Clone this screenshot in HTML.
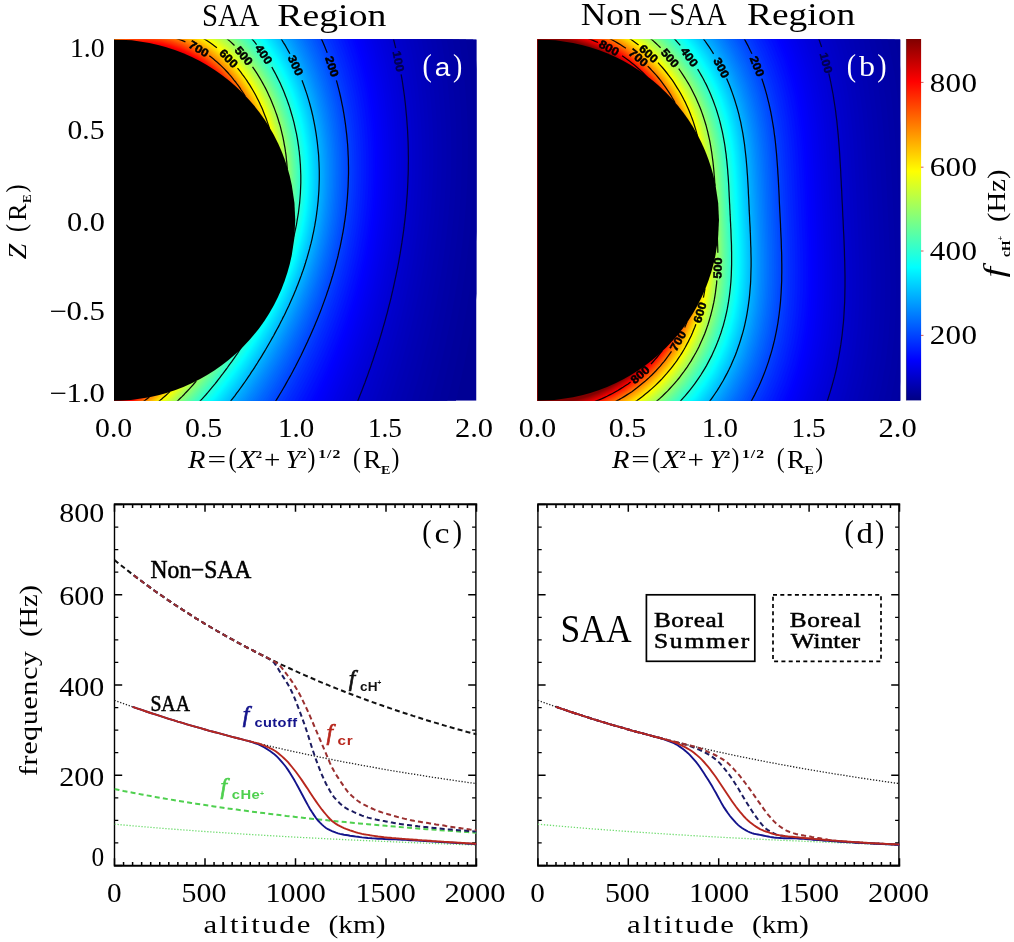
<!DOCTYPE html>
<html lang="en"><head><meta charset="utf-8"><title>Figure</title><style>html,body{margin:0;padding:0;background:#fff}svg{display:block}text{white-space:pre}</style></head><body>
<svg width="1014" height="942" viewBox="0 0 1014 942" style="display:block">
<rect width="1014" height="942" fill="#fff"/>
<defs><linearGradient id="cb" x1="0" y1="0" x2="0" y2="1">
<stop offset="0.0000" stop-color="#800000"/>
<stop offset="0.1173" stop-color="#ff0000"/>
<stop offset="0.3658" stop-color="#ffff00"/>
<stop offset="0.6320" stop-color="#00ffff"/>
<stop offset="0.8882" stop-color="#0000ff"/>
<stop offset="1.0000" stop-color="#000083"/>
</linearGradient></defs>
<clipPath id="ca"><rect x="114.0" y="39.5" width="362.50" height="361.25"/></clipPath>
<g clip-path="url(#ca)">
<rect x="114.0" y="39.5" width="362.50" height="361.25" fill="#000095"/>
<polygon points="114.0,654.8 137.5,666.2 162.0,674.9 187.2,680.7 212.7,683.1 238.2,681.9 263.0,677.1 286.8,668.7 309.2,657.0 329.9,642.4 348.8,625.4 365.8,606.5 381.0,586.3 394.3,565.1 406.1,543.4 416.4,521.5 425.5,499.6 433.5,477.9 440.5,456.5 446.8,435.5 452.4,414.9 457.5,394.5 462.1,374.6 466.2,354.9 470.0,335.4 473.4,316.1 476.5,296.9 479.3,277.8 481.7,258.6 483.8,239.4 485.5,220.1 486.9,200.7 487.9,181.0 488.4,161.0 488.5,140.8 488.1,120.2 487.1,99.3 485.5,78.0 483.3,56.3 480.3,34.1 476.5,11.6 471.7,-11.4 465.9,-34.7 459.0,-58.3 450.7,-82.0 441.1,-105.8 429.8,-129.4 416.9,-152.6 402.1,-175.1 385.4,-196.4 366.7,-216.1 346.1,-233.7 323.5,-248.7 299.1,-260.5 273.3,-268.6 246.5,-272.5 218.9,-271.9 191.4,-266.8 164.3,-257.1 138.4,-243.2 114.0,-225.6 109,-225.6 109,654.8" fill="#000099"/>
<polygon points="114.0,647.2 137.0,657.8 161.0,665.9 185.7,671.1 210.6,673.0 235.4,671.5 259.5,666.4 282.7,658.0 304.4,646.4 324.6,632.0 343.0,615.3 359.5,596.9 374.3,577.2 387.4,556.5 398.9,535.4 409.0,514.1 418.0,492.9 425.9,471.8 432.9,451.0 439.1,430.5 444.8,410.4 449.8,390.7 454.4,371.2 458.6,352.0 462.4,332.9 465.9,314.1 469.0,295.3 471.8,276.6 474.2,257.9 476.3,239.0 478.1,220.1 479.5,201.0 480.5,181.7 481.0,162.2 481.1,142.4 480.7,122.2 479.8,101.7 478.2,80.8 476.0,59.5 473.0,37.8 469.2,15.7 464.5,-6.7 458.8,-29.5 451.9,-52.6 443.8,-75.8 434.2,-99.0 423.2,-122.1 410.4,-144.7 395.9,-166.6 379.5,-187.4 361.2,-206.6 341.0,-223.8 318.9,-238.4 295.1,-249.9 269.8,-257.8 243.5,-261.7 216.7,-261.2 189.7,-256.3 163.3,-247.0 137.9,-233.6 114.0,-216.6 109,-216.6 109,647.2" fill="#00009c"/>
<polygon points="114.0,640.0 136.6,650.0 160.1,657.6 184.3,662.3 208.6,663.8 232.8,661.9 256.3,656.6 278.9,648.1 300.1,636.6 319.7,622.4 337.6,606.1 353.8,588.0 368.2,568.8 381.0,548.7 392.3,528.1 402.3,507.4 411.1,486.7 418.9,466.2 425.8,445.9 432.1,426.0 437.7,406.4 442.8,387.1 447.4,368.0 451.6,349.3 455.4,330.7 458.9,312.2 462.0,293.8 464.8,275.5 467.3,257.1 469.4,238.7 471.2,220.1 472.6,201.4 473.6,182.5 474.2,163.3 474.3,143.8 473.9,124.0 473.0,103.9 471.4,83.4 469.2,62.5 466.3,41.3 462.5,19.6 457.8,-2.4 452.2,-24.7 445.4,-47.3 437.3,-70.0 427.9,-92.7 417.0,-115.3 404.5,-137.4 390.2,-158.7 374.1,-179.0 356.1,-197.8 336.3,-214.6 314.6,-228.9 291.3,-240.1 266.6,-247.9 240.9,-251.7 214.6,-251.3 188.2,-246.6 162.3,-237.7 137.4,-224.7 114.0,-208.3 109,-208.3 109,640.0" fill="#00009f"/>
<polygon points="114.0,633.4 136.2,642.8 159.3,649.8 183.0,654.0 206.8,655.1 230.4,653.0 253.4,647.6 275.3,639.0 296.0,627.5 315.2,613.6 332.6,597.5 348.4,579.8 362.5,561.0 375.1,541.4 386.2,521.3 396.0,501.1 404.7,480.9 412.4,460.9 419.3,441.2 425.5,421.7 431.1,402.6 436.2,383.7 440.8,365.1 445.1,346.8 448.9,328.6 452.4,310.5 455.6,292.5 458.4,274.5 460.9,256.5 463.0,238.4 464.8,220.1 466.2,201.7 467.3,183.1 467.8,164.3 468.0,145.1 467.6,125.7 466.7,105.9 465.1,85.8 462.9,65.3 460.0,44.4 456.3,23.2 451.6,1.6 446.0,-20.3 439.3,-42.4 431.4,-64.6 422.1,-86.9 411.3,-108.9 399.0,-130.6 384.9,-151.5 369.1,-171.3 351.4,-189.7 331.9,-206.1 310.6,-220.0 287.8,-231.1 263.6,-238.7 238.4,-242.5 212.6,-242.2 186.8,-237.7 161.4,-229.0 137.0,-216.5 114.0,-200.6 109,-200.6 109,633.4" fill="#0000a3"/>
<polygon points="114.0,627.2 135.9,636.1 158.6,642.6 181.7,646.4 205.1,647.1 228.2,644.7 250.6,639.1 272.1,630.5 292.3,619.1 311.0,605.4 328.0,589.6 343.5,572.2 357.3,553.8 369.6,534.6 380.5,515.1 390.1,495.3 398.7,475.6 406.4,456.1 413.3,436.8 419.4,417.8 425.0,399.1 430.1,380.6 434.8,362.4 439.0,344.4 442.9,326.6 446.4,308.9 449.5,291.2 452.4,273.5 454.9,255.8 457.1,238.0 458.9,220.1 460.3,202.0 461.3,183.7 461.9,165.2 462.1,146.4 461.7,127.3 460.8,107.8 459.2,88.1 457.1,67.9 454.2,47.4 450.5,26.5 445.9,5.3 440.3,-16.1 433.6,-37.8 425.8,-59.6 416.6,-81.4 406.0,-103.0 393.8,-124.2 380.0,-144.7 364.4,-164.1 347.0,-182.1 327.9,-198.1 307.0,-211.8 284.5,-222.6 260.8,-230.1 236.1,-233.9 210.8,-233.7 185.4,-229.4 160.5,-221.0 136.6,-208.9 114.0,-193.4 109,-193.4 109,627.2" fill="#0000a6"/>
<polygon points="114.0,621.4 135.5,629.8 157.8,635.9 180.6,639.2 203.5,639.7 226.1,637.0 248.1,631.3 269.0,622.6 288.8,611.3 307.0,597.7 323.7,582.2 338.8,565.2 352.4,547.1 364.4,528.3 375.2,509.2 384.7,489.9 393.2,470.7 400.8,451.6 407.6,432.7 413.8,414.1 419.3,395.8 424.4,377.7 429.1,359.9 433.3,342.3 437.2,324.8 440.7,307.4 443.9,290.0 446.8,272.7 449.3,255.2 451.5,237.8 453.3,220.1 454.8,202.3 455.8,184.3 456.4,166.1 456.5,147.6 456.2,128.8 455.3,109.6 453.7,90.2 451.6,70.3 448.7,50.2 445.0,29.7 440.5,8.8 435.0,-12.3 428.4,-33.6 420.6,-55.0 411.5,-76.4 401.0,-97.5 389.0,-118.3 375.4,-138.4 360.0,-157.4 342.9,-175.0 324.1,-190.7 303.5,-204.1 281.5,-214.7 258.2,-222.1 233.9,-225.8 209.1,-225.7 184.2,-221.6 159.7,-213.5 136.2,-201.7 114.0,-186.7 109,-186.7 109,621.4" fill="#0000a9"/>
<polygon points="114.0,615.9 135.2,623.9 157.2,629.5 179.5,632.5 202.0,632.6 224.1,629.8 245.7,623.9 266.2,615.3 285.5,604.0 303.4,590.5 319.7,575.2 334.5,558.5 347.8,540.8 359.7,522.5 370.2,503.7 379.6,484.8 388.0,466.0 395.6,447.3 402.3,428.9 408.4,410.7 414.0,392.7 419.1,375.0 423.7,357.6 428.0,340.2 431.9,323.1 435.4,306.0 438.6,288.9 441.5,271.8 444.1,254.7 446.3,237.5 448.1,220.1 449.5,202.6 450.6,184.9 451.2,166.9 451.3,148.7 451.0,130.1 450.1,111.3 448.6,92.1 446.4,72.6 443.6,52.8 439.9,32.6 435.4,12.1 429.9,-8.6 423.4,-29.6 415.7,-50.6 406.7,-71.6 396.4,-92.4 384.5,-112.8 371.0,-132.4 355.9,-151.1 339.1,-168.4 320.5,-183.8 300.3,-196.9 278.7,-207.4 255.7,-214.6 231.9,-218.3 207.5,-218.2 183.0,-214.3 159.0,-206.4 135.8,-195.0 114.0,-180.4 109,-180.4 109,615.9" fill="#0000ad"/>
<polygon points="114.0,610.8 134.9,618.3 156.6,623.6 178.5,626.2 200.6,626.1 222.3,623.0 243.4,617.0 263.5,608.3 282.4,597.1 300.0,583.8 316.0,568.7 330.5,552.3 343.5,534.9 355.2,516.9 365.6,498.6 374.9,480.1 383.2,461.7 390.6,443.4 397.4,425.3 403.5,407.5 409.0,389.9 414.1,372.5 418.7,355.3 423.0,338.3 426.9,321.4 430.5,304.6 433.7,287.8 436.6,271.0 439.1,254.2 441.3,237.2 443.2,220.1 444.6,202.9 445.7,185.4 446.3,167.7 446.5,149.7 446.1,131.4 445.2,112.9 443.7,94.0 441.6,74.8 438.7,55.2 435.1,35.4 430.6,15.2 425.2,-5.2 418.7,-25.8 411.1,-46.5 402.2,-67.1 392.0,-87.5 380.3,-107.6 367.0,-126.9 352.1,-145.2 335.5,-162.1 317.2,-177.3 297.3,-190.2 276.0,-200.4 253.4,-207.6 230.0,-211.2 206.0,-211.2 181.9,-207.4 158.3,-199.8 135.5,-188.7 114.0,-174.5 109,-174.5 109,610.8" fill="#0000b0"/>
<polygon points="114.0,605.9 134.7,613.1 156.0,617.9 177.6,620.3 199.3,619.8 220.6,616.6 241.3,610.5 261.0,601.8 279.6,590.7 296.7,577.5 312.4,562.6 326.7,546.5 339.5,529.4 351.0,511.7 361.2,493.7 370.4,475.6 378.6,457.6 386.0,439.6 392.7,421.9 398.8,404.4 404.3,387.1 409.4,370.1 414.0,353.2 418.3,336.5 422.2,319.9 425.8,303.4 429.0,286.9 431.9,270.3 434.5,253.7 436.7,237.0 438.5,220.1 440.0,203.1 441.1,185.9 441.7,168.4 441.8,150.7 441.5,132.7 440.6,114.4 439.1,95.7 437.0,76.8 434.2,57.5 430.6,38.0 426.1,18.1 420.7,-2.0 414.3,-22.2 406.8,-42.6 398.0,-62.9 387.9,-83.0 376.3,-102.6 363.1,-121.6 348.4,-139.6 332.0,-156.2 314.0,-171.1 294.5,-183.8 273.5,-193.9 251.3,-200.9 228.2,-204.6 204.6,-204.6 180.9,-200.9 157.6,-193.6 135.2,-182.8 114.0,-168.9 109,-168.9 109,605.9" fill="#0000b3"/>
<polygon points="114.0,601.3 134.4,608.1 155.4,612.6 176.7,614.6 198.0,614.0 219.0,610.5 239.3,604.4 258.6,595.6 276.8,584.6 293.7,571.6 309.1,556.9 323.1,541.0 335.7,524.2 347.0,506.8 357.1,489.2 366.2,471.4 374.3,453.7 381.6,436.1 388.3,418.7 394.3,401.5 399.8,384.6 404.9,367.8 409.6,351.3 413.8,334.8 417.8,318.5 421.3,302.2 424.6,285.9 427.5,269.6 430.1,253.2 432.3,236.7 434.2,220.1 435.6,203.3 436.7,186.3 437.3,169.1 437.5,151.6 437.2,133.8 436.3,115.8 434.8,97.4 432.7,78.7 429.9,59.7 426.3,40.4 421.9,20.9 416.5,1.1 410.2,-18.9 402.7,-38.9 394.0,-58.9 383.9,-78.6 372.5,-98.0 359.5,-116.7 345.0,-134.3 328.8,-150.7 311.1,-165.3 291.8,-177.8 271.1,-187.7 249.2,-194.7 226.5,-198.3 203.3,-198.4 179.9,-194.8 157.0,-187.7 134.9,-177.1 114.0,-163.6 109,-163.6 109,601.3" fill="#0000b6"/>
<polygon points="114.0,596.9 134.2,603.4 154.9,607.6 175.9,609.3 196.8,608.4 217.4,604.8 237.4,598.6 256.4,589.8 274.3,578.8 290.8,565.9 306.0,551.5 319.7,535.8 332.1,519.3 343.2,502.2 353.2,484.9 362.2,467.4 370.2,450.0 377.5,432.8 384.1,415.7 390.1,398.8 395.6,382.2 400.7,365.7 405.3,349.4 409.6,333.2 413.5,317.1 417.1,301.1 420.4,285.0 423.3,268.9 425.9,252.8 428.1,236.5 430.0,220.1 431.5,203.5 432.5,186.8 433.2,169.7 433.4,152.5 433.0,134.9 432.2,117.1 430.7,99.0 428.6,80.5 425.8,61.8 422.2,42.8 417.9,23.5 412.5,4.0 406.2,-15.7 398.8,-35.4 390.2,-55.1 380.2,-74.6 368.9,-93.6 356.1,-112.0 341.7,-129.3 325.8,-145.4 308.3,-159.8 289.2,-172.1 268.8,-181.9 247.3,-188.7 224.9,-192.3 202.0,-192.5 179.0,-189.0 156.4,-182.1 134.6,-171.8 114.0,-158.6 109,-158.6 109,596.9" fill="#0000ba"/>
<polygon points="114.0,592.8 133.9,598.9 154.4,602.8 175.0,604.2 195.7,603.1 216.0,599.4 235.6,593.1 254.3,584.3 271.8,573.4 288.1,560.6 303.0,546.3 316.5,530.9 328.7,514.6 339.7,497.8 349.5,480.8 358.4,463.7 366.4,446.6 373.6,429.6 380.1,412.8 386.1,396.2 391.6,379.9 396.7,363.7 401.3,347.6 405.6,331.7 409.6,315.8 413.1,300.0 416.4,284.2 419.3,268.3 421.9,252.4 424.2,236.3 426.0,220.1 427.5,203.8 428.6,187.2 429.2,170.4 429.4,153.3 429.1,136.0 428.2,118.4 426.8,100.5 424.7,82.3 421.9,63.8 418.4,45.0 414.0,26.0 408.7,6.7 402.5,-12.7 395.1,-32.1 386.6,-51.5 376.7,-70.7 365.5,-89.4 352.8,-107.5 338.7,-124.6 322.9,-140.4 305.6,-154.6 286.8,-166.7 266.7,-176.3 245.5,-183.1 223.4,-186.7 200.8,-186.9 178.2,-183.5 155.9,-176.8 134.3,-166.7 114.0,-153.8 109,-153.8 109,592.8" fill="#0000bd"/>
<polygon points="114.0,588.8 133.7,594.6 153.9,598.2 174.3,599.4 194.6,598.1 214.6,594.2 233.9,587.8 252.3,579.1 269.5,568.2 285.5,555.5 300.1,541.4 313.5,526.2 325.5,510.2 336.3,493.7 346.0,476.9 354.8,460.1 362.7,443.3 369.9,426.6 376.4,410.1 382.4,393.8 387.8,377.7 392.9,361.7 397.5,345.9 401.8,330.2 405.8,314.6 409.4,299.0 412.6,283.4 415.6,267.7 418.2,252.0 420.4,236.1 422.3,220.1 423.8,203.9 424.9,187.6 425.5,171.0 425.7,154.1 425.4,137.0 424.5,119.6 423.1,101.9 421.0,83.9 418.2,65.6 414.7,47.1 410.4,28.3 405.1,9.3 398.9,-9.8 391.6,-29.0 383.1,-48.1 373.4,-67.0 362.3,-85.4 349.8,-103.2 335.7,-120.1 320.1,-135.7 303.1,-149.7 284.5,-161.6 264.7,-171.1 243.7,-177.7 221.9,-181.3 199.7,-181.5 177.3,-178.3 155.3,-171.7 134.1,-161.9 114.0,-149.3 109,-149.3 109,588.8" fill="#0000c0"/>
<polygon points="114.0,585.0 133.5,590.5 153.4,593.8 173.6,594.8 193.6,593.4 213.3,589.3 232.3,582.9 250.3,574.1 267.3,563.3 283.0,550.7 297.4,536.8 310.6,521.8 322.4,506.0 333.1,489.7 342.7,473.3 351.4,456.7 359.2,440.2 366.3,423.8 372.8,407.5 378.8,391.5 384.2,375.6 389.3,359.9 393.9,344.3 398.2,328.8 402.1,313.4 405.7,298.0 409.0,282.6 412.0,267.2 414.6,251.6 416.8,235.9 418.7,220.1 420.2,204.1 421.3,187.9 421.9,171.5 422.1,154.9 421.8,137.9 420.9,120.7 419.5,103.3 417.5,85.5 414.7,67.4 411.2,49.1 406.9,30.6 401.7,11.8 395.5,-7.1 388.3,-26.0 379.9,-44.8 370.2,-63.4 359.2,-81.7 346.8,-99.2 332.9,-115.8 317.5,-131.2 300.6,-144.9 282.3,-156.7 262.7,-166.0 242.1,-172.6 220.6,-176.2 198.6,-176.5 176.5,-173.3 154.8,-166.9 133.8,-157.3 114.0,-144.9 109,-144.9 109,585.0" fill="#0000c4"/>
<polygon points="114.0,581.4 133.3,586.6 153.0,589.7 172.9,590.5 192.6,588.8 212.0,584.7 230.7,578.1 248.5,569.4 265.2,558.6 280.7,546.1 294.9,532.3 307.8,517.5 319.5,502.0 330.0,486.0 339.5,469.7 348.1,453.4 355.9,437.2 363.0,421.0 369.4,405.1 375.3,389.3 380.8,373.6 385.8,358.1 390.5,342.8 394.7,327.5 398.7,312.3 402.3,297.1 405.6,281.9 408.5,266.6 411.1,251.2 413.4,235.8 415.3,220.1 416.8,204.3 417.9,188.3 418.5,172.1 418.7,155.6 418.4,138.8 417.6,121.8 416.1,104.5 414.1,87.0 411.3,69.1 407.9,51.0 403.6,32.7 398.4,14.2 392.3,-4.4 385.1,-23.1 376.7,-41.7 367.2,-60.1 356.3,-78.0 344.0,-95.3 330.3,-111.7 315.0,-126.9 298.3,-140.4 280.3,-152.0 260.9,-161.2 240.5,-167.8 219.2,-171.3 197.6,-171.6 175.8,-168.6 154.3,-162.3 133.6,-152.9 114.0,-140.8 109,-140.8 109,581.4" fill="#0000c7"/>
<polygon points="114.0,577.9 133.1,582.9 152.6,585.7 172.2,586.3 191.7,584.4 210.8,580.2 229.2,573.6 246.8,564.8 263.2,554.1 278.5,541.8 292.4,528.1 305.2,513.5 316.7,498.2 327.1,482.4 336.5,466.4 345.0,450.3 352.7,434.3 359.7,418.4 366.2,402.7 372.1,387.1 377.5,371.7 382.5,356.5 387.1,341.3 391.4,326.3 395.4,311.2 399.0,296.2 402.3,281.2 405.2,266.1 407.8,250.9 410.1,235.6 412.0,220.1 413.5,204.5 414.6,188.6 415.3,172.6 415.4,156.3 415.1,139.7 414.3,122.9 412.9,105.8 410.8,88.4 408.1,70.8 404.7,52.9 400.4,34.8 395.3,16.5 389.2,-1.9 382.0,-20.4 373.8,-38.7 364.3,-56.9 353.5,-74.6 341.3,-91.7 327.7,-107.8 312.6,-122.8 296.1,-136.1 278.3,-147.6 259.1,-156.7 239.0,-163.1 218.0,-166.6 196.6,-167.0 175.1,-164.1 153.9,-157.9 133.4,-148.7 114.0,-136.8 109,-136.8 109,577.9" fill="#0000ca"/>
<polygon points="114.0,574.6 132.9,579.3 152.2,581.9 171.6,582.3 190.8,580.3 209.7,575.9 227.8,569.3 245.1,560.5 261.3,549.8 276.3,537.6 290.1,524.1 302.7,509.6 314.0,494.5 324.3,479.0 333.6,463.2 342.0,447.4 349.7,431.6 356.7,416.0 363.1,400.4 368.9,385.1 374.3,369.9 379.4,354.9 384.0,339.9 388.3,325.0 392.2,310.2 395.8,295.4 399.1,280.5 402.1,265.6 404.7,250.6 407.0,235.4 408.9,220.1 410.4,204.6 411.5,189.0 412.1,173.1 412.3,156.9 412.0,140.5 411.2,123.9 409.8,107.0 407.7,89.8 405.0,72.3 401.6,54.7 397.4,36.7 392.3,18.7 386.2,0.5 379.1,-17.8 370.9,-35.9 361.5,-53.8 350.8,-71.3 338.7,-88.1 325.3,-104.1 310.4,-118.8 294.0,-132.0 276.4,-143.3 257.5,-152.3 237.5,-158.7 216.8,-162.2 195.6,-162.5 174.4,-159.7 153.4,-153.7 133.2,-144.7 114.0,-133.1 109,-133.1 109,574.6" fill="#0000ce"/>
<polygon points="114.0,571.4 132.7,575.8 151.8,578.2 170.9,578.4 190.0,576.3 208.6,571.8 226.5,565.1 243.5,556.4 259.5,545.8 274.3,533.6 287.9,520.2 300.3,505.9 311.5,491.0 321.7,475.7 330.9,460.1 339.2,444.6 346.8,429.0 353.7,413.6 360.1,398.3 365.9,383.2 371.3,368.2 376.3,353.3 381.0,338.6 385.2,323.9 389.2,309.2 392.8,294.6 396.1,279.9 399.1,265.1 401.7,250.3 404.0,235.3 405.9,220.1 407.4,204.8 408.5,189.3 409.1,173.5 409.3,157.6 409.0,141.3 408.2,124.9 406.8,108.1 404.8,91.1 402.1,73.8 398.7,56.3 394.4,38.6 389.4,20.8 383.3,2.8 376.3,-15.2 368.2,-33.2 358.8,-50.8 348.2,-68.1 336.3,-84.8 322.9,-100.5 308.2,-115.0 292.0,-128.1 274.5,-139.2 255.8,-148.1 236.1,-154.4 215.6,-157.9 194.7,-158.3 173.7,-155.5 153.0,-149.7 133.0,-140.9 114.0,-129.4 109,-129.4 109,571.4" fill="#0000d1"/>
<polygon points="114.0,568.3 132.5,572.5 151.4,574.7 170.4,574.7 189.1,572.5 207.5,567.9 225.2,561.2 242.0,552.4 257.7,541.8 272.3,529.8 285.7,516.5 298.0,502.4 309.1,487.7 319.1,472.5 328.2,457.2 336.5,441.8 344.0,426.5 350.9,411.3 357.2,396.2 363.0,381.3 368.4,366.5 373.4,351.9 378.1,337.3 382.3,322.8 386.3,308.3 389.9,293.8 393.2,279.3 396.2,264.7 398.8,250.0 401.1,235.1 403.0,220.1 404.5,205.0 405.6,189.6 406.2,174.0 406.5,158.2 406.2,142.1 405.3,125.8 403.9,109.2 401.9,92.4 399.2,75.3 395.8,58.0 391.6,40.4 386.6,22.8 380.6,5.0 373.6,-12.8 365.5,-30.5 356.3,-48.0 345.7,-65.1 333.9,-81.5 320.7,-97.1 306.1,-111.4 290.1,-124.3 272.8,-135.3 254.3,-144.1 234.8,-150.3 214.5,-153.8 193.8,-154.2 173.1,-151.6 152.6,-145.8 132.8,-137.2 114.0,-126.0 109,-126.0 109,568.3" fill="#0000d4"/>
<polygon points="114.0,565.4 132.4,569.4 151.0,571.3 169.8,571.2 188.4,568.8 206.5,564.1 223.9,557.3 240.5,548.6 256.0,538.1 270.4,526.1 283.7,513.0 295.7,499.0 306.7,484.5 316.7,469.5 325.7,454.4 333.9,439.2 341.4,424.1 348.2,409.1 354.5,394.2 360.3,379.5 365.7,364.9 370.6,350.4 375.3,336.0 379.5,321.7 383.5,307.4 387.1,293.1 390.4,278.7 393.4,264.2 396.0,249.7 398.3,235.0 400.2,220.1 401.7,205.1 402.8,189.9 403.5,174.4 403.7,158.8 403.4,142.8 402.6,126.7 401.2,110.3 399.2,93.6 396.5,76.7 393.1,59.5 388.9,42.2 383.9,24.7 378.0,7.1 371.0,-10.5 363.0,-28.0 353.8,-45.3 343.4,-62.2 331.6,-78.4 318.5,-93.7 304.1,-107.9 288.2,-120.6 271.1,-131.5 252.8,-140.2 233.5,-146.4 213.5,-149.8 193.0,-150.3 172.5,-147.7 152.2,-142.1 132.6,-133.6 114.0,-122.6 109,-122.6 109,565.4" fill="#0000d8"/>
<polygon points="114.0,562.5 132.2,566.3 150.7,568.1 169.3,567.8 187.6,565.2 205.5,560.5 222.8,553.7 239.1,544.9 254.4,534.5 268.6,522.6 281.7,509.6 293.6,495.8 304.5,481.4 314.3,466.6 323.2,451.7 331.4,436.7 338.8,421.8 345.6,407.0 351.9,392.3 357.6,377.8 363.0,363.4 368.0,349.1 372.6,334.9 376.9,320.7 380.8,306.5 384.4,292.3 387.7,278.1 390.7,263.8 393.3,249.4 395.6,234.8 397.5,220.1 399.0,205.2 400.1,190.2 400.8,174.9 401.0,159.3 400.7,143.6 399.9,127.5 398.5,111.3 396.5,94.8 393.9,78.0 390.5,61.0 386.4,43.9 381.4,26.5 375.5,9.1 368.5,-8.3 360.6,-25.6 351.4,-42.7 341.1,-59.3 329.4,-75.4 316.5,-90.6 302.1,-104.6 286.4,-117.1 269.5,-127.9 251.4,-136.5 232.3,-142.6 212.5,-146.0 192.2,-146.5 171.9,-144.0 151.8,-138.5 132.4,-130.2 114.0,-119.4 109,-119.4 109,562.5" fill="#0000db"/>
<polygon points="114.0,559.8 132.0,563.3 150.4,565.0 168.7,564.5 186.9,561.8 204.6,557.0 221.6,550.1 237.7,541.4 252.9,531.0 266.9,519.2 279.8,506.3 291.6,492.6 302.3,478.4 312.0,463.8 320.9,449.1 329.0,434.3 336.3,419.6 343.1,405.0 349.3,390.5 355.1,376.1 360.4,361.9 365.4,347.8 370.0,333.7 374.3,319.7 378.2,305.7 381.8,291.6 385.1,277.6 388.1,263.4 390.7,249.1 393.0,234.7 394.9,220.1 396.5,205.4 397.6,190.4 398.2,175.3 398.5,159.9 398.2,144.2 397.4,128.4 396.0,112.3 394.0,95.9 391.3,79.3 388.0,62.5 383.9,45.5 378.9,28.3 373.0,11.1 366.2,-6.1 358.2,-23.3 349.2,-40.2 338.9,-56.6 327.3,-72.5 314.5,-87.5 300.3,-101.4 284.7,-113.8 267.9,-124.4 250.0,-132.9 231.1,-139.0 211.5,-142.4 191.4,-142.9 171.3,-140.5 151.5,-135.1 132.3,-126.9 114.0,-116.3 109,-116.3 109,559.8" fill="#0000de"/>
<polygon points="114.0,557.1 131.9,560.5 150.1,561.9 168.2,561.3 186.2,558.5 203.7,553.6 220.5,546.7 236.4,538.0 251.4,527.6 265.2,515.9 278.0,503.2 289.6,489.6 300.2,475.6 309.9,461.2 318.6,446.6 326.6,432.0 334.0,417.5 340.7,403.1 346.9,388.7 352.6,374.6 357.9,360.5 362.9,346.5 367.5,332.6 371.8,318.7 375.7,304.9 379.3,291.0 382.6,277.0 385.6,263.0 388.3,248.9 390.5,234.6 392.4,220.1 394.0,205.5 395.1,190.7 395.8,175.7 396.0,160.4 395.7,144.9 394.9,129.2 393.5,113.2 391.5,97.0 388.9,80.5 385.6,63.9 381.5,47.0 376.5,30.1 370.7,13.0 363.8,-4.1 356.0,-21.0 347.0,-37.7 336.8,-54.0 325.3,-69.7 312.5,-84.6 298.5,-98.3 283.1,-110.5 266.4,-121.0 248.7,-129.5 229.9,-135.5 210.5,-138.9 190.7,-139.4 170.8,-137.0 151.1,-131.8 132.1,-123.7 114.0,-113.3 109,-113.3 109,557.1" fill="#0000e2"/>
<polygon points="114.0,554.5 131.8,557.7 149.7,559.0 167.7,558.2 185.5,555.4 202.8,550.4 219.4,543.5 235.2,534.7 249.9,524.4 263.6,512.8 276.2,500.1 287.7,486.7 298.2,472.8 307.8,458.6 316.5,444.2 324.4,429.8 331.7,415.4 338.4,401.2 344.5,387.0 350.2,373.0 355.6,359.1 360.5,345.3 365.1,331.5 369.4,317.8 373.3,304.1 376.9,290.3 380.2,276.5 383.2,262.6 385.9,248.6 388.1,234.4 390.0,220.1 391.6,205.6 392.7,190.9 393.4,176.0 393.6,160.9 393.3,145.5 392.5,129.9 391.1,114.1 389.2,98.0 386.5,81.7 383.2,65.2 379.1,48.5 374.2,31.7 368.4,14.8 361.6,-2.1 353.8,-18.8 344.9,-35.4 334.7,-51.5 323.4,-67.0 310.7,-81.7 296.7,-95.3 281.5,-107.4 265.0,-117.8 247.4,-126.1 228.8,-132.1 209.6,-135.5 190.0,-136.0 170.2,-133.7 150.8,-128.6 131.9,-120.7 114.0,-110.4 109,-110.4 109,554.5" fill="#0000e5"/>
<polygon points="114.0,552.1 131.6,555.1 149.4,556.2 167.3,555.3 184.9,552.3 202.0,547.3 218.4,540.3 234.0,531.6 248.6,521.3 262.1,509.7 274.5,497.2 285.9,483.9 296.3,470.2 305.7,456.1 314.4,441.9 322.2,427.6 329.5,413.5 336.1,399.4 342.3,385.4 348.0,371.5 353.3,357.8 358.2,344.1 362.8,330.5 367.0,316.9 371.0,303.3 374.6,289.7 377.9,276.0 380.9,262.3 383.5,248.4 385.8,234.3 387.7,220.1 389.3,205.7 390.4,191.2 391.0,176.4 391.3,161.4 391.0,146.2 390.2,130.7 388.8,115.0 386.9,99.1 384.3,82.9 381.0,66.5 376.9,50.0 372.0,33.3 366.2,16.6 359.5,-0.1 351.7,-16.7 342.8,-33.1 332.8,-49.1 321.5,-64.4 308.9,-79.0 295.0,-92.4 279.9,-104.4 263.6,-114.7 246.1,-122.9 227.8,-128.9 208.7,-132.2 189.3,-132.8 169.7,-130.5 150.4,-125.5 131.8,-117.7 114.0,-107.6 109,-107.6 109,552.1" fill="#0000e8"/>
<polygon points="114.0,549.7 131.5,552.5 149.2,553.5 166.8,552.4 184.2,549.3 201.1,544.3 217.4,537.2 232.8,528.5 247.2,518.3 260.6,506.8 272.9,494.4 284.2,481.2 294.4,467.6 303.8,453.7 312.3,439.6 320.2,425.6 327.3,411.5 333.9,397.6 340.1,383.8 345.7,370.1 351.0,356.5 356.0,343.0 360.5,329.5 364.8,316.1 368.7,302.6 372.4,289.1 375.7,275.6 378.6,261.9 381.3,248.1 383.6,234.2 385.5,220.1 387.0,205.9 388.1,191.4 388.8,176.7 389.0,161.9 388.8,146.8 388.0,131.4 386.6,115.8 384.7,100.0 382.1,84.0 378.8,67.8 374.7,51.4 369.8,34.9 364.1,18.3 357.4,1.7 349.7,-14.7 340.8,-30.9 330.8,-46.7 319.6,-61.9 307.2,-76.3 293.4,-89.6 278.4,-101.5 262.2,-111.6 244.9,-119.8 226.8,-125.7 207.9,-129.0 188.6,-129.6 169.2,-127.4 150.1,-122.5 131.6,-114.9 114.0,-104.9 109,-104.9 109,549.7" fill="#0000ec"/>
<polygon points="114.0,547.3 131.3,550.0 148.9,550.8 166.4,549.7 183.6,546.5 200.4,541.3 216.4,534.3 231.7,525.6 245.9,515.4 259.1,504.0 271.3,491.7 282.5,478.6 292.6,465.1 301.9,451.4 310.4,437.5 318.1,423.6 325.3,409.7 331.9,395.9 337.9,382.3 343.6,368.7 348.9,355.3 353.8,341.9 358.4,328.6 362.6,315.2 366.6,301.9 370.2,288.5 373.5,275.1 376.5,261.6 379.1,247.9 381.4,234.1 383.3,220.1 384.8,206.0 386.0,191.6 386.6,177.1 386.9,162.3 386.6,147.3 385.8,132.1 384.5,116.7 382.5,101.0 379.9,85.1 376.6,69.0 372.6,52.8 367.8,36.4 362.0,20.0 355.4,3.6 347.7,-12.7 338.9,-28.8 329.0,-44.5 317.9,-59.5 305.5,-73.7 291.9,-86.9 277.0,-98.6 260.9,-108.7 243.8,-116.8 225.8,-122.7 207.1,-126.0 188.0,-126.6 168.8,-124.5 149.8,-119.6 131.5,-112.1 114.0,-102.3 109,-102.3 109,547.3" fill="#0000ef"/>
<polygon points="114.0,545.1 131.2,547.6 148.6,548.3 165.9,547.0 183.0,543.7 199.6,538.5 215.5,531.4 230.6,522.7 244.7,512.6 257.7,501.3 269.8,489.0 280.8,476.1 290.9,462.8 300.1,449.1 308.5,435.4 316.2,421.6 323.3,407.9 329.8,394.3 335.9,380.8 341.5,367.4 346.8,354.1 351.7,340.8 356.3,327.6 360.5,314.4 364.5,301.2 368.1,288.0 371.4,274.6 374.4,261.2 377.0,247.7 379.3,234.0 381.2,220.1 382.7,206.1 383.9,191.9 384.5,177.4 384.8,162.8 384.5,147.9 383.7,132.8 382.4,117.5 380.4,101.9 377.9,86.1 374.6,70.2 370.6,54.1 365.7,37.9 360.0,21.6 353.4,5.3 345.8,-10.8 337.1,-26.8 327.2,-42.3 316.2,-57.2 303.9,-71.2 290.3,-84.3 275.6,-95.9 259.7,-105.9 242.7,-113.9 224.8,-119.7 206.3,-123.0 187.3,-123.7 168.3,-121.6 149.5,-116.8 131.3,-109.4 114.0,-99.7 109,-99.7 109,545.1" fill="#0000f2"/>
<polygon points="114.0,542.9 131.1,545.2 148.3,545.8 165.5,544.4 182.4,541.0 198.9,535.8 214.6,528.7 229.5,520.0 243.4,509.9 256.4,498.6 268.3,486.5 279.2,473.7 289.2,460.4 298.3,447.0 306.7,433.4 314.3,419.7 321.4,406.2 327.9,392.7 333.9,379.4 339.5,366.1 344.8,352.9 349.7,339.8 354.2,326.7 358.5,313.7 362.4,300.6 366.0,287.4 369.3,274.2 372.3,260.9 375.0,247.5 377.2,233.9 379.2,220.1 380.7,206.2 381.8,192.1 382.5,177.7 382.7,163.2 382.5,148.4 381.7,133.4 380.4,118.2 378.4,102.8 375.9,87.2 372.6,71.3 368.6,55.4 363.8,39.3 358.1,23.1 351.5,7.0 343.9,-9.0 335.3,-24.8 325.5,-40.1 314.5,-54.9 302.3,-68.8 288.9,-81.7 274.2,-93.3 258.4,-103.1 241.6,-111.1 223.9,-116.8 205.5,-120.1 186.7,-120.8 167.9,-118.8 149.2,-114.1 131.2,-106.8 114.0,-97.3 109,-97.3 109,542.9" fill="#0000f6"/>
<polygon points="114.0,540.7 131.0,543.0 148.1,543.4 165.1,541.9 181.9,538.4 198.2,533.1 213.7,526.0 228.5,517.3 242.3,507.2 255.1,496.0 266.9,484.0 277.7,471.3 287.6,458.2 296.6,444.9 304.9,431.4 312.5,417.9 319.5,404.5 326.0,391.2 332.0,378.0 337.6,364.8 342.8,351.8 347.7,338.8 352.3,325.8 356.5,312.9 360.4,299.9 364.1,286.9 367.4,273.8 370.3,260.6 373.0,247.3 375.3,233.8 377.2,220.1 378.7,206.3 379.8,192.3 380.5,178.1 380.8,163.6 380.5,149.0 379.7,134.1 378.4,119.0 376.5,103.7 373.9,88.2 370.7,72.5 366.7,56.6 361.9,40.6 356.2,24.6 349.7,8.6 342.1,-7.2 333.5,-22.8 323.8,-38.0 312.9,-52.7 300.8,-66.5 287.4,-79.3 272.9,-90.7 257.2,-100.5 240.5,-108.4 223.0,-114.1 204.7,-117.3 186.1,-118.0 167.4,-116.0 149.0,-111.4 131.1,-104.3 114.0,-94.9 109,-94.9 109,540.7" fill="#0000f9"/>
<polygon points="114.0,538.7 130.9,540.8 147.8,541.0 164.7,539.4 181.4,535.9 197.5,530.5 212.9,523.4 227.5,514.7 241.1,504.7 253.8,493.6 265.5,481.6 276.2,469.0 286.0,456.0 295.0,442.8 303.2,429.5 310.7,416.2 317.7,402.9 324.1,389.7 330.1,376.6 335.7,363.6 340.9,350.7 345.8,337.8 350.4,325.0 354.6,312.2 358.5,299.3 362.1,286.4 365.4,273.4 368.4,260.3 371.1,247.0 373.3,233.7 375.3,220.1 376.8,206.4 377.9,192.5 378.6,178.4 378.8,164.0 378.6,149.5 377.8,134.7 376.5,119.7 374.6,104.5 372.0,89.1 368.8,73.5 364.8,57.8 360.0,42.0 354.4,26.1 347.9,10.2 340.4,-5.5 331.8,-21.0 322.2,-36.0 311.3,-50.5 299.3,-64.2 286.1,-76.9 271.6,-88.2 256.1,-97.9 239.5,-105.7 222.1,-111.4 204.0,-114.6 185.6,-115.3 167.0,-113.4 148.7,-108.9 130.9,-101.8 114.0,-92.6 109,-92.6 109,538.7" fill="#0000fc"/>
<polygon points="114.0,536.7 130.7,538.6 147.6,538.8 164.4,537.1 180.8,533.5 196.8,528.0 212.1,520.9 226.5,512.2 240.0,502.2 252.6,491.2 264.1,479.3 274.7,466.8 284.5,453.9 293.4,440.8 301.5,427.7 309.0,414.5 315.9,401.3 322.3,388.3 328.3,375.3 333.9,362.4 339.1,349.6 344.0,336.9 348.5,324.2 352.7,311.4 356.7,298.7 360.3,285.9 363.6,273.0 366.6,260.0 369.2,246.9 371.5,233.6 373.4,220.1 374.9,206.5 376.1,192.7 376.7,178.7 377.0,164.4 376.7,150.0 376.0,135.3 374.6,120.4 372.7,105.3 370.2,90.0 367.0,74.6 363.0,59.0 358.3,43.3 352.7,27.5 346.2,11.8 338.7,-3.8 330.2,-19.1 320.6,-34.1 309.8,-48.5 297.9,-62.0 284.7,-74.6 270.4,-85.8 255.0,-95.4 238.5,-103.2 221.2,-108.8 203.3,-112.0 185.0,-112.7 166.6,-110.9 148.4,-106.4 130.8,-99.5 114.0,-90.3 109,-90.3 109,536.7" fill="#0001ff"/>
<polygon points="114.0,534.7 130.6,536.5 147.4,536.6 164.0,534.7 180.3,531.1 196.1,525.6 211.3,518.4 225.6,509.8 239.0,499.8 251.4,488.8 262.8,477.0 273.3,464.6 283.0,451.9 291.8,438.9 299.9,425.9 307.3,412.8 314.2,399.8 320.6,386.9 326.6,374.0 332.1,361.3 337.3,348.6 342.2,336.0 346.7,323.4 350.9,310.8 354.8,298.1 358.5,285.4 361.8,272.6 364.7,259.7 367.4,246.7 369.7,233.5 371.6,220.1 373.1,206.6 374.2,192.9 374.9,178.9 375.2,164.8 374.9,150.5 374.2,135.9 372.8,121.1 370.9,106.1 368.4,91.0 365.2,75.6 361.2,60.1 356.5,44.5 351.0,28.9 344.5,13.3 337.1,-2.2 328.6,-17.4 319.0,-32.2 308.3,-46.4 296.5,-59.9 283.4,-72.3 269.2,-83.4 253.9,-93.0 237.6,-100.7 220.4,-106.2 202.6,-109.5 184.5,-110.2 166.2,-108.4 148.2,-104.0 130.7,-97.1 114.0,-88.1 109,-88.1 109,534.7" fill="#0004ff"/>
<polygon points="114.0,532.8 130.5,534.5 147.1,534.4 163.6,532.5 179.8,528.8 195.5,523.2 210.5,516.1 224.7,507.4 237.9,497.5 250.2,486.5 261.6,474.8 272.0,462.6 281.5,449.9 290.3,437.1 298.3,424.1 305.7,411.2 312.6,398.3 318.9,385.5 324.9,372.8 330.4,360.2 335.6,347.6 340.4,335.1 344.9,322.6 349.2,310.1 353.1,297.5 356.7,284.9 360.0,272.2 363.0,259.4 365.6,246.5 367.9,233.4 369.8,220.1 371.4,206.7 372.5,193.1 373.2,179.2 373.4,165.2 373.2,150.9 372.4,136.5 371.1,121.8 369.2,106.9 366.7,91.8 363.5,76.6 359.5,61.2 354.8,45.8 349.3,30.2 342.9,14.8 335.5,-0.6 327.0,-15.7 317.5,-30.4 306.9,-44.5 295.1,-57.8 282.1,-70.1 268.0,-81.1 252.8,-90.6 236.6,-98.2 219.6,-103.8 202.0,-107.0 183.9,-107.7 165.8,-105.9 147.9,-101.6 130.6,-94.9 114.0,-86.0 109,-86.0 109,532.8" fill="#0008ff"/>
<polygon points="114.0,531.0 130.4,532.5 146.9,532.3 163.3,530.3 179.3,526.5 194.9,520.9 209.7,513.7 223.8,505.1 236.9,495.2 249.1,484.3 260.3,472.7 270.7,460.5 280.1,448.0 288.8,435.3 296.8,422.4 304.2,409.6 311.0,396.9 317.3,384.2 323.2,371.6 328.7,359.1 333.9,346.6 338.7,334.2 343.2,321.8 347.5,309.4 351.4,297.0 355.0,284.5 358.3,271.9 361.3,259.2 363.9,246.3 366.2,233.3 368.1,220.1 369.6,206.8 370.8,193.2 371.5,179.5 371.7,165.5 371.5,151.4 370.7,137.0 369.4,122.4 367.5,107.7 365.0,92.7 361.8,77.6 357.9,62.3 353.2,46.9 347.7,31.5 341.3,16.2 333.9,1.0 325.5,-14.0 316.1,-28.6 305.5,-42.6 293.8,-55.8 280.9,-68.0 266.9,-78.9 251.8,-88.3 235.7,-95.9 218.8,-101.4 201.3,-104.6 183.4,-105.4 165.4,-103.6 147.7,-99.3 130.5,-92.7 114.0,-83.9 109,-83.9 109,531.0" fill="#000cff"/>
<polygon points="114.0,528.0 130.3,529.3 146.6,529.0 162.7,526.8 178.6,522.9 193.9,517.2 208.5,510.0 222.3,501.4 235.3,491.6 247.3,480.8 258.4,469.3 268.5,457.3 277.9,444.9 286.4,432.3 294.3,419.7 301.6,407.1 308.4,394.5 314.7,382.1 320.5,369.7 326.0,357.3 331.2,345.1 336.0,332.8 340.5,320.6 344.7,308.4 348.6,296.1 352.2,283.7 355.5,271.3 358.5,258.7 361.1,246.0 363.4,233.2 365.3,220.1 366.9,206.9 368.0,193.5 368.7,179.9 368.9,166.1 368.7,152.1 367.9,137.9 366.6,123.5 364.8,108.9 362.3,94.1 359.1,79.1 355.2,64.0 350.5,48.9 345.1,33.7 338.7,18.5 331.4,3.5 323.1,-11.3 313.7,-25.7 303.3,-39.5 291.7,-52.5 278.9,-64.6 265.1,-75.4 250.1,-84.6 234.3,-92.1 217.6,-97.5 200.3,-100.7 182.6,-101.5 164.8,-99.8 147.3,-95.7 130.3,-89.2 114.0,-80.6 109,-80.6 109,528.0" fill="#0012ff"/>
<polygon points="114.0,525.1 130.1,526.3 146.2,525.7 162.2,523.5 177.8,519.4 192.9,513.7 207.4,506.5 221.0,497.9 233.7,488.1 245.5,477.4 256.5,466.0 266.5,454.1 275.7,441.9 284.2,429.6 292.0,417.1 299.2,404.7 305.9,392.3 312.2,380.0 318.0,367.8 323.5,355.7 328.6,343.6 333.4,331.5 337.9,319.5 342.1,307.4 346.0,295.2 349.6,283.0 352.9,270.7 355.9,258.3 358.5,245.7 360.8,233.0 362.7,220.1 364.2,207.1 365.4,193.8 366.1,180.3 366.3,166.7 366.1,152.8 365.3,138.8 364.0,124.5 362.1,110.0 359.7,95.4 356.5,80.6 352.6,65.7 348.0,50.7 342.6,35.7 336.3,20.7 329.0,5.8 320.8,-8.7 311.5,-22.9 301.1,-36.6 289.7,-49.4 277.0,-61.3 263.3,-71.9 248.6,-81.1 232.9,-88.5 216.4,-93.8 199.3,-97.0 181.8,-97.8 164.3,-96.2 146.9,-92.2 130.1,-85.8 114.0,-77.4 109,-77.4 109,525.1" fill="#0018ff"/>
<polygon points="114.0,522.4 129.9,523.3 145.9,522.7 161.7,520.2 177.1,516.1 192.0,510.3 206.3,503.1 219.7,494.5 232.2,484.8 243.9,474.2 254.7,462.9 264.6,451.2 273.7,439.1 282.0,426.9 289.8,414.7 296.9,402.4 303.6,390.2 309.8,378.1 315.6,366.1 321.0,354.1 326.1,342.2 330.9,330.2 335.4,318.3 339.6,306.4 343.5,294.4 347.1,282.4 350.3,270.2 353.3,257.9 356.0,245.5 358.2,232.9 360.2,220.1 361.7,207.2 362.8,194.1 363.5,180.7 363.8,167.2 363.5,153.5 362.8,139.6 361.5,125.4 359.6,111.1 357.2,96.7 354.0,82.0 350.2,67.3 345.6,52.4 340.2,37.6 333.9,22.8 326.7,8.1 318.6,-6.3 309.4,-20.3 299.1,-33.7 287.7,-46.4 275.2,-58.2 261.7,-68.7 247.1,-77.7 231.5,-85.0 215.2,-90.3 198.3,-93.5 181.1,-94.3 163.7,-92.7 146.6,-88.8 129.9,-82.6 114.0,-74.4 109,-74.4 109,522.4" fill="#001eff"/>
<polygon points="114.0,519.7 129.8,520.5 145.6,519.7 161.2,517.1 176.5,512.9 191.2,507.1 205.2,499.8 218.4,491.2 230.8,481.6 242.3,471.1 252.9,459.9 262.7,448.3 271.7,436.4 280.0,424.4 287.6,412.3 294.7,400.2 301.3,388.2 307.4,376.2 313.2,364.4 318.6,352.6 323.7,340.8 328.5,329.0 333.0,317.3 337.1,305.5 341.0,293.6 344.6,281.7 347.9,269.7 350.9,257.5 353.5,245.2 355.8,232.8 357.7,220.1 359.3,207.3 360.4,194.3 361.1,181.1 361.3,167.7 361.1,154.1 360.4,140.4 359.1,126.4 357.2,112.2 354.8,97.9 351.6,83.4 347.8,68.8 343.3,54.1 337.9,39.4 331.7,24.8 324.5,10.3 316.4,-3.9 307.3,-17.8 297.1,-31.0 285.8,-43.6 273.5,-55.2 260.0,-65.5 245.6,-74.4 230.2,-81.7 214.1,-86.9 197.4,-90.1 180.3,-90.9 163.2,-89.4 146.2,-85.6 129.8,-79.5 114.0,-71.4 109,-71.4 109,519.7" fill="#0024ff"/>
<polygon points="114.0,517.2 129.7,517.8 145.3,516.8 160.7,514.2 175.8,509.9 190.3,504.0 204.2,496.7 217.2,488.1 229.4,478.5 240.8,468.1 251.3,457.0 260.9,445.6 269.8,433.8 278.0,421.9 285.6,410.0 292.6,398.1 299.1,386.2 305.2,374.5 311.0,362.7 316.4,351.1 321.4,339.5 326.2,327.9 330.6,316.2 334.8,304.6 338.7,292.9 342.3,281.1 345.6,269.2 348.5,257.1 351.2,245.0 353.5,232.6 355.4,220.1 356.9,207.4 358.0,194.6 358.7,181.5 359.0,168.2 358.8,154.8 358.0,141.1 356.8,127.3 354.9,113.2 352.5,99.0 349.4,84.7 345.6,70.3 341.0,55.8 335.7,41.2 329.5,26.8 322.4,12.4 314.4,-1.6 305.3,-15.3 295.2,-28.4 284.1,-40.8 271.8,-52.3 258.5,-62.5 244.2,-71.3 229.0,-78.5 213.1,-83.7 196.5,-86.8 179.6,-87.7 162.7,-86.2 145.9,-82.5 129.6,-76.5 114.0,-68.6 109,-68.6 109,517.2" fill="#0029ff"/>
<polygon points="114.0,514.7 129.5,515.2 145.0,514.1 160.3,511.3 175.2,506.9 189.5,501.0 203.2,493.7 216.1,485.1 228.1,475.6 239.3,465.2 249.7,454.3 259.2,442.9 268.0,431.3 276.1,419.6 283.6,407.8 290.5,396.1 297.0,384.4 303.1,372.7 308.8,361.2 314.2,349.7 319.2,338.2 324.0,326.7 328.4,315.3 332.6,303.7 336.5,292.2 340.1,280.5 343.3,268.7 346.3,256.8 348.9,244.7 351.2,232.5 353.1,220.1 354.7,207.6 355.8,194.8 356.5,181.9 356.7,168.7 356.5,155.4 355.8,141.8 354.5,128.1 352.7,114.2 350.2,100.2 347.2,86.0 343.4,71.7 338.9,57.3 333.6,42.9 327.4,28.6 320.4,14.5 312.4,0.6 303.4,-13.0 293.4,-25.9 282.3,-38.2 270.2,-49.5 257.0,-59.6 242.9,-68.3 227.8,-75.4 212.0,-80.5 195.7,-83.6 179.0,-84.5 162.2,-83.1 145.6,-79.5 129.4,-73.7 114.0,-65.9 109,-65.9 109,514.7" fill="#002fff"/>
<polygon points="114.0,512.3 129.4,512.7 144.7,511.4 159.8,508.6 174.6,504.1 188.7,498.1 202.2,490.8 215.0,482.3 226.9,472.8 237.9,462.5 248.1,451.6 257.6,440.4 266.2,428.9 274.3,417.3 281.7,405.7 288.6,394.1 295.0,382.6 301.1,371.1 306.7,359.7 312.1,348.3 317.1,337.0 321.8,325.7 326.3,314.3 330.4,302.9 334.3,291.5 337.9,279.9 341.2,268.2 344.1,256.4 346.7,244.5 349.0,232.4 350.9,220.1 352.5,207.7 353.6,195.0 354.3,182.2 354.6,169.2 354.3,155.9 353.6,142.5 352.4,128.9 350.5,115.2 348.1,101.3 345.0,87.2 341.3,73.0 336.8,58.8 331.5,44.6 325.4,30.4 318.4,16.4 310.5,2.7 301.6,-10.7 291.6,-23.5 280.7,-35.6 268.6,-46.8 255.6,-56.8 241.6,-65.4 226.7,-72.4 211.1,-77.5 194.9,-80.6 178.3,-81.5 161.7,-80.2 145.3,-76.6 129.3,-70.9 114.0,-63.3 109,-63.3 109,512.3" fill="#0035ff"/>
<polygon points="114.0,510.1 129.3,510.3 144.5,508.9 159.4,505.9 174.0,501.4 188.0,495.3 201.3,488.0 213.9,479.5 225.7,470.0 236.6,459.8 246.7,449.1 256.0,438.0 264.6,426.6 272.5,415.2 279.9,403.7 286.7,392.2 293.1,380.8 299.1,369.5 304.7,358.2 310.1,347.0 315.1,335.8 319.8,324.6 324.2,313.4 328.4,302.1 332.2,290.8 335.8,279.4 339.1,267.8 342.0,256.1 344.7,244.3 346.9,232.3 348.8,220.1 350.4,207.8 351.5,195.2 352.2,182.5 352.5,169.6 352.2,156.5 351.5,143.2 350.3,129.7 348.5,116.1 346.0,102.3 343.0,88.4 339.2,74.4 334.8,60.3 329.5,46.2 323.5,32.2 316.5,18.3 308.7,4.7 299.8,-8.5 290.0,-21.2 279.1,-33.2 267.2,-44.2 254.2,-54.1 240.3,-62.6 225.6,-69.6 210.1,-74.6 194.1,-77.7 177.7,-78.6 161.3,-77.3 145.0,-73.8 129.2,-68.2 114.0,-60.7 109,-60.7 109,510.1" fill="#003bff"/>
<polygon points="114.0,507.8 129.1,507.9 144.2,506.4 159.0,503.3 173.4,498.7 187.3,492.7 200.5,485.3 212.9,476.8 224.5,467.4 235.3,457.3 245.2,446.6 254.4,435.6 262.9,424.4 270.8,413.1 278.1,401.7 284.9,390.4 291.2,379.2 297.2,368.0 302.8,356.8 308.1,345.7 313.1,334.7 317.8,323.6 322.2,312.5 326.4,301.4 330.2,290.1 333.8,278.8 337.1,267.4 340.0,255.8 342.6,244.1 344.9,232.2 346.8,220.1 348.4,207.9 349.5,195.5 350.2,182.8 350.4,170.0 350.2,157.0 349.5,143.9 348.3,130.5 346.5,117.0 344.0,103.3 341.0,89.5 337.3,75.6 332.8,61.7 327.6,47.7 321.6,33.8 314.7,20.1 306.9,6.6 298.1,-6.4 288.3,-19.0 277.5,-30.8 265.7,-41.7 252.9,-51.5 239.1,-60.0 224.5,-66.8 209.2,-71.8 193.3,-74.9 177.1,-75.8 160.8,-74.6 144.7,-71.1 129.0,-65.7 114.0,-58.3 109,-58.3 109,507.8" fill="#0041ff"/>
<polygon points="114.0,505.7 129.0,505.6 143.9,504.0 158.6,500.9 172.9,496.2 186.6,490.1 199.6,482.7 211.9,474.3 223.4,464.9 234.0,454.8 243.9,444.3 253.0,433.4 261.4,422.3 269.2,411.1 276.4,399.9 283.1,388.7 289.4,377.6 295.4,366.5 301.0,355.5 306.2,344.5 311.2,333.6 315.9,322.6 320.3,311.7 324.4,300.6 328.3,289.5 331.8,278.3 335.1,267.0 338.1,255.5 340.7,243.9 343.0,232.1 344.9,220.1 346.4,208.0 347.5,195.7 348.2,183.2 348.5,170.5 348.3,157.6 347.6,144.5 346.3,131.3 344.5,117.8 342.1,104.3 339.1,90.6 335.4,76.8 331.0,63.0 325.8,49.2 319.8,35.5 312.9,21.9 305.2,8.5 296.5,-4.4 286.7,-16.8 276.0,-28.5 264.3,-39.3 251.6,-49.0 238.0,-57.4 223.5,-64.1 208.3,-69.1 192.6,-72.2 176.5,-73.1 160.4,-71.9 144.4,-68.6 128.9,-63.2 114.0,-56.0 109,-56.0 109,505.7" fill="#0046ff"/>
<polygon points="114.0,503.6 128.9,503.5 143.7,501.7 158.2,498.5 172.4,493.7 185.9,487.6 198.8,480.2 210.9,471.8 222.3,462.5 232.8,452.5 242.5,442.0 251.5,431.2 259.9,420.2 267.6,409.1 274.8,398.0 281.4,387.0 287.7,376.0 293.6,365.1 299.2,354.2 304.4,343.3 309.4,332.5 314.0,321.7 318.4,310.8 322.6,299.9 326.4,288.9 330.0,277.8 333.2,266.6 336.2,255.2 338.8,243.7 341.1,232.0 343.0,220.1 344.5,208.1 345.6,195.9 346.3,183.5 346.6,170.9 346.4,158.1 345.7,145.1 344.4,132.0 342.6,118.7 340.3,105.2 337.2,91.7 333.6,78.0 329.2,64.3 324.0,50.7 318.0,37.0 311.2,23.6 303.5,10.4 294.9,-2.4 285.2,-14.7 274.6,-26.3 263.0,-37.0 250.4,-46.6 236.9,-54.9 222.5,-61.6 207.5,-66.5 191.9,-69.5 176.0,-70.5 160.0,-69.3 144.2,-66.1 128.8,-60.8 114.0,-53.7 109,-53.7 109,503.6" fill="#004cff"/>
<polygon points="114.0,501.6 128.8,501.3 143.5,499.5 157.9,496.2 171.8,491.3 185.3,485.2 198.0,477.8 210.0,469.4 221.2,460.1 231.6,450.2 241.3,439.8 250.2,429.1 258.4,418.2 266.1,407.2 273.2,396.3 279.8,385.4 286.0,374.5 291.9,363.7 297.4,352.9 302.6,342.2 307.6,331.5 312.2,320.8 316.6,310.0 320.8,299.2 324.6,288.3 328.1,277.3 331.4,266.2 334.3,254.9 337.0,243.5 339.2,231.9 341.1,220.1 342.7,208.2 343.8,196.1 344.5,183.7 344.8,171.2 344.6,158.6 343.9,145.7 342.6,132.7 340.8,119.5 338.5,106.2 335.5,92.7 331.8,79.2 327.4,65.6 322.3,52.0 316.4,38.6 309.6,25.2 301.9,12.1 293.3,-0.6 283.8,-12.7 273.2,-24.2 261.7,-34.8 249.2,-44.3 235.8,-52.4 221.5,-59.1 206.6,-64.0 191.2,-67.0 175.4,-68.0 159.6,-66.8 143.9,-63.6 128.7,-58.5 114.0,-51.5 109,-51.5 109,501.6" fill="#0052ff"/>
<polygon points="114.0,499.7 128.7,499.3 143.2,497.3 157.5,493.9 171.4,489.0 184.6,482.8 197.2,475.4 209.1,467.0 220.2,457.8 230.5,448.0 240.0,437.6 248.8,427.0 257.0,416.3 264.6,405.4 271.6,394.6 278.2,383.8 284.4,373.0 290.2,362.4 295.7,351.7 300.9,341.1 305.9,330.5 310.5,319.9 314.9,309.3 319.0,298.5 322.8,287.7 326.4,276.8 329.6,265.8 332.6,254.6 335.2,243.3 337.5,231.8 339.4,220.1 340.9,208.3 342.0,196.2 342.7,184.0 343.0,171.6 342.8,159.0 342.1,146.3 340.9,133.3 339.1,120.3 336.7,107.0 333.7,93.7 330.1,80.3 325.7,66.8 320.6,53.4 314.7,40.0 308.0,26.8 300.4,13.9 291.8,1.3 282.3,-10.8 271.9,-22.1 260.4,-32.6 248.0,-42.0 234.7,-50.1 220.6,-56.7 205.8,-61.5 190.5,-64.5 174.9,-65.5 159.2,-64.4 143.7,-61.3 128.5,-56.2 114.0,-49.3 109,-49.3 109,499.7" fill="#0058ff"/>
<polygon points="114.0,497.8 128.6,497.3 143.0,495.2 157.2,491.7 170.9,486.8 184.0,480.6 196.5,473.2 208.2,464.8 219.2,455.6 229.4,445.8 238.8,435.6 247.6,425.1 255.6,414.4 263.2,403.7 270.1,392.9 276.7,382.3 282.8,371.6 288.6,361.1 294.1,350.5 299.3,340.0 304.2,329.6 308.8,319.1 313.2,308.5 317.3,297.9 321.1,287.2 324.7,276.4 327.9,265.4 330.9,254.4 333.5,243.1 335.7,231.7 337.6,220.1 339.2,208.4 340.3,196.4 341.0,184.3 341.3,172.0 341.1,159.5 340.4,146.8 339.1,134.0 337.4,121.0 335.0,107.9 332.0,94.7 328.4,81.4 324.1,68.0 319.0,54.7 313.1,41.4 306.4,28.4 298.9,15.5 290.4,3.1 280.9,-8.9 270.6,-20.1 259.2,-30.5 246.9,-39.8 233.7,-47.8 219.7,-54.3 205.1,-59.2 189.9,-62.1 174.4,-63.1 158.9,-62.1 143.4,-59.0 128.4,-54.0 114.0,-47.3 109,-47.3 109,497.8" fill="#005eff"/>
<polygon points="114.0,496.0 128.5,495.3 142.8,493.2 156.8,489.6 170.4,484.6 183.4,478.4 195.8,471.0 207.4,462.6 218.3,453.5 228.3,443.7 237.7,433.6 246.3,423.2 254.3,412.6 261.8,402.0 268.7,391.4 275.2,380.8 281.3,370.3 287.1,359.8 292.5,349.4 297.7,339.0 302.6,328.6 307.2,318.2 311.6,307.8 315.7,297.3 319.5,286.7 323.0,275.9 326.3,265.1 329.2,254.1 331.8,242.9 334.1,231.6 336.0,220.1 337.5,208.5 338.6,196.6 339.3,184.6 339.6,172.3 339.4,159.9 338.7,147.4 337.5,134.6 335.7,121.7 333.4,108.7 330.4,95.6 326.8,82.4 322.5,69.2 317.4,56.0 311.6,42.8 304.9,29.8 297.4,17.1 289.0,4.8 279.6,-7.0 269.3,-18.2 258.0,-28.4 245.8,-37.7 232.7,-45.6 218.9,-52.1 204.3,-56.9 189.3,-59.8 173.9,-60.8 158.5,-59.8 143.2,-56.8 128.3,-51.9 114.0,-45.3 109,-45.3 109,496.0" fill="#0064ff"/>
<polygon points="114.0,494.2 128.4,493.4 142.6,491.2 156.5,487.6 170.0,482.6 182.9,476.3 195.1,468.9 206.6,460.5 217.3,451.4 227.3,441.7 236.5,431.6 245.1,421.3 253.0,410.8 260.4,400.3 267.3,389.8 273.8,379.4 279.9,368.9 285.6,358.6 291.0,348.3 296.2,338.0 301.0,327.7 305.6,317.4 310.0,307.1 314.1,296.7 317.9,286.1 321.4,275.5 324.7,264.7 327.6,253.8 330.2,242.8 332.5,231.5 334.4,220.1 335.9,208.5 337.0,196.8 337.7,184.8 338.0,172.7 337.8,160.4 337.1,147.9 335.9,135.2 334.1,122.5 331.8,109.5 328.8,96.5 325.2,83.4 320.9,70.3 315.9,57.2 310.1,44.2 303.5,31.3 296.0,18.7 287.6,6.5 278.3,-5.2 268.1,-16.3 256.9,-26.5 244.7,-35.6 231.8,-43.5 218.0,-49.9 203.6,-54.6 188.7,-57.6 173.5,-58.6 158.1,-57.6 143.0,-54.7 128.2,-49.9 114.0,-43.3 109,-43.3 109,494.2" fill="#0069ff"/>
<polygon points="114.0,492.5 128.3,491.6 142.4,489.3 156.2,485.6 169.5,480.5 182.3,474.2 194.4,466.8 205.8,458.5 216.4,449.4 226.3,439.8 235.5,429.8 243.9,419.5 251.8,409.1 259.1,398.7 266.0,388.3 272.4,378.0 278.4,367.7 284.1,357.4 289.5,347.2 294.7,337.0 299.5,326.9 304.1,316.7 308.5,306.4 312.5,296.1 316.3,285.6 319.9,275.1 323.1,264.4 326.0,253.6 328.6,242.6 330.9,231.5 332.8,220.1 334.3,208.6 335.4,196.9 336.1,185.1 336.4,173.0 336.2,160.8 335.5,148.4 334.3,135.8 332.6,123.2 330.2,110.3 327.3,97.4 323.7,84.4 319.4,71.4 314.4,58.4 308.7,45.5 302.1,32.7 294.6,20.2 286.3,8.1 277.0,-3.5 266.9,-14.5 255.7,-24.5 243.7,-33.6 230.8,-41.4 217.2,-47.8 202.9,-52.5 188.1,-55.4 173.0,-56.4 157.8,-55.5 142.8,-52.6 128.1,-47.9 114.0,-41.4 109,-41.4 109,492.5" fill="#006fff"/>
<polygon points="114.0,490.8 128.2,489.8 142.2,487.4 155.9,483.7 169.1,478.5 181.8,472.2 193.8,464.8 205.0,456.5 215.6,447.4 225.3,437.9 234.4,427.9 242.8,417.8 250.6,407.5 257.9,397.2 264.7,386.9 271.0,376.6 277.0,366.4 282.7,356.3 288.1,346.2 293.2,336.1 298.0,326.0 302.6,315.9 307.0,305.7 311.0,295.5 314.8,285.2 318.3,274.7 321.6,264.1 324.5,253.3 327.1,242.4 329.4,231.4 331.3,220.1 332.8,208.7 333.9,197.1 334.6,185.3 334.9,173.3 334.7,161.2 334.0,148.9 332.8,136.4 331.0,123.8 328.7,111.1 325.8,98.3 322.2,85.4 318.0,72.4 313.0,59.5 307.2,46.7 300.7,34.1 293.3,21.7 285.0,9.7 275.8,-1.8 265.7,-12.7 254.7,-22.7 242.7,-31.6 229.9,-39.4 216.4,-45.7 202.2,-50.4 187.5,-53.3 172.5,-54.3 157.5,-53.4 142.6,-50.6 128.0,-45.9 114.0,-39.6 109,-39.6 109,490.8" fill="#0075ff"/>
<polygon points="114.0,489.1 128.1,488.1 142.0,485.6 155.6,481.8 168.7,476.6 181.3,470.2 193.1,462.8 204.3,454.5 214.7,445.5 224.4,436.0 233.4,426.2 241.7,416.1 249.4,405.9 256.6,395.7 263.4,385.5 269.7,375.3 275.7,365.2 281.3,355.2 286.7,345.2 291.8,335.2 296.6,325.2 301.2,315.2 305.5,305.1 309.6,294.9 313.4,284.7 316.9,274.3 320.1,263.8 323.0,253.1 325.6,242.3 327.9,231.3 329.8,220.1 331.3,208.8 332.4,197.2 333.1,185.5 333.4,173.7 333.2,161.6 332.5,149.4 331.3,137.0 329.6,124.5 327.3,111.8 324.3,99.1 320.8,86.3 316.5,73.5 311.6,60.7 305.9,48.0 299.4,35.4 292.0,23.1 283.8,11.2 274.6,-0.2 264.6,-10.9 253.6,-20.9 241.8,-29.7 229.1,-37.4 215.6,-43.7 201.5,-48.3 187.0,-51.3 172.1,-52.3 157.2,-51.4 142.3,-48.6 127.9,-44.0 114.0,-37.8 109,-37.8 109,489.1" fill="#007bff"/>
<polygon points="114.0,487.6 128.0,486.4 141.8,483.9 155.3,480.0 168.3,474.7 180.7,468.3 192.5,460.9 203.6,452.7 213.9,443.7 223.5,434.2 232.4,424.4 240.6,414.4 248.3,404.3 255.5,394.2 262.1,384.1 268.4,374.0 274.4,364.0 280.0,354.1 285.3,344.2 290.4,334.3 295.2,324.4 299.8,314.5 304.1,304.5 308.1,294.4 311.9,284.2 315.4,273.9 318.7,263.5 321.6,252.9 324.2,242.1 326.4,231.2 328.3,220.1 329.8,208.9 331.0,197.4 331.7,185.8 331.9,174.0 331.7,162.0 331.1,149.8 329.9,137.5 328.1,125.1 325.8,112.6 322.9,99.9 319.4,87.2 315.2,74.5 310.2,61.8 304.5,49.2 298.1,36.7 290.7,24.5 282.6,12.7 273.5,1.4 263.5,-9.3 252.6,-19.1 240.8,-27.9 228.2,-35.5 214.9,-41.7 200.9,-46.4 186.4,-49.3 171.7,-50.3 156.8,-49.5 142.1,-46.7 127.8,-42.2 114.0,-36.0 109,-36.0 109,487.6" fill="#0081ff"/>
<polygon points="114.0,486.0 127.9,484.8 141.6,482.2 155.0,478.2 167.9,472.9 180.2,466.5 191.9,459.1 202.9,450.8 213.1,441.9 222.6,432.5 231.4,422.8 239.6,412.8 247.2,402.8 254.3,392.8 260.9,382.8 267.2,372.8 273.1,362.9 278.7,353.0 284.0,343.2 289.1,333.4 293.9,323.6 298.4,313.8 302.7,303.9 306.8,293.9 310.5,283.8 314.0,273.5 317.3,263.2 320.2,252.7 322.8,242.0 325.0,231.1 326.9,220.1 328.4,208.9 329.6,197.5 330.3,186.0 330.5,174.3 330.3,162.4 329.7,150.3 328.5,138.1 326.7,125.7 324.5,113.3 321.6,100.7 318.0,88.1 313.8,75.4 308.9,62.8 303.2,50.3 296.8,38.0 289.5,25.9 281.4,14.2 272.3,2.9 262.4,-7.6 251.6,-17.4 239.9,-26.1 227.4,-33.7 214.1,-39.8 200.3,-44.4 185.9,-47.3 171.3,-48.4 156.5,-47.6 142.0,-44.9 127.7,-40.4 114.0,-34.3 109,-34.3 109,486.0" fill="#0086ff"/>
<polygon points="114.0,484.5 127.8,483.2 141.5,480.5 154.7,476.4 167.5,471.1 179.8,464.7 191.3,457.3 202.2,449.1 212.3,440.2 221.7,430.8 230.5,421.1 238.6,411.3 246.1,401.4 253.2,391.4 259.8,381.5 266.0,371.6 271.9,361.8 277.4,352.0 282.7,342.3 287.8,332.6 292.6,322.9 297.1,313.1 301.4,303.3 305.4,293.3 309.2,283.3 312.7,273.2 315.9,262.9 318.8,252.5 321.4,241.8 323.6,231.1 325.5,220.1 327.1,209.0 328.2,197.7 328.9,186.2 329.2,174.6 329.0,162.7 328.3,150.7 327.1,138.6 325.4,126.3 323.1,114.0 320.2,101.5 316.7,88.9 312.5,76.4 307.6,63.9 302.0,51.5 295.6,39.2 288.3,27.2 280.2,15.6 271.2,4.4 261.4,-6.0 250.6,-15.7 239.0,-24.4 226.6,-31.9 213.4,-38.0 199.6,-42.5 185.4,-45.4 170.9,-46.5 156.2,-45.7 141.8,-43.1 127.6,-38.7 114.0,-32.7 109,-32.7 109,484.5" fill="#008cff"/>
<polygon points="114.0,483.0 127.8,481.6 141.3,478.8 154.5,474.8 167.2,469.4 179.3,463.0 190.8,455.5 201.5,447.3 211.6,438.5 220.9,429.2 229.5,419.6 237.6,409.8 245.1,399.9 252.1,390.0 258.6,380.2 264.8,370.4 270.7,360.7 276.2,351.0 281.5,341.4 286.5,331.8 291.3,322.1 295.8,312.4 300.1,302.7 304.1,292.8 307.9,282.9 311.4,272.8 314.6,262.6 317.5,252.2 320.1,241.7 322.3,231.0 324.2,220.1 325.7,209.1 326.8,197.8 327.5,186.4 327.8,174.8 327.6,163.1 327.0,151.2 325.8,139.1 324.1,126.9 321.8,114.6 318.9,102.2 315.4,89.8 311.2,77.3 306.4,64.9 300.7,52.6 294.4,40.4 287.2,28.5 279.1,16.9 270.2,5.9 260.4,-4.5 249.7,-14.1 238.1,-22.7 225.8,-30.1 212.7,-36.2 199.0,-40.7 184.9,-43.6 170.5,-44.7 156.0,-43.9 141.6,-41.3 127.5,-37.0 114.0,-31.1 109,-31.1 109,483.0" fill="#0092ff"/>
<polygon points="114.0,481.6 127.7,480.1 141.1,477.3 154.2,473.1 166.8,467.7 178.8,461.3 190.2,453.8 200.9,445.6 210.8,436.8 220.1,427.6 228.7,418.0 236.6,408.3 244.1,398.5 251.0,388.7 257.5,379.0 263.7,369.3 269.5,359.7 275.0,350.1 280.3,340.5 285.3,331.0 290.0,321.4 294.5,311.8 298.8,302.1 302.8,292.4 306.6,282.5 310.1,272.5 313.3,262.3 316.2,252.0 318.8,241.6 321.0,230.9 322.9,220.1 324.4,209.1 325.5,198.0 326.2,186.6 326.5,175.1 326.3,163.4 325.7,151.6 324.5,139.6 322.8,127.5 320.5,115.3 317.6,103.0 314.1,90.6 310.0,78.2 305.1,65.9 299.5,53.6 293.2,41.6 286.0,29.7 278.0,18.3 269.1,7.3 259.4,-3.0 248.8,-12.5 237.3,-21.0 225.0,-28.4 212.0,-34.4 198.5,-38.9 184.4,-41.8 170.1,-42.9 155.7,-42.1 141.4,-39.6 127.4,-35.3 114.0,-29.5 109,-29.5 109,481.6" fill="#0098ff"/>
<polygon points="114.0,480.2 127.6,478.6 141.0,475.7 154.0,471.5 166.5,466.1 178.4,459.6 189.7,452.2 200.2,444.0 210.1,435.2 219.3,426.0 227.8,416.5 235.7,406.9 243.1,397.2 250.0,387.5 256.5,377.8 262.6,368.2 268.4,358.6 273.8,349.1 279.1,339.6 284.1,330.2 288.8,320.7 293.3,311.2 297.6,301.6 301.6,291.9 305.3,282.1 308.8,272.1 312.0,262.1 314.9,251.8 317.5,241.4 319.7,230.9 321.6,220.1 323.1,209.2 324.2,198.1 325.0,186.8 325.2,175.4 325.0,163.8 324.4,152.0 323.2,140.1 321.5,128.1 319.2,115.9 316.4,103.7 312.9,91.4 308.8,79.1 303.9,66.8 298.4,54.7 292.0,42.7 284.9,31.0 276.9,19.6 268.1,8.7 258.4,-1.5 247.9,-10.9 236.5,-19.4 224.3,-26.7 211.4,-32.7 197.9,-37.2 183.9,-40.0 169.7,-41.1 155.4,-40.4 141.2,-37.9 127.4,-33.7 114.0,-28.0 109,-28.0 109,480.2" fill="#009eff"/>
<polygon points="114.0,478.8 127.5,477.1 140.8,474.2 153.7,469.9 166.1,464.5 178.0,458.0 189.1,450.6 199.6,442.4 209.4,433.6 218.5,424.5 226.9,415.1 234.8,405.5 242.1,395.8 249.0,386.2 255.4,376.6 261.5,367.1 267.2,357.6 272.7,348.2 277.9,338.8 282.9,329.4 287.6,320.0 292.1,310.6 296.4,301.0 300.4,291.4 304.1,281.7 307.6,271.8 310.8,261.8 313.7,251.6 316.2,241.3 318.5,230.8 320.4,220.1 321.9,209.3 323.0,198.2 323.7,187.0 324.0,175.6 323.8,164.1 323.1,152.4 322.0,140.6 320.3,128.6 318.0,116.5 315.2,104.4 311.7,92.2 307.6,80.0 302.8,67.8 297.2,55.7 290.9,43.8 283.8,32.2 275.9,20.9 267.1,10.1 257.5,-0.1 247.0,-9.4 235.7,-17.8 223.6,-25.1 210.7,-31.0 197.3,-35.5 183.5,-38.3 169.4,-39.4 155.1,-38.7 141.0,-36.3 127.3,-32.2 114.0,-26.5 109,-26.5 109,478.8" fill="#00a4ff"/>
<polygon points="114.0,477.4 127.4,475.7 140.6,472.7 153.5,468.4 165.8,462.9 177.5,456.4 188.6,449.0 199.0,440.8 208.7,432.1 217.7,423.0 226.1,413.6 233.9,404.1 241.2,394.6 248.0,385.0 254.4,375.5 260.4,366.0 266.2,356.7 271.6,347.3 276.8,338.0 281.7,328.7 286.5,319.3 290.9,310.0 295.2,300.5 299.2,291.0 302.9,281.3 306.4,271.5 309.6,261.6 312.5,251.5 315.0,241.2 317.3,230.7 319.2,220.1 320.7,209.3 321.8,198.4 322.5,187.2 322.8,175.9 322.6,164.4 321.9,152.8 320.8,141.0 319.1,129.1 316.8,117.1 314.0,105.1 310.5,92.9 306.4,80.8 301.6,68.7 296.1,56.7 289.8,44.9 282.8,33.3 274.9,22.1 266.2,11.4 256.6,1.3 246.1,-7.9 234.9,-16.3 222.8,-23.5 210.1,-29.4 196.8,-33.8 183.0,-36.6 169.0,-37.8 154.9,-37.1 140.9,-34.7 127.2,-30.6 114.0,-25.0 109,-25.0 109,477.4" fill="#00a9ff"/>
<polygon points="114.0,476.1 127.4,474.3 140.5,471.3 153.2,466.9 165.5,461.4 177.1,454.9 188.1,447.4 198.4,439.3 208.0,430.6 217.0,421.6 225.3,412.2 233.0,402.8 240.3,393.3 247.0,383.8 253.4,374.4 259.4,365.0 265.1,355.7 270.5,346.4 275.7,337.2 280.6,328.0 285.3,318.7 289.8,309.4 294.0,300.0 298.0,290.5 301.8,280.9 305.2,271.2 308.4,261.3 311.3,251.3 313.9,241.1 316.1,230.7 318.0,220.1 319.5,209.4 320.6,198.5 321.3,187.4 321.6,176.2 321.4,164.7 320.7,153.2 319.6,141.5 317.9,129.7 315.7,117.7 312.8,105.7 309.4,93.7 305.3,81.6 300.5,69.6 295.0,57.7 288.8,45.9 281.7,34.5 273.9,23.4 265.2,12.7 255.7,2.7 245.3,-6.5 234.1,-14.8 222.1,-21.9 209.5,-27.8 196.3,-32.2 182.6,-35.0 168.7,-36.1 154.6,-35.5 140.7,-33.1 127.1,-29.1 114.0,-23.6 109,-23.6 109,476.1" fill="#00afff"/>
<polygon points="114.0,474.8 127.3,473.0 140.3,469.8 153.0,465.5 165.1,459.9 176.7,453.4 187.6,445.9 197.9,437.8 207.4,429.2 216.3,420.1 224.5,410.9 232.2,401.5 239.4,392.1 246.1,382.7 252.4,373.3 258.4,364.0 264.1,354.8 269.5,345.6 274.6,336.4 279.5,327.3 284.2,318.1 288.7,308.8 292.9,299.5 296.9,290.1 300.6,280.6 304.1,270.9 307.3,261.1 310.1,251.1 312.7,240.9 314.9,230.6 316.8,220.1 318.3,209.5 319.4,198.6 320.1,187.6 320.4,176.4 320.2,165.1 319.6,153.6 318.4,141.9 316.8,130.2 314.5,118.3 311.7,106.4 308.3,94.4 304.2,82.4 299.4,70.5 294.0,58.6 287.7,47.0 280.7,35.6 272.9,24.5 264.3,14.0 254.8,4.1 244.5,-5.1 233.4,-13.3 221.5,-20.4 208.9,-26.3 195.8,-30.6 182.2,-33.4 168.3,-34.6 154.4,-33.9 140.6,-31.6 127.0,-27.7 114.0,-22.2 109,-22.2 109,474.8" fill="#00b5ff"/>
<polygon points="114.0,473.6 127.2,471.7 140.2,468.5 152.8,464.0 164.8,458.5 176.3,451.9 187.1,444.5 197.3,436.4 206.8,427.8 215.6,418.8 223.7,409.6 231.4,400.2 238.5,390.9 245.2,381.5 251.4,372.2 257.4,363.0 263.0,353.9 268.4,344.7 273.6,335.7 278.5,326.6 283.1,317.4 287.6,308.3 291.8,299.0 295.8,289.7 299.5,280.2 303.0,270.6 306.1,260.8 309.0,250.9 311.6,240.8 313.8,230.6 315.7,220.1 317.2,209.5 318.3,198.7 319.0,187.8 319.3,176.6 319.1,165.4 318.5,153.9 317.3,142.4 315.6,130.7 313.4,118.9 310.6,107.0 307.2,95.1 303.1,83.2 298.4,71.3 292.9,59.6 286.7,48.0 279.8,36.7 272.0,25.7 263.4,15.2 253.9,5.4 243.7,-3.7 232.6,-11.9 220.8,-18.9 208.3,-24.7 195.3,-29.1 181.8,-31.9 168.0,-33.0 154.1,-32.4 140.4,-30.1 127.0,-26.2 114.0,-20.8 109,-20.8 109,473.6" fill="#00bbff"/>
<polygon points="114.0,472.3 127.2,470.4 140.0,467.1 152.5,462.6 164.5,457.0 175.9,450.5 186.7,443.0 196.8,435.0 206.1,426.4 214.9,417.4 223.0,408.3 230.6,399.0 237.6,389.7 244.3,380.4 250.5,371.2 256.4,362.1 262.1,353.0 267.4,343.9 272.5,334.9 277.4,325.9 282.1,316.8 286.5,307.7 290.7,298.5 294.7,289.2 298.4,279.8 301.9,270.3 305.0,260.6 307.9,250.7 310.5,240.7 312.7,230.5 314.6,220.1 316.1,209.6 317.2,198.8 317.9,187.9 318.2,176.9 318.0,165.7 317.3,154.3 316.2,142.8 314.5,131.2 312.3,119.4 309.5,107.6 306.1,95.8 302.1,84.0 297.3,72.2 291.9,60.5 285.7,49.0 278.8,37.7 271.1,26.8 262.5,16.4 253.1,6.6 242.9,-2.4 231.9,-10.5 220.2,-17.5 207.7,-23.2 194.8,-27.6 181.3,-30.4 167.7,-31.5 153.9,-30.9 140.2,-28.7 126.9,-24.8 114.0,-19.5 109,-19.5 109,472.3" fill="#00c1ff"/>
<polygon points="114.0,471.1 127.1,469.1 139.9,465.8 152.3,461.3 164.2,455.7 175.6,449.1 186.2,441.6 196.2,433.6 205.5,425.0 214.2,416.1 222.3,407.0 229.8,397.8 236.8,388.6 243.4,379.4 249.6,370.2 255.5,361.1 261.1,352.1 266.4,343.1 271.5,334.2 276.4,325.2 281.1,316.2 285.5,307.2 289.7,298.1 293.6,288.8 297.3,279.5 300.8,270.0 304.0,260.4 306.8,250.6 309.4,240.6 311.6,230.4 313.5,220.1 315.0,209.6 316.1,199.0 316.8,188.1 317.1,177.1 316.9,165.9 316.3,154.6 315.1,143.2 313.5,131.6 311.2,120.0 308.5,108.2 305.1,96.5 301.0,84.7 296.3,73.0 290.9,61.4 284.8,49.9 277.9,38.8 270.2,28.0 261.6,17.6 252.3,7.9 242.2,-1.1 231.2,-9.1 219.5,-16.1 207.2,-21.8 194.3,-26.1 180.9,-28.9 167.4,-30.0 153.7,-29.5 140.1,-27.3 126.8,-23.5 114.0,-18.2 109,-18.2 109,471.1" fill="#00c7ff"/>
<polygon points="114.0,470.0 127.0,467.9 139.8,464.5 152.1,459.9 163.9,454.3 175.2,447.7 185.8,440.3 195.7,432.2 204.9,423.7 213.5,414.8 221.5,405.8 229.0,396.6 236.0,387.4 242.5,378.3 248.7,369.2 254.6,360.2 260.1,351.3 265.5,342.4 270.5,333.5 275.4,324.6 280.0,315.7 284.5,306.7 288.7,297.6 292.6,288.4 296.3,279.2 299.7,269.7 302.9,260.1 305.8,250.4 308.3,240.5 310.6,230.4 312.4,220.1 313.9,209.7 315.0,199.1 315.7,188.3 316.0,177.3 315.9,166.2 315.2,155.0 314.1,143.6 312.4,132.1 310.2,120.5 307.4,108.8 304.0,97.1 300.0,85.4 295.3,73.8 289.9,62.3 283.8,50.9 276.9,39.8 269.3,29.0 260.8,18.8 251.5,9.1 241.4,0.2 230.5,-7.8 218.9,-14.7 206.6,-20.4 193.8,-24.7 180.6,-27.4 167.0,-28.6 153.4,-28.0 139.9,-25.9 126.7,-22.1 114.0,-16.9 109,-16.9 109,470.0" fill="#00ccff"/>
<polygon points="114.0,468.8 127.0,466.6 139.6,463.2 151.9,458.6 163.7,453.0 174.8,446.3 185.3,438.9 195.2,430.9 204.4,422.4 212.9,413.6 220.8,404.6 228.3,395.5 235.2,386.3 241.7,377.3 247.8,368.3 253.7,359.3 259.2,350.4 264.5,341.6 269.6,332.8 274.4,324.0 279.1,315.1 283.5,306.2 287.6,297.2 291.6,288.1 295.3,278.8 298.7,269.5 301.9,259.9 304.7,250.2 307.3,240.4 309.5,230.3 311.4,220.1 312.9,209.7 314.0,199.2 314.7,188.4 315.0,177.6 314.8,166.5 314.2,155.3 313.0,144.0 311.4,132.6 309.2,121.0 306.4,109.4 303.0,97.8 299.0,86.2 294.3,74.6 289.0,63.1 282.9,51.8 276.0,40.8 268.4,30.1 260.0,19.9 250.7,10.3 240.7,1.5 229.9,-6.5 218.3,-13.3 206.1,-19.0 193.3,-23.2 180.2,-26.0 166.7,-27.1 153.2,-26.7 139.8,-24.5 126.7,-20.8 114.0,-15.7 109,-15.7 109,468.8" fill="#00d2ff"/>
<polygon points="114.0,467.7 126.9,465.4 139.5,462.0 151.7,457.4 163.4,451.7 174.5,445.0 184.9,437.6 194.7,429.6 203.8,421.1 212.3,412.3 220.2,403.4 227.5,394.3 234.4,385.3 240.9,376.3 247.0,367.3 252.8,358.4 258.3,349.6 263.6,340.9 268.6,332.1 273.5,323.3 278.1,314.5 282.5,305.7 286.7,296.7 290.6,287.7 294.3,278.5 297.7,269.2 300.9,259.7 303.7,250.1 306.3,240.3 308.5,230.3 310.4,220.1 311.9,209.8 313.0,199.3 313.7,188.6 314.0,177.8 313.8,166.8 313.2,155.6 312.0,144.4 310.4,133.0 308.2,121.5 305.4,110.0 302.0,98.4 298.1,86.9 293.4,75.4 288.0,64.0 282.0,52.7 275.2,41.8 267.6,31.2 259.2,21.0 250.0,11.5 240.0,2.7 229.2,-5.2 217.7,-12.0 205.6,-17.6 192.9,-21.9 179.8,-24.6 166.4,-25.8 153.0,-25.3 139.7,-23.2 126.6,-19.5 114.0,-14.4 109,-14.4 109,467.7" fill="#00d8ff"/>
<polygon points="114.0,466.6 126.8,464.3 139.4,460.8 151.5,456.1 163.1,450.4 174.1,443.7 184.5,436.3 194.2,428.3 203.2,419.9 211.7,411.1 219.5,402.2 226.8,393.2 233.6,384.2 240.1,375.3 246.2,366.4 251.9,357.6 257.4,348.8 262.7,340.1 267.7,331.4 272.5,322.7 277.1,314.0 281.5,305.2 285.7,296.3 289.6,287.3 293.3,278.2 296.7,268.9 299.9,259.5 302.7,249.9 305.3,240.2 307.5,230.2 309.4,220.1 310.9,209.8 312.0,199.4 312.7,188.8 313.0,178.0 312.8,167.0 312.2,156.0 311.0,144.8 309.4,133.4 307.2,122.0 304.4,110.6 301.1,99.1 297.1,87.6 292.5,76.1 287.1,64.8 281.1,53.6 274.3,42.7 266.7,32.2 258.4,22.1 249.2,12.6 239.3,3.9 228.6,-3.9 217.1,-10.7 205.1,-16.3 192.5,-20.5 179.4,-23.2 166.2,-24.4 152.8,-23.9 139.5,-21.9 126.5,-18.3 114.0,-13.2 109,-13.2 109,466.6" fill="#00deff"/>
<polygon points="114.0,465.5 126.8,463.1 139.3,459.6 151.3,454.9 162.8,449.1 173.8,442.5 184.1,435.1 193.7,427.1 202.7,418.7 211.1,409.9 218.8,401.1 226.1,392.1 232.9,383.2 239.3,374.3 245.3,365.5 251.1,356.7 256.6,348.1 261.8,339.4 266.8,330.8 271.6,322.1 276.2,313.5 280.6,304.7 284.8,295.9 288.7,286.9 292.4,277.9 295.8,268.7 298.9,259.3 301.8,249.8 304.3,240.1 306.5,230.2 308.4,220.1 309.9,209.9 311.0,199.5 311.7,188.9 312.0,178.2 311.8,167.3 311.2,156.3 310.1,145.1 308.4,133.9 306.2,122.5 303.5,111.1 300.1,99.7 296.2,88.2 291.5,76.8 286.2,65.6 280.2,54.5 273.4,43.7 265.9,33.2 257.6,23.2 248.5,13.8 238.6,5.1 227.9,-2.7 216.6,-9.4 204.6,-15.0 192.0,-19.2 179.1,-21.9 165.9,-23.1 152.6,-22.6 139.4,-20.6 126.5,-17.0 114.0,-12.1 109,-12.1 109,465.5" fill="#00e4ff"/>
<polygon points="114.0,464.4 126.7,462.0 139.1,458.4 151.1,453.7 162.6,447.9 173.5,441.2 183.7,433.8 193.2,425.9 202.2,417.5 210.5,408.8 218.2,400.0 225.4,391.1 232.2,382.2 238.5,373.4 244.5,364.6 250.3,355.9 255.7,347.3 260.9,338.7 265.9,330.1 270.7,321.6 275.3,312.9 279.7,304.3 283.8,295.5 287.7,286.6 291.4,277.6 294.8,268.4 298.0,259.1 300.8,249.6 303.4,240.0 305.6,230.1 307.4,220.1 308.9,209.9 310.0,199.6 310.7,189.1 311.0,178.4 310.9,167.6 310.2,156.6 309.1,145.5 307.5,134.3 305.3,123.0 302.5,111.6 299.2,100.3 295.3,88.9 290.6,77.6 285.4,66.4 279.4,55.3 272.6,44.6 265.1,34.2 256.8,24.2 247.8,14.9 237.9,6.2 227.3,-1.5 216.0,-8.2 204.1,-13.7 191.6,-17.9 178.7,-20.6 165.6,-21.8 152.4,-21.4 139.3,-19.4 126.4,-15.8 114.0,-10.9 109,-10.9 109,464.4" fill="#00e9ff"/>
<polygon points="114.0,463.4 126.7,460.9 139.0,457.3 150.9,452.5 162.3,446.7 173.1,440.0 183.3,432.6 192.8,424.7 201.6,416.3 209.9,407.7 217.6,398.9 224.7,390.0 231.4,381.2 237.8,372.4 243.8,363.7 249.5,355.1 254.9,346.6 260.1,338.0 265.1,329.5 269.9,321.0 274.4,312.4 278.8,303.8 282.9,295.1 286.8,286.2 290.5,277.3 293.9,268.2 297.1,258.9 299.9,249.5 302.4,239.9 304.6,230.1 306.5,220.1 308.0,210.0 309.1,199.7 309.8,189.2 310.1,178.6 309.9,167.8 309.3,156.9 308.2,145.8 306.5,134.7 304.4,123.5 301.6,112.2 298.3,100.8 294.4,89.5 289.8,78.3 284.5,67.1 278.5,56.2 271.8,45.5 264.3,35.1 256.1,25.2 247.1,15.9 237.3,7.4 226.7,-0.3 215.5,-7.0 203.6,-12.5 191.2,-16.6 178.4,-19.3 165.3,-20.5 152.2,-20.1 139.1,-18.1 126.3,-14.7 114.0,-9.8 109,-9.8 109,463.4" fill="#00efff"/>
<polygon points="114.0,462.3 126.6,459.8 138.9,456.1 150.7,451.3 162.1,445.5 172.8,438.8 182.9,431.4 192.3,423.5 201.1,415.2 209.3,406.6 216.9,397.8 224.1,389.0 230.7,380.3 237.0,371.5 243.0,362.9 248.7,354.3 254.1,345.8 259.3,337.4 264.2,328.9 269.0,320.4 273.6,311.9 277.9,303.3 282.0,294.7 285.9,285.9 289.6,277.0 293.0,267.9 296.1,258.7 299.0,249.3 301.5,239.8 303.7,230.0 305.6,220.1 307.1,210.0 308.2,199.8 308.9,189.4 309.2,178.8 309.0,168.1 308.4,157.2 307.3,146.2 305.6,135.1 303.5,123.9 300.7,112.7 297.4,101.4 293.5,90.2 288.9,79.0 283.7,67.9 277.7,57.0 271.0,46.4 263.6,36.1 255.4,26.2 246.4,17.0 236.6,8.5 226.1,0.8 214.9,-5.8 203.1,-11.2 190.8,-15.4 178.0,-18.1 165.1,-19.2 152.0,-18.9 139.0,-16.9 126.3,-13.5 114.0,-8.7 109,-8.7 109,462.3" fill="#00f5ff"/>
<polygon points="114.0,461.3 126.6,458.8 138.8,455.0 150.6,450.2 161.8,444.4 172.5,437.7 182.5,430.3 191.9,422.4 200.6,414.0 208.8,405.5 216.3,396.8 223.4,388.0 230.1,379.3 236.3,370.7 242.2,362.1 247.9,353.6 253.3,345.1 258.5,336.7 263.4,328.3 268.2,319.9 272.7,311.4 277.0,302.9 281.2,294.3 285.1,285.6 288.7,276.7 292.1,267.7 295.2,258.5 298.1,249.2 300.6,239.7 302.8,230.0 304.7,220.1 306.2,210.1 307.3,199.9 308.0,189.5 308.3,179.0 308.1,168.3 307.5,157.5 306.4,146.5 304.7,135.5 302.6,124.4 299.8,113.2 296.5,102.0 292.6,90.8 288.1,79.7 282.8,68.6 276.9,57.8 270.2,47.2 262.8,37.0 254.6,27.2 245.7,18.0 236.0,9.6 225.5,2.0 214.4,-4.6 202.7,-10.0 190.4,-14.1 177.7,-16.8 164.8,-18.0 151.8,-17.6 138.9,-15.7 126.2,-12.4 114.0,-7.6 109,-7.6 109,461.3" fill="#00fbff"/>
<polygon points="114.0,460.3 126.5,457.7 138.7,454.0 150.4,449.1 161.6,443.2 172.2,436.5 182.2,429.1 191.5,421.2 200.1,412.9 208.2,404.4 215.7,395.8 222.8,387.1 229.4,378.4 235.6,369.8 241.5,361.3 247.1,352.8 252.5,344.4 257.7,336.1 262.6,327.7 267.3,319.4 271.9,311.0 276.2,302.5 280.3,293.9 284.2,285.2 287.9,276.4 291.2,267.5 294.4,258.3 297.2,249.0 299.7,239.6 301.9,229.9 303.8,220.1 305.3,210.1 306.4,200.0 307.1,189.6 307.4,179.2 307.2,168.5 306.6,157.8 305.5,146.9 303.8,135.9 301.7,124.8 299.0,113.7 295.7,102.5 291.8,91.4 287.2,80.3 282.0,69.4 276.1,58.6 269.5,48.1 262.1,37.9 253.9,28.2 245.0,19.1 235.4,10.6 225.0,3.1 213.9,-3.5 202.2,-8.8 190.0,-12.9 177.4,-15.6 164.5,-16.8 151.6,-16.5 138.8,-14.6 126.2,-11.2 114.0,-6.5 109,-6.5 109,460.3" fill="#02fffd"/>
<polygon points="114.0,459.4 126.4,456.7 138.5,452.9 150.2,448.0 161.3,442.1 171.9,435.4 181.8,428.0 191.0,420.1 199.7,411.9 207.7,403.4 215.2,394.8 222.2,386.1 228.7,377.5 234.9,368.9 240.8,360.5 246.4,352.1 251.7,343.7 256.9,335.4 261.8,327.1 266.5,318.8 271.0,310.5 275.4,302.1 279.5,293.5 283.4,284.9 287.0,276.1 290.4,267.2 293.5,258.1 296.3,248.9 298.9,239.5 301.1,229.9 302.9,220.1 304.4,210.2 305.5,200.1 306.2,189.8 306.5,179.4 306.3,168.8 305.7,158.0 304.6,147.2 303.0,136.3 300.8,125.3 298.1,114.2 294.8,103.1 291.0,92.0 286.4,81.0 281.2,70.1 275.3,59.4 268.7,48.9 261.4,38.8 253.2,29.1 244.4,20.1 234.8,11.7 224.4,4.2 213.4,-2.3 201.7,-7.7 189.6,-11.8 177.1,-14.4 164.3,-15.6 151.4,-15.3 138.6,-13.4 126.1,-10.1 114.0,-5.5 109,-5.5 109,459.4" fill="#07fff8"/>
<polygon points="114.0,458.4 126.4,455.7 138.4,451.8 150.0,446.9 161.1,441.0 171.6,434.3 181.4,426.9 190.6,419.1 199.2,410.8 207.2,402.3 214.6,393.8 221.5,385.2 228.1,376.6 234.2,368.1 240.1,359.7 245.7,351.3 251.0,343.0 256.1,334.8 261.0,326.6 265.7,318.3 270.2,310.0 274.5,301.6 278.6,293.2 282.5,284.6 286.2,275.9 289.6,267.0 292.7,258.0 295.5,248.8 298.0,239.4 300.2,229.9 302.1,220.1 303.5,210.2 304.7,200.2 305.4,189.9 305.6,179.5 305.5,169.0 304.9,158.3 303.7,147.5 302.1,136.6 300.0,125.7 297.3,114.7 294.0,103.6 290.1,92.6 285.6,81.6 280.4,70.8 274.6,60.1 268.0,49.7 260.6,39.7 252.6,30.1 243.7,21.0 234.2,12.7 223.9,5.3 212.9,-1.2 201.3,-6.5 189.2,-10.6 176.8,-13.3 164.0,-14.5 151.2,-14.1 138.5,-12.3 126.1,-9.1 114.0,-4.5 109,-4.5 109,458.4" fill="#0dfff2"/>
<polygon points="114.0,457.5 126.3,454.7 138.3,450.8 149.9,445.9 160.9,440.0 171.3,433.2 181.1,425.9 190.2,418.0 198.7,409.8 206.7,401.3 214.0,392.8 220.9,384.2 227.4,375.7 233.6,367.3 239.4,358.9 244.9,350.6 250.3,342.4 255.3,334.2 260.2,326.0 264.9,317.8 269.4,309.6 273.7,301.2 277.8,292.8 281.7,284.3 285.3,275.6 288.7,266.8 291.8,257.8 294.7,248.6 297.2,239.3 299.4,229.8 301.2,220.1 302.7,210.3 303.8,200.2 304.5,190.1 304.8,179.7 304.6,169.2 304.0,158.6 302.9,147.9 301.3,137.0 299.2,126.1 296.5,115.1 293.2,104.1 289.3,93.2 284.8,82.3 279.7,71.5 273.8,60.9 267.2,50.5 259.9,40.5 251.9,31.0 243.1,22.0 233.6,13.7 223.3,6.3 212.4,-0.1 200.9,-5.4 188.9,-9.5 176.4,-12.1 163.8,-13.3 151.1,-13.0 138.4,-11.2 126.0,-8.0 114.0,-3.4 109,-3.4 109,457.5" fill="#12ffed"/>
<polygon points="114.0,456.5 126.3,453.7 138.2,449.8 149.7,444.8 160.7,438.9 171.0,432.2 180.7,424.8 189.8,417.0 198.3,408.8 206.1,400.4 213.5,391.9 220.4,383.3 226.8,374.9 232.9,366.5 238.7,358.2 244.2,349.9 249.5,341.7 254.6,333.6 259.5,325.5 264.2,317.3 268.7,309.1 273.0,300.8 277.0,292.5 280.9,284.0 284.5,275.3 287.9,266.6 291.0,257.6 293.8,248.5 296.4,239.2 298.6,229.8 300.4,220.1 301.9,210.3 303.0,200.3 303.7,190.2 304.0,179.9 303.8,169.4 303.2,158.9 302.1,148.2 300.5,137.4 298.4,126.5 295.7,115.6 292.4,104.7 288.6,93.7 284.1,82.9 278.9,72.2 273.1,61.6 266.5,51.3 259.3,41.4 251.2,31.9 242.5,23.0 233.0,14.7 222.8,7.3 211.9,0.9 200.5,-4.3 188.5,-8.4 176.1,-11.0 163.6,-12.2 150.9,-11.9 138.3,-10.2 125.9,-7.0 114.0,-2.5 109,-2.5 109,456.5" fill="#18ffe7"/>
<polygon points="114.0,455.6 126.2,452.8 138.1,448.8 149.6,443.8 160.4,437.9 170.7,431.1 180.4,423.8 189.4,415.9 197.8,407.8 205.7,399.4 213.0,390.9 219.8,382.5 226.2,374.0 232.3,365.7 238.0,357.4 243.5,349.2 248.8,341.1 253.9,333.0 258.7,324.9 263.4,316.8 267.9,308.7 272.2,300.4 276.3,292.1 280.1,283.7 283.7,275.1 287.1,266.4 290.2,257.5 293.0,248.4 295.6,239.1 297.7,229.7 299.6,220.1 301.1,210.4 302.2,200.4 302.9,190.3 303.2,180.1 303.0,169.7 302.4,159.1 301.3,148.5 299.7,137.7 297.6,126.9 294.9,116.1 291.6,105.2 287.8,94.3 283.3,83.5 278.2,72.8 272.3,62.3 265.8,52.1 258.6,42.2 250.6,32.8 241.9,23.9 232.4,15.7 222.3,8.4 211.5,2.0 200.0,-3.3 188.1,-7.3 175.8,-9.9 163.3,-11.1 150.7,-10.8 138.2,-9.1 125.9,-5.9 114.0,-1.5 109,-1.5 109,455.6" fill="#1effe1"/>
<polygon points="114.0,454.7 126.2,451.9 138.0,447.9 149.4,442.8 160.2,436.9 170.5,430.1 180.1,422.8 189.0,414.9 197.4,406.8 205.2,398.4 212.4,390.0 219.2,381.6 225.6,373.2 231.6,364.9 237.4,356.7 242.9,348.5 248.1,340.5 253.2,332.4 258.0,324.4 262.7,316.3 267.2,308.2 271.4,300.1 275.5,291.8 279.4,283.4 283.0,274.8 286.3,266.1 289.4,257.3 292.3,248.3 294.8,239.1 296.9,229.7 298.8,220.1 300.3,210.4 301.4,200.5 302.1,190.4 302.4,180.2 302.2,169.9 301.6,159.4 300.5,148.8 298.9,138.1 296.8,127.3 294.1,116.5 290.9,105.7 287.0,94.9 282.6,84.1 277.4,73.5 271.6,63.0 265.1,52.8 257.9,43.0 250.0,33.6 241.3,24.8 231.9,16.7 221.8,9.4 211.0,3.0 199.6,-2.2 187.8,-6.2 175.6,-8.8 163.1,-10.0 150.5,-9.8 138.1,-8.1 125.8,-4.9 114.0,-0.5 109,-0.5 109,454.7" fill="#23ffdc"/>
<polygon points="114.0,453.9 126.1,450.9 137.9,446.9 149.2,441.8 160.0,435.9 170.2,429.1 179.7,421.8 188.7,413.9 197.0,405.8 204.7,397.5 211.9,389.1 218.7,380.7 225.0,372.4 231.0,364.1 236.7,356.0 242.2,347.9 247.4,339.9 252.5,331.9 257.3,323.9 262.0,315.9 266.4,307.8 270.7,299.7 274.7,291.4 278.6,283.1 282.2,274.6 285.6,265.9 288.7,257.1 291.5,248.1 294.0,239.0 296.2,229.6 298.0,220.1 299.5,210.4 300.6,200.6 301.3,190.6 301.6,180.4 301.4,170.1 300.8,159.6 299.7,149.1 298.1,138.4 296.0,127.7 293.3,116.9 290.1,106.2 286.3,95.4 281.8,84.7 276.7,74.1 270.9,63.7 264.5,53.6 257.3,43.8 249.4,34.5 240.7,25.7 231.3,17.6 221.3,10.3 210.5,4.0 199.2,-1.2 187.4,-5.1 175.3,-7.8 162.9,-9.0 150.4,-8.7 138.0,-7.0 125.8,-4.0 114.0,0.4 109,0.4 109,453.9" fill="#29ffd6"/>
<polygon points="114.0,453.0 126.1,450.0 137.8,446.0 149.1,440.9 159.8,434.9 169.9,428.1 179.4,420.8 188.3,413.0 196.5,404.9 204.2,396.6 211.4,388.2 218.1,379.9 224.4,371.6 230.4,363.4 236.1,355.3 241.5,347.2 246.8,339.2 251.8,331.3 256.6,323.4 261.2,315.4 265.7,307.4 269.9,299.3 274.0,291.1 277.8,282.8 281.5,274.3 284.8,265.7 287.9,257.0 290.7,248.0 293.2,238.9 295.4,229.6 297.2,220.1 298.7,210.5 299.8,200.7 300.5,190.7 300.8,180.6 300.6,170.3 300.0,159.9 298.9,149.4 297.4,138.8 295.2,128.1 292.6,117.4 289.4,106.6 285.5,95.9 281.1,85.3 276.0,74.7 270.3,64.4 263.8,54.3 256.6,44.6 248.7,35.3 240.1,26.6 230.8,18.5 220.8,11.3 210.1,5.0 198.8,-0.1 187.1,-4.1 175.0,-6.7 162.6,-7.9 150.2,-7.7 137.9,-6.0 125.7,-3.0 114.0,1.3 109,1.3 109,453.0" fill="#30ffcf"/>
<polygon points="114.0,451.6 126.0,448.6 137.7,444.5 148.8,439.4 159.5,433.3 169.5,426.6 178.9,419.2 187.7,411.5 195.9,403.4 203.5,395.2 210.6,386.9 217.3,378.6 223.5,370.4 229.5,362.2 235.1,354.2 240.5,346.2 245.7,338.3 250.7,330.4 255.5,322.6 260.1,314.7 264.6,306.7 268.8,298.7 272.8,290.6 276.7,282.4 280.3,274.0 283.6,265.4 286.7,256.7 289.5,247.8 292.0,238.8 294.2,229.5 296.0,220.1 297.5,210.5 298.6,200.8 299.3,190.9 299.6,180.8 299.4,170.6 298.8,160.3 297.7,149.8 296.2,139.3 294.1,128.7 291.4,118.0 288.2,107.4 284.4,96.8 280.0,86.2 274.9,75.7 269.2,65.5 262.8,55.5 255.6,45.8 247.8,36.6 239.2,28.0 230.0,20.0 220.0,12.8 209.4,6.6 198.2,1.5 186.6,-2.5 174.5,-5.1 162.3,-6.3 150.0,-6.1 137.7,-4.5 125.7,-1.5 114.0,2.8 109,2.8 109,451.6" fill="#39ffc6"/>
<polygon points="114.0,450.3 125.9,447.2 137.5,443.1 148.6,437.9 159.2,431.8 169.1,425.1 178.4,417.7 187.1,410.0 195.2,402.0 202.8,393.8 209.8,385.5 216.4,377.3 222.6,369.1 228.5,361.1 234.2,353.1 239.5,345.2 244.7,337.4 249.6,329.6 254.4,321.8 259.0,314.0 263.5,306.1 267.7,298.2 271.7,290.1 275.5,281.9 279.1,273.6 282.5,265.1 285.6,256.5 288.4,247.6 290.9,238.6 293.0,229.5 294.9,220.1 296.3,210.6 297.4,200.9 298.1,191.1 298.4,181.1 298.3,170.9 297.7,160.7 296.6,150.3 295.0,139.8 292.9,129.3 290.3,118.7 287.1,108.1 283.3,97.6 278.9,87.1 273.8,76.7 268.1,66.5 261.7,56.6 254.7,47.0 246.9,37.9 238.4,29.3 229.1,21.4 219.2,14.3 208.7,8.1 197.6,3.0 186.1,-0.9 174.1,-3.5 162.0,-4.7 149.7,-4.5 137.5,-2.9 125.6,0.0 114.0,4.2 109,4.2 109,450.3" fill="#42ffbd"/>
<polygon points="114.0,449.0 125.9,445.9 137.4,441.7 148.4,436.4 158.8,430.4 168.7,423.6 178.0,416.3 186.6,408.5 194.6,400.6 202.1,392.4 209.1,384.2 215.6,376.1 221.8,368.0 227.6,360.0 233.2,352.1 238.6,344.2 243.7,336.5 248.6,328.8 253.4,321.0 258.0,313.3 262.4,305.5 266.6,297.6 270.6,289.6 274.4,281.5 278.0,273.2 281.4,264.8 284.4,256.2 287.2,247.5 289.7,238.5 291.9,229.4 293.7,220.1 295.2,210.7 296.3,201.0 297.0,191.2 297.3,181.3 297.1,171.2 296.5,161.0 295.4,150.7 293.9,140.3 291.8,129.9 289.1,119.4 286.0,108.8 282.2,98.3 277.8,87.9 272.8,77.6 267.1,67.5 260.8,57.7 253.7,48.2 246.0,39.1 237.5,30.6 228.3,22.8 218.5,15.7 208.1,9.6 197.0,4.5 185.6,0.7 173.7,-1.9 161.6,-3.2 149.5,-3.0 137.4,-1.4 125.5,1.5 114.0,5.6 109,5.6 109,449.0" fill="#4bffb4"/>
<polygon points="114.0,447.8 125.8,444.6 137.2,440.3 148.2,435.1 158.5,429.0 168.3,422.2 177.5,414.9 186.0,407.2 194.0,399.2 201.4,391.1 208.3,383.0 214.8,374.9 221.0,366.8 226.8,358.9 232.3,351.1 237.6,343.3 242.7,335.6 247.6,328.0 252.4,320.3 256.9,312.6 261.3,304.9 265.5,297.1 269.6,289.1 273.4,281.1 276.9,272.9 280.3,264.5 283.3,256.0 286.1,247.3 288.6,238.4 290.8,229.4 292.6,220.1 294.1,210.7 295.2,201.2 295.9,191.4 296.1,181.5 296.0,171.5 295.4,161.4 294.3,151.1 292.8,140.8 290.7,130.4 288.1,120.0 284.9,109.5 281.1,99.1 276.8,88.8 271.8,78.6 266.1,68.5 259.8,58.8 252.8,49.3 245.1,40.3 236.7,31.9 227.6,24.1 217.8,17.1 207.4,11.0 196.5,6.0 185.1,2.2 173.3,-0.4 161.3,-1.6 149.2,-1.5 137.2,0.0 125.4,2.9 114.0,6.9 109,6.9 109,447.8" fill="#54ffab"/>
<polygon points="114.0,446.6 125.7,443.3 137.1,439.0 147.9,433.7 158.2,427.6 168.0,420.8 177.0,413.5 185.5,405.8 193.4,397.9 200.8,389.8 207.6,381.7 214.1,373.7 220.1,365.7 225.9,357.8 231.4,350.1 236.7,342.4 241.8,334.8 246.7,327.2 251.4,319.6 255.9,312.0 260.3,304.3 264.5,296.5 268.5,288.7 272.3,280.7 275.9,272.5 279.2,264.2 282.3,255.8 285.0,247.1 287.5,238.3 289.7,229.3 291.5,220.1 293.0,210.8 294.1,201.3 294.8,191.6 295.0,181.8 294.9,171.8 294.3,161.7 293.2,151.6 291.7,141.3 289.6,131.0 287.0,120.6 283.8,110.2 280.1,99.9 275.7,89.6 270.8,79.5 265.2,69.5 258.9,59.8 251.9,50.4 244.2,41.5 235.9,33.1 226.8,25.4 217.1,18.5 206.8,12.4 195.9,7.5 184.6,3.6 172.9,1.1 161.0,-0.2 149.0,-0.0 137.1,1.4 125.4,4.2 114.0,8.2 109,8.2 109,446.6" fill="#5cffa3"/>
<polygon points="114.0,445.4 125.7,442.0 136.9,437.7 147.7,432.4 158.0,426.2 167.6,419.4 176.6,412.1 185.0,404.5 192.8,396.6 200.1,388.5 206.9,380.5 213.3,372.5 219.3,364.6 225.1,356.8 230.5,349.1 235.8,341.5 240.8,333.9 245.7,326.4 250.4,318.9 255.0,311.3 259.3,303.7 263.5,296.0 267.5,288.2 271.3,280.3 274.8,272.2 278.2,264.0 281.2,255.5 284.0,247.0 286.5,238.2 288.6,229.2 290.4,220.1 291.9,210.8 293.0,201.4 293.7,191.8 294.0,182.0 293.8,172.1 293.2,162.1 292.2,152.0 290.6,141.8 288.6,131.5 286.0,121.2 282.8,110.9 279.1,100.6 274.8,90.4 269.8,80.3 264.2,70.4 257.9,60.8 251.0,51.5 243.4,42.7 235.1,34.3 226.1,26.7 216.4,19.8 206.2,13.8 195.4,8.9 184.1,5.1 172.5,2.5 160.7,1.3 148.8,1.4 136.9,2.8 125.3,5.6 114.0,9.5 109,9.5 109,445.4" fill="#65ff9a"/>
<polygon points="114.0,444.2 125.6,440.8 136.8,436.4 147.5,431.1 157.7,424.9 167.2,418.1 176.2,410.8 184.5,403.2 192.3,395.3 199.5,387.3 206.2,379.3 212.6,371.4 218.6,363.6 224.3,355.8 229.7,348.2 234.9,340.6 239.9,333.1 244.8,325.7 249.5,318.2 254.0,310.7 258.4,303.2 262.5,295.5 266.5,287.8 270.3,279.9 273.8,271.9 277.1,263.7 280.2,255.3 283.0,246.8 285.4,238.1 287.6,229.2 289.4,220.1 290.9,210.9 292.0,201.5 292.7,191.9 292.9,182.2 292.8,172.4 292.2,162.4 291.1,152.4 289.6,142.2 287.5,132.0 284.9,121.8 281.8,111.5 278.1,101.3 273.8,91.2 268.9,81.2 263.3,71.4 257.1,61.8 250.1,52.6 242.6,43.8 234.3,35.5 225.4,27.9 215.8,21.1 205.6,15.2 194.8,10.2 183.7,6.5 172.1,3.9 160.4,2.7 148.5,2.8 136.8,4.2 125.2,6.9 114.0,10.8 109,10.8 109,444.2" fill="#6eff91"/>
<polygon points="114.0,443.0 125.5,439.6 136.7,435.2 147.3,429.8 157.4,423.6 166.9,416.8 175.8,409.5 184.0,401.9 191.7,394.1 198.9,386.1 205.6,378.2 211.9,370.3 217.8,362.5 223.5,354.8 228.9,347.3 234.1,339.8 239.1,332.3 243.9,324.9 248.6,317.6 253.1,310.1 257.4,302.6 261.6,295.1 265.5,287.4 269.3,279.5 272.8,271.6 276.1,263.4 279.2,255.1 282.0,246.6 284.4,238.0 286.6,229.1 288.4,220.1 289.9,210.9 290.9,201.6 291.6,192.1 291.9,182.4 291.8,172.7 291.2,162.8 290.1,152.7 288.6,142.7 286.5,132.5 284.0,122.3 280.8,112.2 277.1,102.0 272.8,91.9 267.9,82.0 262.4,72.3 256.2,62.8 249.3,53.6 241.8,44.9 233.5,36.7 224.6,29.1 215.1,22.4 205.0,16.5 194.3,11.6 183.2,7.8 171.8,5.3 160.1,4.0 148.3,4.1 136.6,5.5 125.1,8.1 114.0,12.0 109,12.0 109,443.0" fill="#77ff88"/>
<polygon points="114.0,441.9 125.5,438.4 136.6,433.9 147.1,428.6 157.1,422.4 166.6,415.6 175.3,408.3 183.5,400.7 191.2,392.9 198.3,385.0 204.9,377.1 211.2,369.2 217.1,361.5 222.7,353.9 228.1,346.4 233.2,338.9 238.2,331.6 243.0,324.2 247.7,316.9 252.2,309.5 256.5,302.1 260.6,294.6 264.6,286.9 268.3,279.2 271.9,271.2 275.2,263.2 278.2,254.9 281.0,246.5 283.4,237.9 285.6,229.1 287.4,220.1 288.9,211.0 289.9,201.7 290.6,192.2 290.9,182.6 290.8,172.9 290.2,163.1 289.1,153.1 287.6,143.1 285.6,133.0 283.0,122.9 279.9,112.8 276.2,102.7 271.9,92.7 267.0,82.8 261.5,73.1 255.3,63.7 248.5,54.6 241.0,45.9 232.8,37.8 224.0,30.3 214.5,23.6 204.4,17.7 193.8,12.9 182.8,9.1 171.4,6.6 159.8,5.4 148.1,5.4 136.5,6.8 125.1,9.4 114.0,13.2 109,13.2 109,441.9" fill="#80ff7f"/>
<polygon points="114.0,440.8 125.4,437.3 136.4,432.8 146.9,427.3 156.9,421.1 166.2,414.3 175.0,407.1 183.1,399.5 190.6,391.7 197.7,383.8 204.3,376.0 210.5,368.2 216.4,360.5 221.9,353.0 227.3,345.5 232.4,338.1 237.4,330.8 242.2,323.5 246.8,316.3 251.3,309.0 255.6,301.6 259.7,294.1 263.7,286.5 267.4,278.8 270.9,270.9 274.2,262.9 277.3,254.7 280.0,246.3 282.5,237.8 284.6,229.0 286.4,220.1 287.9,211.0 289.0,201.8 289.7,192.4 290.0,182.9 289.8,173.2 289.2,163.4 288.2,153.5 286.6,143.5 284.6,133.5 282.0,123.4 278.9,113.4 275.3,103.4 271.0,93.4 266.1,83.6 260.6,74.0 254.5,64.6 247.7,55.6 240.2,47.0 232.1,38.9 223.3,31.5 213.9,24.8 203.9,19.0 193.3,14.2 182.4,10.4 171.1,7.9 159.5,6.7 147.9,6.7 136.4,8.0 125.0,10.6 114.0,14.3 109,14.3 109,440.8" fill="#89ff76"/>
<polygon points="114.0,439.8 125.4,436.2 136.3,431.6 146.7,426.2 156.6,419.9 165.9,413.1 174.6,405.9 182.6,398.3 190.1,390.5 197.1,382.7 203.7,374.9 209.8,367.2 215.7,359.6 221.2,352.1 226.5,344.7 231.6,337.3 236.6,330.1 241.3,322.9 245.9,315.7 250.4,308.4 254.7,301.1 258.8,293.7 262.8,286.1 266.5,278.5 270.0,270.6 273.3,262.7 276.3,254.5 279.1,246.2 281.5,237.7 283.7,229.0 285.5,220.1 286.9,211.1 288.0,201.9 288.7,192.5 289.0,183.1 288.9,173.4 288.3,163.7 287.2,153.9 285.7,143.9 283.7,134.0 281.1,124.0 278.0,114.0 274.4,104.0 270.1,94.1 265.3,84.4 259.8,74.8 253.7,65.5 246.9,56.6 239.5,48.0 231.4,40.0 222.6,32.6 213.3,26.0 203.3,20.2 192.9,15.4 182.0,11.7 170.7,9.2 159.3,7.9 147.7,8.0 136.2,9.3 125.0,11.8 114.0,15.5 109,15.5 109,439.8" fill="#92ff6d"/>
<polygon points="114.0,438.7 125.3,435.1 136.2,430.5 146.6,425.0 156.4,418.8 165.6,412.0 174.2,404.7 182.2,397.1 189.6,389.4 196.6,381.6 203.1,373.9 209.2,366.2 215.0,358.6 220.5,351.2 225.8,343.8 230.8,336.6 235.8,329.4 240.5,322.2 245.1,315.0 249.5,307.8 253.8,300.6 257.9,293.2 261.9,285.7 265.6,278.1 269.1,270.4 272.4,262.4 275.4,254.3 278.2,246.0 280.6,237.6 282.8,228.9 284.6,220.1 286.0,211.1 287.1,202.0 287.8,192.7 288.1,183.3 287.9,173.7 287.4,164.0 286.3,154.2 284.8,144.4 282.8,134.4 280.2,124.5 277.1,114.6 273.5,104.7 269.3,94.8 264.4,85.1 259.0,75.7 252.9,66.4 246.1,57.5 238.7,49.0 230.7,41.1 222.0,33.7 212.7,27.1 202.8,21.4 192.4,16.6 181.5,13.0 170.4,10.5 159.0,9.2 147.5,9.2 136.1,10.5 124.9,13.0 114.0,16.6 109,16.6 109,438.7" fill="#9bff64"/>
<polygon points="114.0,437.7 125.2,434.0 136.1,429.4 146.4,423.9 156.1,417.6 165.3,410.8 173.8,403.6 181.8,396.0 189.1,388.3 196.0,380.6 202.5,372.9 208.6,365.2 214.3,357.7 219.8,350.3 225.0,343.0 230.1,335.8 235.0,328.7 239.7,321.6 244.3,314.5 248.7,307.3 253.0,300.1 257.1,292.8 261.0,285.4 264.7,277.8 268.2,270.1 271.5,262.2 274.5,254.1 277.3,245.9 279.7,237.5 281.8,228.9 283.7,220.1 285.1,211.2 286.2,202.1 286.9,192.8 287.2,183.4 287.0,173.9 286.4,164.3 285.4,154.6 283.9,144.7 281.9,134.9 279.3,125.0 276.3,115.1 272.6,105.3 268.4,95.5 263.6,85.9 258.2,76.5 252.1,67.3 245.4,58.4 238.0,50.0 230.0,42.1 221.4,34.8 212.1,28.2 202.3,22.6 191.9,17.8 181.1,14.2 170.0,11.7 158.7,10.4 147.3,10.4 136.0,11.6 124.8,14.1 114.0,17.7 109,17.7 109,437.7" fill="#a4ff5b"/>
<polygon points="114.0,436.7 125.2,433.0 136.0,428.3 146.2,422.8 155.9,416.5 165.0,409.7 173.4,402.4 181.3,394.9 188.7,387.3 195.5,379.5 201.9,371.9 207.9,364.3 213.6,356.8 219.1,349.5 224.3,342.2 229.3,335.1 234.2,328.0 238.9,320.9 243.5,313.9 247.9,306.8 252.2,299.6 256.3,292.4 260.2,285.0 263.9,277.5 267.4,269.8 270.6,262.0 273.7,253.9 276.4,245.8 278.8,237.4 281.0,228.8 282.8,220.1 284.2,211.2 285.3,202.2 286.0,193.0 286.3,183.6 286.1,174.2 285.6,164.6 284.5,154.9 283.0,145.1 281.0,135.3 278.5,125.5 275.4,115.7 271.8,105.9 267.6,96.2 262.8,86.6 257.4,77.2 251.3,68.1 244.7,59.3 237.3,51.0 229.4,43.1 220.8,35.9 211.5,29.4 201.8,23.7 191.5,19.0 180.8,15.4 169.7,12.9 158.5,11.6 147.1,11.6 135.9,12.8 124.8,15.2 114.0,18.7 109,18.7 109,436.7" fill="#adff52"/>
<polygon points="114.0,435.7 125.1,431.9 135.8,427.2 146.0,421.7 155.7,415.4 164.7,408.6 173.1,401.3 180.9,393.8 188.2,386.2 195.0,378.5 201.3,370.9 207.3,363.4 213.0,355.9 218.4,348.6 223.6,341.4 228.6,334.4 233.5,327.3 238.2,320.3 242.7,313.3 247.1,306.3 251.3,299.2 255.4,291.9 259.3,284.6 263.0,277.1 266.5,269.5 269.8,261.7 272.8,253.8 275.5,245.6 278.0,237.3 280.1,228.8 281.9,220.1 283.3,211.3 284.4,202.3 285.1,193.1 285.4,183.8 285.3,174.4 284.7,164.9 283.6,155.2 282.1,145.5 280.1,135.8 277.6,126.0 274.6,116.2 270.9,106.5 266.8,96.8 262.0,87.3 256.6,78.0 250.6,68.9 243.9,60.2 236.7,51.9 228.7,44.1 220.2,36.9 211.0,30.4 201.3,24.8 191.0,20.1 180.4,16.5 169.4,14.0 158.2,12.8 147.0,12.7 135.7,13.9 124.7,16.3 114.0,19.8 109,19.8 109,435.7" fill="#b6ff49"/>
<polygon points="114.0,434.7 125.1,430.9 135.7,426.2 145.9,420.6 155.4,414.3 164.4,407.5 172.7,400.3 180.5,392.8 187.7,385.2 194.5,377.5 200.8,369.9 206.7,362.4 212.4,355.1 217.8,347.8 222.9,340.7 227.9,333.6 232.7,326.7 237.4,319.7 241.9,312.8 246.3,305.8 250.6,298.7 254.6,291.5 258.5,284.2 262.2,276.8 265.7,269.2 269.0,261.5 272.0,253.6 274.7,245.5 277.1,237.2 279.2,228.8 281.0,220.1 282.5,211.3 283.6,202.4 284.3,193.3 284.5,184.0 284.4,174.6 283.8,165.1 282.8,155.6 281.3,145.9 279.3,136.2 276.8,126.5 273.7,116.8 270.1,107.1 266.0,97.5 261.2,88.0 255.8,78.8 249.9,69.8 243.2,61.1 236.0,52.8 228.1,45.1 219.6,37.9 210.4,31.5 200.8,25.9 190.6,21.3 180.0,17.7 169.1,15.2 158.0,13.9 146.8,13.9 135.6,15.0 124.7,17.4 114.0,20.8 109,20.8 109,434.7" fill="#beff41"/>
<polygon points="114.0,433.8 125.0,429.9 135.6,425.2 145.7,419.6 155.2,413.3 164.1,406.4 172.4,399.2 180.1,391.8 187.3,384.2 194.0,376.6 200.3,369.0 206.2,361.6 211.8,354.2 217.1,347.0 222.3,339.9 227.2,332.9 232.0,326.0 236.7,319.1 241.2,312.2 245.6,305.3 249.8,298.2 253.8,291.1 257.7,283.9 261.4,276.5 264.9,269.0 268.1,261.3 271.1,253.4 273.9,245.4 276.3,237.1 278.4,228.7 280.2,220.1 281.6,211.4 282.7,202.5 283.4,193.4 283.7,184.2 283.6,174.8 283.0,165.4 282.0,155.9 280.5,146.3 278.5,136.6 276.0,126.9 272.9,117.3 269.3,107.7 265.2,98.1 260.5,88.7 255.1,79.5 249.1,70.5 242.6,61.9 235.3,53.7 227.5,46.0 219.0,38.9 209.9,32.5 200.3,27.0 190.2,22.4 179.6,18.8 168.8,16.3 157.7,15.0 146.6,15.0 135.5,16.1 124.6,18.4 114.0,21.8 109,21.8 109,433.8" fill="#c7ff38"/>
<polygon points="114.0,432.8 125.0,429.0 135.5,424.2 145.5,418.5 155.0,412.2 163.8,405.4 172.1,398.2 179.7,390.8 186.9,383.2 193.5,375.6 199.7,368.1 205.6,360.7 211.2,353.4 216.5,346.2 221.6,339.2 226.5,332.3 231.3,325.4 236.0,318.5 240.5,311.7 244.8,304.8 249.0,297.8 253.1,290.7 257.0,283.6 260.6,276.2 264.1,268.7 267.3,261.1 270.3,253.2 273.1,245.2 275.5,237.0 277.6,228.7 279.4,220.1 280.8,211.4 281.9,202.5 282.6,193.5 282.9,184.4 282.7,175.1 282.2,165.7 281.1,156.2 279.7,146.6 277.7,137.0 275.2,127.4 272.1,117.8 268.6,108.2 264.4,98.7 259.7,89.4 254.4,80.2 248.4,71.3 241.9,62.8 234.7,54.6 226.9,46.9 218.4,39.9 209.4,33.5 199.8,28.0 189.8,23.4 179.3,19.9 168.5,17.4 157.5,16.1 146.4,16.1 135.4,17.2 124.6,19.4 114.0,22.8 109,22.8 109,432.8" fill="#d0ff2f"/>
<polygon points="114.0,431.9 124.9,428.0 135.4,423.2 145.4,417.5 154.8,411.2 163.5,404.4 171.7,397.2 179.3,389.8 186.4,382.2 193.0,374.7 199.2,367.2 205.0,359.8 210.6,352.6 215.9,345.5 221.0,338.5 225.9,331.6 230.6,324.8 235.2,318.0 239.7,311.2 244.1,304.3 248.3,297.4 252.3,290.4 256.2,283.2 259.9,275.9 263.3,268.5 266.6,260.9 269.5,253.1 272.3,245.1 274.7,237.0 276.8,228.6 278.6,220.1 280.0,211.5 281.1,202.6 281.8,193.6 282.1,184.5 281.9,175.3 281.4,165.9 280.3,156.5 278.9,147.0 276.9,137.4 274.4,127.8 271.4,118.3 267.8,108.8 263.7,99.3 259.0,90.0 253.7,80.9 247.8,72.1 241.2,63.6 234.1,55.5 226.3,47.8 217.9,40.8 208.9,34.5 199.4,29.1 189.4,24.5 178.9,20.9 168.2,18.5 157.3,17.2 146.3,17.1 135.3,18.2 124.5,20.5 114.0,23.8 109,23.8 109,431.9" fill="#d9ff26"/>
<polygon points="114.0,431.0 124.9,427.1 135.3,422.2 145.2,416.5 154.5,410.2 163.3,403.4 171.4,396.2 179.0,388.8 186.0,381.3 192.6,373.8 198.7,366.3 204.5,359.0 210.0,351.8 215.3,344.7 220.3,337.8 225.2,331.0 230.0,324.2 234.6,317.4 239.0,310.7 243.4,303.8 247.6,297.0 251.6,290.0 255.4,282.9 259.1,275.6 262.6,268.2 265.8,260.7 268.8,252.9 271.5,245.0 273.9,236.9 276.0,228.6 277.8,220.1 279.2,211.5 280.3,202.7 281.0,193.8 281.3,184.7 281.1,175.5 280.6,166.2 279.6,156.8 278.1,147.3 276.1,137.8 273.6,128.3 270.6,118.8 267.1,109.3 262.9,99.9 258.3,90.7 253.0,81.6 247.1,72.8 240.6,64.4 233.4,56.3 225.7,48.7 217.3,41.8 208.4,35.5 198.9,30.1 189.0,25.5 178.6,22.0 167.9,19.6 157.1,18.3 146.1,18.2 135.2,19.2 124.4,21.4 114.0,24.7 109,24.7 109,431.0" fill="#e2ff1d"/>
<polygon points="114.0,430.2 124.8,426.2 135.2,421.3 145.1,415.6 154.3,409.3 163.0,402.4 171.1,395.2 178.6,387.8 185.6,380.4 192.1,372.9 198.2,365.5 204.0,358.2 209.4,351.0 214.7,344.0 219.7,337.1 224.6,330.3 229.3,323.6 233.9,316.9 238.3,310.2 242.7,303.4 246.8,296.6 250.9,289.6 254.7,282.6 258.4,275.4 261.8,268.0 265.0,260.5 268.0,252.7 270.7,244.9 273.1,236.8 275.2,228.5 277.0,220.1 278.5,211.5 279.5,202.8 280.2,193.9 280.5,184.9 280.4,175.7 279.8,166.4 278.8,157.1 277.3,147.7 275.3,138.2 272.9,128.7 269.9,119.3 266.3,109.8 262.2,100.5 257.6,91.3 252.3,82.3 246.4,73.6 239.9,65.1 232.8,57.1 225.1,49.6 216.8,42.7 207.9,36.5 198.5,31.0 188.6,26.5 178.3,23.0 167.6,20.6 156.8,19.3 145.9,19.2 135.1,20.2 124.4,22.4 114.0,25.6 109,25.6 109,430.2" fill="#ebff14"/>
<polygon points="114.0,429.3 124.8,425.3 135.1,420.3 144.9,414.6 154.1,408.3 162.8,401.5 170.8,394.3 178.2,386.9 185.2,379.5 191.7,372.0 197.7,364.6 203.4,357.4 208.9,350.3 214.1,343.3 219.1,336.4 223.9,329.7 228.6,323.0 233.2,316.3 237.7,309.7 242.0,302.9 246.1,296.1 250.1,289.3 254.0,282.2 257.6,275.1 261.1,267.8 264.3,260.3 267.3,252.6 270.0,244.7 272.4,236.7 274.5,228.5 276.3,220.1 277.7,211.6 278.8,202.9 279.5,194.0 279.7,185.0 279.6,175.9 279.0,166.7 278.0,157.4 276.6,148.0 274.6,138.6 272.1,129.2 269.1,119.7 265.6,110.4 261.5,101.1 256.9,91.9 251.6,83.0 245.8,74.3 239.3,65.9 232.2,57.9 224.6,50.5 216.3,43.6 207.4,37.4 198.0,32.0 188.2,27.5 177.9,24.0 167.4,21.6 156.6,20.3 145.8,20.2 135.0,21.2 124.3,23.4 114.0,26.5 109,26.5 109,429.3" fill="#f4ff0b"/>
<polygon points="114.0,428.4 124.7,424.4 135.0,419.4 144.8,413.7 153.9,407.4 162.5,400.5 170.5,393.4 177.9,386.0 184.8,378.6 191.2,371.1 197.2,363.8 202.9,356.6 208.3,349.5 213.5,342.6 218.5,335.8 223.3,329.1 228.0,322.4 232.6,315.8 237.0,309.2 241.3,302.5 245.4,295.8 249.4,288.9 253.3,281.9 256.9,274.8 260.4,267.5 263.6,260.1 266.5,252.4 269.2,244.6 271.6,236.6 273.7,228.5 275.5,220.1 277.0,211.6 278.0,202.9 278.7,194.1 279.0,185.2 278.9,176.1 278.3,166.9 277.3,157.7 275.8,148.3 273.9,139.0 271.4,129.6 268.4,120.2 264.9,110.9 260.8,101.6 256.2,92.5 251.0,83.6 245.1,75.0 238.7,66.7 231.7,58.7 224.0,51.3 215.8,44.5 207.0,38.3 197.6,33.0 187.8,28.5 177.6,25.0 167.1,22.6 156.4,21.3 145.6,21.2 134.9,22.2 124.3,24.3 114.0,27.4 109,27.4 109,428.4" fill="#fdff02"/>
<polygon points="114.0,427.6 124.7,423.5 134.9,418.5 144.6,412.8 153.7,406.4 162.3,399.6 170.2,392.4 177.5,385.1 184.4,377.7 190.8,370.3 196.8,363.0 202.4,355.8 207.8,348.8 213.0,341.9 217.9,335.1 222.7,328.5 227.4,321.9 231.9,315.3 236.3,308.7 240.6,302.1 244.8,295.4 248.8,288.6 252.6,281.6 256.2,274.5 259.7,267.3 262.9,259.9 265.8,252.3 268.5,244.5 270.9,236.6 273.0,228.4 274.8,220.1 276.2,211.7 277.3,203.0 278.0,194.2 278.3,185.3 278.1,176.3 277.6,167.2 276.6,157.9 275.1,148.7 273.1,139.3 270.7,130.0 267.7,120.7 264.2,111.4 260.1,102.2 255.5,93.1 250.3,84.3 244.5,75.7 238.1,67.4 231.1,59.5 223.5,52.1 215.3,45.3 206.5,39.2 197.2,33.9 187.4,29.5 177.3,26.0 166.8,23.6 156.2,22.3 145.5,22.2 134.8,23.1 124.3,25.2 114.0,28.3 109,28.3 109,427.6" fill="#fff800"/>
<polygon points="114.0,426.8 124.7,422.7 134.8,417.7 144.5,411.9 153.5,405.5 162.0,398.7 169.9,391.6 177.2,384.2 184.0,376.8 190.4,369.5 196.3,362.2 201.9,355.1 207.3,348.1 212.4,341.2 217.3,334.5 222.1,327.9 226.8,321.3 231.3,314.8 235.7,308.2 240.0,301.7 244.1,295.0 248.1,288.2 251.9,281.3 255.5,274.3 259.0,267.1 262.2,259.7 265.1,252.1 267.8,244.4 270.2,236.5 272.3,228.4 274.1,220.1 275.5,211.7 276.6,203.1 277.2,194.4 277.5,185.5 277.4,176.5 276.9,167.4 275.8,158.2 274.4,149.0 272.4,139.7 270.0,130.4 267.0,121.1 263.5,111.9 259.5,102.7 254.9,93.7 249.7,84.9 243.9,76.4 237.5,68.1 230.5,60.3 222.9,53.0 214.8,46.2 206.0,40.1 196.8,34.8 187.1,30.4 177.0,27.0 166.6,24.6 156.0,23.3 145.3,23.1 134.7,24.1 124.2,26.1 114.0,29.2 109,29.2 109,426.8" fill="#ffee00"/>
<polygon points="114.0,426.0 124.6,421.8 134.7,416.8 144.3,411.0 153.4,404.6 161.8,397.8 169.6,390.7 176.9,383.4 183.6,376.0 189.9,368.7 195.9,361.4 201.4,354.3 206.8,347.4 211.9,340.6 216.8,333.9 221.6,327.3 226.2,320.8 230.7,314.3 235.1,307.8 239.3,301.2 243.5,294.6 247.4,287.9 251.2,281.0 254.9,274.0 258.3,266.8 261.5,259.5 264.4,252.0 267.1,244.3 269.5,236.4 271.6,228.4 273.4,220.1 274.8,211.7 275.9,203.2 276.5,194.5 276.8,185.6 276.7,176.7 276.1,167.6 275.1,158.5 273.7,149.3 271.7,140.0 269.3,130.8 266.3,121.5 262.8,112.4 258.8,103.3 254.2,94.3 249.0,85.5 243.3,77.0 236.9,68.8 230.0,61.1 222.4,53.8 214.3,47.0 205.6,41.0 196.4,35.7 186.7,31.3 176.7,27.9 166.3,25.5 155.8,24.2 145.2,24.0 134.6,25.0 124.2,27.0 114.0,30.0 109,30.0 109,426.0" fill="#ffe500"/>
<polygon points="114.0,425.2 124.6,421.0 134.7,416.0 144.2,410.2 153.2,403.8 161.5,396.9 169.3,389.8 176.6,382.5 183.3,375.2 189.5,367.9 195.4,360.7 201.0,353.6 206.3,346.7 211.3,339.9 216.2,333.3 221.0,326.7 225.6,320.3 230.1,313.8 234.5,307.3 238.7,300.8 242.8,294.2 246.8,287.5 250.6,280.7 254.2,273.8 257.6,266.6 260.8,259.3 263.7,251.8 266.4,244.2 268.8,236.3 270.9,228.3 272.7,220.1 274.1,211.8 275.2,203.2 275.8,194.6 276.1,185.8 276.0,176.9 275.4,167.8 274.5,158.7 273.0,149.6 271.0,140.4 268.6,131.2 265.7,122.0 262.2,112.8 258.2,103.8 253.6,94.9 248.4,86.2 242.7,77.7 236.4,69.5 229.4,61.8 221.9,54.5 213.8,47.9 205.2,41.8 196.0,36.6 186.4,32.2 176.4,28.8 166.1,26.4 155.6,25.1 145.0,25.0 134.5,25.9 124.1,27.9 114.0,30.9 109,30.9 109,425.2" fill="#ffdb00"/>
<polygon points="114.0,424.4 124.5,420.2 134.6,415.1 144.1,409.3 153.0,402.9 161.3,396.1 169.0,389.0 176.2,381.7 182.9,374.4 189.1,367.1 195.0,359.9 200.5,352.9 205.8,346.0 210.8,339.3 215.7,332.7 220.4,326.2 225.0,319.7 229.5,313.3 233.9,306.9 238.1,300.4 242.2,293.9 246.1,287.2 249.9,280.4 253.5,273.5 257.0,266.4 260.1,259.1 263.1,251.7 265.8,244.1 268.1,236.3 270.2,228.3 272.0,220.1 273.4,211.8 274.5,203.3 275.2,194.7 275.4,185.9 275.3,177.0 274.8,168.1 273.8,159.0 272.3,149.9 270.4,140.7 267.9,131.5 265.0,122.4 261.5,113.3 257.5,104.3 253.0,95.4 247.8,86.8 242.1,78.3 235.8,70.2 228.9,62.5 221.4,55.3 213.3,48.7 204.7,42.7 195.6,37.5 186.0,33.1 176.1,29.7 165.8,27.3 155.4,26.0 144.9,25.9 134.4,26.8 124.1,28.7 114.0,31.7 109,31.7 109,424.4" fill="#ffd100"/>
<polygon points="114.0,423.7 124.5,419.4 134.5,414.3 143.9,408.5 152.8,402.1 161.1,395.2 168.8,388.1 175.9,380.9 182.6,373.6 188.7,366.3 194.6,359.2 200.1,352.2 205.3,345.3 210.3,338.6 215.2,332.1 219.9,325.6 224.4,319.2 228.9,312.9 233.3,306.5 237.5,300.0 241.6,293.5 245.5,286.9 249.3,280.2 252.9,273.3 256.3,266.2 259.5,259.0 262.4,251.6 265.1,244.0 267.5,236.2 269.6,228.2 271.3,220.1 272.7,211.8 273.8,203.4 274.5,194.8 274.8,186.1 274.6,177.2 274.1,168.3 273.1,159.3 271.6,150.2 269.7,141.1 267.3,131.9 264.4,122.8 260.9,113.8 256.9,104.8 252.4,96.0 247.2,87.3 241.5,79.0 235.2,70.9 228.4,63.3 220.9,56.1 212.9,49.5 204.3,43.5 195.2,38.3 185.7,34.0 175.8,30.6 165.6,28.2 155.2,26.9 144.7,26.7 134.3,27.6 124.0,29.6 114.0,32.5 109,32.5 109,423.7" fill="#ffc800"/>
<polygon points="114.0,422.9 124.4,418.6 134.4,413.5 143.8,407.7 152.6,401.3 160.9,394.4 168.5,387.3 175.6,380.1 182.2,372.8 188.4,365.6 194.1,358.4 199.6,351.5 204.8,344.7 209.8,338.0 214.6,331.5 219.3,325.1 223.9,318.7 228.3,312.4 232.7,306.0 236.9,299.7 241.0,293.2 244.9,286.6 248.7,279.9 252.3,273.0 255.7,266.0 258.8,258.8 261.8,251.4 264.4,243.9 266.8,236.1 268.9,228.2 270.7,220.1 272.1,211.9 273.1,203.5 273.8,194.9 274.1,186.2 274.0,177.4 273.4,168.5 272.4,159.5 271.0,150.5 269.1,141.4 266.7,132.3 263.7,123.2 260.3,114.2 256.3,105.3 251.8,96.5 246.7,87.9 241.0,79.6 234.7,71.6 227.9,64.0 220.4,56.8 212.4,50.2 203.9,44.3 194.8,39.2 185.4,34.9 175.5,31.5 165.4,29.1 155.0,27.8 144.6,27.6 134.2,28.5 124.0,30.4 114.0,33.3 109,33.3 109,422.9" fill="#ffbe00"/>
<polygon points="114.0,422.2 124.4,417.9 134.3,412.7 143.7,406.9 152.5,400.4 160.6,393.6 168.2,386.5 175.3,379.3 181.9,372.0 188.0,364.8 193.7,357.7 199.2,350.8 204.3,344.0 209.3,337.4 214.1,330.9 218.8,324.6 223.3,318.2 227.8,311.9 232.1,305.6 236.3,299.3 240.4,292.8 244.3,286.3 248.1,279.6 251.7,272.8 255.0,265.8 258.2,258.6 261.1,251.3 263.8,243.8 266.2,236.1 268.3,228.2 270.0,220.1 271.4,211.9 272.5,203.5 273.2,195.0 273.5,186.3 273.3,177.6 272.8,168.7 271.8,159.8 270.4,150.8 268.4,141.7 266.0,132.7 263.1,123.6 259.7,114.7 255.7,105.8 251.2,97.0 246.1,88.5 240.4,80.2 234.2,72.2 227.3,64.7 219.9,57.5 212.0,51.0 203.5,45.1 194.5,40.0 185.0,35.7 175.2,32.3 165.1,30.0 154.8,28.7 144.5,28.5 134.1,29.3 123.9,31.2 114.0,34.0 109,34.0 109,422.2" fill="#ffb400"/>
<polygon points="114.0,421.4 124.4,417.1 134.2,411.9 143.6,406.1 152.3,399.6 160.4,392.8 168.0,385.7 175.0,378.5 181.5,371.3 187.6,364.1 193.3,357.0 198.7,350.1 203.9,343.4 208.8,336.8 213.6,330.4 218.3,324.0 222.8,317.8 227.2,311.5 231.5,305.2 235.7,298.9 239.8,292.5 243.7,286.0 247.5,279.3 251.1,272.6 254.4,265.6 257.6,258.5 260.5,251.2 263.2,243.7 265.6,236.0 267.6,228.1 269.4,220.1 270.8,211.9 271.8,203.6 272.5,195.1 272.8,186.5 272.7,177.7 272.1,168.9 271.2,160.0 269.7,151.0 267.8,142.0 265.4,133.0 262.5,124.0 259.1,115.1 255.1,106.3 250.6,97.6 245.5,89.1 239.9,80.8 233.7,72.9 226.9,65.3 219.5,58.3 211.5,51.8 203.1,45.9 194.1,40.8 184.7,36.5 175.0,33.2 164.9,30.8 154.7,29.5 144.3,29.3 134.0,30.1 123.9,32.0 114.0,34.8 109,34.8 109,421.4" fill="#ffab00"/>
<polygon points="114.0,420.7 124.3,416.3 134.1,411.2 143.4,405.3 152.1,398.9 160.2,392.0 167.7,384.9 174.7,377.7 181.2,370.5 187.2,363.4 192.9,356.3 198.3,349.5 203.4,342.8 208.4,336.2 213.1,329.8 217.8,323.5 222.3,317.3 226.7,311.1 231.0,304.8 235.2,298.5 239.2,292.2 243.1,285.7 246.9,279.1 250.5,272.3 253.8,265.4 257.0,258.3 259.9,251.0 262.6,243.6 264.9,235.9 267.0,228.1 268.8,220.1 270.2,212.0 271.2,203.7 271.9,195.2 272.2,186.6 272.1,177.9 271.5,169.1 270.5,160.2 269.1,151.3 267.2,142.3 264.8,133.4 261.9,124.4 258.5,115.5 254.5,106.7 250.0,98.1 245.0,89.6 239.3,81.4 233.1,73.5 226.4,66.0 219.0,59.0 211.1,52.5 202.7,46.7 193.8,41.6 184.4,37.3 174.7,34.0 164.7,31.7 154.5,30.4 144.2,30.1 134.0,30.9 123.9,32.8 114.0,35.6 109,35.6 109,420.7" fill="#ffa100"/>
<polygon points="114.0,420.0 124.3,415.6 134.1,410.4 143.3,404.5 152.0,398.1 160.0,391.2 167.5,384.2 174.4,377.0 180.9,369.8 186.9,362.7 192.5,355.7 197.9,348.8 203.0,342.2 207.9,335.7 212.6,329.3 217.3,323.0 221.8,316.8 226.1,310.6 230.4,304.4 234.6,298.2 238.6,291.8 242.5,285.4 246.3,278.8 249.9,272.1 253.2,265.2 256.4,258.1 259.3,250.9 261.9,243.5 264.3,235.9 266.4,228.1 268.1,220.1 269.5,212.0 270.6,203.7 271.3,195.3 271.6,186.7 271.4,178.1 270.9,169.3 269.9,160.5 268.5,151.6 266.6,142.7 264.2,133.7 261.3,124.8 257.9,115.9 253.9,107.2 249.5,98.6 244.4,90.2 238.8,82.0 232.6,74.1 225.9,66.7 218.6,59.7 210.7,53.2 202.3,47.4 193.4,42.4 184.1,38.1 174.4,34.8 164.4,32.5 154.3,31.2 144.1,30.9 133.9,31.7 123.8,33.5 114.0,36.3 109,36.3 109,420.0" fill="#ff9800"/>
<polygon points="114.0,419.3 124.2,414.9 134.0,409.7 143.2,403.8 151.8,397.3 159.8,390.5 167.2,383.4 174.1,376.2 180.5,369.1 186.5,362.0 192.1,355.0 197.5,348.2 202.5,341.6 207.4,335.1 212.2,328.8 216.8,322.5 221.2,316.4 225.6,310.2 229.9,304.0 234.1,297.8 238.1,291.5 242.0,285.1 245.7,278.6 249.3,271.9 252.6,265.0 255.8,258.0 258.7,250.8 261.4,243.4 263.7,235.8 265.8,228.1 267.5,220.1 268.9,212.0 270.0,203.8 270.7,195.4 271.0,186.9 270.8,178.2 270.3,169.5 269.3,160.7 267.9,151.8 266.0,143.0 263.6,134.1 260.7,125.2 257.3,116.4 253.4,107.6 248.9,99.1 243.9,90.7 238.3,82.6 232.1,74.7 225.4,67.3 218.1,60.4 210.3,53.9 201.9,48.2 193.1,43.1 183.8,38.9 174.2,35.6 164.2,33.3 154.1,32.0 143.9,31.7 133.8,32.5 123.8,34.3 114.0,37.0 109,37.0 109,419.3" fill="#ff8e00"/>
<polygon points="114.0,418.6 124.2,414.2 133.9,408.9 143.1,403.0 151.6,396.6 159.6,389.7 167.0,382.7 173.9,375.5 180.2,368.4 186.2,361.3 191.8,354.4 197.1,347.6 202.1,341.0 207.0,334.6 211.7,328.2 216.3,322.0 220.7,315.9 225.1,309.8 229.4,303.7 233.5,297.5 237.5,291.2 241.4,284.8 245.2,278.3 248.7,271.7 252.1,264.8 255.2,257.8 258.1,250.7 260.8,243.3 263.1,235.7 265.2,228.0 266.9,220.1 268.3,212.1 269.4,203.8 270.1,195.5 270.4,187.0 270.2,178.4 269.7,169.7 268.7,160.9 267.3,152.1 265.4,143.3 263.0,134.4 260.1,125.6 256.7,116.8 252.8,108.1 248.4,99.6 243.4,91.2 237.8,83.1 231.6,75.3 224.9,68.0 217.7,61.0 209.9,54.7 201.5,48.9 192.7,43.9 183.5,39.7 173.9,36.4 164.0,34.1 154.0,32.8 143.8,32.5 133.7,33.3 123.7,35.1 114.0,37.7 109,37.7 109,418.6" fill="#ff8400"/>
<polygon points="114.0,418.0 124.2,413.5 133.8,408.2 143.0,402.3 151.5,395.8 159.4,389.0 166.8,382.0 173.6,374.8 179.9,367.7 185.8,360.6 191.4,353.7 196.7,347.0 201.7,340.4 206.5,334.0 211.2,327.7 215.8,321.6 220.2,315.5 224.6,309.4 228.8,303.3 233.0,297.1 237.0,290.9 240.9,284.6 244.6,278.1 248.2,271.4 251.5,264.6 254.6,257.7 257.5,250.5 260.2,243.2 262.5,235.7 264.6,228.0 266.3,220.1 267.7,212.1 268.8,203.9 269.5,195.6 269.8,187.1 269.6,178.6 269.1,169.9 268.1,161.2 266.7,152.4 264.8,143.5 262.4,134.7 259.6,125.9 256.2,117.2 252.3,108.5 247.8,100.0 242.8,91.7 237.3,83.7 231.2,75.9 224.5,68.6 217.2,61.7 209.5,55.3 201.2,49.6 192.4,44.7 183.2,40.5 173.6,37.2 163.8,34.9 153.8,33.6 143.7,33.3 133.6,34.0 123.7,35.8 114.0,38.5 109,38.5 109,418.0" fill="#ff7b00"/>
<polygon points="114.0,417.3 124.1,412.8 133.8,407.5 142.8,401.6 151.3,395.1 159.2,388.3 166.5,381.2 173.3,374.1 179.6,367.0 185.5,360.0 191.0,353.1 196.3,346.4 201.3,339.8 206.1,333.5 210.8,327.2 215.3,321.1 219.8,315.0 224.1,309.0 228.3,302.9 232.5,296.8 236.5,290.6 240.3,284.3 244.1,277.8 247.6,271.2 250.9,264.5 254.1,257.5 257.0,250.4 259.6,243.1 262.0,235.6 264.0,228.0 265.8,220.1 267.2,212.1 268.2,204.0 268.9,195.7 269.2,187.3 269.1,178.7 268.5,170.1 267.6,161.4 266.1,152.6 264.2,143.8 261.9,135.0 259.0,126.3 255.6,117.6 251.7,109.0 247.3,100.5 242.3,92.2 236.8,84.2 230.7,76.5 224.0,69.2 216.8,62.3 209.1,56.0 200.8,50.3 192.1,45.4 182.9,41.2 173.4,38.0 163.6,35.7 153.6,34.4 143.6,34.1 133.5,34.8 123.7,36.5 114.0,39.1 109,39.1 109,417.3" fill="#ff7100"/>
<polygon points="114.0,416.6 124.1,412.1 133.7,406.8 142.7,400.9 151.2,394.4 159.0,387.6 166.3,380.5 173.0,373.4 179.3,366.3 185.2,359.3 190.7,352.5 195.9,345.8 200.9,339.3 205.7,332.9 210.3,326.7 214.9,320.6 219.3,314.6 223.6,308.6 227.8,302.5 231.9,296.5 235.9,290.3 239.8,284.0 243.5,277.6 247.1,271.0 250.4,264.3 253.5,257.4 256.4,250.3 259.0,243.0 261.4,235.6 263.5,227.9 265.2,220.1 266.6,212.2 267.6,204.0 268.3,195.8 268.6,187.4 268.5,178.9 268.0,170.3 267.0,161.6 265.6,152.9 263.7,144.1 261.3,135.4 258.5,126.6 255.1,118.0 251.2,109.4 246.8,101.0 241.8,92.7 236.3,84.8 230.2,77.1 223.6,69.8 216.4,63.0 208.7,56.7 200.4,51.1 191.7,46.1 182.6,42.0 173.1,38.7 163.4,36.4 153.5,35.1 143.5,34.8 133.5,35.5 123.6,37.2 114.0,39.8 109,39.8 109,416.6" fill="#ff6700"/>
<polygon points="114.0,416.0 124.1,411.4 133.6,406.1 142.6,400.2 151.0,393.7 158.8,386.9 166.1,379.8 172.8,372.7 179.0,365.7 184.8,358.7 190.3,351.8 195.5,345.2 200.5,338.7 205.2,332.4 209.9,326.2 214.4,320.2 218.8,314.2 223.1,308.2 227.3,302.2 231.4,296.1 235.4,290.0 239.3,283.7 243.0,277.4 246.5,270.8 249.9,264.1 253.0,257.2 255.9,250.2 258.5,242.9 260.8,235.5 262.9,227.9 264.6,220.1 266.0,212.2 267.1,204.1 267.8,195.9 268.0,187.5 267.9,179.0 267.4,170.5 266.4,161.8 265.0,153.1 263.1,144.4 260.8,135.7 257.9,127.0 254.6,118.4 250.7,109.8 246.3,101.4 241.3,93.2 235.8,85.3 229.8,77.7 223.1,70.4 216.0,63.6 208.3,57.4 200.1,51.7 191.4,46.8 182.3,42.7 172.9,39.5 163.2,37.2 153.3,35.9 143.3,35.6 133.4,36.3 123.6,37.9 114.0,40.5 109,40.5 109,416.0" fill="#ff5e00"/>
<polygon points="114.0,415.4 124.0,410.8 133.5,405.4 142.5,399.5 150.9,393.0 158.6,386.2 165.9,379.2 172.5,372.1 178.7,365.0 184.5,358.0 190.0,351.2 195.1,344.6 200.1,338.2 204.8,331.9 209.4,325.8 213.9,319.7 218.3,313.8 222.6,307.8 226.8,301.8 230.9,295.8 234.9,289.7 238.8,283.5 242.5,277.1 246.0,270.6 249.3,263.9 252.4,257.1 255.3,250.1 257.9,242.8 260.3,235.4 262.3,227.9 264.1,220.1 265.5,212.2 266.5,204.1 267.2,195.9 267.5,187.6 267.4,179.2 266.8,170.6 265.9,162.0 264.5,153.4 262.6,144.7 260.2,136.0 257.4,127.3 254.0,118.7 250.2,110.2 245.8,101.9 240.8,93.7 235.3,85.8 229.3,78.2 222.7,71.0 215.6,64.2 207.9,58.0 199.7,52.4 191.1,47.5 182.1,43.4 172.7,40.2 163.0,37.9 153.1,36.6 143.2,36.3 133.3,37.0 123.5,38.6 114.0,41.2 109,41.2 109,415.4" fill="#ff5400"/>
<polygon points="114.0,414.7 124.0,410.1 133.5,404.8 142.4,398.8 150.7,392.3 158.5,385.5 165.6,378.5 172.3,371.4 178.4,364.4 184.2,357.4 189.6,350.7 194.8,344.1 199.7,337.6 204.4,331.4 209.0,325.3 213.5,319.3 217.9,313.3 222.2,307.4 226.4,301.5 230.5,295.5 234.4,289.4 238.3,283.2 242.0,276.9 245.5,270.4 248.8,263.8 251.9,257.0 254.8,249.9 257.4,242.8 259.8,235.4 261.8,227.8 263.5,220.1 264.9,212.2 266.0,204.2 266.6,196.0 266.9,187.7 266.8,179.3 266.3,170.8 265.3,162.2 263.9,153.6 262.0,145.0 259.7,136.3 256.9,127.7 253.5,119.1 249.7,110.7 245.3,102.3 240.3,94.2 234.9,86.3 228.9,78.8 222.3,71.6 215.2,64.9 207.5,58.7 199.4,53.1 190.8,48.2 181.8,44.1 172.4,40.9 162.8,38.6 153.0,37.3 143.1,37.0 133.2,37.7 123.5,39.3 114.0,41.8 109,41.8 109,414.7" fill="#ff4b00"/>
<polygon points="114.0,414.1 124.0,409.5 133.4,404.1 142.3,398.1 150.6,391.6 158.3,384.8 165.4,377.8 172.0,370.8 178.2,363.7 183.9,356.8 189.3,350.1 194.4,343.5 199.3,337.1 204.0,330.9 208.6,324.8 213.1,318.8 217.4,312.9 221.7,307.0 225.9,301.1 230.0,295.2 233.9,289.1 237.8,283.0 241.4,276.7 245.0,270.2 248.3,263.6 251.4,256.8 254.3,249.8 256.9,242.7 259.2,235.3 261.3,227.8 263.0,220.1 264.4,212.3 265.4,204.3 266.1,196.1 266.4,187.8 266.3,179.5 265.7,171.0 264.8,162.4 263.4,153.8 261.5,145.2 259.2,136.6 256.3,128.0 253.0,119.5 249.2,111.1 244.8,102.8 239.9,94.7 234.4,86.8 228.4,79.3 221.9,72.2 214.8,65.5 207.2,59.3 199.1,53.8 190.5,48.9 181.5,44.8 172.2,41.6 162.6,39.4 152.8,38.0 143.0,37.7 133.2,38.4 123.5,40.0 114.0,42.5 109,42.5 109,414.1" fill="#ff4100"/>
<polygon points="114.0,413.5 123.9,408.9 133.3,403.5 142.2,397.5 150.4,391.0 158.1,384.2 165.2,377.2 171.8,370.1 177.9,363.1 183.6,356.2 188.9,349.5 194.0,342.9 198.9,336.6 203.6,330.4 208.2,324.4 212.6,318.4 217.0,312.5 221.3,306.7 225.4,300.8 229.5,294.9 233.5,288.9 237.3,282.7 241.0,276.5 244.5,270.0 247.8,263.4 250.9,256.7 253.7,249.7 256.4,242.6 258.7,235.3 260.7,227.8 262.5,220.1 263.9,212.3 264.9,204.3 265.6,196.2 265.9,188.0 265.7,179.6 265.2,171.2 264.3,162.6 262.9,154.1 261.0,145.5 258.7,136.9 255.8,128.3 252.5,119.8 248.7,111.5 244.3,103.2 239.4,95.2 234.0,87.3 228.0,79.8 221.5,72.7 214.4,66.1 206.8,59.9 198.7,54.4 190.2,49.6 181.3,45.5 172.0,42.3 162.4,40.1 152.7,38.7 142.9,38.4 133.1,39.1 123.4,40.6 114.0,43.1 109,43.1 109,413.5" fill="#ff3700"/>
<polygon points="114.0,412.9 123.9,408.2 133.3,402.8 142.1,396.8 150.3,390.3 157.9,383.5 165.0,376.5 171.5,369.5 177.6,362.5 183.3,355.6 188.6,348.9 193.7,342.4 198.5,336.1 203.2,329.9 207.8,323.9 212.2,318.0 216.6,312.1 220.8,306.3 225.0,300.5 229.0,294.6 233.0,288.6 236.8,282.5 240.5,276.2 244.0,269.8 247.3,263.3 250.4,256.5 253.2,249.6 255.8,242.5 258.2,235.2 260.2,227.8 261.9,220.1 263.3,212.3 264.4,204.4 265.0,196.3 265.3,188.1 265.2,179.7 264.7,171.3 263.7,162.8 262.3,154.3 260.5,145.8 258.1,137.2 255.3,128.7 252.0,120.2 248.2,111.8 243.8,103.6 238.9,95.6 233.5,87.8 227.6,80.4 221.1,73.3 214.0,66.7 206.5,60.5 198.4,55.0 189.9,50.2 181.0,46.2 171.7,43.0 162.2,40.8 152.5,39.4 142.8,39.1 133.0,39.7 123.4,41.3 114.0,43.7 109,43.7 109,412.9" fill="#ff2e00"/>
<polygon points="114.0,412.3 123.9,407.6 133.2,402.2 142.0,396.2 150.2,389.7 157.8,382.9 164.8,375.9 171.3,368.9 177.3,361.9 183.0,355.0 188.3,348.4 193.3,341.9 198.2,335.6 202.8,329.5 207.4,323.5 211.8,317.6 216.1,311.8 220.4,306.0 224.5,300.1 228.6,294.3 232.5,288.3 236.3,282.2 240.0,276.0 243.5,269.7 246.8,263.1 249.9,256.4 252.7,249.5 255.3,242.4 257.7,235.2 259.7,227.7 261.4,220.1 262.8,212.4 263.9,204.4 264.5,196.4 264.8,188.2 264.7,179.9 264.2,171.5 263.2,163.0 261.8,154.5 260.0,146.0 257.6,137.5 254.8,129.0 251.5,120.6 247.7,112.2 243.4,104.1 238.5,96.1 233.1,88.3 227.1,80.9 220.7,73.8 213.6,67.2 206.1,61.1 198.1,55.7 189.6,50.9 180.7,46.9 171.5,43.7 162.0,41.4 152.4,40.1 142.7,39.8 133.0,40.4 123.4,41.9 114.0,44.4 109,44.4 109,412.3" fill="#ff2400"/>
<polygon points="114.0,411.7 123.8,407.0 133.1,401.6 141.9,395.5 150.0,389.0 157.6,382.2 164.6,375.3 171.1,368.3 177.1,361.3 182.7,354.5 188.0,347.8 193.0,341.4 197.8,335.1 202.5,329.0 207.0,323.0 211.4,317.2 215.7,311.4 219.9,305.6 224.1,299.8 228.1,294.0 232.0,288.0 235.8,282.0 239.5,275.8 243.0,269.5 246.3,263.0 249.4,256.3 252.2,249.4 254.8,242.4 257.2,235.1 259.2,227.7 260.9,220.1 262.3,212.4 263.3,204.5 264.0,196.4 264.3,188.3 264.2,180.0 263.7,171.7 262.7,163.2 261.3,154.8 259.5,146.3 257.1,137.8 254.3,129.3 251.0,120.9 247.2,112.6 242.9,104.5 238.0,96.5 232.6,88.8 226.7,81.4 220.3,74.4 213.3,67.8 205.8,61.7 197.8,56.3 189.3,51.5 180.5,47.5 171.3,44.4 161.9,42.1 152.2,40.8 142.6,40.4 132.9,41.0 123.3,42.6 114.0,45.0 109,45.0 109,411.7" fill="#ff1a00"/>
<polygon points="114.0,411.1 123.8,406.4 133.1,401.0 141.8,394.9 149.9,388.4 157.4,381.6 164.4,374.6 170.8,367.6 176.8,360.7 182.4,353.9 187.7,347.3 192.7,340.8 197.5,334.6 202.1,328.5 206.6,322.6 211.0,316.8 215.3,311.0 219.5,305.3 223.6,299.5 227.7,293.7 231.6,287.8 235.4,281.8 239.0,275.6 242.5,269.3 245.8,262.8 248.9,256.1 251.7,249.3 254.3,242.3 256.7,235.1 258.7,227.7 260.4,220.1 261.8,212.4 262.8,204.5 263.5,196.5 263.8,188.4 263.7,180.2 263.2,171.8 262.2,163.4 260.8,155.0 259.0,146.5 256.7,138.0 253.9,129.6 250.6,121.3 246.8,113.0 242.4,104.9 237.6,97.0 232.2,89.3 226.3,81.9 219.9,74.9 212.9,68.4 205.4,62.3 197.4,56.9 189.0,52.2 180.2,48.2 171.1,45.0 161.7,42.8 152.1,41.5 142.5,41.1 132.8,41.7 123.3,43.2 114.0,45.6 109,45.6 109,411.1" fill="#ff1100"/>
<polygon points="114.0,410.6 123.8,405.8 133.0,400.4 141.7,394.3 149.8,387.8 157.3,381.0 164.2,374.0 170.6,367.1 176.6,360.1 182.1,353.3 187.4,346.7 192.3,340.3 197.1,334.1 201.7,328.1 206.2,322.2 210.6,316.4 214.9,310.6 219.1,304.9 223.2,299.2 227.2,293.4 231.1,287.5 234.9,281.5 238.6,275.4 242.0,269.1 245.3,262.6 248.4,256.0 251.3,249.2 253.9,242.2 256.2,235.0 258.2,227.7 259.9,220.1 261.3,212.4 262.3,204.6 263.0,196.6 263.3,188.5 263.2,180.3 262.7,172.0 261.7,163.6 260.3,155.2 258.5,146.8 256.2,138.3 253.4,129.9 250.1,121.6 246.3,113.4 242.0,105.3 237.2,97.4 231.8,89.7 225.9,82.4 219.5,75.4 212.5,68.9 205.1,62.9 197.1,57.5 188.8,52.8 180.0,48.8 170.9,45.7 161.5,43.4 152.0,42.1 142.3,41.8 132.8,42.3 123.3,43.8 114.0,46.2 109,46.2 109,410.6" fill="#ff0700"/>
<polygon points="114.0,410.0 123.7,405.2 132.9,399.8 141.6,393.7 149.6,387.2 157.1,380.4 164.0,373.4 170.4,366.5 176.3,359.6 181.8,352.8 187.0,346.2 192.0,339.8 196.8,333.6 201.3,327.6 205.8,321.7 210.2,316.0 214.5,310.3 218.7,304.6 222.8,298.9 226.8,293.1 230.7,287.3 234.5,281.3 238.1,275.2 241.6,268.9 244.9,262.5 247.9,255.9 250.8,249.1 253.4,242.1 255.7,235.0 257.7,227.6 259.4,220.1 260.8,212.5 261.9,204.6 262.5,196.7 262.8,188.6 262.7,180.4 262.2,172.1 261.2,163.8 259.8,155.4 258.0,147.0 255.7,138.6 252.9,130.2 249.6,121.9 245.8,113.7 241.5,105.7 236.7,97.8 231.4,90.2 225.5,82.9 219.1,76.0 212.2,69.5 204.7,63.5 196.8,58.1 188.5,53.4 179.7,49.5 170.7,46.3 161.3,44.1 151.8,42.8 142.2,42.4 132.7,43.0 123.2,44.4 114.0,46.7 109,46.7 109,410.0" fill="#fc0000"/>
<polygon points="114.0,409.5 123.7,404.7 132.9,399.2 141.5,393.1 149.5,386.6 156.9,379.8 163.8,372.9 170.1,365.9 176.0,359.0 181.6,352.3 186.7,345.7 191.7,339.3 196.4,333.2 201.0,327.2 205.4,321.3 209.8,315.6 214.1,309.9 218.2,304.2 222.3,298.6 226.3,292.8 230.2,287.0 234.0,281.1 237.7,275.0 241.1,268.8 244.4,262.3 247.5,255.8 250.3,249.0 252.9,242.0 255.2,234.9 257.2,227.6 259.0,220.1 260.3,212.5 261.4,204.7 262.0,196.8 262.3,188.7 262.2,180.5 261.7,172.3 260.7,164.0 259.4,155.6 257.5,147.2 255.2,138.9 252.4,130.5 249.2,122.3 245.4,114.1 241.1,106.1 236.3,98.2 231.0,90.7 225.1,83.4 218.7,76.5 211.8,70.0 204.4,64.1 196.5,58.7 188.2,54.0 179.5,50.1 170.5,47.0 161.2,44.7 151.7,43.4 142.1,43.0 132.6,43.6 123.2,45.0 114.0,47.3 109,47.3 109,409.5" fill="#f20000"/>
<polygon points="114.0,408.9 123.7,404.1 132.8,398.6 141.4,392.5 149.4,386.0 156.8,379.2 163.6,372.3 169.9,365.3 175.8,358.4 181.3,351.7 186.4,345.2 191.4,338.8 196.1,332.7 200.6,326.7 205.1,320.9 209.4,315.2 213.7,309.6 217.8,303.9 221.9,298.3 225.9,292.6 229.8,286.8 233.6,280.8 237.2,274.8 240.7,268.6 243.9,262.2 247.0,255.6 249.8,248.9 252.4,242.0 254.7,234.9 256.8,227.6 258.5,220.1 259.9,212.5 260.9,204.7 261.6,196.8 261.8,188.8 261.7,180.7 261.2,172.5 260.3,164.2 258.9,155.8 257.1,147.5 254.8,139.1 252.0,130.8 248.7,122.6 245.0,114.4 240.7,106.5 235.9,98.7 230.6,91.1 224.7,83.9 218.4,77.0 211.5,70.5 204.1,64.6 196.2,59.3 187.9,54.6 179.3,50.7 170.3,47.6 161.0,45.4 151.6,44.0 142.0,43.6 132.6,44.2 123.2,45.6 114.0,47.9 109,47.9 109,408.9" fill="#e80000"/>
<polygon points="114.0,408.4 123.6,403.5 132.8,398.0 141.3,391.9 149.3,385.4 156.6,378.6 163.4,371.7 169.7,364.8 175.6,357.9 181.0,351.2 186.2,344.7 191.0,338.4 195.7,332.2 200.3,326.3 204.7,320.5 209.0,314.8 213.3,309.2 217.4,303.6 221.5,298.0 225.5,292.3 229.4,286.5 233.1,280.6 236.8,274.6 240.2,268.4 243.5,262.1 246.6,255.5 249.4,248.8 252.0,241.9 254.3,234.8 256.3,227.6 258.0,220.1 259.4,212.5 260.4,204.8 261.1,196.9 261.4,188.9 261.3,180.8 260.7,172.6 259.8,164.3 258.4,156.0 256.6,147.7 254.3,139.4 251.5,131.1 248.3,122.9 244.5,114.8 240.3,106.8 235.5,99.1 230.2,91.5 224.3,84.3 218.0,77.5 211.1,71.1 203.8,65.2 195.9,59.9 187.7,55.2 179.0,51.3 170.1,48.2 160.8,46.0 151.4,44.7 141.9,44.3 132.5,44.8 123.1,46.2 114.0,48.5 109,48.5 109,408.4" fill="#de0000"/>
<polygon points="114.0,407.8 123.6,403.0 132.7,397.5 141.2,391.3 149.1,384.8 156.5,378.0 163.2,371.1 169.5,364.2 175.3,357.4 180.7,350.7 185.9,344.2 190.7,337.9 195.4,331.8 199.9,325.9 204.3,320.1 208.7,314.5 212.9,308.9 217.0,303.3 221.1,297.7 225.1,292.0 229.0,286.3 232.7,280.4 236.3,274.4 239.8,268.2 243.0,261.9 246.1,255.4 248.9,248.7 251.5,241.8 253.8,234.8 255.8,227.5 257.5,220.1 258.9,212.6 260.0,204.8 260.6,197.0 260.9,189.0 260.8,180.9 260.3,172.8 259.3,164.5 258.0,156.2 256.1,148.0 253.8,139.7 251.1,131.4 247.8,123.2 244.1,115.1 239.8,107.2 235.1,99.5 229.8,92.0 224.0,84.8 217.6,78.0 210.8,71.6 203.5,65.7 195.7,60.4 187.4,55.8 178.8,51.9 169.9,48.8 160.7,46.6 151.3,45.3 141.9,44.9 132.4,45.4 123.1,46.8 114.0,49.0 109,49.0 109,407.8" fill="#d40000"/>
<polygon points="114.0,407.3 123.6,402.4 132.6,396.9 141.1,390.8 149.0,384.3 156.3,377.5 163.1,370.6 169.3,363.7 175.1,356.8 180.5,350.2 185.6,343.7 190.4,337.4 195.1,331.4 199.6,325.5 204.0,319.7 208.3,314.1 212.5,308.5 216.6,303.0 220.7,297.4 224.7,291.8 228.6,286.0 232.3,280.2 235.9,274.2 239.3,268.1 242.6,261.8 245.7,255.3 248.5,248.6 251.1,241.8 253.4,234.7 255.4,227.5 257.1,220.1 258.5,212.6 259.5,204.9 260.2,197.1 260.4,189.1 260.3,181.0 259.8,172.9 258.9,164.7 257.5,156.5 255.7,148.2 253.4,139.9 250.6,131.7 247.4,123.5 243.7,115.5 239.4,107.6 234.7,99.9 229.4,92.4 223.6,85.3 217.3,78.5 210.5,72.1 203.1,66.3 195.4,61.0 187.2,56.4 178.6,52.5 169.7,49.4 160.5,47.2 151.2,45.9 141.8,45.5 132.4,46.0 123.1,47.4 114.0,49.6 109,49.6 109,407.3" fill="#ca0000"/>
<polygon points="114.0,406.8 123.6,401.9 132.6,396.3 141.0,390.2 148.9,383.7 156.2,376.9 162.9,370.0 169.1,363.1 174.8,356.3 180.2,349.7 185.3,343.2 190.1,337.0 194.8,330.9 199.3,325.1 203.6,319.3 207.9,313.7 212.1,308.2 216.3,302.7 220.3,297.1 224.3,291.5 228.1,285.8 231.9,280.0 235.5,274.0 238.9,267.9 242.2,261.6 245.2,255.2 248.0,248.5 250.6,241.7 252.9,234.7 254.9,227.5 256.6,220.1 258.0,212.6 259.0,204.9 259.7,197.1 260.0,189.2 259.9,181.2 259.4,173.1 258.4,164.9 257.1,156.6 255.2,148.4 253.0,140.2 250.2,132.0 247.0,123.8 243.2,115.8 239.0,108.0 234.3,100.3 229.0,92.8 223.2,85.7 216.9,78.9 210.1,72.6 202.8,66.8 195.1,61.5 186.9,56.9 178.3,53.1 169.5,50.0 160.3,47.8 151.0,46.5 141.7,46.1 132.3,46.6 123.1,47.9 114.0,50.1 109,50.1 109,406.8" fill="#c00000"/>
<polygon points="114.0,406.3 123.5,401.4 132.5,395.8 140.9,389.7 148.8,383.1 156.0,376.4 162.7,369.5 168.9,362.6 174.6,355.8 180.0,349.2 185.0,342.7 189.8,336.5 194.5,330.5 198.9,324.6 203.3,319.0 207.6,313.4 211.8,307.8 215.9,302.3 219.9,296.8 223.9,291.2 227.7,285.6 231.5,279.8 235.1,273.8 238.5,267.8 241.7,261.5 244.8,255.1 247.6,248.4 250.2,241.6 252.5,234.6 254.5,227.5 256.2,220.1 257.6,212.6 258.6,205.0 259.3,197.2 259.5,189.3 259.4,181.3 258.9,173.2 258.0,165.0 256.6,156.8 254.8,148.6 252.5,140.4 249.8,132.3 246.6,124.2 242.8,116.2 238.6,108.3 233.9,100.7 228.6,93.3 222.9,86.2 216.6,79.4 209.8,73.1 202.5,67.3 194.8,62.1 186.7,57.5 178.1,53.7 169.3,50.6 160.2,48.4 150.9,47.1 141.6,46.6 132.2,47.1 123.0,48.5 114.0,50.6 109,50.6 109,406.3" fill="#b50000"/>
<polygon points="114.0,405.8 123.5,400.8 132.5,395.3 140.9,389.1 148.7,382.6 155.9,375.8 162.5,368.9 168.7,362.1 174.4,355.3 179.7,348.7 184.8,342.2 189.5,336.0 194.1,330.1 198.6,324.2 203.0,318.6 207.2,313.0 211.4,307.5 215.5,302.0 219.5,296.5 223.5,291.0 227.3,285.3 231.1,279.6 234.7,273.7 238.1,267.6 241.3,261.4 244.4,254.9 247.2,248.3 249.7,241.6 252.0,234.6 254.1,227.4 255.7,220.1 257.1,212.7 258.1,205.0 258.8,197.3 259.1,189.4 259.0,181.4 258.5,173.3 257.5,165.2 256.2,157.0 254.4,148.8 252.1,140.7 249.4,132.5 246.1,124.5 242.4,116.5 238.2,108.7 233.5,101.1 228.2,93.7 222.5,86.6 216.2,79.9 209.5,73.6 202.2,67.8 194.5,62.6 186.4,58.1 177.9,54.2 169.1,51.2 160.0,49.0 150.8,47.7 141.5,47.2 132.2,47.7 123.0,49.0 114.0,51.2 109,51.2 109,405.8" fill="#ab0000"/>
<polygon points="114.0,405.3 123.5,400.3 132.4,394.7 140.8,388.6 148.5,382.0 155.7,375.3 162.3,368.4 168.5,361.5 174.2,354.8 179.5,348.2 184.5,341.8 189.3,335.6 193.8,329.6 198.3,323.8 202.6,318.2 206.9,312.7 211.0,307.2 215.1,301.7 219.2,296.3 223.1,290.7 226.9,285.1 230.7,279.4 234.2,273.5 237.7,267.4 240.9,261.2 243.9,254.8 246.8,248.2 249.3,241.5 251.6,234.5 253.6,227.4 255.3,220.1 256.7,212.7 257.7,205.1 258.4,197.3 258.7,189.5 258.6,181.5 258.0,173.5 257.1,165.4 255.7,157.2 253.9,149.1 251.7,140.9 248.9,132.8 245.7,124.8 242.0,116.8 237.8,109.0 233.1,101.4 227.9,94.1 222.1,87.0 215.9,80.3 209.2,74.1 201.9,68.3 194.3,63.1 186.2,58.6 177.7,54.8 168.9,51.8 159.9,49.6 150.7,48.2 141.4,47.8 132.1,48.3 123.0,49.6 114.0,51.7 109,51.7 109,405.3" fill="#a10000"/>
<polygon points="114.0,404.8 123.4,399.8 132.4,394.2 140.7,388.0 148.4,381.5 155.6,374.7 162.2,367.9 168.3,361.0 173.9,354.3 179.2,347.7 184.2,341.3 189.0,335.2 193.5,329.2 198.0,323.5 202.3,317.8 206.5,312.3 210.7,306.9 214.8,301.4 218.8,296.0 222.7,290.5 226.6,284.9 230.3,279.2 233.8,273.3 237.3,267.3 240.5,261.1 243.5,254.7 246.3,248.2 248.9,241.4 251.2,234.5 253.2,227.4 254.9,220.1 256.3,212.7 257.3,205.1 257.9,197.4 258.2,189.6 258.1,181.6 257.6,173.6 256.7,165.5 255.3,157.4 253.5,149.3 251.3,141.2 248.5,133.1 245.3,125.0 241.6,117.1 237.4,109.4 232.7,101.8 227.5,94.5 221.8,87.5 215.6,80.8 208.9,74.6 201.6,68.8 194.0,63.7 185.9,59.1 177.5,55.3 168.7,52.3 159.7,50.1 150.5,48.8 141.3,48.4 132.1,48.8 122.9,50.1 114.0,52.2 109,52.2 109,404.8" fill="#970000"/>
<polygon points="114.0,404.3 123.4,399.3 132.3,393.7 140.6,387.5 148.3,381.0 155.4,374.2 162.0,367.4 168.1,360.5 173.7,353.8 179.0,347.2 184.0,340.9 188.7,334.7 193.2,328.8 197.6,323.1 202.0,317.5 206.2,312.0 210.3,306.6 214.4,301.2 218.4,295.7 222.3,290.2 226.2,284.7 229.9,279.0 233.4,273.1 236.9,267.1 240.1,261.0 243.1,254.6 245.9,248.1 248.5,241.4 250.8,234.5 252.8,227.4 254.5,220.1 255.8,212.7 256.8,205.2 257.5,197.5 257.8,189.7 257.7,181.8 257.2,173.8 256.3,165.7 254.9,157.6 253.1,149.5 250.8,141.4 248.1,133.3 244.9,125.3 241.2,117.5 237.0,109.7 232.3,102.2 227.2,94.9 221.5,87.9 215.2,81.3 208.5,75.0 201.4,69.3 193.7,64.2 185.7,59.7 177.3,55.9 168.5,52.9 159.6,50.7 150.4,49.4 141.2,48.9 132.0,49.3 122.9,50.6 114.0,52.7 109,52.7 109,404.3" fill="#8d0000"/>
<polygon points="114.0,403.8 123.4,398.8 132.3,393.2 140.5,387.0 148.2,380.5 155.3,373.7 161.8,366.8 167.9,360.0 173.5,353.3 178.7,346.8 183.7,340.4 188.4,334.3 192.9,328.4 197.3,322.7 201.6,317.1 205.8,311.7 210.0,306.2 214.1,300.9 218.1,295.5 222.0,290.0 225.8,284.4 229.5,278.8 233.1,272.9 236.5,267.0 239.7,260.8 242.7,254.5 245.5,248.0 248.1,241.3 250.4,234.4 252.4,227.4 254.0,220.1 255.4,212.7 256.4,205.2 257.1,197.5 257.4,189.8 257.3,181.9 256.8,173.9 255.8,165.9 254.5,157.8 252.7,149.7 250.4,141.6 247.7,133.6 244.5,125.6 240.8,117.8 236.7,110.1 232.0,102.6 226.8,95.3 221.1,88.3 214.9,81.7 208.2,75.5 201.1,69.8 193.5,64.7 185.4,60.2 177.1,56.4 168.4,53.4 159.4,51.2 150.3,49.9 141.1,49.5 132.0,49.9 122.9,51.2 114.0,53.2 109,53.2 109,403.8" fill="#830000"/>
<polygon points="114.0,403.3 123.4,398.3 132.2,392.7 140.4,386.5 148.1,379.9 155.2,373.2 161.7,366.3 167.7,359.5 173.3,352.8 178.5,346.3 183.4,340.0 188.1,333.9 192.6,328.0 197.0,322.3 201.3,316.8 205.5,311.3 209.6,305.9 213.7,300.6 217.7,295.2 221.6,289.8 225.4,284.2 229.1,278.6 232.7,272.8 236.1,266.8 239.3,260.7 242.3,254.4 245.1,247.9 247.7,241.2 249.9,234.4 251.9,227.3 253.6,220.1 255.0,212.8 256.0,205.3 256.7,197.6 257.0,189.8 256.9,182.0 256.3,174.0 255.4,166.0 254.1,158.0 252.3,149.9 250.0,141.9 247.3,133.8 244.1,125.9 240.4,118.1 236.3,110.4 231.6,102.9 226.4,95.7 220.8,88.7 214.6,82.1 207.9,76.0 200.8,70.3 193.2,65.2 185.2,60.7 176.8,57.0 168.2,54.0 159.3,51.8 150.2,50.5 141.0,50.0 131.9,50.4 122.9,51.7 114.0,53.7 109,53.7 109,403.3" fill="#800000"/>
<path d="M114.0 570.4 L118.6 571.6 L123.3 572.8 L127.9 573.8 L132.6 574.7 L137.4 575.5 L142.1 576.2 L146.9 576.7 L151.6 577.0 L156.4 577.3 L161.2 577.4 L166.0 577.4 L170.7 577.2 L175.5 576.8 L180.3 576.4 L185.0 575.8 L189.7 575.0 L194.4 574.1 L199.0 573.0 L203.6 571.8 L208.2 570.5 L212.7 569.0 L217.2 567.4 L221.7 565.7 L226.0 563.8 L230.4 561.8 L234.6 559.6 L238.9 557.4 L243.0 555.0 L247.1 552.5 L251.1 549.9 L255.0 547.2 L258.9 544.4 L262.7 541.5 L266.4 538.5 L270.0 535.5 L273.6 532.3 L277.1 529.1 L280.5 525.8 L283.9 522.4 L287.1 519.0 L290.3 515.5 L293.5 512.0 L296.5 508.4 L299.5 504.8 L302.4 501.1 L305.2 497.4 L308.0 493.6 L310.7 489.9 L313.3 486.1 L315.9 482.3 L318.4 478.5 L320.8 474.6 L323.2 470.8 L325.5 466.9 L327.8 463.0 L330.0 459.2 L332.1 455.3 L334.2 451.4 L336.3 447.5 L338.3 443.6 L340.2 439.8 L342.2 435.9 L344.0 432.0 L345.9 428.2 L347.6 424.3 L349.4 420.5 L351.1 416.6 L352.8 412.8 L354.4 409.0 L356.0 405.2 L357.6 401.4 L359.1 397.6 L360.6 393.8 L362.1 390.0 L363.5 386.3 L365.0 382.5 L366.3 378.8 L367.7 375.1 L369.0 371.3 L370.4 367.6 L371.6 363.9 L372.9 360.2 L374.1 356.5 L375.3 352.8 L376.5 349.1 L377.7 345.5 L378.9 341.8 L380.0 338.1 L381.1 334.5 L382.2 330.8 L383.2 327.2 L384.3 323.5 L385.3 319.9 L386.3 316.2 L387.3 312.6 L388.2 308.9 L389.1 305.3 L390.1 301.6 L391.0 298.0 L391.8 294.3 L392.7 290.7 L393.5 287.0 L394.3 283.3 L395.1 279.7 L395.9 276.0 L396.6 272.3 L397.4 268.7 L398.1 265.0 L398.8 261.3 L399.4 257.6 L400.1 253.9 L400.7 250.2 L401.3 246.4 L401.9 242.7 L402.4 239.0 L403.0 235.2 L403.5 231.5 L404.0 227.7 L404.4 223.9 L404.9 220.1 L405.3 216.3 L405.7 212.5 L406.1 208.7 L406.4 204.9 L406.7 201.0 L407.0 197.1 L407.3 193.3 L407.5 189.4 L407.7 185.5 L407.9 181.6 L408.0 177.6 L408.2 173.7 L408.3 169.7 L408.3 165.8 L408.4 161.8 L408.4 157.8 L408.3 153.8 L408.3 149.7 L408.2 145.7 L408.1 141.6 L407.9 137.5 L407.7 133.4 L407.5 129.3 L407.2 125.2 L406.9 121.0 L406.6 116.9 L406.2 112.7 L405.8 108.5 L405.4 104.3 L404.9 100.0 L404.4 95.8 L403.8 91.5 L403.2 87.3 L402.6 83.0 L401.9 78.7 L401.1 74.3M395.7 48.1 L394.6 43.7 L393.5 39.2 L392.3 34.8 L391.1 30.4 L389.8 25.9 L388.4 21.4 L387.0 17.0 L385.5 12.5 L384.0 8.0 L382.4 3.5 L380.8 -1.0 L379.0 -5.5 L377.3 -9.9 L375.4 -14.4 L373.5 -18.9 L371.5 -23.4 L369.4 -27.8 L367.3 -32.3 L365.1 -36.7 L362.8 -41.1 L360.4 -45.5 L358.0 -49.9 L355.4 -54.2 L352.8 -58.6 L350.2 -62.8 L347.4 -67.1 L344.5 -71.3 L341.6 -75.5 L338.6 -79.6 L335.5 -83.7 L332.3 -87.7 L329.0 -91.6 L325.6 -95.5 L322.2 -99.3 L318.6 -103.1 L315.0 -106.7 L311.3 -110.3 L307.5 -113.8 L303.6 -117.2 L299.6 -120.5 L295.5 -123.7 L291.4 -126.8 L287.1 -129.7 L282.8 -132.6 L278.4 -135.3 L273.9 -137.9 L269.4 -140.3 L264.8 -142.6 L260.1 -144.8 L255.3 -146.7 L250.5 -148.6 L245.6 -150.2 L240.7 -151.7 L235.7 -153.0 L230.6 -154.2 L225.5 -155.1 L220.4 -155.9 L215.3 -156.5 L210.1 -156.9 L204.9 -157.1 L199.7 -157.1 L194.4 -156.9 L189.2 -156.5 L183.9 -155.9 L178.7 -155.2 L173.5 -154.2 L168.3 -153.0 L163.1 -151.7 L158.0 -150.1 L152.9 -148.4 L147.8 -146.5 L142.8 -144.4 L137.8 -142.1 L132.9 -139.6 L128.1 -137.0 L123.3 -134.2 L118.6 -131.3 L114.0 -128.3" fill="none" stroke="#000" stroke-width="1.25" stroke-opacity="0.7"/>
<path d="M114.0 505.7 L117.8 505.8 L121.5 505.9 L125.3 505.8 L129.0 505.6 L132.8 505.4 L136.5 505.0 L140.2 504.6 L143.9 504.0 L147.6 503.4 L151.3 502.6 L155.0 501.8 L158.6 500.9 L162.2 499.8 L165.8 498.7 L169.4 497.5 L172.9 496.2 L176.4 494.8 L179.8 493.3 L183.2 491.7 L186.6 490.1 L189.9 488.4 L193.2 486.5 L196.4 484.7 L199.6 482.7 L202.8 480.7 L205.9 478.6 L208.9 476.5 L211.9 474.3 L214.8 472.0 L217.7 469.7 L220.6 467.3 L223.4 464.9 L226.1 462.4 L228.8 459.9 L231.4 457.4 L234.0 454.8 L236.5 452.2 L239.0 449.6 L241.5 447.0 L243.9 444.3 L246.2 441.6 L248.5 438.9 L250.8 436.1 L253.0 433.4 L255.1 430.6 L257.3 427.8 L259.3 425.1 L261.4 422.3 L263.4 419.5 L265.3 416.7 L267.3 413.9 L269.2 411.1 L271.0 408.3 L272.8 405.5 L274.6 402.7 L276.4 399.9 L278.1 397.1 L279.8 394.3 L281.5 391.5 L283.1 388.7 L284.8 385.9 L286.3 383.1 L287.9 380.3 L289.4 377.6 L291.0 374.8 L292.5 372.0 L293.9 369.3 L295.4 366.5 L296.8 363.7 L298.2 361.0 L299.6 358.2 L301.0 355.5 L302.3 352.7 L303.6 350.0 L304.9 347.3 L306.2 344.5 L307.5 341.8 L308.7 339.1 L310.0 336.3 L311.2 333.6 L312.4 330.8 L313.6 328.1 L314.7 325.4 L315.9 322.6 L317.0 319.9 L318.1 317.2 L319.2 314.4 L320.3 311.7 L321.4 308.9 L322.4 306.1 L323.4 303.4 L324.4 300.6 L325.4 297.9 L326.4 295.1 L327.3 292.3 L328.3 289.5 L329.2 286.7 L330.1 283.9 L331.0 281.1 L331.8 278.3 L332.7 275.5 L333.5 272.6 L334.3 269.8 L335.1 267.0 L335.9 264.1 L336.6 261.2 L337.4 258.4 L338.1 255.5 L338.7 252.6 L339.4 249.7 L340.1 246.8 L340.7 243.9 L341.3 240.9 L341.9 238.0 L342.4 235.0 L343.0 232.1 L343.5 229.1 L344.0 226.1 L344.4 223.1 L344.9 220.1 L345.3 217.1 L345.7 214.1 L346.1 211.0 L346.4 208.0 L346.7 204.9 L347.0 201.8 L347.3 198.8 L347.5 195.7 L347.7 192.6 L347.9 189.4 L348.1 186.3 L348.2 183.2 L348.3 180.0 L348.4 176.8 L348.5 173.6 L348.5 170.5 L348.5 167.3 L348.4 164.0 L348.4 160.8 L348.3 157.6 L348.1 154.3 L348.0 151.1 L347.8 147.8 L347.6 144.5 L347.3 141.2 L347.0 137.9 L346.7 134.6 L346.3 131.3 L345.9 127.9 L345.5 124.6 L345.0 121.2 L344.5 117.8 L344.0 114.5 L343.4 111.1 L342.8 107.7 L342.1 104.3 L341.4 100.9 L340.7 97.5 L339.9 94.0 L339.1 90.6 L338.2 87.2 L337.3 83.7 L336.4 80.3M327.2 52.7 L325.8 49.2 L324.4 45.8 L322.9 42.3 L321.4 38.9 L319.8 35.5 L318.2 32.1 L316.5 28.6 L314.7 25.3 L312.9 21.9 L311.1 18.5 L309.2 15.2 L307.2 11.8 L305.2 8.5 L303.1 5.3 L300.9 2.0 L298.7 -1.2 L296.5 -4.4 L294.1 -7.6 L291.7 -10.7 L289.3 -13.8 L286.7 -16.8 L284.2 -19.8 L281.5 -22.8 L278.8 -25.7 L276.0 -28.5 L273.2 -31.3 L270.3 -34.1 L267.3 -36.7 L264.3 -39.3 L261.2 -41.9 L258.1 -44.3 L254.9 -46.7 L251.6 -49.0 L248.3 -51.2 L244.9 -53.4 L241.5 -55.4 L238.0 -57.4 L234.4 -59.2 L230.8 -61.0 L227.2 -62.6 L223.5 -64.1 L219.8 -65.6 L216.0 -66.9 L212.2 -68.1 L208.3 -69.1 L204.4 -70.1 L200.5 -70.9 L196.6 -71.6 L192.6 -72.2 L188.6 -72.6 L184.6 -72.9 L180.6 -73.1 L176.5 -73.1 L172.5 -73.0 L168.5 -72.8 L164.4 -72.4 L160.4 -71.9 L156.4 -71.3 L152.4 -70.5 L148.4 -69.6 L144.4 -68.6 L140.5 -67.4 L136.6 -66.1 L132.7 -64.7 L128.9 -63.2 L125.1 -61.5 L121.4 -59.8 L117.7 -57.9 L114.0 -56.0" fill="none" stroke="#000" stroke-width="1.25" stroke-opacity="0.95"/>
<path d="M114.0 473.6 L117.3 473.2 L120.6 472.8 L123.9 472.3 L127.2 471.7 L130.5 471.0 L133.8 470.2 L137.0 469.4 L140.2 468.5 L143.4 467.5 L146.5 466.4 L149.7 465.2 L152.8 464.0 L155.8 462.7 L158.9 461.4 L161.9 460.0 L164.8 458.5 L167.8 456.9 L170.7 455.3 L173.5 453.6 L176.3 451.9 L179.1 450.1 L181.8 448.3 L184.5 446.4 L187.1 444.5 L189.8 442.5 L192.3 440.5 L194.8 438.5 L197.3 436.4 L199.7 434.3 L202.1 432.1 L204.5 429.9 L206.8 427.8 L209.0 425.5 L211.2 423.3 L213.4 421.0 L215.6 418.8 L217.7 416.5 L219.7 414.2 L221.8 411.9 L223.7 409.6 L225.7 407.2 L227.6 404.9 L229.5 402.6 L231.4 400.2 L233.2 397.9 L235.0 395.6 L236.7 393.2 L238.5 390.9 L240.2 388.5 L241.9 386.2 L243.5 383.9 L245.2 381.5 L246.8 379.2 L248.3 376.9 L249.9 374.6 L251.4 372.2 L253.0 369.9 L254.5 367.6 L255.9 365.3 L257.4 363.0 L258.8 360.7 L260.3 358.4 L261.7 356.1 L263.0 353.9 L264.4 351.6 L265.8 349.3 L267.1 347.0 L268.4 344.7 L269.7 342.5 L271.0 340.2 L272.3 337.9 L273.6 335.7 L274.8 333.4 L276.0 331.1 L277.3 328.8 L278.5 326.6 L279.7 324.3 L280.8 322.0 L282.0 319.7 L283.1 317.4 L284.3 315.2 L285.4 312.9 L286.5 310.6 L287.6 308.3 L288.7 306.0 L289.7 303.7 L290.8 301.3 L291.8 299.0 L292.8 296.7 L293.8 294.4 L294.8 292.0 L295.8 289.7 L296.7 287.3 L297.7 284.9 L298.6 282.6 L299.5 280.2 L300.4 277.8 L301.3 275.4 L302.1 273.0 L303.0 270.6 L303.8 268.2 L304.6 265.7 L305.4 263.3 L306.1 260.8 L306.9 258.4 L307.6 255.9 L308.3 253.4 L309.0 250.9 L309.7 248.4 L310.3 245.9 L311.0 243.4 L311.6 240.8 L312.2 238.3 L312.7 235.7 L313.3 233.1 L313.8 230.6 L314.3 228.0 L314.8 225.4 L315.2 222.8 L315.7 220.1 L316.1 217.5 L316.5 214.8 L316.8 212.2 L317.2 209.5 L317.5 206.8 L317.8 204.1 L318.1 201.4 L318.3 198.7 L318.5 196.0 L318.7 193.3 L318.9 190.5 L319.0 187.8 L319.1 185.0 L319.2 182.2 L319.3 179.4 L319.3 176.6 L319.3 173.8 L319.3 171.0 L319.2 168.2 L319.1 165.4 L319.0 162.5 L318.8 159.7 L318.7 156.8 L318.5 153.9 L318.2 151.0 L317.9 148.2 L317.6 145.3 L317.3 142.4 L316.9 139.4 L316.5 136.5 L316.1 133.6 L315.6 130.7 L315.1 127.7 L314.6 124.8 L314.0 121.8 L313.4 118.9 L312.8 115.9 L312.1 113.0 L311.4 110.0 L310.6 107.0 L309.8 104.0 L309.0 101.1 L308.1 98.1 L307.2 95.1 L306.2 92.1 L305.2 89.2 L304.2 86.2 L303.1 83.2 L302.0 80.2M289.9 53.8 L288.3 50.9 L286.7 48.0 L285.1 45.1 L283.3 42.3 L281.6 39.5 L279.8 36.7 L277.9 33.9 L276.0 31.1 L274.0 28.4 L272.0 25.7 L269.9 23.0 L267.8 20.4 L265.6 17.8 L263.4 15.2 L261.1 12.7 L258.8 10.2 L256.4 7.8 L253.9 5.4 L251.5 3.0 L248.9 0.7 L246.3 -1.5 L243.7 -3.7 L241.0 -5.9 L238.3 -7.9 L235.5 -9.9 L232.6 -11.9 L229.7 -13.8 L226.8 -15.6 L223.8 -17.3 L220.8 -18.9 L217.7 -20.5 L214.6 -22.0 L211.5 -23.4 L208.3 -24.7 L205.1 -26.0 L201.8 -27.1 L198.6 -28.1 L195.3 -29.1 L191.9 -29.9 L188.5 -30.7 L185.2 -31.3 L181.8 -31.9 L178.3 -32.3 L174.9 -32.7 L171.4 -32.9 L168.0 -33.0 L164.5 -33.0 L161.1 -32.9 L157.6 -32.7 L154.1 -32.4 L150.7 -32.0 L147.2 -31.5 L143.8 -30.9 L140.4 -30.1 L137.0 -29.3 L133.6 -28.4 L130.3 -27.4 L127.0 -26.2 L123.7 -25.0 L120.4 -23.7 L117.2 -22.3 L114.0 -20.8" fill="none" stroke="#000" stroke-width="1.25" stroke-opacity="0.95"/>
<path d="M114.0 453.0 L117.1 452.4 L120.1 451.7 L123.1 450.9 L126.1 450.0 L129.1 449.1 L132.0 448.1 L134.9 447.1 L137.8 446.0 L140.7 444.8 L143.5 443.5 L146.3 442.2 L149.1 440.9 L151.8 439.4 L154.5 438.0 L157.2 436.4 L159.8 434.9 L162.4 433.3 L164.9 431.6 L167.5 429.9 L169.9 428.1 L172.4 426.3 L174.8 424.5 L177.1 422.7 L179.4 420.8 L181.7 418.9 L183.9 416.9 L186.1 415.0 L188.3 413.0 L190.4 411.0 L192.5 408.9 L194.5 406.9 L196.5 404.9 L198.5 402.8 L200.4 400.7 L202.4 398.7 L204.2 396.6 L206.1 394.5 L207.9 392.4 L209.6 390.3 L211.4 388.2 L213.1 386.1 L214.8 384.1 L216.5 382.0 L218.1 379.9 L219.7 377.8 L221.3 375.7 L222.9 373.7 L224.4 371.6 L226.0 369.5 L227.5 367.5 L228.9 365.4 L230.4 363.4 L231.9 361.4 L233.3 359.3 L234.7 357.3 L236.1 355.3 L237.5 353.3 L238.9 351.2 L240.2 349.2 L241.5 347.2M293.8 236.6 L294.3 234.3 L294.9 231.9 L295.4 229.6 L295.9 227.2 L296.4 224.9 L296.8 222.5 L297.2 220.1 L297.6 217.7 L298.0 215.3 L298.4 212.9 L298.7 210.5 L299.0 208.0 L299.3 205.6 L299.6 203.1 L299.8 200.7 L300.0 198.2 L300.2 195.7 L300.4 193.2 L300.5 190.7 L300.6 188.2 L300.7 185.6 L300.8 183.1 L300.8 180.6 L300.8 178.0 L300.8 175.4 L300.7 172.9 L300.6 170.3 L300.5 167.7 L300.4 165.1 L300.2 162.5 L300.0 159.9 L299.8 157.3 L299.5 154.6 L299.3 152.0 L298.9 149.4 L298.6 146.7 L298.2 144.1 L297.8 141.4 L297.4 138.8 L296.9 136.1 L296.4 133.4 L295.8 130.8 L295.2 128.1 L294.6 125.4 L294.0 122.7 L293.3 120.1 L292.6 117.4 L291.8 114.7 L291.0 112.0 L290.2 109.3 L289.4 106.6 L288.5 104.0 L287.5 101.3 L286.6 98.6 L285.5 95.9 L284.5 93.3 L283.4 90.6 L282.3 87.9 L281.1 85.3 L279.9 82.6 L278.6 80.0 L277.3 77.4 L276.0 74.7 L274.6 72.1 L273.2 69.6 L271.8 67.0M256.6 44.6 L254.7 42.2 L252.8 39.9 L250.8 37.6 L248.7 35.3 L246.7 33.1 L244.5 30.9 L242.4 28.7 L240.1 26.6 L237.9 24.5 L235.5 22.5 L233.2 20.5 L230.8 18.5 L228.3 16.6 L225.9 14.8 L223.3 13.0 L220.8 11.3 L218.2 9.6 L215.5 8.0 L212.8 6.5 L210.1 5.0 L207.3 3.6 L204.5 2.3 L201.7 1.1 L198.8 -0.1 L195.9 -1.2 L193.0 -2.3 L190.1 -3.2 L187.1 -4.1 L184.1 -4.9 L181.1 -5.6 L178.0 -6.2 L175.0 -6.7 L171.9 -7.1 L168.8 -7.5 L165.7 -7.8 L162.6 -7.9 L159.5 -8.0 L156.4 -8.0 L153.3 -7.9 L150.2 -7.7 L147.1 -7.4 L144.0 -7.0 L140.9 -6.6 L137.9 -6.0 L134.8 -5.4 L131.8 -4.7 L128.7 -3.9 L125.7 -3.0 L122.8 -2.0 L119.8 -1.0 L116.9 0.1 L114.0 1.3" fill="none" stroke="#000" stroke-width="1.25" stroke-opacity="0.95"/>
<path d="M114.0 438.2 L116.9 437.4 L119.7 436.5 L122.5 435.5 L125.3 434.5 L128.0 433.5 L130.8 432.3 L133.5 431.2 L136.1 429.9 L138.8 428.6 L141.4 427.3 L143.9 425.9 L146.5 424.4 L149.0 422.9 L151.4 421.4 L153.9 419.8 L156.2 418.2 L158.6 416.5 L160.9 414.9 L163.2 413.1 L165.4 411.4 L167.6 409.6 L169.8 407.8 L171.9 406.0 L174.0 404.1 L176.0 402.3 L178.1 400.4 L180.0 398.5 L182.0 396.6 L183.9 394.7 L185.7 392.7 L187.6 390.8 L189.4 388.9 L191.2 386.9 L192.9 385.0 L194.6 383.0 L196.3 381.1M287.2 169.0 L287.1 166.6 L286.9 164.1 L286.7 161.7 L286.4 159.3 L286.2 156.8 L285.9 154.4 L285.5 151.9 L285.2 149.5 L284.8 147.0 L284.3 144.6 L283.9 142.1 L283.4 139.6 L282.9 137.1 L282.3 134.7 L281.7 132.2 L281.1 129.7 L280.5 127.2 L279.8 124.7 L279.0 122.3 L278.3 119.8 L277.5 117.3 L276.7 114.8 L275.8 112.4 L274.9 109.9 L274.0 107.4 L273.0 105.0 L272.0 102.5 L271.0 100.1 L269.9 97.6 L268.8 95.2 L267.7 92.8 L266.5 90.3 L265.3 87.9 L264.0 85.5 L262.7 83.1 L261.4 80.8 L260.0 78.4 L258.6 76.1 L257.1 73.7 L255.6 71.4 L254.1 69.1 L252.5 66.8M234.5 45.5 L232.4 43.5 L230.4 41.6 L228.2 39.7 L226.1 37.8 L223.9 36.0 L221.7 34.3 L219.4 32.5 L217.1 30.9 L214.8 29.3 L212.4 27.7 L210.0 26.2 L207.5 24.7 L205.0 23.3 L202.5 22.0 L200.0 20.7 L197.4 19.5 L194.8 18.3 L192.2 17.2 L189.5 16.2 L186.8 15.3 L184.1 14.4 L181.3 13.6 L178.6 12.8 L175.8 12.2 L173.0 11.6 L170.2 11.1 L167.4 10.6 L164.6 10.3 L161.7 10.0 L158.9 9.8 L156.0 9.7 L153.1 9.6 L150.3 9.7 L147.4 9.8 L144.6 10.0 L141.7 10.3 L138.9 10.6 L136.0 11.1 L133.2 11.6 L130.4 12.1 L127.6 12.8 L124.9 13.5 L122.1 14.3 L119.4 15.2 L116.7 16.1 L114.0 17.1" fill="none" stroke="#000" stroke-width="1.25" stroke-opacity="0.95"/>
<path d="M114.0 426.8 L116.7 425.8 L119.4 424.8 L122.0 423.8 L124.7 422.7 L127.2 421.5 L129.8 420.3 L132.3 419.0 L134.8 417.7 L137.3 416.3 L139.7 414.9 L142.1 413.4 L144.5 411.9 L146.8 410.4 L149.1 408.8 L151.3 407.2 L153.5 405.5 L155.7 403.9 L157.9 402.2 L160.0 400.4 L162.0 398.7 L164.0 396.9 L166.0 395.2 L168.0 393.4 L169.9 391.6M269.3 128.1 L268.6 125.7 L267.8 123.4 L267.0 121.1 L266.2 118.8 L265.3 116.5 L264.4 114.2 L263.5 111.9 L262.6 109.6 L261.6 107.3 L260.5 105.0 L259.5 102.7 L258.4 100.5 L257.2 98.2 L256.1 96.0 L254.9 93.7 L253.6 91.5 L252.3 89.3 L251.0 87.1 L249.7 84.9 L248.3 82.8 L246.9 80.6 L245.4 78.5 L243.9 76.4 L242.3 74.3 L240.8 72.2 L239.2 70.2 L237.5 68.1M216.9 47.8 L214.8 46.2 L212.6 44.6 L210.5 43.1 L208.3 41.6 L206.0 40.1 L203.8 38.7 L201.5 37.4 L199.1 36.1 L196.8 34.8 L194.4 33.6 L192.0 32.5 L189.5 31.4 L187.1 30.4 L184.6 29.4 L182.1 28.6 L179.5 27.7 L177.0 27.0 L174.4 26.3 L171.8 25.6 L169.2 25.1 L166.6 24.6 L163.9 24.1 L161.3 23.8 L158.6 23.5 L156.0 23.3 L153.3 23.1 L150.7 23.0 L148.0 23.0 L145.3 23.1 L142.6 23.2 L140.0 23.4 L137.3 23.7 L134.7 24.1 L132.0 24.5 L129.4 25.0 L126.8 25.5 L124.2 26.1 L121.6 26.8 L119.1 27.5 L116.5 28.3 L114.0 29.2" fill="none" stroke="#000" stroke-width="1.25" stroke-opacity="0.95"/>
<path d="M114.0 417.6 L116.6 416.6 L119.1 415.5 L121.7 414.3 L124.2 413.1 L126.6 411.9 L129.0 410.6 L131.4 409.2 L133.8 407.9 L136.1 406.4 L138.4 405.0 L140.7 403.5 L142.9 401.9 L145.1 400.3 L147.2 398.7 L149.3 397.1M245.1 96.1 L243.9 94.0 L242.6 92.0 L241.2 90.0 L239.9 87.9 L238.5 85.9 L237.0 84.0 L235.6 82.0 L234.0 80.1 L232.5 78.1 L230.9 76.2 L229.3 74.4 L227.7 72.5 L226.0 70.7 L224.3 68.9 L222.5 67.1 L220.7 65.4 L218.9 63.7 L217.0 62.0 L215.1 60.4 L213.2 58.8 L211.3 57.2 L209.3 55.7M185.4 41.8 L183.1 40.9 L180.7 40.0 L178.3 39.1 L175.9 38.3 L173.5 37.6 L171.1 36.9 L168.6 36.3 L166.2 35.8 L163.7 35.3 L161.2 34.9 L158.7 34.5 L156.2 34.2 L153.7 34.0 L151.2 33.8 L148.7 33.7 L146.2 33.7 L143.6 33.7 L141.1 33.8 L138.6 33.9 L136.1 34.1 L133.6 34.4 L131.1 34.8 L128.6 35.2 L126.1 35.6 L123.7 36.2 L121.2 36.7 L118.8 37.4 L116.4 38.1 L114.0 38.8" fill="none" stroke="#000" stroke-width="1.25" stroke-opacity="0.95"/>
<ellipse cx="114.0" cy="220.12" rx="181.25" ry="180.62" fill="#000"/>
<text transform="translate(398.6 61.3) rotate(78.3)" x="0" y="4.1" text-anchor="middle" style="font-family:'Liberation Sans',sans-serif;font-weight:bold;font-size:11.5px" fill="#000" fill-opacity="0.55" textLength="21" stroke="#000" stroke-width="0.5" stroke-opacity="0.5" lengthAdjust="spacingAndGlyphs">100</text>
<text transform="translate(332.1 66.5) rotate(71.6)" x="0" y="4.1" text-anchor="middle" style="font-family:'Liberation Sans',sans-serif;font-weight:bold;font-size:11.5px" fill="#000" fill-opacity="1" textLength="21" stroke="#000" stroke-width="0.5" stroke-opacity="1" lengthAdjust="spacingAndGlyphs">200</text>
<text transform="translate(295.7 65.4) rotate(65.1)" x="0" y="4.1" text-anchor="middle" style="font-family:'Liberation Sans',sans-serif;font-weight:bold;font-size:11.5px" fill="#000" fill-opacity="1" textLength="21" stroke="#000" stroke-width="0.5" stroke-opacity="1" lengthAdjust="spacingAndGlyphs">300</text>
<text transform="translate(263.8 54.3) rotate(55.5)" x="0" y="4.1" text-anchor="middle" style="font-family:'Liberation Sans',sans-serif;font-weight:bold;font-size:11.5px" fill="#000" fill-opacity="1" textLength="21" stroke="#000" stroke-width="0.5" stroke-opacity="1" lengthAdjust="spacingAndGlyphs">400</text>
<text transform="translate(244.0 55.8) rotate(49.9)" x="0" y="4.1" text-anchor="middle" style="font-family:'Liberation Sans',sans-serif;font-weight:bold;font-size:11.5px" fill="#000" fill-opacity="1" textLength="21" stroke="#000" stroke-width="0.5" stroke-opacity="1" lengthAdjust="spacingAndGlyphs">500</text>
<text transform="translate(228.7 58.4) rotate(45.1)" x="0" y="4.1" text-anchor="middle" style="font-family:'Liberation Sans',sans-serif;font-weight:bold;font-size:11.5px" fill="#000" fill-opacity="1" textLength="21" stroke="#000" stroke-width="0.5" stroke-opacity="1" lengthAdjust="spacingAndGlyphs">600</text>
<text transform="translate(198.8 48.7) rotate(30.8)" x="0" y="4.1" text-anchor="middle" style="font-family:'Liberation Sans',sans-serif;font-weight:bold;font-size:11.5px" fill="#000" fill-opacity="1" textLength="21" stroke="#000" stroke-width="0.5" stroke-opacity="1" lengthAdjust="spacingAndGlyphs">700</text>
</g>
<clipPath id="cb2"><rect x="537.75" y="39.5" width="362.45" height="361.25"/></clipPath>
<g clip-path="url(#cb2)">
<rect x="537.75" y="39.5" width="362.45" height="361.25" fill="#000095"/>
<polygon points="362.6,663.9 390.9,677.2 420.3,688.3 450.6,697.0 481.6,703.3 513.1,707.0 544.8,708.2 576.5,706.7 608.0,702.8 639.1,696.3 669.4,687.3 698.8,676.0 727.2,662.3 754.1,646.5 779.6,628.6 803.4,608.8 825.3,587.4 845.3,564.3 863.2,540.0 878.9,514.5 892.4,488.2 903.6,461.2 912.7,433.7 919.7,406.1 924.6,378.5 927.8,351.1 929.5,324.1 929.9,297.5 929.5,271.5 928.6,245.9 927.5,220.6 926.3,195.5 925.0,170.3 923.7,144.9 921.9,119.1 919.4,92.9 915.8,66.3 910.7,39.4 904.0,12.4 895.4,-14.6 884.8,-41.3 872.0,-67.4 857.0,-92.8 840.0,-117.2 820.8,-140.3 799.6,-162.1 776.5,-182.2 751.7,-200.6 725.3,-216.9 697.6,-231.2 668.6,-243.1 638.6,-252.8 607.8,-260.0 576.5,-264.7 544.8,-266.8 513.1,-266.4 481.4,-263.5 450.2,-257.9 419.6,-249.9 389.7,-239.5 361.0,-226.7" fill="#000099"/>
<polygon points="366.1,655.0 393.8,668.1 422.6,679.0 452.3,687.5 482.7,693.6 513.6,697.3 544.7,698.4 575.8,697.0 606.6,693.1 637.1,686.8 666.8,678.0 695.6,666.9 723.4,653.5 749.8,638.0 774.8,620.4 798.1,601.1 819.6,580.0 839.2,557.5 856.7,533.6 872.1,508.6 885.3,482.8 896.3,456.4 905.2,429.5 912.0,402.4 916.9,375.4 920.0,348.5 921.6,322.0 922.1,296.0 921.7,270.4 920.8,245.3 919.7,220.6 918.5,196.0 917.3,171.3 916.0,146.4 914.2,121.1 911.8,95.4 908.2,69.4 903.3,43.0 896.7,16.5 888.3,-9.9 877.8,-36.0 865.3,-61.6 850.7,-86.5 833.9,-110.4 815.1,-133.1 794.4,-154.4 771.8,-174.2 747.5,-192.1 721.6,-208.2 694.4,-222.1 666.0,-233.9 636.6,-243.3 606.4,-250.4 575.7,-255.0 544.7,-257.1 513.6,-256.7 482.6,-253.8 452.0,-248.4 421.9,-240.5 392.7,-230.3 364.5,-217.8" fill="#00009c"/>
<polygon points="369.4,646.8 396.5,659.7 424.8,670.3 454.0,678.7 483.8,684.7 514.1,688.3 544.6,689.4 575.1,688.0 605.4,684.2 635.2,678.0 664.4,669.4 692.7,658.4 719.9,645.3 745.8,630.1 770.3,612.9 793.2,593.9 814.3,573.2 833.5,551.1 850.7,527.7 865.8,503.2 878.8,477.9 889.6,451.9 898.3,425.5 905.0,399.0 909.8,372.4 912.8,346.1 914.4,320.1 914.9,294.6 914.5,269.5 913.6,244.9 912.5,220.6 911.3,196.4 910.2,172.2 908.9,147.8 907.1,123.0 904.7,97.8 901.3,72.2 896.4,46.4 890.0,20.4 881.7,-5.5 871.4,-31.2 859.1,-56.3 844.8,-80.7 828.4,-104.2 809.9,-126.5 789.6,-147.4 767.4,-166.7 743.5,-184.3 718.2,-200.1 691.4,-213.8 663.6,-225.3 634.7,-234.6 605.1,-241.5 575.0,-246.0 544.6,-248.1 514.0,-247.7 483.6,-244.8 453.6,-239.5 424.1,-231.8 395.5,-221.8 367.8,-209.5" fill="#00009f"/>
<polygon points="372.4,639.2 399.1,651.8 426.9,662.3 455.5,670.5 484.8,676.4 514.5,679.9 544.5,681.0 574.4,679.7 604.2,675.9 633.5,669.8 662.1,661.4 689.9,650.6 716.7,637.7 742.1,622.8 766.2,605.9 788.7,587.2 809.4,566.9 828.2,545.2 845.1,522.2 859.9,498.2 872.7,473.3 883.3,447.8 891.9,421.9 898.4,395.8 903.1,369.7 906.1,343.8 907.7,318.3 908.1,293.2 907.8,268.6 906.9,244.4 905.8,220.6 904.7,196.9 903.5,173.1 902.2,149.1 900.6,124.7 898.2,100.0 894.8,74.9 890.0,49.5 883.7,24.0 875.6,-1.5 865.5,-26.7 853.4,-51.4 839.3,-75.3 823.2,-98.4 805.1,-120.3 785.1,-140.8 763.3,-159.8 739.9,-177.1 715.0,-192.6 688.7,-206.0 661.3,-217.3 633.0,-226.4 604.0,-233.2 574.4,-237.7 544.5,-239.7 514.5,-239.3 484.6,-236.5 455.1,-231.3 426.2,-223.7 398.0,-213.9 370.9,-201.8" fill="#0000a3"/>
<polygon points="375.2,632.1 401.4,644.5 428.7,654.8 456.9,662.9 485.7,668.7 514.9,672.1 544.4,673.2 573.8,671.9 603.1,668.2 631.9,662.2 660.0,653.9 687.4,643.3 713.6,630.7 738.7,616.0 762.3,599.4 784.4,581.0 804.8,561.1 823.3,539.7 839.9,517.1 854.5,493.5 867.0,469.0 877.5,443.9 885.9,418.5 892.3,392.8 897.0,367.2 899.9,341.8 901.5,316.7 901.9,292.0 901.5,267.8 900.7,244.0 899.6,220.6 898.5,197.3 897.3,173.9 896.1,150.3 894.4,126.4 892.1,102.0 888.7,77.3 884.1,52.4 877.8,27.3 869.8,2.3 860.0,-22.5 848.1,-46.7 834.2,-70.3 818.4,-93.0 800.6,-114.5 780.9,-134.7 759.5,-153.4 736.5,-170.4 712.0,-185.6 686.2,-198.8 659.3,-209.9 631.4,-218.9 602.8,-225.5 573.8,-229.9 544.4,-231.9 514.9,-231.5 485.5,-228.8 456.5,-223.6 428.1,-216.2 400.4,-206.5 373.7,-194.6" fill="#0000a6"/>
<polygon points="377.8,625.4 403.7,637.7 430.5,647.8 458.2,655.7 486.5,661.4 515.3,664.8 544.3,665.9 573.3,664.6 602.0,661.0 630.4,655.1 658.1,646.9 685.0,636.5 710.8,624.0 735.5,609.6 758.7,593.3 780.5,575.2 800.5,555.6 818.7,534.5 835.1,512.3 849.4,489.1 861.7,465.0 872.0,440.3 880.3,415.3 886.6,390.0 891.2,364.8 894.1,339.8 895.6,315.1 896.0,290.8 895.6,267.0 894.8,243.7 893.8,220.6 892.7,197.6 891.6,174.7 890.3,151.4 888.7,127.9 886.4,103.9 883.1,79.7 878.5,55.1 872.4,30.4 864.5,5.8 854.8,-18.6 843.1,-42.4 829.4,-65.6 813.8,-87.9 796.3,-109.1 777.0,-128.9 755.9,-147.3 733.3,-164.1 709.2,-179.0 683.8,-192.0 657.3,-203.0 629.9,-211.8 601.8,-218.3 573.2,-222.6 544.3,-224.6 515.3,-224.2 486.4,-221.5 457.9,-216.5 429.9,-209.2 402.7,-199.6 376.4,-187.9" fill="#0000a9"/>
<polygon points="380.3,619.2 405.7,631.2 432.2,641.2 459.5,649.1 487.3,654.7 515.7,658.0 544.2,659.0 572.7,657.8 601.0,654.2 629.0,648.4 656.2,640.3 682.7,630.1 708.2,617.8 732.4,603.6 755.3,587.5 776.7,569.7 796.5,550.4 814.4,529.7 830.5,507.8 844.6,484.9 856.8,461.2 866.9,436.9 875.0,412.3 881.3,387.4 885.7,362.6 888.6,338.0 890.1,313.7 890.5,289.8 890.2,266.3 889.3,243.3 888.3,220.6 887.2,198.0 886.1,175.4 884.9,152.5 883.3,129.3 881.0,105.7 877.8,81.8 873.3,57.6 867.2,33.3 859.5,9.1 849.9,-14.9 838.4,-38.4 825.0,-61.2 809.6,-83.2 792.4,-104.0 773.3,-123.6 752.6,-141.7 730.3,-158.1 706.5,-172.9 681.6,-185.7 655.5,-196.4 628.5,-205.1 600.8,-211.6 572.7,-215.8 544.2,-217.8 515.6,-217.4 487.2,-214.7 459.1,-209.7 431.6,-202.5 404.7,-193.2 378.9,-181.7" fill="#0000ad"/>
<polygon points="382.6,613.3 407.7,625.2 433.8,635.0 460.6,642.7 488.1,648.3 516.0,651.6 544.1,652.6 572.2,651.4 600.1,647.8 627.6,642.1 654.5,634.2 680.6,624.1 705.7,612.0 729.6,598.0 752.2,582.1 773.2,564.6 792.7,545.6 810.4,525.2 826.2,503.6 840.1,481.0 852.1,457.7 862.1,433.8 870.1,409.5 876.2,385.0 880.6,360.5 883.5,336.2 884.9,312.3 885.3,288.8 885.0,265.7 884.2,243.0 883.2,220.6 882.1,198.3 881.0,176.0 879.8,153.5 878.2,130.7 876.0,107.4 872.8,83.9 868.4,60.0 862.4,36.1 854.8,12.2 845.3,-11.4 834.0,-34.6 820.8,-57.1 805.6,-78.7 788.6,-99.2 769.9,-118.5 749.4,-136.3 727.5,-152.6 704.1,-167.1 679.5,-179.7 653.8,-190.3 627.2,-198.9 599.9,-205.2 572.2,-209.4 544.1,-211.3 516.0,-210.9 488.0,-208.3 460.3,-203.4 433.1,-196.3 406.7,-187.1 381.2,-175.7" fill="#0000b0"/>
<polygon points="384.8,607.8 409.5,619.5 435.2,629.2 461.7,636.8 488.8,642.3 516.3,645.5 544.0,646.5 571.7,645.3 599.3,641.8 626.4,636.2 652.9,628.3 678.6,618.4 703.3,606.5 726.9,592.6 749.2,577.0 769.9,559.8 789.1,541.0 806.5,520.9 822.2,499.6 835.9,477.4 847.7,454.4 857.5,430.8 865.4,406.8 871.5,382.7 875.8,358.5 878.6,334.6 880.1,311.0 880.5,287.8 880.1,265.0 879.3,242.7 878.3,220.6 877.3,198.6 876.2,176.7 875.0,154.5 873.5,131.9 871.3,109.0 868.1,85.8 863.7,62.3 857.8,38.7 850.3,15.1 841.0,-8.1 829.8,-31.0 816.8,-53.2 801.9,-74.5 785.1,-94.7 766.6,-113.7 746.5,-131.3 724.8,-147.3 701.7,-161.6 677.5,-174.0 652.1,-184.5 625.9,-192.9 599.1,-199.2 571.7,-203.3 544.0,-205.2 516.3,-204.9 488.7,-202.3 461.4,-197.4 434.6,-190.4 408.6,-181.3 383.4,-170.2" fill="#0000b3"/>
<polygon points="386.9,602.6 411.3,614.1 436.6,623.7 462.8,631.2 489.5,636.6 516.6,639.8 544.0,640.8 571.3,639.5 598.4,636.1 625.2,630.5 651.3,622.8 676.7,613.0 701.1,601.3 724.4,587.6 746.3,572.2 766.8,555.2 785.7,536.7 802.9,516.8 818.3,495.8 831.9,473.9 843.5,451.2 853.2,427.9 861.0,404.3 867.0,380.5 871.3,356.7 874.0,333.1 875.4,309.8 875.8,286.9 875.5,264.4 874.7,242.4 873.7,220.6 872.7,198.9 871.6,177.2 870.5,155.3 868.9,133.1 866.8,110.5 863.6,87.6 859.3,64.4 853.5,41.1 846.1,17.9 836.9,-5.1 825.9,-27.6 813.0,-49.5 798.3,-70.5 781.8,-90.5 763.5,-109.2 743.7,-126.6 722.3,-142.3 699.5,-156.4 675.6,-168.7 650.6,-179.0 624.8,-187.4 598.2,-193.6 571.2,-197.6 544.0,-199.5 516.6,-199.1 489.4,-196.5 462.4,-191.8 436.0,-184.9 410.3,-175.9 385.5,-164.9" fill="#0000b6"/>
<polygon points="388.9,597.6 412.9,609.0 438.0,618.4 463.7,625.8 490.1,631.2 516.9,634.3 543.9,635.3 570.9,634.1 597.7,630.7 624.1,625.2 649.9,617.6 674.9,607.9 699.0,596.3 721.9,582.9 743.6,567.6 763.8,550.8 782.5,532.6 799.5,513.0 814.7,492.3 828.1,470.6 839.5,448.2 849.1,425.2 856.8,401.9 862.7,378.4 867.0,354.9 869.7,331.6 871.1,308.6 871.5,286.0 871.1,263.9 870.3,242.1 869.4,220.6 868.3,199.2 867.3,177.8 866.1,156.2 864.6,134.3 862.5,112.0 859.4,89.3 855.2,66.5 849.4,43.5 842.1,20.6 833.0,-2.1 822.2,-24.4 809.5,-46.0 794.9,-66.7 778.6,-86.4 760.6,-104.9 741.0,-122.0 719.9,-137.6 697.5,-151.5 673.8,-163.7 649.2,-173.9 623.6,-182.1 597.5,-188.2 570.8,-192.2 543.9,-194.0 516.9,-193.7 490.0,-191.1 463.4,-186.4 437.4,-179.6 412.0,-170.7 387.5,-159.9" fill="#0000ba"/>
<polygon points="390.8,592.9 414.5,604.1 439.2,613.5 464.7,620.8 490.7,626.0 517.2,629.1 543.8,630.1 570.5,628.9 596.9,625.6 623.0,620.2 648.5,612.6 673.2,603.1 697.0,591.6 719.7,578.3 741.1,563.3 761.0,546.7 779.5,528.7 796.2,509.3 811.2,488.9 824.4,467.5 835.8,445.4 845.2,422.7 852.8,399.6 858.7,376.4 862.8,353.2 865.5,330.2 866.9,307.5 867.3,285.2 867.0,263.3 866.2,241.8 865.2,220.6 864.2,199.5 863.2,178.3 862.1,157.0 860.6,135.3 858.4,113.3 855.4,91.0 851.2,68.4 845.6,45.7 838.3,23.1 829.4,0.7 818.6,-21.3 806.1,-42.6 791.7,-63.1 775.6,-82.6 757.8,-100.9 738.5,-117.8 717.6,-133.2 695.5,-146.9 672.1,-158.9 647.8,-168.9 622.6,-177.0 596.7,-183.1 570.4,-187.0 543.8,-188.8 517.2,-188.5 490.6,-186.0 464.4,-181.3 438.6,-174.6 413.6,-165.9 389.4,-155.1" fill="#0000bd"/>
<polygon points="392.5,588.4 416.0,599.5 440.4,608.7 465.6,616.0 491.3,621.1 517.4,624.2 543.8,625.2 570.1,624.0 596.2,620.7 622.0,615.3 647.2,607.9 671.6,598.5 695.1,587.2 717.5,574.0 738.6,559.2 758.3,542.8 776.6,524.9 793.1,505.8 808.0,485.6 821.0,464.5 832.2,442.6 841.5,420.2 849.1,397.5 854.8,374.5 858.9,351.6 861.6,328.9 863.0,306.5 863.3,284.4 863.0,262.8 862.2,241.6 861.3,220.6 860.3,199.7 859.3,178.9 858.2,157.8 856.7,136.4 854.6,114.6 851.6,92.5 847.4,70.2 841.9,47.8 834.7,25.4 825.9,3.3 815.3,-18.4 802.9,-39.4 788.7,-59.7 772.8,-78.9 755.2,-97.0 736.1,-113.7 715.5,-128.9 693.6,-142.5 670.5,-154.3 646.5,-164.2 621.6,-172.2 596.0,-178.2 570.0,-182.1 543.8,-183.9 517.4,-183.6 491.2,-181.1 465.3,-176.5 439.8,-169.9 415.1,-161.2 391.2,-150.6" fill="#0000c0"/>
<polygon points="394.2,584.1 417.4,595.1 441.6,604.2 466.4,611.4 491.9,616.5 517.7,619.5 543.7,620.5 569.7,619.3 595.6,616.1 621.0,610.8 645.9,603.4 670.0,594.1 693.3,582.9 715.4,569.9 736.3,555.2 755.8,539.0 773.8,521.4 790.2,502.5 804.8,482.6 817.7,461.7 828.8,440.1 838.0,417.9 845.4,395.4 851.1,372.8 855.2,350.1 857.8,327.6 859.2,305.5 859.6,283.7 859.2,262.3 858.5,241.3 857.5,220.6 856.6,200.0 855.6,179.3 854.4,158.5 853.0,137.3 850.9,115.8 848.0,94.0 843.8,72.0 838.3,49.8 831.3,27.7 822.5,5.8 812.0,-15.6 799.8,-36.4 785.8,-56.4 770.0,-75.4 752.7,-93.3 733.8,-109.8 713.4,-124.8 691.8,-138.2 669.0,-149.9 645.2,-159.8 620.6,-167.7 595.4,-173.6 569.7,-177.4 543.7,-179.2 517.7,-178.9 491.7,-176.4 466.1,-171.9 441.0,-165.3 416.5,-156.8 392.9,-146.3" fill="#0000c4"/>
<polygon points="395.9,580.1 418.8,590.9 442.6,599.9 467.2,607.0 492.4,612.0 517.9,615.0 543.6,616.0 569.4,614.8 594.9,611.6 620.1,606.4 644.7,599.1 668.6,589.9 691.5,578.8 713.4,566.0 734.1,551.5 753.4,535.4 771.1,518.0 787.3,499.4 801.8,479.6 814.6,459.0 825.5,437.6 834.6,415.7 842.0,393.5 847.6,371.0 851.7,348.7 854.2,326.4 855.6,304.5 856.0,283.0 855.6,261.8 854.9,241.1 854.0,220.6 853.0,200.2 852.0,179.8 850.9,159.2 849.5,138.3 847.4,117.0 844.5,95.4 840.4,73.6 835.0,51.7 828.0,29.9 819.3,8.2 809.0,-13.0 796.9,-33.5 783.0,-53.3 767.4,-72.1 750.3,-89.8 731.6,-106.1 711.5,-120.9 690.1,-134.2 667.5,-145.8 644.0,-155.5 619.7,-163.3 594.7,-169.1 569.3,-173.0 543.6,-174.7 517.9,-174.4 492.3,-171.9 466.9,-167.5 442.1,-161.0 417.9,-152.5 394.6,-142.2" fill="#0000c7"/>
<polygon points="397.4,576.2 420.1,586.9 443.7,595.8 468.0,602.8 492.9,607.8 518.1,610.8 543.6,611.7 569.0,610.6 594.3,607.4 619.2,602.2 643.5,595.0 667.2,585.9 689.9,574.9 711.5,562.2 731.9,547.9 751.0,532.0 768.6,514.8 784.6,496.3 799.0,476.8 811.6,456.4 822.4,435.2 831.4,413.6 838.7,391.6 844.3,369.4 848.3,347.3 850.8,325.3 852.1,303.6 852.5,282.3 852.2,261.4 851.5,240.9 850.5,220.6 849.6,200.4 848.6,180.2 847.5,159.9 846.1,139.2 844.1,118.1 841.2,96.8 837.1,75.2 831.7,53.6 824.8,31.9 816.3,10.6 806.0,-10.4 794.0,-30.8 780.3,-50.3 765.0,-68.9 748.0,-86.4 729.5,-102.5 709.6,-117.2 688.4,-130.4 666.1,-141.8 642.9,-151.4 618.8,-159.1 594.1,-164.9 569.0,-168.7 543.6,-170.4 518.1,-170.1 492.8,-167.7 467.7,-163.3 443.1,-156.8 419.2,-148.5 396.1,-138.2" fill="#0000ca"/>
<polygon points="398.9,572.4 421.3,583.0 444.7,591.8 468.8,598.7 493.4,603.7 518.4,606.6 543.5,607.6 568.7,606.5 593.7,603.3 618.4,598.2 642.4,591.0 665.8,582.0 688.3,571.2 709.7,558.6 729.9,544.4 748.8,528.7 766.2,511.7 782.0,493.4 796.2,474.1 808.7,453.9 819.4,433.0 828.3,411.5 835.5,389.8 841.1,367.8 845.0,345.9 847.5,324.2 848.8,302.7 849.2,281.6 848.9,261.0 848.2,240.6 847.2,220.6 846.3,200.6 845.3,180.7 844.2,160.5 842.8,140.0 840.8,119.2 838.0,98.1 834.0,76.8 828.7,55.3 821.8,33.9 813.4,12.8 803.2,-8.0 791.4,-28.1 777.8,-47.5 762.6,-65.9 745.8,-83.2 727.5,-99.1 707.8,-113.7 686.8,-126.7 664.8,-138.0 641.8,-147.5 618.0,-155.1 593.5,-160.8 568.7,-164.6 543.5,-166.3 518.3,-166.0 493.2,-163.6 468.4,-159.2 444.1,-152.9 420.5,-144.6 397.6,-134.4" fill="#0000ce"/>
<polygon points="400.3,568.8 422.5,579.3 445.6,588.0 469.5,594.9 493.8,599.8 518.6,602.7 543.5,603.6 568.4,602.5 593.2,599.4 617.5,594.3 641.4,587.3 664.5,578.3 686.7,567.6 707.9,555.2 728.0,541.1 746.6,525.6 763.9,508.7 779.6,490.6 793.6,471.5 805.9,451.5 816.5,430.8 825.4,409.6 832.5,388.0 838.0,366.3 841.9,344.7 844.4,323.1 845.7,301.9 846.0,281.0 845.7,260.5 845.0,240.4 844.1,220.6 843.2,200.9 842.2,181.1 841.1,161.1 839.7,140.9 837.8,120.3 834.9,99.4 831.0,78.2 825.7,57.0 818.9,35.8 810.6,14.9 800.5,-5.6 788.8,-25.6 775.4,-44.8 760.3,-63.0 743.7,-80.1 725.5,-95.9 706.1,-110.3 685.3,-123.1 663.5,-134.3 640.7,-143.7 617.2,-151.3 593.0,-157.0 568.4,-160.6 543.5,-162.3 518.5,-162.0 493.7,-159.7 469.2,-155.3 445.1,-149.0 421.7,-140.8 399.1,-130.8" fill="#0000d1"/>
<polygon points="401.7,565.4 423.7,575.8 446.6,584.4 470.2,591.2 494.3,596.0 518.8,598.9 543.4,599.8 568.1,598.7 592.6,595.6 616.8,590.6 640.4,583.6 663.3,574.8 685.3,564.2 706.3,551.9 726.1,538.0 744.6,522.6 761.6,505.9 777.2,488.0 791.1,469.0 803.3,449.2 813.8,428.7 822.6,407.7 829.6,386.4 835.0,364.9 838.9,343.4 841.3,322.1 842.6,301.1 843.0,280.4 842.7,260.2 842.0,240.2 841.1,220.6 840.1,201.0 839.2,181.5 838.1,161.7 836.8,141.6 834.8,121.3 832.0,100.6 828.1,79.6 822.9,58.6 816.2,37.7 807.9,16.9 797.9,-3.4 786.3,-23.2 773.0,-42.1 758.1,-60.2 741.6,-77.1 723.7,-92.7 704.4,-107.0 683.9,-119.7 662.3,-130.8 639.7,-140.1 616.4,-147.6 592.4,-153.2 568.1,-156.9 543.4,-158.5 518.7,-158.2 494.2,-155.9 469.9,-151.6 446.0,-145.4 422.8,-137.3 400.5,-127.3" fill="#0000d4"/>
<polygon points="403.0,562.1 424.8,572.4 447.5,580.9 470.8,587.6 494.7,592.4 519.0,595.3 543.4,596.2 567.8,595.1 592.1,592.0 616.0,587.0 639.4,580.1 662.1,571.4 683.9,560.9 704.7,548.7 724.3,534.9 742.6,519.7 759.5,503.1 774.9,485.4 788.7,466.6 800.8,447.0 811.1,426.7 819.8,405.9 826.8,384.8 832.2,363.5 836.0,342.2 838.4,321.1 839.7,300.3 840.1,279.8 839.8,259.8 839.0,240.0 838.2,220.6 837.2,201.2 836.3,181.8 835.3,162.3 833.9,142.4 831.9,122.2 829.2,101.7 825.3,81.0 820.1,60.2 813.5,39.4 805.3,18.9 795.4,-1.3 783.9,-20.8 770.8,-39.6 756.0,-57.5 739.7,-74.2 721.9,-89.7 702.8,-103.8 682.5,-116.4 661.1,-127.4 638.7,-136.6 615.6,-144.1 591.9,-149.6 567.8,-153.2 543.4,-154.9 518.9,-154.6 494.6,-152.3 470.5,-148.0 446.9,-141.9 423.9,-133.8 401.8,-124.0" fill="#0000d8"/>
<polygon points="404.3,558.9 425.9,569.1 448.3,577.5 471.4,584.2 495.1,588.9 519.1,591.8 543.4,592.7 567.6,591.6 591.6,588.6 615.3,583.6 638.4,576.8 660.9,568.1 682.5,557.7 703.1,545.6 722.5,532.0 740.7,516.9 757.4,500.5 772.7,482.9 786.3,464.3 798.3,444.9 808.6,424.8 817.2,404.2 824.1,383.3 829.4,362.2 833.2,341.1 835.6,320.2 836.9,299.6 837.3,279.3 836.9,259.4 836.2,239.9 835.4,220.6 834.5,201.4 833.5,182.2 832.5,162.8 831.1,143.1 829.2,123.1 826.5,102.8 822.6,82.3 817.5,61.7 810.9,41.1 802.8,20.8 793.0,0.8 781.6,-18.6 768.6,-37.2 754.0,-54.9 737.8,-71.5 720.2,-86.8 701.3,-100.8 681.1,-113.3 659.9,-124.2 637.8,-133.3 614.9,-140.7 591.4,-146.2 567.5,-149.7 543.4,-151.4 519.1,-151.1 495.0,-148.8 471.2,-144.6 447.8,-138.5 425.0,-130.5 403.1,-120.8" fill="#0000db"/>
<polygon points="405.5,555.8 426.9,565.9 449.1,574.3 472.1,580.9 495.5,585.6 519.3,588.4 543.3,589.3 567.3,588.2 591.1,585.2 614.6,580.3 637.5,573.5 659.8,565.0 681.2,554.6 701.6,542.7 720.9,529.1 738.9,514.2 755.4,497.9 770.5,480.5 784.1,462.1 795.9,442.9 806.1,422.9 814.7,402.5 821.5,381.8 826.8,360.9 830.5,340.0 832.9,319.3 834.2,298.8 834.5,278.8 834.2,259.1 833.5,239.7 832.7,220.6 831.8,201.6 830.8,182.6 829.8,163.3 828.5,143.8 826.6,124.0 823.8,103.9 820.0,83.6 815.0,63.1 808.4,42.7 800.4,22.6 790.7,2.8 779.4,-16.4 766.5,-34.8 752.0,-52.4 736.0,-68.8 718.5,-84.0 699.8,-97.9 679.8,-110.3 658.8,-121.0 636.9,-130.1 614.2,-137.4 590.9,-142.8 567.3,-146.4 543.3,-148.0 519.3,-147.7 495.4,-145.4 471.8,-141.3 448.6,-135.2 426.1,-127.3 404.3,-117.7" fill="#0000de"/>
<polygon points="406.7,552.8 427.9,562.9 449.9,571.2 472.6,577.7 495.9,582.4 519.5,585.2 543.3,586.0 567.1,585.0 590.7,582.0 613.9,577.1 636.7,570.4 658.7,561.9 679.9,551.7 700.2,539.8 719.3,526.4 737.1,511.6 753.5,495.5 768.5,478.2 781.9,460.0 793.7,440.9 803.8,421.2 812.2,400.9 819.0,380.4 824.2,359.6 827.9,339.0 830.3,318.4 831.6,298.2 831.9,278.2 831.6,258.7 830.9,239.5 830.1,220.6 829.2,201.8 828.3,182.9 827.2,163.8 825.9,144.5 824.0,124.9 821.3,104.9 817.5,84.8 812.5,64.5 806.1,44.3 798.1,24.3 788.5,4.7 777.3,-14.3 764.5,-32.6 750.1,-49.9 734.2,-66.2 717.0,-81.3 698.4,-95.1 678.6,-107.3 657.8,-118.0 636.0,-127.0 613.5,-134.2 590.5,-139.6 567.0,-143.1 543.3,-144.7 519.5,-144.4 495.8,-142.2 472.4,-138.1 449.4,-132.1 427.0,-124.2 405.5,-114.7" fill="#0000e2"/>
<polygon points="407.8,550.0 428.8,559.9 450.7,568.1 473.2,574.6 496.3,579.2 519.7,582.0 543.2,582.9 566.8,581.8 590.2,578.9 613.3,574.1 635.8,567.4 657.7,559.0 678.7,548.8 698.8,537.1 717.7,523.8 735.4,509.1 751.7,493.1 766.5,476.0 779.8,457.9 791.5,439.0 801.5,419.4 809.9,399.4 816.6,379.0 821.8,358.4 825.4,337.9 827.8,317.6 829.1,297.5 829.4,277.7 829.1,258.4 828.4,239.4 827.6,220.6 826.7,201.9 825.8,183.2 824.7,164.3 823.4,145.2 821.6,125.7 818.9,105.9 815.1,85.9 810.2,65.9 803.8,45.8 795.8,26.0 786.3,6.6 775.2,-12.3 762.5,-30.4 748.3,-47.6 732.6,-63.8 715.4,-78.7 697.0,-92.3 677.4,-104.5 656.7,-115.1 635.2,-124.0 612.9,-131.2 590.0,-136.5 566.8,-140.0 543.2,-141.6 519.6,-141.3 496.1,-139.1 472.9,-135.0 450.2,-129.0 428.0,-121.3 406.6,-111.8" fill="#0000e5"/>
<polygon points="408.9,547.2 429.8,557.0 451.4,565.2 473.8,571.6 496.6,576.2 519.8,579.0 543.2,579.8 566.6,578.8 589.8,575.9 612.6,571.1 635.0,564.5 656.7,556.1 677.5,546.1 697.4,534.4 716.2,521.2 733.7,506.7 749.9,490.8 764.6,473.9 777.8,455.9 789.3,437.2 799.3,417.8 807.6,397.9 814.3,377.6 819.4,357.3 823.0,336.9 825.4,316.8 826.6,296.8 826.9,277.3 826.6,258.1 826.0,239.2 825.1,220.6 824.2,202.1 823.4,183.5 822.3,164.8 821.0,145.8 819.2,126.5 816.5,106.9 812.8,87.1 807.9,67.2 801.5,47.3 793.7,27.7 784.3,8.4 773.2,-10.3 760.7,-28.3 746.5,-45.4 730.9,-61.4 713.9,-76.2 695.7,-89.7 676.2,-101.8 655.7,-112.3 634.4,-121.1 612.3,-128.2 589.6,-133.5 566.5,-137.0 543.2,-138.6 519.8,-138.2 496.5,-136.1 473.5,-132.0 450.9,-126.1 428.9,-118.4 407.7,-109.0" fill="#0000e8"/>
<polygon points="410.0,544.5 430.6,554.3 452.1,562.4 474.3,568.8 497.0,573.3 520.0,576.0 543.2,576.9 566.3,575.9 589.4,573.0 612.0,568.2 634.2,561.7 655.7,553.4 676.4,543.4 696.1,531.8 714.7,518.8 732.1,504.3 748.2,488.6 762.7,471.8 775.8,454.0 787.3,435.4 797.1,416.1 805.4,396.4 812.0,376.4 817.1,356.2 820.7,336.0 823.0,316.0 824.3,296.2 824.6,276.8 824.3,257.8 823.6,239.0 822.8,220.6 821.9,202.2 821.0,183.8 820.0,165.3 818.7,146.4 816.9,127.3 814.2,107.8 810.6,88.2 805.7,68.4 799.4,48.7 791.6,29.2 782.2,10.1 771.3,-8.4 758.8,-26.2 744.8,-43.2 729.3,-59.1 712.5,-73.8 694.4,-87.2 675.1,-99.1 654.8,-109.5 633.6,-118.3 611.7,-125.3 589.2,-130.6 566.3,-134.0 543.2,-135.6 519.9,-135.3 496.8,-133.1 474.0,-129.1 451.6,-123.2 429.8,-115.6 408.8,-106.3" fill="#0000ec"/>
<polygon points="411.0,541.9 431.5,551.6 452.8,559.7 474.8,566.0 497.3,570.5 520.1,573.2 543.1,574.0 566.1,573.0 589.0,570.1 611.4,565.4 633.4,558.9 654.8,550.7 675.3,540.8 694.9,529.3 713.3,516.4 730.6,502.0 746.5,486.5 761.0,469.8 773.9,452.1 785.3,433.7 795.1,414.6 803.2,395.0 809.8,375.1 814.9,355.1 818.5,335.1 820.8,315.2 822.0,295.6 822.3,276.4 822.0,257.5 821.3,238.9 820.5,220.6 819.6,202.4 818.8,184.1 817.8,165.7 816.5,147.0 814.7,128.0 812.0,108.7 808.4,89.2 803.5,69.6 797.3,50.1 789.6,30.8 780.3,11.8 769.5,-6.6 757.1,-24.3 743.2,-41.1 727.8,-56.8 711.1,-71.4 693.1,-84.7 674.0,-96.6 653.9,-106.9 632.8,-115.6 611.1,-122.6 588.8,-127.8 566.1,-131.2 543.1,-132.8 520.1,-132.5 497.2,-130.3 474.5,-126.3 452.3,-120.5 430.7,-112.9 409.9,-103.7" fill="#0000ef"/>
<polygon points="412.0,539.4 432.4,549.0 453.5,557.0 475.3,563.3 497.6,567.8 520.3,570.4 543.1,571.3 565.9,570.3 588.6,567.4 610.9,562.7 632.7,556.3 653.9,548.1 674.2,538.3 693.6,526.9 712.0,514.1 729.1,499.8 744.9,484.4 759.2,467.8 772.1,450.3 783.4,432.0 793.1,413.1 801.2,393.6 807.7,373.9 812.7,354.0 816.3,334.2 818.6,314.5 819.8,295.0 820.1,275.9 819.8,257.2 819.1,238.8 818.3,220.6 817.4,202.5 816.6,184.4 815.6,166.1 814.3,147.6 812.5,128.7 809.9,109.6 806.3,90.3 801.5,70.8 795.3,51.4 787.6,32.3 778.4,13.5 767.7,-4.8 755.4,-22.3 741.6,-39.0 726.3,-54.7 709.8,-69.1 691.9,-82.3 672.9,-94.1 653.0,-104.3 632.1,-113.0 610.5,-119.9 588.4,-125.1 565.9,-128.4 543.1,-130.0 520.2,-129.7 497.5,-127.6 475.0,-123.6 453.0,-117.8 431.6,-110.3 410.9,-101.1" fill="#0000f2"/>
<polygon points="413.0,537.0 433.2,546.5 454.2,554.4 475.8,560.7 497.9,565.1 520.4,567.8 543.1,568.6 565.7,567.6 588.2,564.8 610.3,560.1 632.0,553.7 653.0,545.6 673.2,535.9 692.5,524.6 710.6,511.8 727.6,497.7 743.3,482.4 757.5,465.9 770.3,448.6 781.5,430.4 791.1,411.6 799.2,392.3 805.6,372.7 810.6,353.0 814.1,333.3 816.4,313.8 817.6,294.5 817.9,275.5 817.6,256.9 817.0,238.6 816.2,220.6 815.3,202.7 814.4,184.7 813.5,166.5 812.2,148.1 810.4,129.4 807.8,110.4 804.2,91.3 799.5,72.0 793.3,52.7 785.7,33.7 776.6,15.0 765.9,-3.1 753.7,-20.5 740.0,-37.0 724.9,-52.6 708.5,-66.9 690.7,-80.0 671.9,-91.7 652.1,-101.9 631.4,-110.4 610.0,-117.3 588.0,-122.4 565.6,-125.8 543.0,-127.3 520.4,-127.0 497.8,-124.9 475.5,-121.0 453.7,-115.2 432.4,-107.8 411.8,-98.7" fill="#0000f6"/>
<polygon points="413.9,534.6 433.9,544.1 454.8,552.0 476.3,558.1 498.2,562.5 520.5,565.2 543.0,566.0 565.5,565.0 587.8,562.2 609.8,557.6 631.3,551.2 652.1,543.2 672.2,533.5 691.3,522.3 709.4,509.6 726.2,495.6 741.8,480.4 755.9,464.1 768.6,446.9 779.7,428.8 789.3,410.2 797.2,391.0 803.7,371.6 808.6,352.0 812.1,332.5 814.3,313.1 815.5,293.9 815.8,275.1 815.6,256.6 814.9,238.5 814.1,220.6 813.3,202.8 812.4,185.0 811.4,167.0 810.2,148.7 808.4,130.1 805.8,111.3 802.3,92.2 797.5,73.1 791.4,54.0 783.9,35.1 774.8,16.6 764.2,-1.4 752.1,-18.7 738.5,-35.1 723.5,-50.5 707.2,-64.8 689.6,-77.8 670.9,-89.4 651.2,-99.4 630.7,-107.9 609.4,-114.8 587.6,-119.9 565.4,-123.2 543.0,-124.7 520.5,-124.4 498.1,-122.3 476.0,-118.4 454.3,-112.7 433.2,-105.3 412.8,-96.3" fill="#0000f9"/>
<polygon points="414.8,532.3 434.7,541.7 455.4,549.5 476.7,555.7 498.5,560.0 520.7,562.7 543.0,563.5 565.3,562.5 587.4,559.7 609.3,555.1 630.6,548.8 651.3,540.9 671.2,531.2 690.2,520.1 708.1,507.5 724.8,493.6 740.3,478.5 754.3,462.3 766.9,445.2 777.9,427.3 787.4,408.8 795.3,389.8 801.7,370.5 806.6,351.1 810.1,331.6 812.3,312.4 813.5,293.4 813.8,274.7 813.5,256.4 812.9,238.4 812.1,220.6 811.2,202.9 810.4,185.2 809.4,167.3 808.2,149.2 806.4,130.8 803.9,112.1 800.3,93.2 795.6,74.2 789.6,55.2 782.1,36.4 773.1,18.1 762.6,0.2 750.5,-16.9 737.1,-33.2 722.2,-48.5 706.0,-62.7 688.5,-75.6 670.0,-87.1 650.4,-97.1 630.0,-105.5 608.9,-112.3 587.3,-117.4 565.2,-120.7 543.0,-122.2 520.7,-121.9 498.4,-119.8 476.4,-115.9 454.9,-110.3 433.9,-103.0 413.7,-94.0" fill="#0000fc"/>
<polygon points="415.7,530.1 435.5,539.4 456.0,547.2 477.2,553.3 498.8,557.6 520.8,560.2 543.0,561.0 565.1,560.0 587.1,557.3 608.8,552.7 630.0,546.5 650.5,538.6 670.3,529.0 689.1,518.0 706.9,505.5 723.5,491.7 738.8,476.7 752.8,460.6 765.3,443.6 776.2,425.8 785.6,407.4 793.5,388.6 799.8,369.4 804.7,350.1 808.2,330.9 810.4,311.7 811.5,292.8 811.9,274.3 811.6,256.1 810.9,238.2 810.1,220.6 809.3,203.0 808.5,185.5 807.5,167.7 806.3,149.7 804.5,131.4 802.0,112.8 798.5,94.1 793.8,75.2 787.8,56.4 780.3,37.8 771.4,19.5 761.0,1.8 749.0,-15.2 735.6,-31.4 720.9,-46.6 704.8,-60.7 687.4,-73.5 669.0,-84.9 649.6,-94.8 629.4,-103.2 608.4,-109.9 586.9,-115.0 565.1,-118.3 543.0,-119.8 520.8,-119.5 498.7,-117.4 476.9,-113.5 455.5,-107.9 434.7,-100.7 414.6,-91.7" fill="#0001ff"/>
<polygon points="416.6,527.9 436.2,537.2 456.6,544.9 477.6,550.9 499.1,555.3 520.9,557.8 542.9,558.6 564.9,557.7 586.8,554.9 608.3,550.4 629.3,544.2 649.7,536.3 669.4,526.9 688.1,515.9 705.7,503.5 722.2,489.8 737.4,474.9 751.3,458.9 763.7,442.0 774.6,424.4 783.9,406.1 791.7,387.4 798.0,368.4 802.8,349.2 806.3,330.1 808.5,311.1 809.6,292.3 809.9,273.9 809.7,255.9 809.0,238.1 808.2,220.6 807.4,203.2 806.6,185.7 805.6,168.1 804.4,150.2 802.6,132.0 800.1,113.6 796.7,94.9 792.0,76.2 786.0,57.5 778.6,39.0 769.8,20.9 759.4,3.3 747.6,-13.6 734.3,-29.7 719.6,-44.8 703.6,-58.7 686.4,-71.4 668.1,-82.8 648.8,-92.6 628.7,-100.9 607.9,-107.6 586.6,-112.6 564.9,-115.9 542.9,-117.4 520.9,-117.1 499.0,-115.0 477.3,-111.2 456.1,-105.6 435.4,-98.4 415.5,-89.6" fill="#0004ff"/>
<polygon points="417.4,525.8 436.9,535.0 457.1,542.7 478.0,548.7 499.4,553.0 521.1,555.5 542.9,556.3 564.7,555.4 586.4,552.6 607.8,548.2 628.7,542.0 649.0,534.2 668.5,524.8 687.0,513.9 704.6,501.6 721.0,487.9 736.1,473.1 749.8,457.3 762.1,440.5 772.9,423.0 782.2,404.9 790.0,386.3 796.2,367.4 801.0,348.3 804.4,329.3 806.6,310.5 807.8,291.9 808.1,273.6 807.8,255.6 807.2,238.0 806.4,220.6 805.6,203.3 804.7,186.0 803.8,168.5 802.6,150.7 800.8,132.6 798.3,114.3 794.9,95.8 790.3,77.2 784.3,58.6 777.0,40.3 768.2,22.3 757.9,4.8 746.1,-12.0 732.9,-28.0 718.3,-42.9 702.5,-56.8 685.4,-69.4 667.2,-80.7 648.1,-90.5 628.1,-98.7 607.5,-105.4 586.3,-110.3 564.7,-113.6 542.9,-115.1 521.0,-114.8 499.3,-112.7 477.7,-108.9 456.6,-103.4 436.1,-96.2 416.3,-87.4" fill="#0008ff"/>
<polygon points="418.2,523.8 437.6,532.9 457.7,540.5 478.4,546.5 499.6,550.7 521.2,553.3 542.9,554.1 564.6,553.1 586.1,550.4 607.3,546.0 628.1,539.8 648.2,532.1 667.6,522.7 686.1,511.9 703.5,499.7 719.7,486.1 734.7,471.5 748.4,455.7 760.6,439.1 771.4,421.6 780.6,403.6 788.3,385.1 794.5,366.4 799.3,347.5 802.7,328.6 804.8,309.9 806.0,291.4 806.3,273.2 806.0,255.4 805.4,237.9 804.6,220.6 803.8,203.4 802.9,186.2 802.0,168.8 800.8,151.2 799.1,133.2 796.6,115.0 793.2,96.6 788.6,78.2 782.7,59.7 775.4,41.5 766.6,23.6 756.4,6.2 744.7,-10.4 731.6,-26.3 717.1,-41.2 701.4,-54.9 684.4,-67.5 666.4,-78.7 647.3,-88.4 627.5,-96.6 607.0,-103.2 586.0,-108.1 564.5,-111.3 542.9,-112.8 521.1,-112.5 499.5,-110.5 478.2,-106.7 457.2,-101.2 436.8,-94.1 417.1,-85.4" fill="#000cff"/>
<polygon points="419.5,520.5 438.7,529.5 458.6,537.0 479.1,542.9 500.1,547.2 521.4,549.7 542.8,550.5 564.3,549.5 585.6,546.8 606.6,542.4 627.1,536.4 647.0,528.7 666.2,519.4 684.4,508.7 701.7,496.6 717.8,483.3 732.6,468.7 746.1,453.2 758.2,436.7 768.8,419.5 778.0,401.6 785.6,383.4 791.7,364.8 796.4,346.1 799.8,327.4 801.9,308.9 803.1,290.6 803.4,272.6 803.1,255.0 802.5,237.7 801.7,220.6 800.9,203.6 800.1,186.6 799.1,169.4 797.9,151.9 796.2,134.2 793.8,116.2 790.4,98.0 785.9,79.7 780.0,61.5 772.8,43.4 764.2,25.8 754.1,8.6 742.5,-7.9 729.5,-23.6 715.2,-38.3 699.6,-51.9 682.8,-64.3 665.0,-75.4 646.2,-85.0 626.6,-93.2 606.3,-99.7 585.4,-104.5 564.2,-107.7 542.8,-109.2 521.3,-108.9 499.9,-106.9 478.8,-103.2 458.1,-97.7 437.9,-90.7 418.4,-82.0" fill="#0012ff"/>
<polygon points="420.8,517.3 439.7,526.3 459.4,533.7 479.7,539.5 500.5,543.7 521.5,546.2 542.8,547.0 564.0,546.0 585.1,543.4 605.9,539.0 626.2,533.0 645.9,525.4 664.8,516.3 682.9,505.7 700.0,493.7 715.9,480.5 730.6,466.1 743.9,450.7 755.9,434.4 766.4,417.4 775.5,399.7 783.0,381.6 789.1,363.3 793.7,344.8 797.0,326.3 799.2,308.0 800.3,289.9 800.6,272.1 800.3,254.6 799.7,237.5 798.9,220.6 798.1,203.8 797.3,186.9 796.4,169.9 795.2,152.6 793.5,135.1 791.1,117.3 787.7,99.3 783.3,81.2 777.5,63.2 770.4,45.3 761.8,27.8 751.8,10.8 740.4,-5.5 727.5,-21.0 713.3,-35.6 697.9,-49.1 681.3,-61.3 663.6,-72.3 645.0,-81.8 625.6,-89.9 605.5,-96.3 584.9,-101.1 564.0,-104.3 542.8,-105.7 521.5,-105.4 500.4,-103.4 479.4,-99.8 458.9,-94.4 439.0,-87.4 419.7,-78.8" fill="#0018ff"/>
<polygon points="422.0,514.3 440.7,523.2 460.2,530.5 480.3,536.3 500.9,540.4 521.7,542.9 542.7,543.6 563.8,542.7 584.6,540.1 605.2,535.8 625.3,529.9 644.8,522.3 663.6,513.3 681.4,502.8 698.3,490.9 714.1,477.8 728.6,463.6 741.8,448.4 753.7,432.2 764.1,415.4 773.0,397.9 780.5,380.0 786.5,361.8 791.1,343.5 794.4,325.2 796.5,307.1 797.6,289.2 797.9,271.6 797.6,254.3 797.0,237.3 796.3,220.6 795.5,203.9 794.7,187.3 793.8,170.4 792.6,153.3 790.9,136.0 788.5,118.3 785.2,100.5 780.8,82.6 775.1,64.8 768.0,47.1 759.5,29.8 749.6,13.0 738.3,-3.2 725.6,-18.6 711.6,-33.0 696.3,-46.3 679.8,-58.5 662.4,-69.3 643.9,-78.7 624.7,-86.7 604.9,-93.1 584.5,-97.8 563.7,-101.0 542.7,-102.4 521.7,-102.1 500.7,-100.1 480.0,-96.5 459.7,-91.2 440.0,-84.3 420.9,-75.8" fill="#001eff"/>
<polygon points="423.1,511.4 441.7,520.2 461.0,527.4 480.9,533.2 501.2,537.2 521.9,539.7 542.7,540.4 563.5,539.5 584.2,536.9 604.5,532.7 624.4,526.8 643.8,519.3 662.3,510.4 680.0,500.0 696.7,488.3 712.3,475.3 726.7,461.2 739.8,446.1 751.6,430.1 761.9,413.4 770.7,396.1 778.1,378.4 784.1,360.4 788.6,342.3 791.9,324.2 794.0,306.2 795.0,288.5 795.3,271.1 795.1,254.0 794.5,237.2 793.7,220.6 792.9,204.1 792.1,187.6 791.2,170.9 790.1,154.0 788.4,136.8 786.1,119.4 782.8,101.7 778.4,84.0 772.7,66.3 765.7,48.8 757.3,31.7 747.5,15.0 736.3,-1.0 723.7,-16.2 709.8,-30.5 694.7,-43.7 678.4,-55.7 661.1,-66.4 642.9,-75.8 623.9,-83.6 604.2,-90.0 584.0,-94.7 563.5,-97.8 542.7,-99.2 521.9,-98.9 501.1,-97.0 480.6,-93.3 460.5,-88.1 441.0,-81.2 422.1,-72.9" fill="#0024ff"/>
<polygon points="424.3,508.6 442.6,517.3 461.7,524.5 481.4,530.1 501.6,534.2 522.0,536.6 542.7,537.4 563.3,536.5 583.7,533.9 603.9,529.7 623.6,523.8 642.7,516.5 661.1,507.6 678.7,497.3 695.2,485.7 710.7,472.8 724.9,458.9 737.9,443.9 749.5,428.1 759.7,411.6 768.5,394.5 775.8,376.9 781.7,359.1 786.2,341.1 789.4,323.2 791.5,305.4 792.6,287.8 792.9,270.6 792.6,253.6 792.0,237.0 791.3,220.6 790.5,204.3 789.7,187.9 788.8,171.4 787.7,154.6 786.0,137.6 783.7,120.3 780.4,102.9 776.1,85.3 770.5,67.8 763.5,50.5 755.2,33.5 745.5,17.0 734.4,1.1 722.0,-13.9 708.2,-28.1 693.2,-41.1 677.1,-53.0 660.0,-63.7 641.9,-72.9 623.1,-80.7 603.6,-87.0 583.6,-91.7 563.2,-94.7 542.7,-96.1 522.0,-95.8 501.5,-93.9 481.2,-90.3 461.3,-85.1 441.9,-78.3 423.2,-70.0" fill="#0029ff"/>
<polygon points="425.3,505.9 443.5,514.5 462.5,521.7 482.0,527.3 501.9,531.3 522.2,533.7 542.6,534.4 563.0,533.5 583.3,531.0 603.3,526.8 622.8,521.0 641.8,513.7 660.0,504.9 677.4,494.7 693.8,483.2 709.1,470.5 723.2,456.7 736.0,441.8 747.5,426.2 757.7,409.8 766.3,392.8 773.6,375.4 779.4,357.8 783.9,340.0 787.1,322.2 789.1,304.6 790.2,287.2 790.5,270.1 790.2,253.3 789.7,236.8 788.9,220.6 788.1,204.4 787.4,188.2 786.5,171.9 785.3,155.3 783.7,138.4 781.4,121.3 778.2,104.0 773.8,86.6 768.3,69.2 761.4,52.1 753.2,35.2 743.6,18.9 732.6,3.2 720.2,-11.7 706.6,-25.7 691.8,-38.7 675.8,-50.5 658.8,-61.0 640.9,-70.2 622.3,-77.9 603.0,-84.1 583.2,-88.7 563.0,-91.8 542.6,-93.2 522.2,-92.9 501.8,-91.0 481.7,-87.4 462.0,-82.3 442.8,-75.5 424.3,-67.3" fill="#002fff"/>
<polygon points="426.4,503.3 444.4,511.8 463.1,518.9 482.5,524.5 502.3,528.4 522.3,530.8 542.6,531.6 562.8,530.7 582.9,528.1 602.7,524.0 622.1,518.3 640.8,511.0 658.9,502.3 676.1,492.2 692.3,480.8 707.5,468.2 721.5,454.5 734.2,439.8 745.6,424.3 755.7,408.1 764.3,391.3 771.5,374.0 777.2,356.5 781.7,338.9 784.8,321.3 786.9,303.8 787.9,286.6 788.2,269.7 788.0,253.0 787.4,236.7 786.6,220.6 785.9,204.6 785.1,188.5 784.2,172.3 783.1,155.9 781.5,139.1 779.2,122.2 776.0,105.0 771.7,87.8 766.2,70.6 759.4,53.6 751.3,36.9 741.7,20.7 730.8,5.2 718.6,-9.6 705.1,-23.5 690.4,-36.3 674.6,-48.0 657.7,-58.5 640.0,-67.5 621.5,-75.2 602.4,-81.3 582.8,-85.9 562.8,-88.9 542.6,-90.3 522.3,-90.0 502.2,-88.1 482.2,-84.6 462.7,-79.5 443.7,-72.9 425.3,-64.7" fill="#0035ff"/>
<polygon points="427.3,500.8 445.2,509.3 463.8,516.3 483.0,521.8 502.6,525.7 522.5,528.1 542.5,528.8 562.6,527.9 582.5,525.4 602.1,521.3 621.3,515.6 639.9,508.5 657.8,499.8 674.9,489.8 691.0,478.5 706.0,466.0 719.9,452.4 732.5,437.9 743.8,422.5 753.7,406.4 762.3,389.7 769.4,372.7 775.1,355.3 779.5,337.9 782.7,320.4 784.7,303.1 785.7,286.0 786.0,269.2 785.7,252.7 785.2,236.6 784.4,220.6 783.7,204.7 782.9,188.8 782.1,172.7 780.9,156.4 779.3,139.9 777.1,123.0 773.9,106.0 769.6,89.0 764.2,71.9 757.5,55.1 749.4,38.5 739.9,22.5 729.1,7.1 717.0,-7.6 703.6,-21.3 689.0,-34.1 673.4,-45.6 656.7,-56.0 639.1,-65.0 620.8,-72.6 601.8,-78.7 582.4,-83.2 562.6,-86.2 542.5,-87.5 522.5,-87.3 502.5,-85.4 482.7,-81.9 463.4,-76.9 444.5,-70.3 426.3,-62.2" fill="#003bff"/>
<polygon points="428.3,498.4 446.0,506.8 464.5,513.7 483.5,519.2 502.9,523.1 522.6,525.4 542.5,526.2 562.4,525.3 582.1,522.8 601.6,518.7 620.6,513.1 639.1,506.0 656.8,497.4 673.7,487.5 689.7,476.3 704.6,463.9 718.3,450.4 730.8,436.0 742.0,420.8 751.9,404.8 760.3,388.3 767.4,371.4 773.1,354.2 777.4,336.9 780.5,319.6 782.5,302.4 783.6,285.4 783.9,268.8 783.6,252.5 783.0,236.4 782.3,220.6 781.6,204.8 780.8,189.1 780.0,173.1 778.8,157.0 777.3,140.6 775.0,123.9 771.9,107.0 767.6,90.1 762.2,73.2 755.6,56.5 747.6,40.1 738.2,24.2 727.5,8.9 715.5,-5.6 702.2,-19.3 687.7,-31.9 672.2,-43.4 655.7,-53.6 638.2,-62.5 620.1,-70.0 601.3,-76.1 582.0,-80.6 562.4,-83.5 542.5,-84.9 522.6,-84.6 502.8,-82.8 483.2,-79.3 464.0,-74.3 445.3,-67.7 427.3,-59.7" fill="#0041ff"/>
<polygon points="429.2,496.1 446.8,504.4 465.1,511.3 483.9,516.7 503.2,520.5 522.8,522.9 542.5,523.6 562.2,522.7 581.8,520.2 601.1,516.2 619.9,510.6 638.2,503.6 655.8,495.1 672.6,485.3 688.4,474.2 703.2,461.9 716.8,448.5 729.2,434.2 740.3,419.1 750.1,403.3 758.5,386.9 765.5,370.1 771.1,353.1 775.4,335.9 778.5,318.7 780.5,301.7 781.5,284.9 781.8,268.4 781.6,252.2 781.0,236.3 780.3,220.6 779.5,205.0 778.8,189.3 777.9,173.5 776.8,157.5 775.3,141.2 773.0,124.7 769.9,108.0 765.7,91.2 760.4,74.4 753.7,57.9 745.8,41.6 736.5,25.8 725.9,10.7 714.0,-3.7 700.8,-17.2 686.5,-29.7 671.1,-41.1 654.7,-51.3 637.4,-60.1 619.4,-67.6 600.8,-73.6 581.6,-78.1 562.2,-81.0 542.5,-82.3 522.7,-82.1 503.1,-80.2 483.7,-76.8 464.6,-71.8 446.1,-65.3 428.2,-57.4" fill="#0046ff"/>
<polygon points="430.1,493.8 447.6,502.0 465.7,508.9 484.4,514.2 503.5,518.1 522.9,520.4 542.5,521.1 562.0,520.2 581.4,517.8 600.5,513.8 619.3,508.3 637.4,501.3 654.8,492.9 671.5,483.1 687.2,472.1 701.8,459.9 715.4,446.6 727.7,432.5 738.7,417.4 748.4,401.8 756.7,385.5 763.6,368.9 769.2,352.0 773.5,334.9 776.5,317.9 778.5,301.0 779.5,284.4 779.8,268.0 779.6,251.9 779.0,236.2 778.3,220.6 777.6,205.1 776.8,189.6 776.0,173.9 774.9,158.0 773.3,141.9 771.1,125.5 768.0,108.9 763.9,92.2 758.6,75.6 752.0,59.2 744.1,43.1 734.9,27.4 724.4,12.4 712.5,-1.9 699.5,-15.3 685.3,-27.7 670.0,-39.0 653.7,-49.1 636.6,-57.8 618.7,-65.2 600.2,-71.2 581.3,-75.6 562.0,-78.5 542.5,-79.8 522.9,-79.6 503.4,-77.8 484.1,-74.4 465.3,-69.4 446.9,-63.0 429.1,-55.1" fill="#004cff"/>
<polygon points="431.0,491.6 448.3,499.8 466.3,506.6 484.8,511.9 503.8,515.7 523.0,518.0 542.4,518.7 561.8,517.8 581.1,515.4 600.1,511.4 618.6,506.0 636.6,499.0 653.9,490.7 670.4,481.0 686.0,470.1 700.5,458.0 713.9,444.8 726.1,430.8 737.1,415.9 746.7,400.3 754.9,384.2 761.8,367.7 767.4,350.9 771.6,334.0 774.6,317.1 776.6,300.4 777.6,283.9 777.9,267.6 777.6,251.7 777.1,236.0 776.4,220.6 775.6,205.2 774.9,189.8 774.1,174.3 773.0,158.5 771.4,142.5 769.2,126.2 766.2,109.8 762.1,93.3 756.8,76.8 750.3,60.5 742.5,44.5 733.3,29.0 722.9,14.1 711.2,-0.1 698.2,-13.4 684.1,-25.7 668.9,-36.9 652.8,-46.9 635.8,-55.6 618.1,-62.9 599.8,-68.8 580.9,-73.2 561.8,-76.1 542.4,-77.4 523.0,-77.2 503.7,-75.4 484.6,-72.0 465.8,-67.1 447.6,-60.7 430.0,-52.9" fill="#0052ff"/>
<polygon points="431.8,489.5 449.0,497.6 466.8,504.3 485.2,509.6 504.0,513.4 523.1,515.7 542.4,516.4 561.6,515.5 580.7,513.1 599.6,509.2 618.0,503.7 635.8,496.8 653.0,488.6 669.4,479.0 684.8,468.1 699.3,456.1 712.6,443.1 724.7,429.1 735.5,414.3 745.1,398.9 753.2,382.9 760.1,366.5 765.6,349.9 769.8,333.1 772.8,316.4 774.7,299.8 775.7,283.4 776.0,267.3 775.8,251.4 775.2,235.9 774.5,220.6 773.8,205.3 773.1,190.1 772.2,174.7 771.2,159.0 769.6,143.1 767.4,127.0 764.4,110.7 760.3,94.3 755.1,77.9 748.6,61.7 740.9,45.9 731.8,30.5 721.4,15.7 709.8,1.6 697.0,-11.6 683.0,-23.8 667.9,-34.9 651.9,-44.8 635.1,-53.5 617.5,-60.7 599.3,-66.6 580.6,-71.0 561.6,-73.8 542.4,-75.1 523.1,-74.9 503.9,-73.1 485.0,-69.7 466.4,-64.8 448.3,-58.5 430.9,-50.8" fill="#0058ff"/>
<polygon points="432.7,487.4 449.7,495.5 467.4,502.2 485.6,507.4 504.3,511.2 523.3,513.4 542.4,514.1 561.5,513.3 580.4,510.9 599.1,507.0 617.4,501.6 635.1,494.7 652.1,486.5 668.4,477.0 683.7,466.2 698.0,454.3 711.2,441.4 723.3,427.5 734.0,412.9 743.5,397.5 751.6,381.7 758.4,365.4 763.8,348.9 768.0,332.3 771.0,315.7 772.9,299.2 773.9,282.9 774.2,266.9 774.0,251.2 773.4,235.8 772.7,220.6 772.0,205.5 771.3,190.3 770.4,175.0 769.4,159.5 767.9,143.7 765.7,127.7 762.7,111.5 758.6,95.2 753.4,79.0 747.0,63.0 739.3,47.2 730.3,31.9 720.0,17.3 708.5,3.3 695.8,-9.8 681.9,-21.9 666.9,-33.0 651.1,-42.8 634.3,-51.4 616.9,-58.6 598.8,-64.4 580.3,-68.7 561.4,-71.6 542.4,-72.9 523.2,-72.6 504.2,-70.8 485.4,-67.5 467.0,-62.7 449.0,-56.4 431.7,-48.7" fill="#005eff"/>
<polygon points="433.4,485.4 450.3,493.4 467.9,500.1 486.0,505.3 504.6,509.0 523.4,511.2 542.3,511.9 561.3,511.1 580.1,508.7 598.7,504.8 616.8,499.5 634.4,492.7 651.3,484.5 667.4,475.1 682.6,464.4 696.8,452.6 710.0,439.7 721.9,426.0 732.6,411.4 742.0,396.2 750.0,380.5 756.7,364.3 762.2,348.0 766.3,331.4 769.3,314.9 771.2,298.6 772.2,282.4 772.4,266.6 772.2,251.0 771.7,235.7 771.0,220.6 770.3,205.6 769.5,190.5 768.7,175.3 767.7,159.9 766.2,144.3 764.0,128.4 761.0,112.3 757.0,96.2 751.8,80.1 745.5,64.1 737.8,48.5 728.9,33.3 718.7,18.8 707.2,4.9 694.6,-8.1 680.8,-20.1 666.0,-31.1 650.2,-40.8 633.6,-49.3 616.3,-56.5 598.4,-62.3 580.0,-66.6 561.3,-69.4 542.3,-70.7 523.4,-70.4 504.5,-68.6 485.8,-65.3 467.5,-60.6 449.7,-54.3 432.5,-46.7" fill="#0064ff"/>
<polygon points="434.2,483.5 451.0,491.5 468.4,498.0 486.4,503.2 504.8,506.9 523.5,509.1 542.3,509.8 561.1,509.0 579.8,506.6 598.2,502.8 616.2,497.4 633.7,490.7 650.5,482.6 666.5,473.2 681.6,462.6 695.7,450.9 708.7,438.1 720.5,424.5 731.2,410.0 740.5,394.9 748.5,379.3 755.2,363.3 760.5,347.0 764.7,330.6 767.6,314.3 769.5,298.0 770.5,282.0 770.7,266.2 770.5,250.8 770.0,235.6 769.3,220.6 768.6,205.7 767.8,190.8 767.0,175.7 766.0,160.4 764.5,144.8 762.3,129.1 759.4,113.1 755.4,97.1 750.3,81.1 744.0,65.3 736.4,49.8 727.5,34.7 717.4,20.2 706.0,6.5 693.4,-6.4 679.8,-18.4 665.0,-29.2 649.4,-38.9 632.9,-47.4 615.7,-54.5 597.9,-60.2 579.7,-64.5 561.1,-67.3 542.3,-68.5 523.5,-68.3 504.7,-66.5 486.2,-63.3 468.0,-58.5 450.3,-52.3 433.3,-44.7" fill="#0069ff"/>
<polygon points="435.0,481.6 451.6,489.5 468.9,496.0 486.8,501.2 505.1,504.9 523.6,507.0 542.3,507.7 561.0,506.9 579.5,504.6 597.8,500.7 615.7,495.5 633.0,488.8 649.7,480.7 665.6,471.4 680.6,460.9 694.6,449.2 707.5,436.6 719.2,423.0 729.8,408.7 739.0,393.7 747.0,378.2 753.6,362.3 758.9,346.1 763.0,329.8 766.0,313.6 767.8,297.5 768.8,281.5 769.1,265.9 768.8,250.5 768.3,235.5 767.6,220.6 766.9,205.8 766.2,191.0 765.4,176.0 764.4,160.8 762.9,145.4 760.8,129.7 757.8,113.9 753.8,98.0 748.8,82.1 742.5,66.4 735.0,51.0 726.2,36.0 716.1,21.7 704.8,8.0 692.3,-4.8 678.8,-16.6 664.1,-27.4 648.6,-37.1 632.2,-45.5 615.2,-52.5 597.5,-58.2 579.4,-62.4 560.9,-65.2 542.3,-66.5 523.6,-66.2 505.0,-64.5 486.6,-61.2 468.5,-56.5 451.0,-50.4 434.0,-42.8" fill="#006fff"/>
<polygon points="435.7,479.8 452.2,487.6 469.4,494.1 487.2,499.2 505.3,502.9 523.7,505.0 542.3,505.7 560.8,504.9 579.2,502.6 597.4,498.8 615.1,493.5 632.3,486.9 648.9,478.9 664.7,469.7 679.6,459.2 693.5,447.6 706.3,435.1 718.0,421.6 728.4,407.4 737.6,392.5 745.5,377.1 752.1,361.3 757.4,345.2 761.5,329.1 764.4,312.9 766.2,296.9 767.2,281.1 767.5,265.6 767.2,250.3 766.7,235.4 766.0,220.6 765.3,205.9 764.6,191.2 763.8,176.3 762.8,161.2 761.3,145.9 759.2,130.3 756.3,114.6 752.3,98.8 747.3,83.1 741.1,67.5 733.6,52.2 724.8,37.3 714.9,23.1 703.6,9.5 691.3,-3.2 677.8,-15.0 663.3,-25.7 647.8,-35.3 631.6,-43.6 614.6,-50.6 597.1,-56.2 579.1,-60.5 560.8,-63.2 542.3,-64.5 523.7,-64.2 505.2,-62.5 486.9,-59.3 469.0,-54.6 451.6,-48.5 434.8,-41.0" fill="#0075ff"/>
<polygon points="436.4,478.0 452.8,485.8 469.9,492.2 487.5,497.3 505.5,500.9 523.8,503.1 542.2,503.8 560.7,502.9 579.0,500.6 597.0,496.9 614.6,491.7 631.7,485.1 648.1,477.1 663.8,468.0 678.6,457.6 692.4,446.1 705.2,433.6 716.8,420.2 727.1,406.1 736.3,391.3 744.1,376.0 750.6,360.3 755.9,344.4 759.9,328.3 762.8,312.3 764.7,296.4 765.6,280.7 765.9,265.3 765.7,250.1 765.1,235.3 764.5,220.6 763.8,206.0 763.1,191.4 762.3,176.6 761.2,161.6 759.8,146.4 757.7,131.0 754.8,115.3 750.9,99.7 745.9,84.0 739.7,68.5 732.3,53.3 723.6,38.6 713.7,24.4 702.5,11.0 690.2,-1.7 676.8,-13.4 662.4,-24.0 647.1,-33.5 631.0,-41.8 614.1,-48.7 596.7,-54.3 578.8,-58.5 560.6,-61.3 542.2,-62.5 523.8,-62.3 505.4,-60.5 487.3,-57.3 469.5,-52.7 452.2,-46.6 435.5,-39.2" fill="#007bff"/>
<polygon points="437.1,476.3 453.4,484.0 470.4,490.4 487.8,495.4 505.7,499.0 523.9,501.2 542.2,501.9 560.5,501.1 578.7,498.8 596.6,495.0 614.1,489.9 631.1,483.3 647.4,475.4 663.0,466.3 677.7,456.0 691.4,444.6 704.0,432.2 715.6,418.9 725.9,404.8 734.9,390.2 742.7,375.0 749.2,359.4 754.4,343.6 758.5,327.6 761.3,311.7 763.2,295.9 764.1,280.3 764.4,265.0 764.1,249.9 763.6,235.2 763.0,220.6 762.3,206.1 761.6,191.6 760.8,176.9 759.8,162.0 758.3,146.9 756.2,131.6 753.3,116.1 749.4,100.5 744.5,84.9 738.3,69.5 731.0,54.5 722.3,39.8 712.5,25.7 701.4,12.4 689.2,-0.2 675.9,-11.8 661.6,-22.4 646.4,-31.8 630.3,-40.0 613.6,-46.9 596.3,-52.5 578.5,-56.7 560.5,-59.4 542.2,-60.6 523.9,-60.4 505.7,-58.7 487.6,-55.5 470.0,-50.9 452.8,-44.8 436.2,-37.5" fill="#0081ff"/>
<polygon points="437.7,474.6 454.0,482.3 470.8,488.7 488.2,493.6 506.0,497.2 524.0,499.3 542.2,500.0 560.4,499.2 578.4,496.9 596.2,493.2 613.6,488.1 630.5,481.6 646.7,473.7 662.2,464.7 676.8,454.4 690.4,443.1 703.0,430.8 714.4,417.6 724.6,403.6 733.6,389.0 741.4,373.9 747.8,358.5 753.0,342.7 757.0,326.9 759.9,311.1 761.7,295.4 762.6,279.9 762.9,264.7 762.7,249.7 762.1,235.1 761.5,220.6 760.8,206.2 760.1,191.8 759.3,177.2 758.3,162.4 756.9,147.4 754.8,132.2 751.9,116.7 748.1,101.3 743.1,85.8 737.0,70.5 729.7,55.5 721.1,41.0 711.3,27.0 700.3,13.7 688.2,1.3 675.0,-10.3 660.8,-20.8 645.7,-30.1 629.7,-38.3 613.1,-45.2 595.9,-50.7 578.3,-54.8 560.3,-57.5 542.2,-58.8 524.0,-58.5 505.9,-56.8 488.0,-53.7 470.4,-49.1 453.3,-43.1 436.8,-35.8" fill="#0086ff"/>
<polygon points="438.4,473.0 454.5,480.6 471.2,486.9 488.5,491.9 506.2,495.4 524.1,497.5 542.2,498.2 560.2,497.4 578.2,495.2 595.8,491.5 613.1,486.4 629.9,479.9 646.0,472.1 661.4,463.1 675.9,452.9 689.4,441.7 701.9,429.4 713.3,416.3 723.4,402.5 732.4,388.0 740.1,373.0 746.5,357.6 751.6,342.0 755.6,326.2 758.4,310.5 760.2,294.9 761.2,279.5 761.4,264.4 761.2,249.6 760.7,235.0 760.0,220.6 759.4,206.3 758.7,191.9 757.9,177.5 756.9,162.8 755.4,147.9 753.4,132.7 750.5,117.4 746.7,102.0 741.8,86.7 735.7,71.5 728.5,56.6 719.9,42.2 710.2,28.3 699.3,15.1 687.2,2.7 674.1,-8.8 660.0,-19.2 645.0,-28.5 629.1,-36.6 612.6,-43.5 595.6,-49.0 578.0,-53.1 560.2,-55.7 542.2,-57.0 524.1,-56.7 506.1,-55.0 488.3,-51.9 470.8,-47.3 453.9,-41.4 437.5,-34.1" fill="#008cff"/>
<polygon points="439.0,471.4 455.0,479.0 471.7,485.2 488.8,490.2 506.4,493.7 524.2,495.8 542.1,496.5 560.1,495.7 577.9,493.4 595.5,489.7 612.6,484.7 629.3,478.2 645.3,470.5 660.6,461.6 675.0,451.4 688.5,440.3 700.9,428.1 712.2,415.1 722.3,401.3 731.2,386.9 738.8,372.0 745.2,356.7 750.3,341.2 754.2,325.6 757.0,309.9 758.8,294.4 759.8,279.1 760.0,264.1 759.8,249.4 759.3,234.9 758.6,220.6 758.0,206.4 757.3,192.1 756.5,177.8 755.5,163.2 754.1,148.3 752.0,133.3 749.2,118.1 745.4,102.8 740.5,87.5 734.5,72.4 727.3,57.6 718.8,43.3 709.1,29.5 698.3,16.4 686.3,4.1 673.3,-7.3 659.2,-17.7 644.3,-27.0 628.6,-35.0 612.2,-41.8 595.2,-47.2 577.8,-51.3 560.1,-54.0 542.1,-55.2 524.2,-55.0 506.3,-53.3 488.6,-50.2 471.3,-45.6 454.4,-39.7 438.1,-32.5" fill="#0092ff"/>
<polygon points="439.7,469.8 455.6,477.4 472.1,483.6 489.1,488.5 506.6,492.0 524.3,494.1 542.1,494.7 560.0,493.9 577.7,491.7 595.1,488.1 612.2,483.0 628.7,476.6 644.7,469.0 659.8,460.1 674.1,450.0 687.5,438.9 699.9,426.8 711.1,413.9 721.1,400.2 730.0,385.9 737.6,371.1 743.9,355.9 749.0,340.4 752.9,324.9 755.7,309.4 757.5,294.0 758.4,278.8 758.7,263.8 758.4,249.2 757.9,234.8 757.3,220.6 756.6,206.5 755.9,192.3 755.2,178.0 754.2,163.5 752.7,148.8 750.7,133.8 747.9,118.7 744.1,103.5 739.3,88.3 733.3,73.4 726.1,58.7 717.7,44.4 708.1,30.7 697.3,17.6 685.4,5.4 672.4,-5.9 658.5,-16.2 643.6,-25.4 628.0,-33.4 611.7,-40.2 594.8,-45.6 577.5,-49.6 559.9,-52.3 542.1,-53.5 524.3,-53.3 506.5,-51.6 488.9,-48.5 471.7,-44.0 454.9,-38.1 438.8,-30.9" fill="#0098ff"/>
<polygon points="440.3,468.3 456.1,475.8 472.5,482.0 489.4,486.9 506.8,490.3 524.4,492.4 542.1,493.1 559.8,492.3 577.4,490.1 594.8,486.4 611.7,481.4 628.2,475.1 644.0,467.5 659.1,458.6 673.3,448.6 686.6,437.6 698.9,425.6 710.0,412.7 720.0,399.1 728.8,384.9 736.3,370.1 742.6,355.0 747.7,339.7 751.6,324.3 754.4,308.8 756.1,293.5 757.1,278.4 757.3,263.6 757.1,249.0 756.6,234.7 755.9,220.6 755.3,206.5 754.6,192.5 753.8,178.3 752.8,163.9 751.4,149.2 749.4,134.3 746.6,119.3 742.9,104.2 738.0,89.2 732.1,74.3 724.9,59.6 716.6,45.5 707.0,31.8 696.3,18.9 684.5,6.7 671.6,-4.5 657.7,-14.8 643.0,-23.9 627.5,-31.9 611.3,-38.6 594.5,-44.0 577.3,-48.0 559.8,-50.6 542.1,-51.8 524.4,-51.6 506.7,-49.9 489.2,-46.8 472.1,-42.4 455.4,-36.5 439.4,-29.4" fill="#009eff"/>
<polygon points="440.8,466.8 456.6,474.3 472.9,480.4 489.7,485.3 507.0,488.7 524.5,490.8 542.1,491.4 559.7,490.7 577.2,488.5 594.4,484.8 611.3,479.9 627.6,473.6 643.4,466.0 658.4,457.2 672.5,447.2 685.7,436.3 697.9,424.3 709.0,411.5 718.9,398.0 727.7,383.9 735.2,369.2 741.4,354.2 746.4,339.0 750.3,323.7 753.1,308.3 754.8,293.1 755.8,278.1 756.0,263.3 755.8,248.8 755.3,234.6 754.6,220.6 754.0,206.6 753.3,192.6 752.5,178.5 751.6,164.2 750.2,149.6 748.2,134.9 745.4,119.9 741.6,104.9 736.8,89.9 730.9,75.1 723.8,60.6 715.5,46.5 706.0,33.0 695.4,20.1 683.6,8.0 670.8,-3.2 657.0,-13.4 642.4,-22.5 626.9,-30.4 610.8,-37.0 594.2,-42.4 577.1,-46.4 559.7,-49.0 542.1,-50.2 524.4,-50.0 506.9,-48.3 489.5,-45.2 472.5,-40.8 455.9,-35.0 440.0,-27.9" fill="#00a4ff"/>
<polygon points="441.4,465.4 457.0,472.8 473.3,478.9 490.0,483.7 507.1,487.1 524.5,489.2 542.1,489.8 559.6,489.1 577.0,486.9 594.1,483.3 610.9,478.3 627.1,472.1 642.8,464.5 657.7,455.8 671.7,445.9 684.9,435.0 697.0,423.1 708.0,410.4 717.9,397.0 726.6,382.9 734.0,368.4 740.2,353.5 745.2,338.3 749.1,323.0 751.8,307.8 753.6,292.7 754.5,277.7 754.7,263.1 754.5,248.7 754.0,234.5 753.4,220.6 752.7,206.7 752.0,192.8 751.3,178.8 750.3,164.5 748.9,150.1 746.9,135.4 744.1,120.5 740.4,105.6 735.7,90.7 729.8,76.0 722.7,61.6 714.5,47.5 705.0,34.1 694.5,21.3 682.8,9.2 670.0,-1.9 656.3,-12.0 641.8,-21.0 626.4,-28.9 610.4,-35.5 593.8,-40.8 576.8,-44.8 559.5,-47.4 542.1,-48.6 524.5,-48.4 507.1,-46.7 489.8,-43.7 472.9,-39.3 456.4,-33.5 440.5,-26.4" fill="#00a9ff"/>
<polygon points="442.0,464.0 457.5,471.3 473.7,477.4 490.3,482.2 507.3,485.6 524.6,487.6 542.0,488.3 559.5,487.5 576.8,485.3 593.8,481.8 610.5,476.9 626.6,470.6 642.2,463.1 657.0,454.4 671.0,444.6 684.0,433.8 696.1,422.0 707.0,409.3 716.8,396.0 725.5,382.0 732.9,367.5 739.1,352.7 744.0,337.6 747.8,322.5 750.6,307.3 752.3,292.3 753.2,277.4 753.5,262.8 753.3,248.5 752.8,234.5 752.1,220.6 751.5,206.8 750.8,193.0 750.1,179.0 749.1,164.9 747.7,150.5 745.7,135.9 743.0,121.1 739.3,106.3 734.5,91.5 728.7,76.8 721.7,62.5 713.5,48.5 704.1,35.1 693.6,22.4 681.9,10.5 669.3,-0.6 655.7,-10.6 641.2,-19.6 625.9,-27.4 610.0,-34.0 593.5,-39.3 576.6,-43.3 559.4,-45.9 542.0,-47.0 524.6,-46.8 507.2,-45.2 490.1,-42.1 473.3,-37.8 456.9,-32.0 441.1,-25.0" fill="#00afff"/>
<polygon points="442.5,462.6 458.0,469.9 474.0,475.9 490.6,480.7 507.5,484.1 524.7,486.1 542.0,486.8 559.3,486.0 576.5,483.8 593.5,480.3 610.0,475.4 626.1,469.2 641.6,461.7 656.3,453.1 670.2,443.3 683.2,432.5 695.2,420.8 706.1,408.2 715.8,395.0 724.4,381.1 731.8,366.7 737.9,351.9 742.9,337.0 746.7,321.9 749.4,306.8 751.1,291.8 752.0,277.1 752.3,262.6 752.0,248.4 751.5,234.4 750.9,220.6 750.3,206.9 749.6,193.1 748.9,179.3 747.9,165.2 746.5,150.9 744.5,136.3 741.8,121.7 738.1,106.9 733.4,92.2 727.6,77.6 720.6,63.4 712.5,49.5 703.1,36.2 692.7,23.5 681.1,11.7 668.5,0.7 655.0,-9.3 640.6,-18.3 625.4,-26.0 609.6,-32.6 593.2,-37.8 576.4,-41.8 559.3,-44.3 542.0,-45.5 524.7,-45.3 507.4,-43.7 490.4,-40.7 473.6,-36.3 457.4,-30.6 441.7,-23.6" fill="#00b5ff"/>
<polygon points="443.1,461.2 458.4,468.5 474.4,474.5 490.8,479.2 507.7,482.6 524.8,484.6 542.0,485.3 559.2,484.5 576.3,482.4 593.2,478.8 609.6,474.0 625.6,467.8 641.0,460.4 655.6,451.8 669.5,442.1 682.4,431.4 694.3,419.7 705.1,407.2 714.8,394.0 723.4,380.2 730.7,365.9 736.8,351.2 741.7,336.3 745.5,321.3 748.2,306.3 749.9,291.4 750.8,276.8 751.1,262.3 750.9,248.2 750.4,234.3 749.7,220.6 749.1,206.9 748.4,193.3 747.7,179.5 746.7,165.5 745.3,151.3 743.4,136.8 740.7,122.2 737.0,107.5 732.3,92.9 726.6,78.4 719.6,64.2 711.5,50.5 702.2,37.2 691.8,24.6 680.3,12.8 667.8,1.9 654.3,-8.0 640.0,-16.9 624.9,-24.7 609.2,-31.2 592.9,-36.4 576.2,-40.3 559.2,-42.9 542.0,-44.0 524.8,-43.8 507.6,-42.2 490.6,-39.2 474.0,-34.8 457.8,-29.2 442.2,-22.2" fill="#00bbff"/>
<polygon points="443.6,459.9 458.9,467.1 474.7,473.1 491.1,477.8 507.9,481.2 524.9,483.2 542.0,483.8 559.1,483.1 576.1,480.9 592.9,477.4 609.3,472.6 625.1,466.5 640.4,459.1 655.0,450.5 668.8,440.9 681.6,430.2 693.4,418.6 704.2,406.2 713.9,393.0 722.4,379.3 729.6,365.1 735.7,350.5 740.6,335.7 744.4,320.8 747.0,305.8 748.8,291.1 749.7,276.5 749.9,262.1 749.7,248.0 749.2,234.2 748.6,220.6 747.9,207.0 747.3,193.4 746.5,179.7 745.6,165.8 744.2,151.6 742.3,137.3 739.6,122.8 735.9,108.2 731.3,93.6 725.5,79.2 718.6,65.1 710.6,51.4 701.3,38.2 691.0,25.7 679.5,14.0 667.1,3.1 653.7,-6.8 639.5,-15.6 624.5,-23.3 608.8,-29.8 592.6,-35.0 576.0,-38.9 559.1,-41.4 542.0,-42.6 524.8,-42.4 507.8,-40.7 490.9,-37.8 474.4,-33.4 458.3,-27.8 442.7,-20.9" fill="#00c1ff"/>
<polygon points="444.1,458.6 459.3,465.8 475.1,471.8 491.4,476.4 508.0,479.8 524.9,481.8 542.0,482.4 559.0,481.6 575.9,479.5 592.6,476.0 608.9,471.2 624.7,465.1 639.9,457.8 654.4,449.3 668.1,439.7 680.8,429.1 692.6,417.5 703.3,405.2 712.9,392.1 721.4,378.4 728.6,364.3 734.7,349.8 739.5,335.0 743.2,320.2 745.9,305.4 747.6,290.7 748.5,276.2 748.8,261.9 748.5,247.9 748.1,234.2 747.4,220.6 746.8,207.1 746.1,193.6 745.4,179.9 744.5,166.1 743.1,152.0 741.2,137.7 738.5,123.3 734.9,108.8 730.2,94.3 724.5,80.0 717.6,65.9 709.6,52.3 700.4,39.2 690.2,26.8 678.8,15.1 666.4,4.3 653.1,-5.6 638.9,-14.3 624.0,-22.0 608.4,-28.4 592.3,-33.6 575.8,-37.5 559.0,-40.0 542.0,-41.2 524.9,-40.9 507.9,-39.3 491.2,-36.4 474.7,-32.1 458.7,-26.5 443.2,-19.6" fill="#00c7ff"/>
<polygon points="444.6,457.3 459.7,464.5 475.4,470.4 491.6,475.1 508.2,478.4 525.0,480.4 541.9,481.0 558.9,480.3 575.7,478.1 592.3,474.7 608.5,469.9 624.2,463.8 639.3,456.5 653.8,448.1 667.4,438.5 680.1,428.0 691.8,416.5 702.4,404.2 712.0,391.2 720.4,377.6 727.6,363.5 733.6,349.1 738.4,334.4 742.2,319.7 744.8,304.9 746.5,290.3 747.4,275.9 747.6,261.7 747.4,247.8 746.9,234.1 746.3,220.6 745.7,207.2 745.0,193.7 744.3,180.1 743.4,166.4 742.0,152.4 740.1,138.2 737.4,123.8 733.8,109.4 729.2,95.0 723.5,80.7 716.7,66.8 708.7,53.2 699.6,40.2 689.3,27.8 678.0,16.2 665.7,5.4 652.5,-4.4 638.4,-13.1 623.5,-20.7 608.0,-27.1 592.0,-32.3 575.6,-36.1 558.9,-38.6 541.9,-39.8 525.0,-39.5 508.1,-38.0 491.4,-35.0 475.0,-30.7 459.1,-25.2 443.8,-18.3" fill="#00ccff"/>
<polygon points="445.1,456.1 460.1,463.2 475.8,469.1 491.9,473.7 508.3,477.1 525.1,479.0 541.9,479.6 558.8,478.9 575.5,476.8 592.0,473.3 608.1,468.6 623.8,462.5 638.8,455.3 653.2,446.9 666.7,437.4 679.3,426.9 691.0,415.5 701.6,403.2 711.1,390.3 719.4,376.8 726.6,362.8 732.6,348.4 737.4,333.8 741.1,319.2 743.7,304.5 745.4,289.9 746.3,275.6 746.6,261.5 746.3,247.6 745.8,234.0 745.2,220.6 744.6,207.2 744.0,193.9 743.2,180.4 742.3,166.7 740.9,152.7 739.0,138.6 736.4,124.3 732.8,110.0 728.2,95.6 722.6,81.5 715.8,67.6 707.8,54.1 698.7,41.1 688.6,28.8 677.3,17.3 665.1,6.6 651.9,-3.2 637.9,-11.9 623.1,-19.4 607.7,-25.8 591.7,-30.9 575.4,-34.8 558.7,-37.3 541.9,-38.4 525.1,-38.2 508.3,-36.6 491.7,-33.7 475.4,-29.4 459.5,-23.9 444.3,-17.1" fill="#00d2ff"/>
<polygon points="445.6,454.9 460.5,462.0 476.1,467.8 492.1,472.4 508.5,475.7 525.1,477.7 541.9,478.3 558.7,477.6 575.3,475.5 591.7,472.0 607.8,467.3 623.3,461.3 638.3,454.1 652.6,445.7 666.0,436.3 678.6,425.8 690.2,414.5 700.7,402.3 710.2,389.4 718.5,376.0 725.6,362.0 731.6,347.8 736.4,333.3 740.1,318.7 742.7,304.1 744.4,289.6 745.2,275.3 745.5,261.2 745.3,247.5 744.8,233.9 744.2,220.6 743.5,207.3 742.9,194.0 742.2,180.6 741.2,166.9 739.9,153.1 738.0,139.0 735.3,124.8 731.8,110.5 727.2,96.3 721.6,82.2 714.9,68.4 707.0,54.9 697.9,42.1 687.8,29.8 676.6,18.3 664.4,7.7 651.3,-2.0 637.3,-10.7 622.7,-18.2 607.3,-24.5 591.5,-29.6 575.2,-33.4 558.6,-35.9 541.9,-37.1 525.1,-36.8 508.4,-35.3 491.9,-32.4 475.7,-28.1 459.9,-22.6 444.7,-15.9" fill="#00d8ff"/>
<polygon points="446.1,453.7 460.9,460.7 476.4,466.6 492.3,471.2 508.7,474.4 525.2,476.4 541.9,477.0 558.6,476.3 575.1,474.2 591.5,470.8 607.4,466.1 622.9,460.1 637.8,452.9 652.0,444.6 665.4,435.2 677.9,424.8 689.4,413.5 699.9,401.4 709.3,388.6 717.6,375.2 724.7,361.3 730.6,347.1 735.4,332.7 739.0,318.2 741.6,303.6 743.3,289.2 744.2,275.0 744.4,261.0 744.2,247.3 743.7,233.9 743.1,220.6 742.5,207.4 741.9,194.1 741.1,180.8 740.2,167.2 738.9,153.4 737.0,139.4 734.3,125.3 730.8,111.1 726.3,96.9 720.7,82.9 714.0,69.1 706.1,55.8 697.1,43.0 687.0,30.8 675.9,19.3 663.8,8.7 650.7,-0.9 636.8,-9.5 622.2,-17.0 607.0,-23.3 591.2,-28.4 575.0,-32.2 558.5,-34.6 541.9,-35.8 525.2,-35.5 508.6,-34.0 492.1,-31.1 476.0,-26.9 460.3,-21.4 445.2,-14.7" fill="#00deff"/>
<polygon points="446.5,452.5 461.3,459.5 476.7,465.3 492.6,469.9 508.8,473.2 525.3,475.1 541.9,475.7 558.5,475.0 575.0,472.9 591.2,469.5 607.1,464.8 622.5,458.9 637.3,451.7 651.4,443.5 664.7,434.1 677.2,423.8 688.7,412.5 699.1,400.5 708.5,387.7 716.7,374.4 723.8,360.6 729.6,346.5 734.4,332.1 738.0,317.7 740.6,303.2 742.3,288.9 743.2,274.7 743.4,260.8 743.2,247.2 742.7,233.8 742.1,220.6 741.5,207.4 740.8,194.3 740.1,181.0 739.2,167.5 737.9,153.8 736.0,139.8 733.4,125.8 729.9,111.6 725.3,97.5 719.8,83.6 713.1,69.9 705.3,56.6 696.3,43.8 686.3,31.7 675.2,20.3 663.1,9.8 650.2,0.2 636.4,-8.4 621.8,-15.8 606.6,-22.1 590.9,-27.1 574.8,-30.9 558.4,-33.3 541.9,-34.5 525.3,-34.3 508.7,-32.7 492.4,-29.8 476.3,-25.6 460.7,-20.2 445.7,-13.5" fill="#00e4ff"/>
<polygon points="447.0,451.4 461.7,458.4 477.0,464.1 492.8,468.7 509.0,471.9 525.3,473.9 541.9,474.5 558.4,473.7 574.8,471.7 590.9,468.3 606.7,463.6 622.1,457.7 636.8,450.6 650.9,442.4 664.1,433.0 676.5,422.7 687.9,411.6 698.3,399.6 707.6,386.9 715.8,373.6 722.8,359.9 728.7,345.9 733.4,331.6 737.0,317.2 739.6,302.8 741.3,288.5 742.2,274.5 742.4,260.6 742.2,247.1 741.7,233.7 741.1,220.6 740.5,207.5 739.9,194.4 739.1,181.2 738.2,167.7 736.9,154.1 735.0,140.2 732.4,126.2 728.9,112.2 724.4,98.1 718.9,84.2 712.2,70.6 704.4,57.4 695.5,44.7 685.6,32.6 674.5,21.3 662.5,10.8 649.6,1.3 635.9,-7.2 621.4,-14.6 606.3,-20.9 590.7,-25.9 574.7,-29.6 558.3,-32.1 541.9,-33.2 525.3,-33.0 508.9,-31.5 492.6,-28.6 476.6,-24.4 461.1,-19.0 446.1,-12.3" fill="#00e9ff"/>
<polygon points="447.4,450.3 462.1,457.2 477.3,463.0 493.0,467.5 509.1,470.7 525.4,472.6 541.8,473.2 558.3,472.5 574.6,470.4 590.7,467.1 606.4,462.4 621.7,456.6 636.3,449.5 650.3,441.3 663.5,432.0 675.8,421.8 687.2,410.6 697.6,398.7 706.8,386.1 715.0,372.9 721.9,359.2 727.8,345.3 732.5,331.0 736.1,316.7 738.7,302.4 740.3,288.2 741.2,274.2 741.4,260.4 741.2,246.9 740.7,233.7 740.1,220.6 739.5,207.6 738.9,194.5 738.2,181.4 737.2,168.0 735.9,154.4 734.1,140.6 731.5,126.7 728.0,112.7 723.5,98.7 718.0,84.9 711.4,71.4 703.6,58.2 694.8,45.6 684.8,33.6 673.9,22.3 661.9,11.9 649.1,2.4 635.4,-6.1 621.0,-13.5 606.0,-19.7 590.4,-24.7 574.5,-28.4 558.3,-30.9 541.8,-32.0 525.4,-31.8 509.0,-30.2 492.8,-27.4 476.9,-23.2 461.5,-17.8 446.6,-11.2" fill="#00efff"/>
<polygon points="447.9,449.2 462.4,456.1 477.6,461.8 493.2,466.3 509.2,469.5 525.5,471.4 541.8,472.0 558.2,471.3 574.4,469.3 590.4,465.9 606.1,461.3 621.3,455.4 635.9,448.4 649.8,440.2 662.9,431.0 675.2,420.8 686.5,409.7 696.8,397.9 706.0,385.3 714.1,372.2 721.1,358.6 726.9,344.7 731.6,330.5 735.1,316.3 737.7,302.0 739.3,287.9 740.2,274.0 740.4,260.3 740.2,246.8 739.8,233.6 739.2,220.6 738.5,207.6 737.9,194.7 737.2,181.5 736.3,168.2 735.0,154.7 733.1,141.0 730.5,127.1 727.1,113.2 722.6,99.3 717.1,85.6 710.6,72.1 702.8,59.0 694.0,46.4 684.1,34.5 673.2,23.2 661.3,12.9 648.5,3.4 634.9,-5.0 620.6,-12.4 605.7,-18.6 590.2,-23.5 574.3,-27.2 558.2,-29.7 541.8,-30.8 525.5,-30.6 509.2,-29.0 493.0,-26.2 477.2,-22.1 461.9,-16.7 447.0,-10.1" fill="#00f5ff"/>
<polygon points="448.3,448.1 462.8,455.0 477.9,460.7 493.5,465.1 509.4,468.3 525.5,470.2 541.8,470.8 558.1,470.1 574.3,468.1 590.2,464.7 605.8,460.1 620.9,454.3 635.4,447.3 649.3,439.2 662.3,430.0 674.5,419.9 685.8,408.8 696.0,397.0 705.2,384.5 713.3,371.5 720.2,357.9 726.0,344.1 730.6,330.0 734.2,315.8 736.8,301.6 738.4,287.6 739.2,273.7 739.5,260.1 739.3,246.7 738.8,233.6 738.2,220.6 737.6,207.7 737.0,194.8 736.3,181.7 735.4,168.5 734.1,155.0 732.2,141.4 729.6,127.6 726.2,113.7 721.8,99.9 716.3,86.2 709.7,72.8 702.1,59.7 693.3,47.2 683.5,35.3 672.6,24.2 660.8,13.8 648.0,4.4 634.5,-4.0 620.2,-11.3 605.3,-17.4 589.9,-22.4 574.1,-26.1 558.1,-28.5 541.8,-29.6 525.5,-29.4 509.3,-27.9 493.3,-25.0 477.5,-20.9 462.2,-15.6 447.5,-9.0" fill="#00fbff"/>
<polygon points="448.7,447.0 463.2,453.9 478.2,459.5 493.7,464.0 509.5,467.2 525.6,469.1 541.8,469.7 558.0,469.0 574.1,466.9 590.0,463.6 605.5,459.0 620.5,453.2 635.0,446.3 648.7,438.2 661.8,429.0 673.9,418.9 685.1,408.0 695.3,396.2 704.4,383.8 712.5,370.8 719.4,357.3 725.1,343.5 729.8,329.5 733.3,315.4 735.8,301.3 737.5,287.3 738.3,273.5 738.5,259.9 738.3,246.6 737.9,233.5 737.3,220.6 736.7,207.8 736.1,194.9 735.4,181.9 734.4,168.7 733.2,155.3 731.3,141.8 728.8,128.0 725.3,114.2 720.9,100.4 715.5,86.8 708.9,73.5 701.3,60.5 692.6,48.0 682.8,36.2 672.0,25.1 660.2,14.8 647.5,5.4 634.0,-2.9 619.8,-10.2 605.0,-16.3 589.7,-21.2 574.0,-24.9 558.0,-27.3 541.8,-28.4 525.6,-28.2 509.4,-26.7 493.5,-23.9 477.8,-19.8 462.6,-14.5 447.9,-7.9" fill="#02fffd"/>
<polygon points="449.1,446.0 463.5,452.8 478.5,458.4 493.9,462.9 509.6,466.0 525.7,467.9 541.8,468.5 557.9,467.8 573.9,465.8 589.7,462.5 605.2,457.9 620.1,452.2 634.5,445.2 648.2,437.2 661.2,428.1 673.3,418.0 684.4,407.1 694.6,395.4 703.7,383.0 711.7,370.1 718.5,356.7 724.3,342.9 728.9,329.0 732.4,314.9 734.9,300.9 736.6,287.0 737.4,273.2 737.6,259.7 737.4,246.5 737.0,233.4 736.4,220.6 735.8,207.8 735.1,195.0 734.5,182.1 733.6,169.0 732.3,155.6 730.4,142.1 727.9,128.4 724.5,114.7 720.1,101.0 714.7,87.4 708.2,74.1 700.6,61.2 691.9,48.8 682.1,37.0 671.4,26.0 659.6,15.7 647.0,6.4 633.6,-1.9 619.5,-9.1 604.7,-15.2 589.5,-20.1 573.8,-23.8 557.9,-26.2 541.8,-27.3 525.6,-27.1 509.6,-25.6 493.7,-22.8 478.1,-18.7 462.9,-13.4 448.3,-6.9" fill="#07fff8"/>
<polygon points="449.5,445.0 463.8,451.8 478.7,457.4 494.1,461.8 509.8,464.9 525.7,466.8 541.8,467.4 557.8,466.7 573.8,464.7 589.5,461.4 604.9,456.9 619.8,451.1 634.1,444.2 647.7,436.2 660.6,427.1 672.7,417.1 683.8,406.3 693.9,394.6 702.9,382.3 710.9,369.4 717.7,356.0 723.4,342.4 728.0,328.5 731.5,314.5 734.0,300.5 735.7,286.7 736.5,273.0 736.7,259.5 736.5,246.3 736.1,233.4 735.5,220.6 734.9,207.9 734.3,195.1 733.6,182.3 732.7,169.2 731.4,155.9 729.6,142.5 727.0,128.9 723.6,115.2 719.3,101.5 713.9,88.0 707.4,74.8 699.8,62.0 691.2,49.6 681.5,37.9 670.8,26.9 659.1,16.7 646.5,7.4 633.2,-0.9 619.1,-8.1 604.4,-14.2 589.2,-19.0 573.7,-22.7 557.8,-25.1 541.8,-26.2 525.7,-26.0 509.7,-24.4 493.9,-21.7 478.4,-17.6 463.3,-12.3 448.7,-5.8" fill="#0dfff2"/>
<polygon points="449.9,444.0 464.2,450.7 479.0,456.3 494.3,460.7 509.9,463.8 525.8,465.7 541.8,466.3 557.8,465.6 573.6,463.6 589.3,460.3 604.6,455.8 619.4,450.1 633.7,443.2 647.3,435.2 660.1,426.2 672.1,416.3 683.1,405.4 693.2,393.8 702.2,381.6 710.1,368.7 716.9,355.4 722.6,341.8 727.2,328.0 730.7,314.1 733.2,300.2 734.8,286.4 735.6,272.7 735.8,259.4 735.6,246.2 735.2,233.3 734.6,220.6 734.0,207.9 733.4,195.2 732.7,182.4 731.8,169.4 730.5,156.2 728.7,142.8 726.2,129.3 722.8,115.6 718.5,102.1 713.1,88.6 706.6,75.5 699.1,62.7 690.5,50.4 680.8,38.7 670.2,27.7 658.5,17.6 646.0,8.3 632.7,0.1 618.7,-7.1 604.1,-13.1 589.0,-18.0 573.5,-21.6 557.7,-24.0 541.8,-25.1 525.8,-24.9 509.8,-23.4 494.1,-20.6 478.6,-16.5 463.6,-11.3 449.1,-4.8" fill="#12ffed"/>
<polygon points="450.3,443.0 464.5,449.7 479.3,455.3 494.5,459.6 510.0,462.8 525.8,464.6 541.7,465.2 557.7,464.5 573.5,462.5 589.0,459.3 604.3,454.8 619.0,449.1 633.2,442.2 646.8,434.3 659.6,425.3 671.5,415.4 682.5,404.6 692.5,393.1 701.5,380.8 709.4,368.1 716.1,354.9 721.8,341.3 726.3,327.5 729.8,313.7 732.3,299.8 733.9,286.1 734.7,272.5 735.0,259.2 734.8,246.1 734.3,233.3 733.7,220.6 733.1,208.0 732.5,195.4 731.8,182.6 731.0,169.7 729.7,156.5 727.9,143.2 725.4,129.7 722.0,116.1 717.7,102.6 712.3,89.2 705.9,76.1 698.4,63.4 689.8,51.1 680.2,39.5 669.6,28.6 658.0,18.5 645.6,9.3 632.3,1.1 618.4,-6.1 603.8,-12.1 588.8,-16.9 573.4,-20.5 557.6,-22.9 541.7,-24.0 525.8,-23.8 510.0,-22.3 494.3,-19.5 478.9,-15.5 463.9,-10.3 449.5,-3.8" fill="#18ffe7"/>
<polygon points="450.7,442.0 464.8,448.7 479.5,454.3 494.7,458.6 510.2,461.7 525.9,463.6 541.7,464.2 557.6,463.5 573.3,461.5 588.8,458.2 604.0,453.8 618.7,448.1 632.8,441.3 646.3,433.4 659.0,424.4 670.9,414.5 681.9,403.8 691.8,392.3 700.8,380.1 708.6,367.4 715.4,354.3 721.0,340.8 725.5,327.1 729.0,313.3 731.5,299.5 733.1,285.8 733.9,272.3 734.1,259.0 733.9,246.0 733.5,233.2 732.9,220.6 732.3,208.0 731.7,195.5 731.0,182.8 730.1,169.9 728.9,156.8 727.1,143.5 724.5,130.1 721.2,116.6 716.9,103.1 711.6,89.8 705.2,76.7 697.7,64.0 689.2,51.9 679.6,40.3 669.0,29.4 657.5,19.3 645.1,10.2 631.9,2.0 618.0,-5.1 603.6,-11.1 588.6,-15.9 573.2,-19.5 557.5,-21.8 541.7,-22.9 525.9,-22.7 510.1,-21.2 494.5,-18.5 479.2,-14.5 464.3,-9.3 449.9,-2.9" fill="#1effe1"/>
<polygon points="451.1,441.1 465.1,447.7 479.8,453.3 494.8,457.6 510.3,460.7 525.9,462.5 541.7,463.1 557.5,462.4 573.2,460.4 588.6,457.2 603.7,452.8 618.3,447.1 632.4,440.3 645.8,432.4 658.5,423.5 670.3,413.7 681.3,403.0 691.2,391.6 700.1,379.5 707.9,366.8 714.6,353.7 720.2,340.3 724.7,326.6 728.2,312.9 730.6,299.1 732.2,285.5 733.1,272.1 733.3,258.9 733.1,245.9 732.6,233.2 732.1,220.6 731.5,208.1 730.9,195.6 730.2,182.9 729.3,170.1 728.0,157.1 726.2,143.8 723.7,130.5 720.4,117.0 716.1,103.6 710.8,90.3 704.5,77.3 697.0,64.7 688.5,52.6 679.0,41.0 668.5,30.2 657.0,20.2 644.6,11.1 631.5,3.0 617.7,-4.1 603.3,-10.1 588.4,-14.9 573.1,-18.5 557.5,-20.8 541.7,-21.9 525.9,-21.7 510.2,-20.2 494.7,-17.4 479.4,-13.5 464.6,-8.3 450.3,-1.9" fill="#23ffdc"/>
<polygon points="451.4,440.1 465.5,446.8 480.0,452.3 495.0,456.6 510.4,459.7 526.0,461.5 541.7,462.1 557.4,461.4 573.0,459.4 588.4,456.2 603.4,451.8 618.0,446.1 632.0,439.4 645.4,431.5 658.0,422.7 669.8,412.9 680.7,402.3 690.5,390.8 699.4,378.8 707.2,366.2 713.9,353.1 719.4,339.8 723.9,326.2 727.4,312.5 729.8,298.8 731.4,285.2 732.2,271.8 732.5,258.7 732.3,245.8 731.8,233.1 731.2,220.6 730.6,208.1 730.0,195.7 729.4,183.1 728.5,170.3 727.2,157.3 725.5,144.2 723.0,130.8 719.6,117.5 715.4,104.1 710.1,90.9 703.8,77.9 696.4,65.4 687.9,53.3 678.4,41.8 667.9,31.0 656.5,21.1 644.2,12.0 631.1,3.9 617.4,-3.2 603.0,-9.1 588.2,-13.9 572.9,-17.4 557.4,-19.8 541.7,-20.8 526.0,-20.6 510.3,-19.2 494.8,-16.4 479.7,-12.5 464.9,-7.3 450.7,-1.0" fill="#29ffd6"/>
<polygon points="451.8,439.2 465.8,445.8 480.3,451.3 495.2,455.6 510.5,458.7 526.0,460.5 541.7,461.1 557.3,460.4 572.9,458.4 588.2,455.2 603.2,450.8 617.7,445.2 631.6,438.5 644.9,430.7 657.5,421.8 669.2,412.1 680.1,401.5 689.9,390.1 698.7,378.1 706.5,365.6 713.1,352.6 718.7,339.3 723.2,325.7 726.6,312.1 729.0,298.5 730.6,285.0 731.4,271.6 731.6,258.5 731.5,245.7 731.0,233.0 730.4,220.6 729.8,208.2 729.2,195.8 728.6,183.2 727.7,170.5 726.4,157.6 724.7,144.5 722.2,131.2 718.9,117.9 714.6,104.6 709.4,91.4 703.1,78.5 695.7,66.0 687.3,54.0 677.8,42.6 667.4,31.8 656.0,21.9 643.8,12.9 630.7,4.8 617.0,-2.2 602.7,-8.1 587.9,-12.9 572.8,-16.5 557.3,-18.8 541.7,-19.8 526.0,-19.6 510.4,-18.2 495.0,-15.4 479.9,-11.5 465.2,-6.3 451.0,-0.0" fill="#30ffcf"/>
<polygon points="452.4,437.8 466.2,444.3 480.6,449.8 495.5,454.0 510.7,457.1 526.1,458.9 541.7,459.5 557.2,458.8 572.7,456.9 587.9,453.7 602.7,449.3 617.2,443.7 631.0,437.0 644.2,429.3 656.7,420.5 668.4,410.8 679.1,400.3 688.9,389.0 697.7,377.1 705.4,364.6 712.0,351.7 717.5,338.5 721.9,325.0 725.3,311.5 727.8,298.0 729.3,284.5 730.2,271.3 730.4,258.3 730.2,245.5 729.7,233.0 729.2,220.6 728.6,208.3 728.0,195.9 727.3,183.5 726.4,170.9 725.2,158.0 723.4,145.0 721.0,131.8 717.7,118.6 713.5,105.4 708.3,92.3 702.0,79.5 694.7,67.0 686.3,55.1 676.9,43.7 666.5,33.1 655.2,23.2 643.1,14.2 630.1,6.2 616.5,-0.8 602.3,-6.6 587.6,-11.4 572.5,-14.9 557.2,-17.2 541.7,-18.3 526.1,-18.1 510.6,-16.6 495.3,-13.9 480.3,-10.0 465.7,-4.8 451.6,1.4" fill="#39ffc6"/>
<polygon points="452.9,436.4 466.7,442.9 481.0,448.3 495.8,452.5 510.9,455.6 526.2,457.4 541.7,458.0 557.1,457.3 572.4,455.3 587.5,452.2 602.3,447.8 616.6,442.3 630.4,435.6 643.6,427.9 656.0,419.2 667.5,409.6 678.2,399.1 687.9,387.9 696.6,376.1 704.3,363.7 710.9,350.9 716.3,337.7 720.8,324.4 724.1,310.9 726.6,297.5 728.1,284.1 728.9,271.0 729.1,258.0 728.9,245.4 728.5,232.9 727.9,220.6 727.4,208.4 726.8,196.1 726.1,183.7 725.2,171.2 724.0,158.4 722.3,145.5 719.8,132.4 716.5,119.2 712.3,106.1 707.2,93.1 700.9,80.4 693.7,68.0 685.3,56.2 676.0,44.9 665.7,34.3 654.5,24.5 642.4,15.6 629.5,7.6 616.0,0.7 601.9,-5.2 587.3,-9.9 572.3,-13.4 557.1,-15.7 541.7,-16.7 526.2,-16.5 510.8,-15.1 495.6,-12.4 480.7,-8.5 466.2,-3.4 452.2,2.8" fill="#42ffbd"/>
<polygon points="453.5,435.0 467.2,441.5 481.4,446.9 496.1,451.1 511.1,454.1 526.3,455.9 541.6,456.4 557.0,455.8 572.2,453.9 587.2,450.7 601.9,446.4 616.2,440.9 629.8,434.3 642.9,426.6 655.2,418.0 666.7,408.4 677.3,398.0 687.0,386.9 695.6,375.1 703.2,362.8 709.8,350.0 715.2,337.0 719.6,323.7 723.0,310.3 725.4,297.0 726.9,283.7 727.7,270.7 727.9,257.8 727.7,245.2 727.3,232.8 726.7,220.6 726.2,208.4 725.6,196.3 724.9,184.0 724.1,171.5 722.8,158.8 721.1,145.9 718.7,132.9 715.4,119.9 711.2,106.8 706.1,93.9 699.9,81.3 692.7,69.0 684.4,57.2 675.1,46.0 664.9,35.5 653.7,25.7 641.7,16.9 629.0,8.9 615.5,2.1 601.5,-3.7 587.0,-8.4 572.1,-11.9 557.0,-14.2 541.6,-15.2 526.3,-15.0 511.0,-13.6 495.9,-10.9 481.0,-7.0 466.6,-2.0 452.7,4.2" fill="#4bffb4"/>
<polygon points="454.0,433.7 467.6,440.1 481.7,445.5 496.3,449.6 511.2,452.6 526.4,454.4 541.6,455.0 556.9,454.3 572.0,452.4 586.9,449.3 601.5,445.0 615.7,439.5 629.3,433.0 642.3,425.3 654.5,416.7 665.9,407.2 676.5,396.9 686.1,385.8 694.7,374.1 702.2,361.9 708.7,349.2 714.1,336.2 718.5,323.1 721.8,309.8 724.2,296.5 725.7,283.3 726.5,270.3 726.8,257.6 726.6,245.0 726.1,232.7 725.6,220.6 725.0,208.5 724.4,196.4 723.8,184.2 722.9,171.8 721.7,159.2 720.0,146.4 717.5,133.5 714.3,120.5 710.2,107.5 705.1,94.7 698.9,82.1 691.7,69.9 683.5,58.2 674.3,47.1 664.1,36.6 653.0,26.9 641.1,18.1 628.4,10.3 615.1,3.4 601.1,-2.4 586.7,-7.0 571.9,-10.5 556.8,-12.7 541.6,-13.7 526.4,-13.5 511.2,-12.1 496.1,-9.5 481.4,-5.6 467.1,-0.6 453.2,5.5" fill="#54ffab"/>
<polygon points="454.5,432.4 468.0,438.8 482.1,444.1 496.6,448.2 511.4,451.2 526.4,453.0 541.6,453.6 556.8,452.9 571.8,451.0 586.6,447.9 601.1,443.6 615.2,438.2 628.7,431.7 641.6,424.1 653.8,415.5 665.2,406.1 675.6,395.8 685.2,384.8 693.7,373.2 701.2,361.0 707.7,348.4 713.1,335.5 717.4,322.4 720.7,309.2 723.1,296.0 724.6,283.0 725.4,270.0 725.6,257.3 725.4,244.9 725.0,232.7 724.4,220.6 723.9,208.6 723.3,196.6 722.6,184.4 721.8,172.1 720.6,159.6 718.9,146.9 716.5,134.0 713.2,121.1 709.1,108.2 704.0,95.5 697.9,83.0 690.8,70.9 682.6,59.2 673.5,48.1 663.3,37.7 652.3,28.1 640.5,19.4 627.9,11.5 614.6,4.7 600.7,-1.0 586.4,-5.6 571.7,-9.0 556.7,-11.3 541.6,-12.3 526.4,-12.1 511.3,-10.7 496.4,-8.1 481.8,-4.2 467.5,0.8 453.8,6.9" fill="#5cffa3"/>
<polygon points="455.0,431.1 468.5,437.5 482.4,442.7 496.8,446.9 511.6,449.8 526.5,451.6 541.6,452.2 556.7,451.5 571.6,449.6 586.4,446.5 600.8,442.3 614.7,436.9 628.2,430.4 641.0,422.9 653.1,414.4 664.4,405.0 674.8,394.8 684.3,383.9 692.8,372.3 700.3,360.2 706.7,347.7 712.0,334.9 716.3,321.8 719.6,308.7 722.0,295.6 723.5,282.6 724.3,269.7 724.5,257.1 724.3,244.7 723.9,232.6 723.3,220.6 722.8,208.7 722.2,196.7 721.5,184.6 720.7,172.4 719.5,159.9 717.8,147.3 715.4,134.5 712.2,121.7 708.1,108.9 703.0,96.2 697.0,83.8 689.9,71.8 681.8,60.2 672.7,49.2 662.6,38.8 651.6,29.3 639.9,20.6 627.3,12.8 614.1,6.0 600.4,0.3 586.1,-4.2 571.5,-7.7 556.6,-9.9 541.6,-10.9 526.5,-10.7 511.5,-9.3 496.6,-6.7 482.1,-2.9 467.9,2.1 454.3,8.1" fill="#65ff9a"/>
<polygon points="455.5,429.9 468.9,436.2 482.8,441.4 497.1,445.5 511.7,448.5 526.6,450.2 541.6,450.8 556.5,450.1 571.4,448.3 586.1,445.2 600.4,441.0 614.3,435.6 627.7,429.2 640.4,421.7 652.4,413.2 663.7,403.9 674.0,393.8 683.4,382.9 691.9,371.4 699.3,359.4 705.7,346.9 711.0,334.2 715.3,321.2 718.6,308.2 720.9,295.2 722.4,282.2 723.2,269.5 723.4,256.9 723.2,244.6 722.8,232.5 722.2,220.6 721.7,208.7 721.1,196.8 720.5,184.8 719.6,172.7 718.4,160.3 716.7,147.7 714.3,135.0 711.2,122.3 707.1,109.5 702.1,97.0 696.0,84.6 689.0,72.6 680.9,61.1 671.9,50.2 661.9,39.9 651.0,30.4 639.3,21.7 626.8,14.0 613.7,7.3 600.0,1.6 585.8,-2.9 571.3,-6.3 556.5,-8.5 541.6,-9.6 526.6,-9.4 511.6,-8.0 496.9,-5.4 482.4,-1.6 468.4,3.4 454.8,9.4" fill="#6eff91"/>
<polygon points="456.0,428.7 469.3,435.0 483.1,440.2 497.3,444.2 511.9,447.2 526.7,448.9 541.5,449.5 556.4,448.8 571.2,446.9 585.8,443.9 600.0,439.7 613.9,434.4 627.1,428.0 639.8,420.5 651.8,412.1 662.9,402.8 673.2,392.8 682.6,382.0 691.0,370.5 698.4,358.6 704.7,346.2 710.0,333.5 714.3,320.6 717.5,307.7 719.8,294.7 721.3,281.9 722.1,269.2 722.3,256.7 722.1,244.5 721.7,232.4 721.2,220.6 720.6,208.8 720.0,197.0 719.4,185.0 718.6,172.9 717.4,160.6 715.7,148.1 713.3,135.5 710.2,122.8 706.1,110.2 701.1,97.7 695.1,85.4 688.1,73.5 680.1,62.0 671.1,51.2 661.2,40.9 650.3,31.5 638.7,22.9 626.3,15.2 613.3,8.5 599.6,2.9 585.6,-1.6 571.1,-5.0 556.4,-7.2 541.5,-8.2 526.6,-8.0 511.8,-6.6 497.1,-4.0 482.8,-0.3 468.8,4.6 455.3,10.6" fill="#77ff88"/>
<polygon points="456.5,427.5 469.7,433.7 483.4,438.9 497.5,443.0 512.0,445.9 526.7,447.6 541.5,448.2 556.3,447.5 571.0,445.7 585.5,442.6 599.7,438.4 613.4,433.1 626.6,426.8 639.2,419.4 651.1,411.0 662.2,401.8 672.5,391.8 681.8,381.0 690.1,369.7 697.5,357.8 703.8,345.5 709.0,332.9 713.3,320.1 716.5,307.2 718.8,294.3 720.3,281.5 721.1,268.9 721.3,256.5 721.1,244.3 720.7,232.4 720.1,220.6 719.6,208.9 719.0,197.1 718.4,185.2 717.5,173.2 716.4,161.0 714.7,148.6 712.3,136.0 709.2,123.4 705.2,110.8 700.2,98.4 694.2,86.2 687.3,74.3 679.3,62.9 670.3,52.1 660.5,42.0 649.7,32.6 638.1,24.0 625.8,16.4 612.8,9.7 599.3,4.1 585.3,-0.4 570.9,-3.7 556.3,-5.9 541.5,-6.9 526.7,-6.7 512.0,-5.3 497.4,-2.8 483.1,1.0 469.2,5.8 455.7,11.8" fill="#80ff7f"/>
<polygon points="456.9,426.3 470.1,432.5 483.7,437.7 497.8,441.7 512.2,444.6 526.8,446.4 541.5,446.9 556.2,446.2 570.9,444.4 585.3,441.4 599.4,437.2 613.0,432.0 626.2,425.6 638.7,418.3 650.5,410.0 661.5,400.8 671.7,390.8 681.0,380.1 689.3,368.8 696.6,357.0 702.8,344.8 708.1,332.3 712.3,319.5 715.5,306.7 717.8,293.9 719.3,281.2 720.1,268.6 720.3,256.3 720.1,244.2 719.7,232.3 719.1,220.6 718.6,208.9 718.0,197.2 717.4,185.4 716.5,173.5 715.4,161.3 713.7,149.0 711.4,136.5 708.3,123.9 704.3,111.4 699.3,99.1 693.4,86.9 686.4,75.1 678.5,63.8 669.6,53.1 659.8,43.0 649.1,33.6 637.6,25.1 625.3,17.5 612.4,10.9 599.0,5.3 585.0,0.9 570.8,-2.5 556.2,-4.7 541.5,-5.7 526.8,-5.5 512.1,-4.1 497.6,-1.5 483.4,2.2 469.5,7.0 456.2,13.0" fill="#89ff76"/>
<polygon points="457.4,425.2 470.4,431.4 484.0,436.5 498.0,440.5 512.3,443.4 526.9,445.1 541.5,445.7 556.1,445.0 570.7,443.2 585.0,440.2 599.0,436.0 612.6,430.8 625.7,424.5 638.1,417.2 649.9,408.9 660.9,399.8 671.0,389.9 680.2,379.3 688.5,368.0 695.7,356.3 701.9,344.1 707.1,331.6 711.3,319.0 714.5,306.2 716.8,293.5 718.3,280.8 719.1,268.4 719.3,256.1 719.1,244.1 718.7,232.2 718.1,220.6 717.6,209.0 717.0,197.4 716.4,185.6 715.6,173.7 714.4,161.6 712.7,149.4 710.4,136.9 707.3,124.5 703.3,112.0 698.4,99.7 692.5,87.7 685.6,75.9 677.7,64.7 668.9,54.0 659.1,43.9 648.5,34.6 637.0,26.2 624.8,18.6 612.0,12.1 598.6,6.5 584.8,2.1 570.6,-1.3 556.1,-3.4 541.5,-4.4 526.8,-4.2 512.2,-2.9 497.8,-0.3 483.7,3.4 469.9,8.2 456.6,14.1" fill="#92ff6d"/>
<polygon points="457.8,424.1 470.8,430.2 484.3,435.3 498.2,439.3 512.5,442.2 526.9,443.9 541.5,444.4 556.1,443.8 570.5,442.0 584.8,439.0 598.7,434.9 612.2,429.7 625.2,423.4 637.6,416.1 649.3,407.9 660.2,398.8 670.3,389.0 679.4,378.4 687.7,367.2 694.9,355.5 701.1,343.4 706.2,331.0 710.4,318.4 713.6,305.8 715.9,293.1 717.3,280.5 718.1,268.1 718.3,255.9 718.1,243.9 717.7,232.2 717.2,220.6 716.6,209.1 716.1,197.5 715.4,185.8 714.6,174.0 713.5,162.0 711.8,149.7 709.5,137.4 706.4,125.0 702.5,112.6 697.6,100.4 691.7,88.4 684.8,76.7 677.0,65.5 668.2,54.9 658.5,44.9 647.9,35.6 636.5,27.2 624.4,19.7 611.6,13.2 598.3,7.7 584.5,3.3 570.4,-0.1 556.0,-2.2 541.5,-3.2 526.9,-3.0 512.4,-1.6 498.0,0.9 484.0,4.6 470.3,9.4 457.1,15.2" fill="#9bff64"/>
<polygon points="458.2,423.0 471.2,429.1 484.6,434.2 498.4,438.2 512.6,441.0 527.0,442.7 541.5,443.2 556.0,442.6 570.3,440.8 584.5,437.8 598.4,433.7 611.8,428.6 624.7,422.3 637.1,415.1 648.7,406.9 659.6,397.9 669.6,388.1 678.7,377.6 686.9,366.4 694.0,354.8 700.2,342.8 705.3,330.5 709.5,317.9 712.7,305.3 714.9,292.7 716.4,280.2 717.1,267.8 717.3,255.7 717.2,243.8 716.7,232.1 716.2,220.6 715.7,209.1 715.1,197.6 714.5,186.0 713.7,174.2 712.5,162.3 710.9,150.1 708.6,137.8 705.5,125.5 701.6,113.2 696.7,101.0 690.9,89.1 684.1,77.5 676.3,66.3 667.5,55.8 657.8,45.8 647.3,36.6 636.0,28.3 623.9,20.8 611.2,14.3 598.0,8.8 584.3,4.4 570.2,1.1 555.9,-1.0 541.5,-2.0 527.0,-1.8 512.5,-0.5 498.3,2.1 484.3,5.7 470.7,10.5 457.5,16.3" fill="#a4ff5b"/>
<polygon points="458.7,422.0 471.5,428.0 484.9,433.1 498.6,437.0 512.7,439.9 527.0,441.5 541.5,442.1 555.9,441.4 570.2,439.6 584.3,436.7 598.1,432.6 611.4,427.5 624.3,421.3 636.6,414.1 648.1,405.9 658.9,397.0 668.9,387.2 678.0,376.7 686.1,365.7 693.2,354.1 699.3,342.1 704.5,329.9 708.6,317.4 711.7,304.9 714.0,292.3 715.4,279.9 716.2,267.6 716.4,255.5 716.2,243.7 715.8,232.1 715.3,220.6 714.7,209.2 714.2,197.7 713.6,186.2 712.8,174.5 711.6,162.6 710.0,150.5 707.7,138.3 704.6,126.0 700.7,113.8 695.9,101.6 690.1,89.8 683.3,78.2 675.5,67.2 666.8,56.6 657.2,46.7 646.7,37.6 635.5,29.3 623.5,21.8 610.8,15.4 597.7,9.9 584.1,5.5 570.1,2.3 555.8,0.1 541.5,-0.8 527.0,-0.7 512.7,0.7 498.5,3.2 484.6,6.8 471.0,11.6 457.9,17.4" fill="#adff52"/>
<polygon points="459.1,420.9 471.9,427.0 485.2,432.0 498.9,435.9 512.9,438.7 527.1,440.4 541.4,440.9 555.8,440.3 570.0,438.5 584.0,435.6 597.8,431.5 611.1,426.4 623.9,420.2 636.0,413.1 647.6,405.0 658.3,396.1 668.2,386.3 677.2,375.9 685.3,364.9 692.4,353.4 698.5,341.5 703.6,329.3 707.7,316.9 710.8,304.4 713.1,292.0 714.5,279.6 715.3,267.4 715.5,255.4 715.3,243.6 714.9,232.0 714.4,220.6 713.8,209.2 713.3,197.9 712.7,186.4 711.9,174.7 710.7,162.9 709.1,150.8 706.8,138.7 703.8,126.5 699.9,114.3 695.1,102.3 689.3,90.4 682.5,79.0 674.8,67.9 666.2,57.5 656.6,47.6 646.2,38.5 635.0,30.3 623.0,22.9 610.5,16.4 597.4,11.0 583.8,6.7 569.9,3.4 555.7,1.3 541.4,0.3 527.1,0.5 512.8,1.8 498.7,4.3 484.8,7.9 471.4,12.7 458.4,18.4" fill="#b6ff49"/>
<polygon points="459.5,419.9 472.2,425.9 485.4,430.9 499.1,434.8 513.0,437.6 527.2,439.3 541.4,439.8 555.7,439.2 569.9,437.4 583.8,434.5 597.5,430.5 610.7,425.4 623.4,419.2 635.6,412.1 647.0,404.1 657.7,395.2 667.6,385.5 676.5,375.1 684.6,364.2 691.6,352.8 697.7,340.9 702.8,328.8 706.8,316.4 710.0,304.0 712.2,291.6 713.6,279.3 714.4,267.1 714.6,255.2 714.4,243.5 714.0,231.9 713.5,220.6 712.9,209.3 712.4,198.0 711.8,186.5 711.0,174.9 709.9,163.2 708.2,151.2 706.0,139.1 702.9,127.0 699.1,114.8 694.3,102.9 688.5,91.1 681.8,79.7 674.1,68.7 665.5,58.3 656.0,48.5 645.6,39.5 634.5,31.2 622.6,23.9 610.1,17.5 597.1,12.1 583.6,7.7 569.8,4.5 555.7,2.4 541.4,1.4 527.1,1.6 512.9,2.9 498.9,5.4 485.1,9.0 471.7,13.7 458.8,19.5" fill="#beff41"/>
<polygon points="459.9,418.9 472.5,424.9 485.7,429.9 499.3,433.7 513.1,436.5 527.2,438.2 541.4,438.7 555.6,438.1 569.7,436.3 583.6,433.4 597.2,429.4 610.3,424.3 623.0,418.2 635.1,411.1 646.5,403.1 657.1,394.3 666.9,384.7 675.9,374.4 683.9,363.5 690.9,352.1 696.9,340.3 702.0,328.2 706.0,316.0 709.1,303.6 711.3,291.2 712.8,279.0 713.5,266.9 713.7,255.0 713.5,243.3 713.1,231.9 712.6,220.6 712.1,209.3 711.5,198.1 710.9,186.7 710.1,175.2 709.0,163.5 707.4,151.5 705.1,139.5 702.1,127.4 698.3,115.4 693.5,103.4 687.8,91.7 681.1,80.4 673.5,69.5 664.9,59.1 655.4,49.4 645.1,40.4 634.0,32.2 622.2,24.8 609.8,18.5 596.8,13.1 583.4,8.8 569.6,5.6 555.6,3.5 541.4,2.5 527.2,2.7 513.1,4.0 499.1,6.5 485.4,10.1 472.0,14.8 459.2,20.5" fill="#c7ff38"/>
<polygon points="460.3,417.9 472.9,423.9 486.0,428.8 499.4,432.7 513.3,435.5 527.3,437.1 541.4,437.6 555.5,437.0 569.5,435.3 583.4,432.4 596.9,428.4 610.0,423.3 622.6,417.2 634.6,410.2 645.9,402.2 656.5,393.4 666.3,383.9 675.2,373.6 683.1,362.8 690.1,351.4 696.1,339.7 701.1,327.7 705.2,315.5 708.3,303.2 710.5,290.9 711.9,278.7 712.6,266.7 712.8,254.8 712.7,243.2 712.3,231.8 711.8,220.6 711.2,209.4 710.7,198.2 710.1,186.9 709.3,175.4 708.2,163.7 706.5,151.9 704.3,139.9 701.3,127.9 697.5,115.9 692.7,104.0 687.1,92.4 680.4,81.1 672.8,70.2 664.3,59.9 654.8,50.2 644.6,41.3 633.5,33.1 621.8,25.8 609.4,19.5 596.5,14.1 583.1,9.8 569.4,6.6 555.5,4.5 541.4,3.6 527.3,3.8 513.2,5.1 499.3,7.6 485.6,11.1 472.4,15.8 459.6,21.5" fill="#d0ff2f"/>
<polygon points="460.7,417.0 473.2,422.9 486.2,427.8 499.6,431.7 513.4,434.4 527.3,436.1 541.4,436.6 555.4,436.0 569.4,434.2 583.1,431.3 596.6,427.4 609.6,422.3 622.2,416.3 634.1,409.3 645.4,401.4 655.9,392.6 665.7,383.1 674.5,372.9 682.4,362.1 689.4,350.8 695.4,339.1 700.4,327.2 704.4,315.0 707.5,302.8 709.7,290.6 711.1,278.4 711.8,266.4 712.0,254.7 711.8,243.1 711.4,231.8 710.9,220.6 710.4,209.5 709.8,198.3 709.2,187.0 708.4,175.6 707.3,164.0 705.7,152.2 703.5,140.3 700.5,128.3 696.7,116.4 692.0,104.6 686.3,93.0 679.7,81.8 672.1,70.9 663.6,60.7 654.3,51.0 644.0,42.1 633.1,34.0 621.4,26.8 609.1,20.5 596.2,15.1 582.9,10.9 569.3,7.7 555.4,5.6 541.4,4.6 527.3,4.8 513.3,6.1 499.5,8.6 485.9,12.1 472.7,16.8 459.9,22.4" fill="#d9ff26"/>
<polygon points="461.0,416.0 473.5,421.9 486.5,426.8 499.8,430.7 513.5,433.4 527.4,435.0 541.4,435.6 555.4,434.9 569.2,433.2 582.9,430.3 596.3,426.4 609.3,421.4 621.8,415.4 633.7,408.4 644.9,400.5 655.4,391.8 665.1,382.3 673.9,372.1 681.7,361.4 688.7,350.2 694.6,338.6 699.6,326.7 703.6,314.6 706.6,302.4 708.8,290.2 710.2,278.1 711.0,266.2 711.2,254.5 711.0,243.0 710.6,231.7 710.1,220.6 709.6,209.5 709.0,198.4 708.4,187.2 707.6,175.8 706.5,164.3 704.9,152.5 702.7,140.7 699.8,128.8 696.0,116.9 691.3,105.1 685.6,93.6 679.0,82.4 671.5,71.7 663.1,61.4 653.7,51.9 643.5,43.0 632.6,34.9 621.0,27.7 608.7,21.4 595.9,16.1 582.7,11.9 569.1,8.7 555.3,6.6 541.4,5.7 527.4,5.9 513.4,7.2 499.7,9.6 486.1,13.1 473.0,17.7 460.3,23.4" fill="#e2ff1d"/>
<polygon points="461.4,415.1 473.8,421.0 486.7,425.8 500.0,429.7 513.6,432.4 527.4,434.0 541.4,434.5 555.3,433.9 569.1,432.2 582.7,429.3 596.0,425.4 609.0,420.4 621.4,414.4 633.2,407.5 644.4,399.6 654.8,391.0 664.5,381.5 673.2,371.4 681.1,360.7 688.0,349.6 693.9,338.0 698.8,326.2 702.8,314.1 705.9,302.0 708.0,289.9 709.4,277.9 710.2,266.0 710.4,254.3 710.2,242.9 709.8,231.7 709.3,220.6 708.8,209.6 708.2,198.5 707.6,187.4 706.8,176.0 705.7,164.5 704.2,152.9 701.9,141.1 699.0,129.2 695.2,117.4 690.5,105.7 684.9,94.2 678.4,83.1 670.9,72.4 662.5,62.2 653.2,52.6 643.1,43.8 632.2,35.8 620.6,28.6 608.4,22.3 595.7,17.1 582.5,12.9 569.0,9.7 555.3,7.6 541.4,6.7 527.4,6.9 513.6,8.2 499.8,10.6 486.4,14.1 473.3,18.7 460.7,24.3" fill="#ebff14"/>
<polygon points="461.7,414.2 474.1,420.0 486.9,424.9 500.2,428.7 513.7,431.4 527.5,433.0 541.3,433.5 555.2,432.9 569.0,431.2 582.5,428.4 595.8,424.5 608.6,419.5 621.0,413.5 632.8,406.6 643.9,398.8 654.3,390.2 663.9,380.8 672.6,370.7 680.4,360.1 687.3,349.0 693.2,337.5 698.1,325.7 702.0,313.7 705.1,301.6 707.2,289.6 708.6,277.6 709.4,265.8 709.6,254.2 709.4,242.8 709.0,231.6 708.5,220.6 708.0,209.6 707.4,198.6 706.8,187.5 706.1,176.3 705.0,164.8 703.4,153.2 701.2,141.4 698.3,129.6 694.5,117.9 689.8,106.2 684.3,94.8 677.7,83.7 670.3,73.1 661.9,62.9 652.6,53.4 642.6,44.6 631.7,36.6 620.2,29.5 608.1,23.3 595.4,18.0 582.3,13.8 568.9,10.7 555.2,8.6 541.3,7.7 527.5,7.9 513.7,9.2 500.0,11.6 486.6,15.1 473.6,19.6 461.1,25.2" fill="#f4ff0b"/>
<polygon points="462.1,413.3 474.4,419.1 487.2,424.0 500.4,427.7 513.9,430.5 527.5,432.1 541.3,432.6 555.1,432.0 568.8,430.2 582.3,427.4 595.5,423.5 608.3,418.6 620.6,412.6 632.4,405.8 643.4,398.0 653.8,389.4 663.3,380.1 672.0,370.0 679.8,359.5 686.6,348.4 692.5,336.9 697.4,325.2 701.3,313.3 704.3,301.3 706.5,289.2 707.9,277.3 708.6,265.6 708.8,254.0 708.6,242.7 708.2,231.6 707.7,220.6 707.2,209.7 706.7,198.7 706.1,187.7 705.3,176.5 704.2,165.1 702.6,153.5 700.4,141.8 697.5,130.1 693.8,118.3 689.1,106.7 683.6,95.4 677.1,84.3 669.7,73.7 661.3,63.7 652.1,54.2 642.1,45.4 631.3,37.5 619.8,30.4 607.7,24.2 595.1,19.0 582.1,14.8 568.7,11.6 555.1,9.6 541.3,8.7 527.5,8.8 513.8,10.1 500.2,12.5 486.9,16.0 473.9,20.6 461.4,26.1" fill="#fdff02"/>
<polygon points="462.4,412.4 474.7,418.2 487.4,423.0 500.5,426.8 514.0,429.5 527.6,431.1 541.3,431.6 555.1,431.0 568.7,429.3 582.1,426.5 595.3,422.6 608.0,417.7 620.2,411.8 631.9,404.9 643.0,397.2 653.2,388.6 662.7,379.3 671.4,369.4 679.1,358.8 685.9,347.8 691.8,336.4 696.6,324.7 700.6,312.8 703.6,300.9 705.7,288.9 707.1,277.1 707.8,265.4 708.0,253.9 707.8,242.6 707.4,231.5 706.9,220.6 706.4,209.7 705.9,198.8 705.3,187.8 704.5,176.7 703.4,165.3 701.9,153.8 699.7,142.2 696.8,130.5 693.1,118.8 688.5,107.3 682.9,95.9 676.5,85.0 669.1,74.4 660.8,64.4 651.6,54.9 641.6,46.2 630.9,38.3 619.5,31.2 607.4,25.1 594.9,19.9 581.9,15.7 568.6,12.6 555.0,10.6 541.3,9.6 527.6,9.8 513.9,11.1 500.4,13.5 487.1,16.9 474.2,21.5 461.8,27.0" fill="#fff800"/>
<polygon points="462.8,411.6 475.0,417.3 487.6,422.1 500.7,425.9 514.1,428.6 527.6,430.2 541.3,430.7 555.0,430.1 568.6,428.4 581.9,425.6 595.0,421.7 607.7,416.8 619.9,410.9 631.5,404.1 642.5,396.4 652.7,387.9 662.2,378.6 670.8,368.7 678.5,358.2 685.3,347.2 691.1,335.9 695.9,324.3 699.8,312.4 702.8,300.5 705.0,288.6 706.3,276.8 707.1,265.2 707.3,253.7 707.1,242.5 706.7,231.5 706.2,220.6 705.7,209.8 705.2,198.9 704.6,188.0 703.8,176.9 702.7,165.6 701.2,154.1 699.0,142.5 696.1,130.9 692.4,119.3 687.8,107.8 682.3,96.5 675.8,85.6 668.5,75.1 660.2,65.1 651.1,55.7 641.2,47.0 630.5,39.1 619.1,32.1 607.1,25.9 594.6,20.8 581.7,16.6 568.5,13.5 555.0,11.5 541.3,10.6 527.6,10.7 514.0,12.0 500.5,14.4 487.3,17.8 474.5,22.3 462.1,27.9" fill="#ffee00"/>
<polygon points="463.1,410.7 475.3,416.5 487.9,421.2 500.9,425.0 514.2,427.7 527.7,429.2 541.3,429.7 554.9,429.1 568.4,427.4 581.7,424.7 594.8,420.8 607.4,415.9 619.5,410.1 631.1,403.3 642.0,395.6 652.2,387.1 661.6,377.9 670.2,368.0 677.9,357.6 684.6,346.7 690.4,335.4 695.2,323.8 699.1,312.0 702.1,300.2 704.2,288.3 705.6,276.6 706.3,265.0 706.5,253.6 706.3,242.4 705.9,231.4 705.5,220.6 704.9,209.8 704.4,199.0 703.8,188.1 703.1,177.0 702.0,165.8 700.4,154.4 698.3,142.9 695.4,131.3 691.7,119.7 687.1,108.3 681.7,97.0 675.2,86.2 667.9,75.7 659.7,65.7 650.6,56.4 640.7,47.8 630.1,39.9 618.7,32.9 606.8,26.8 594.4,21.6 581.5,17.5 568.3,14.4 554.9,12.4 541.3,11.5 527.7,11.7 514.1,12.9 500.7,15.3 487.6,18.7 474.8,23.2 462.4,28.7" fill="#ffe500"/>
<polygon points="463.5,409.9 475.5,415.6 488.1,420.4 501.0,424.1 514.3,426.8 527.7,428.3 541.3,428.8 554.8,428.2 568.3,426.5 581.5,423.8 594.5,419.9 607.1,415.1 619.2,409.3 630.7,402.5 641.6,394.9 651.7,386.4 661.1,377.2 669.6,367.4 677.3,357.0 684.0,346.1 689.7,334.9 694.6,323.3 698.4,311.6 701.4,299.8 703.5,288.0 704.9,276.3 705.6,264.8 705.8,253.4 705.6,242.3 705.2,231.4 704.7,220.6 704.2,209.9 703.7,199.1 703.1,188.2 702.4,177.2 701.3,166.0 699.7,154.7 697.6,143.2 694.7,131.6 691.0,120.1 686.5,108.7 681.0,97.6 674.6,86.7 667.4,76.3 659.2,66.4 650.1,57.1 640.3,48.5 629.7,40.7 618.4,33.7 606.5,27.6 594.1,22.5 581.3,18.4 568.2,15.3 554.8,13.3 541.3,12.4 527.7,12.6 514.2,13.8 500.9,16.2 487.8,19.6 475.1,24.1 462.8,29.5" fill="#ffdb00"/>
<polygon points="463.8,409.1 475.8,414.8 488.3,419.5 501.2,423.2 514.4,425.9 527.8,427.4 541.3,427.9 554.8,427.3 568.2,425.7 581.4,422.9 594.3,419.1 606.8,414.3 618.8,408.5 630.3,401.7 641.1,394.1 651.3,385.7 660.6,376.6 669.1,366.8 676.7,356.4 683.4,345.6 689.1,334.4 693.9,322.9 697.7,311.2 700.7,299.5 702.8,287.7 704.2,276.1 704.9,264.6 705.1,253.3 704.9,242.2 704.5,231.3 704.0,220.6 703.5,209.9 703.0,199.2 702.4,188.4 701.6,177.4 700.6,166.3 699.0,155.0 696.9,143.5 694.1,132.0 690.4,120.6 685.9,109.2 680.4,98.1 674.1,87.3 666.8,76.9 658.6,67.1 649.6,57.8 639.8,49.3 629.3,41.5 618.1,34.5 606.2,28.5 593.9,23.4 581.2,19.3 568.1,16.2 554.7,14.2 541.3,13.3 527.8,13.5 514.3,14.7 501.0,17.1 488.0,20.5 475.3,24.9 463.1,30.4" fill="#ffd100"/>
<polygon points="464.1,408.3 476.1,414.0 488.5,418.7 501.4,422.4 514.5,425.0 527.8,426.6 541.3,427.1 554.7,426.5 568.0,424.8 581.2,422.0 594.0,418.2 606.5,413.4 618.5,407.7 629.9,401.0 640.7,393.4 650.8,385.0 660.1,375.9 668.5,366.2 676.1,355.8 682.7,345.1 688.5,333.9 693.2,322.5 697.1,310.9 700.0,299.2 702.1,287.5 703.5,275.9 704.2,264.4 704.4,253.2 704.2,242.1 703.8,231.3 703.3,220.6 702.8,209.9 702.3,199.3 701.7,188.5 701.0,177.6 699.9,166.5 698.4,155.2 696.2,143.8 693.4,132.4 689.7,121.0 685.2,109.7 679.8,98.6 673.5,87.9 666.3,77.6 658.1,67.7 649.2,58.5 639.4,50.0 628.9,42.2 617.7,35.3 606.0,29.3 593.7,24.2 581.0,20.1 567.9,17.1 554.7,15.1 541.3,14.2 527.8,14.3 514.4,15.6 501.2,17.9 488.2,21.3 475.6,25.7 463.4,31.2" fill="#ffc800"/>
<polygon points="464.4,407.5 476.3,413.2 488.7,417.8 501.5,421.5 514.6,424.1 527.9,425.7 541.3,426.2 554.6,425.6 567.9,423.9 581.0,421.2 593.8,417.4 606.2,412.6 618.2,406.9 629.5,400.2 640.3,392.7 650.3,384.3 659.6,375.3 668.0,365.5 675.5,355.3 682.1,344.5 687.8,333.4 692.6,322.0 696.4,310.5 699.3,298.8 701.4,287.2 702.8,275.6 703.5,264.2 703.7,253.0 703.5,242.0 703.1,231.2 702.6,220.6 702.1,210.0 701.6,199.4 701.0,188.7 700.3,177.8 699.2,166.7 697.7,155.5 695.6,144.2 692.7,132.8 689.1,121.4 684.6,110.2 679.2,99.1 672.9,88.4 665.7,78.1 657.6,68.4 648.7,59.2 639.0,50.7 628.5,43.0 617.4,36.1 605.7,30.1 593.4,25.0 580.8,21.0 567.8,17.9 554.6,15.9 541.3,15.0 527.9,15.2 514.5,16.5 501.4,18.8 488.4,22.2 475.9,26.6 463.7,32.0" fill="#ffbe00"/>
<polygon points="464.7,406.7 476.6,412.4 488.9,417.0 501.7,420.7 514.7,423.3 527.9,424.9 541.2,425.4 554.6,424.8 567.8,423.1 580.8,420.4 593.6,416.6 605.9,411.8 617.8,406.1 629.2,399.5 639.9,391.9 649.8,383.6 659.1,374.6 667.4,365.0 675.0,354.7 681.5,344.0 687.2,333.0 691.9,321.6 695.8,310.1 698.7,298.5 700.8,286.9 702.1,275.4 702.8,264.0 703.0,252.9 702.8,241.9 702.4,231.2 701.9,220.6 701.4,210.0 700.9,199.5 700.4,188.8 699.6,178.0 698.6,167.0 697.0,155.8 694.9,144.5 692.1,133.1 688.5,121.8 684.0,110.6 678.6,99.6 672.4,89.0 665.2,78.7 657.1,69.0 648.2,59.9 638.6,51.4 628.1,43.7 617.1,36.8 605.4,30.9 593.2,25.8 580.6,21.8 567.7,18.8 554.5,16.8 541.2,15.9 527.9,16.1 514.6,17.3 501.5,19.6 488.6,23.0 476.1,27.4 464.0,32.7" fill="#ffb400"/>
<polygon points="465.0,406.0 476.8,411.6 489.1,416.2 501.8,419.9 514.8,422.5 528.0,424.0 541.2,424.5 554.5,423.9 567.7,422.3 580.7,419.6 593.4,415.8 605.7,411.1 617.5,405.3 628.8,398.7 639.4,391.2 649.4,383.0 658.6,374.0 666.9,364.4 674.4,354.2 681.0,343.5 686.6,332.5 691.3,321.2 695.1,309.7 698.0,298.2 700.1,286.6 701.4,275.2 702.1,263.9 702.3,252.8 702.1,241.9 701.8,231.2 701.3,220.6 700.8,210.1 700.3,199.5 699.7,188.9 699.0,178.1 697.9,167.2 696.4,156.0 694.3,144.8 691.5,133.5 687.9,122.2 683.4,111.1 678.1,100.1 671.8,89.5 664.7,79.3 656.7,69.6 647.8,60.5 638.2,52.1 627.8,44.4 616.7,37.6 605.1,31.6 593.0,26.6 580.5,22.6 567.6,19.6 554.5,17.6 541.2,16.7 528.0,16.9 514.7,18.1 501.7,20.4 488.8,23.8 476.4,28.2 464.3,33.5" fill="#ffab00"/>
<polygon points="465.3,405.2 477.1,410.8 489.3,415.4 502.0,419.1 514.9,421.7 528.0,423.2 541.2,423.7 554.4,423.1 567.6,421.5 580.5,418.8 593.1,415.0 605.4,410.3 617.2,404.6 628.4,398.0 639.0,390.6 648.9,382.3 658.1,373.4 666.4,363.8 673.8,353.6 680.4,343.0 686.0,332.1 690.7,320.8 694.5,309.4 697.4,297.9 699.4,286.4 700.8,275.0 701.5,263.7 701.7,252.6 701.5,241.8 701.1,231.1 700.6,220.6 700.1,210.1 699.6,199.6 699.0,189.0 698.3,178.3 697.3,167.4 695.8,156.3 693.7,145.1 690.9,133.8 687.3,122.6 682.8,111.5 677.5,100.6 671.3,90.0 664.2,79.9 656.2,70.2 647.4,61.2 637.8,52.8 627.4,45.1 616.4,38.3 604.9,32.4 592.8,27.4 580.3,23.4 567.5,20.4 554.4,18.4 541.2,17.5 528.0,17.7 514.8,18.9 501.8,21.2 489.0,24.6 476.6,28.9 464.6,34.3" fill="#ffa100"/>
<polygon points="465.6,404.5 477.3,410.1 489.5,414.7 502.1,418.3 515.0,420.9 528.1,422.4 541.2,422.9 554.4,422.3 567.4,420.7 580.3,418.0 592.9,414.2 605.1,409.5 616.9,403.9 628.1,397.3 638.6,389.9 648.5,381.7 657.6,372.8 665.9,363.2 673.3,353.1 679.8,342.5 685.4,331.6 690.1,320.4 693.9,309.0 696.7,297.6 698.8,286.1 700.1,274.7 700.8,263.5 701.0,252.5 700.8,241.7 700.5,231.1 700.0,220.6 699.5,210.2 699.0,199.7 698.4,189.2 697.7,178.5 696.6,167.6 695.1,156.6 693.0,145.4 690.3,134.2 686.7,123.0 682.3,111.9 677.0,101.1 670.8,90.6 663.7,80.4 655.7,70.8 646.9,61.8 637.4,53.4 627.1,45.8 616.1,39.1 604.6,33.2 592.6,28.2 580.1,24.2 567.3,21.2 554.3,19.2 541.2,18.3 528.0,18.5 514.9,19.8 502.0,22.0 489.2,25.4 476.9,29.7 464.9,35.0" fill="#ff9800"/>
<polygon points="465.9,403.8 477.6,409.3 489.7,413.9 502.3,417.5 515.1,420.1 528.1,421.6 541.2,422.1 554.3,421.5 567.3,419.9 580.2,417.2 592.7,413.5 604.9,408.8 616.6,403.1 627.7,396.6 638.2,389.2 648.1,381.0 657.1,372.2 665.4,362.6 672.8,352.6 679.3,342.1 684.8,331.2 689.5,320.0 693.2,308.7 696.1,297.3 698.2,285.9 699.5,274.5 700.2,263.4 700.4,252.4 700.2,241.6 699.8,231.0 699.3,220.6 698.8,210.2 698.3,199.8 697.8,189.3 697.0,178.6 696.0,167.8 694.5,156.8 692.4,145.7 689.7,134.5 686.1,123.4 681.7,112.4 676.4,101.6 670.2,91.1 663.2,81.0 655.3,71.4 646.5,62.4 637.0,54.1 626.7,46.5 615.8,39.8 604.3,33.9 592.3,28.9 580.0,25.0 567.2,22.0 554.3,20.0 541.2,19.1 528.1,19.3 515.0,20.5 502.1,22.8 489.4,26.1 477.1,30.4 465.2,35.7" fill="#ff8e00"/>
<polygon points="466.2,403.1 477.8,408.6 489.9,413.1 502.4,416.7 515.2,419.3 528.1,420.8 541.2,421.3 554.3,420.7 567.2,419.1 580.0,416.4 592.5,412.7 604.6,408.1 616.3,402.4 627.4,395.9 637.9,388.6 647.6,380.4 656.7,371.6 664.9,362.1 672.3,352.1 678.7,341.6 684.3,330.7 688.9,319.6 692.6,308.3 695.5,297.0 697.6,285.6 698.9,274.3 699.5,263.2 699.7,252.3 699.6,241.5 699.2,231.0 698.7,220.6 698.2,210.2 697.7,199.9 697.2,189.4 696.4,178.8 695.4,168.0 693.9,157.1 691.8,146.0 689.1,134.9 685.5,123.8 681.1,112.8 675.9,102.0 669.7,91.6 662.7,81.5 654.8,72.0 646.1,63.0 636.6,54.8 626.4,47.2 615.5,40.5 604.1,34.6 592.1,29.7 579.8,25.7 567.1,22.7 554.2,20.8 541.2,19.9 528.1,20.1 515.1,21.3 502.2,23.6 489.6,26.9 477.4,31.2 465.5,36.4" fill="#ff8400"/>
<polygon points="466.5,402.4 478.0,407.9 490.1,412.4 502.5,416.0 515.3,418.5 528.2,420.1 541.2,420.5 554.2,420.0 567.1,418.3 579.8,415.7 592.3,412.0 604.4,407.3 616.0,401.7 627.0,395.2 637.5,387.9 647.2,379.8 656.2,371.0 664.4,361.6 671.7,351.6 678.2,341.1 683.7,330.3 688.3,319.2 692.1,308.0 694.9,296.7 696.9,285.3 698.2,274.1 698.9,263.0 699.1,252.1 698.9,241.4 698.6,230.9 698.1,220.6 697.6,210.3 697.1,200.0 696.6,189.5 695.8,179.0 694.8,168.2 693.3,157.3 691.3,146.3 688.5,135.2 685.0,124.1 680.6,113.2 675.4,102.5 669.2,92.1 662.2,82.1 654.4,72.6 645.7,63.6 636.2,55.4 626.0,47.9 615.2,41.2 603.8,35.3 591.9,30.4 579.6,26.5 567.0,23.5 554.2,21.6 541.2,20.7 528.2,20.9 515.2,22.1 502.4,24.3 489.8,27.6 477.6,31.9 465.8,37.2" fill="#ff7b00"/>
<polygon points="466.7,401.7 478.3,407.1 490.3,411.7 502.7,415.2 515.4,417.8 528.2,419.3 541.2,419.8 554.1,419.2 567.0,417.6 579.7,414.9 592.1,411.3 604.1,406.6 615.7,401.0 626.7,394.6 637.1,387.3 646.8,379.2 655.8,370.4 663.9,361.0 671.2,351.1 677.7,340.7 683.2,329.9 687.8,318.9 691.5,307.7 694.3,296.4 696.3,285.1 697.6,273.9 698.3,262.9 698.5,252.0 698.3,241.4 698.0,230.9 697.5,220.6 697.0,210.3 696.5,200.0 696.0,189.7 695.2,179.1 694.2,168.4 692.7,157.5 690.7,146.6 687.9,135.5 684.4,124.5 680.1,113.6 674.8,102.9 668.7,92.6 661.7,82.6 653.9,73.1 645.3,64.2 635.8,56.0 625.7,48.5 614.9,41.9 603.6,36.0 591.7,31.1 579.5,27.2 566.9,24.3 554.1,22.3 541.2,21.5 528.2,21.6 515.3,22.8 502.5,25.1 490.0,28.4 477.8,32.6 466.1,37.9" fill="#ff7100"/>
<polygon points="467.0,401.0 478.5,406.4 490.5,411.0 502.8,414.5 515.4,417.0 528.3,418.5 541.2,419.0 554.1,418.4 566.9,416.8 579.5,414.2 591.9,410.5 603.9,405.9 615.4,400.4 626.4,393.9 636.7,386.6 646.4,378.6 655.3,369.9 663.5,360.5 670.7,350.6 677.1,340.2 682.6,329.5 687.2,318.5 690.9,307.3 693.7,296.1 695.7,284.9 697.0,273.7 697.7,262.7 697.9,251.9 697.7,241.3 697.4,230.9 696.9,220.6 696.4,210.4 695.9,200.1 695.4,189.8 694.6,179.3 693.6,168.6 692.1,157.8 690.1,146.8 687.4,135.8 683.9,124.9 679.5,114.0 674.3,103.4 668.2,93.0 661.3,83.1 653.5,73.7 644.9,64.8 635.5,56.6 625.4,49.2 614.6,42.5 603.3,36.7 591.5,31.8 579.3,27.9 566.8,25.0 554.0,23.1 541.2,22.2 528.2,22.4 515.4,23.6 502.7,25.8 490.2,29.1 478.1,33.3 466.3,38.5" fill="#ff6700"/>
<polygon points="467.3,400.3 478.7,405.7 490.7,410.2 502.9,413.8 515.5,416.3 528.3,417.8 541.2,418.3 554.0,417.7 566.8,416.1 579.4,413.5 591.7,409.8 603.6,405.2 615.1,399.7 626.0,393.3 636.4,386.0 646.0,378.0 654.9,369.3 663.0,360.0 670.2,350.1 676.6,339.8 682.1,329.1 686.7,318.1 690.3,307.0 693.1,295.8 695.2,284.6 696.5,273.5 697.1,262.5 697.3,251.8 697.1,241.2 696.8,230.8 696.3,220.6 695.8,210.4 695.3,200.2 694.8,189.9 694.1,179.4 693.0,168.8 691.6,158.0 689.5,147.1 686.8,136.2 683.3,125.2 679.0,114.4 673.8,103.8 667.8,93.5 660.8,83.6 653.1,74.2 644.5,65.4 635.1,57.2 625.1,49.8 614.4,43.2 603.1,37.4 591.3,32.6 579.2,28.6 566.7,25.7 554.0,23.8 541.2,22.9 528.3,23.1 515.5,24.3 502.8,26.6 490.4,29.8 478.3,34.0 466.6,39.2" fill="#ff5e00"/>
<polygon points="467.5,399.7 478.9,405.1 490.8,409.5 503.1,413.1 515.6,415.6 528.3,417.1 541.1,417.6 554.0,417.0 566.7,415.4 579.2,412.8 591.5,409.1 603.4,404.6 614.8,399.0 625.7,392.6 636.0,385.4 645.6,377.4 654.5,368.8 662.5,359.5 669.8,349.6 676.1,339.3 681.6,328.7 686.1,317.8 689.8,306.7 692.6,295.5 694.6,284.4 695.9,273.3 696.5,262.4 696.7,251.7 696.6,241.1 696.2,230.8 695.7,220.6 695.2,210.4 694.8,200.3 694.2,190.0 693.5,179.6 692.5,169.0 691.0,158.2 689.0,147.4 686.3,136.5 682.8,125.6 678.5,114.8 673.3,104.2 667.3,94.0 660.4,84.1 652.6,74.8 644.1,66.0 634.8,57.8 624.7,50.4 614.1,43.8 602.9,38.1 591.1,33.2 579.0,29.3 566.6,26.4 553.9,24.5 541.1,23.7 528.3,23.8 515.5,25.0 502.9,27.3 490.5,30.5 478.5,34.7 466.9,39.9" fill="#ff5400"/>
<polygon points="467.8,399.0 479.2,404.4 491.0,408.9 503.2,412.4 515.7,414.9 528.4,416.4 541.1,416.8 553.9,416.3 566.6,414.7 579.1,412.1 591.3,408.5 603.1,403.9 614.5,398.4 625.4,392.0 635.7,384.8 645.2,376.9 654.1,368.2 662.1,359.0 669.3,349.2 675.6,338.9 681.0,328.3 685.6,317.4 689.2,306.4 692.0,295.3 694.0,284.2 695.3,273.1 696.0,262.2 696.2,251.6 696.0,241.1 695.6,230.8 695.2,220.6 694.7,210.5 694.2,200.3 693.6,190.1 692.9,179.7 691.9,169.2 690.5,158.5 688.4,147.6 685.7,136.8 682.3,125.9 678.0,115.2 672.8,104.7 666.8,94.5 659.9,84.6 652.2,75.3 643.7,66.5 634.4,58.4 624.4,51.1 613.8,44.5 602.6,38.8 591.0,33.9 578.9,30.0 566.5,27.1 553.9,25.3 541.1,24.4 528.4,24.6 515.6,25.7 503.1,28.0 490.7,31.2 478.7,35.4 467.1,40.5" fill="#ff4b00"/>
<polygon points="468.0,398.4 479.4,403.7 491.2,408.2 503.3,411.7 515.8,414.2 528.4,415.7 541.1,416.1 553.9,415.6 566.5,414.0 578.9,411.4 591.1,407.8 602.9,403.2 614.3,397.8 625.1,391.4 635.3,384.2 644.8,376.3 653.6,367.7 661.6,358.5 668.8,348.7 675.1,338.5 680.5,327.9 685.0,317.1 688.7,306.1 691.5,295.0 693.5,283.9 694.7,272.9 695.4,262.1 695.6,251.4 695.4,241.0 695.1,230.7 694.6,220.6 694.1,210.5 693.6,200.4 693.1,190.2 692.4,179.9 691.4,169.4 689.9,158.7 687.9,147.9 685.2,137.1 681.7,126.3 677.5,115.6 672.3,105.1 666.4,94.9 659.5,85.1 651.8,75.8 643.3,67.1 634.1,59.0 624.1,51.7 613.5,45.1 602.4,39.4 590.8,34.6 578.7,30.7 566.4,27.8 553.8,26.0 541.1,25.1 528.4,25.3 515.7,26.5 503.2,28.7 490.9,31.9 478.9,36.1 467.4,41.2" fill="#ff4100"/>
<polygon points="468.3,397.7 479.6,403.1 491.3,407.5 503.5,411.0 515.9,413.5 528.4,415.0 541.1,415.4 553.8,414.9 566.4,413.3 578.8,410.7 590.9,407.1 602.7,402.6 614.0,397.1 624.8,390.8 635.0,383.7 644.5,375.7 653.2,367.2 661.2,358.0 668.4,348.2 674.6,338.1 680.0,327.5 684.5,316.7 688.1,305.8 690.9,294.7 692.9,283.7 694.2,272.7 694.8,261.9 695.0,251.3 694.9,240.9 694.5,230.7 694.0,220.6 693.6,210.5 693.1,200.5 692.5,190.3 691.8,180.0 690.8,169.5 689.4,158.9 687.4,148.2 684.7,137.4 681.2,126.6 677.0,115.9 671.9,105.5 665.9,95.4 659.1,85.6 651.4,76.3 642.9,67.6 633.7,59.6 623.8,52.3 613.3,45.7 602.2,40.0 590.6,35.3 578.6,31.4 566.3,28.5 553.8,26.6 541.1,25.8 528.4,26.0 515.8,27.1 503.3,29.3 491.1,32.5 479.1,36.7 467.7,41.8" fill="#ff3700"/>
<polygon points="468.5,397.1 479.8,402.4 491.5,406.9 503.6,410.3 515.9,412.8 528.5,414.3 541.1,414.8 553.7,414.2 566.3,412.6 578.6,410.0 590.7,406.5 602.5,401.9 613.7,396.5 624.5,390.2 634.6,383.1 644.1,375.2 652.8,366.6 660.8,357.5 667.9,347.8 674.2,337.6 679.5,327.2 684.0,316.4 687.6,305.5 690.4,294.5 692.4,283.5 693.6,272.6 694.3,261.8 694.5,251.2 694.3,240.8 694.0,230.6 693.5,220.6 693.0,210.6 692.5,200.6 692.0,190.4 691.3,180.2 690.3,169.7 688.8,159.1 686.8,148.4 684.2,137.7 680.7,126.9 676.5,116.3 671.4,105.9 665.5,95.8 658.6,86.1 651.0,76.8 642.6,68.2 633.4,60.2 623.5,52.9 613.0,46.4 601.9,40.7 590.4,35.9 578.5,32.1 566.2,29.2 553.7,27.3 541.1,26.5 528.5,26.6 515.9,27.8 503.4,30.0 491.2,33.2 479.4,37.4 467.9,42.5" fill="#ff2e00"/>
<polygon points="468.8,396.5 480.0,401.8 491.7,406.2 503.7,409.7 516.0,412.1 528.5,413.6 541.1,414.1 553.7,413.5 566.2,411.9 578.5,409.4 590.6,405.8 602.2,401.3 613.5,395.9 624.2,389.6 634.3,382.5 643.7,374.7 652.4,366.1 660.4,357.0 667.4,347.3 673.7,337.2 679.0,326.8 683.5,316.1 687.1,305.2 689.9,294.2 691.8,283.3 693.1,272.4 693.8,261.7 693.9,251.1 693.8,240.8 693.4,230.6 693.0,220.6 692.5,210.6 692.0,200.6 691.5,190.5 690.8,180.3 689.8,169.9 688.3,159.3 686.3,148.7 683.7,138.0 680.2,127.3 676.0,116.7 670.9,106.3 665.0,96.2 658.2,86.5 650.6,77.3 642.2,68.7 633.1,60.7 623.2,53.5 612.7,47.0 601.7,41.3 590.2,36.6 578.3,32.7 566.1,29.9 553.7,28.0 541.1,27.1 528.5,27.3 516.0,28.5 503.6,30.7 491.4,33.9 479.6,38.0 468.1,43.1" fill="#ff2400"/>
<polygon points="469.0,395.9 480.2,401.2 491.8,405.6 503.8,409.0 516.1,411.5 528.5,412.9 541.1,413.4 553.6,412.9 566.1,411.3 578.4,408.7 590.4,405.2 602.0,400.7 613.2,395.3 623.9,389.0 634.0,382.0 643.4,374.1 652.0,365.6 659.9,356.5 667.0,346.9 673.2,336.8 678.6,326.4 683.0,315.7 686.6,304.9 689.3,294.0 691.3,283.0 692.6,272.2 693.2,261.5 693.4,251.0 693.2,240.7 692.9,230.6 692.4,220.6 692.0,210.7 691.5,200.7 690.9,190.6 690.2,180.4 689.2,170.1 687.8,159.6 685.8,148.9 683.2,138.2 679.8,127.6 675.5,117.0 670.5,106.7 664.6,96.7 657.8,87.0 650.2,77.8 641.9,69.2 632.7,61.3 622.9,54.0 612.5,47.6 601.5,41.9 590.0,37.2 578.2,33.4 566.0,30.5 553.6,28.7 541.1,27.8 528.5,28.0 516.0,29.2 503.7,31.3 491.6,34.5 479.8,38.6 468.4,43.7" fill="#ff1a00"/>
<polygon points="469.3,395.3 480.4,400.6 492.0,404.9 503.9,408.4 516.2,410.8 528.6,412.3 541.1,412.8 553.6,412.2 566.0,410.6 578.2,408.1 590.2,404.5 601.8,400.1 613.0,394.7 623.6,388.4 633.6,381.4 643.0,373.6 651.7,365.1 659.5,356.1 666.6,346.5 672.8,336.4 678.1,326.1 682.5,315.4 686.1,304.6 688.8,293.7 690.8,282.8 692.0,272.0 692.7,261.4 692.9,250.9 692.7,240.6 692.4,230.5 691.9,220.6 691.4,210.7 690.9,200.8 690.4,190.7 689.7,180.6 688.7,170.3 687.3,159.8 685.3,149.2 682.7,138.5 679.3,127.9 675.1,117.4 670.0,107.1 664.1,97.1 657.4,87.5 649.9,78.3 641.5,69.8 632.4,61.8 622.6,54.6 612.2,48.2 601.3,42.5 589.9,37.8 578.0,34.0 565.9,31.2 553.6,29.3 541.1,28.5 528.6,28.6 516.1,29.8 503.8,32.0 491.7,35.1 480.0,39.3 468.6,44.3" fill="#ff1100"/>
<polygon points="469.5,394.7 480.6,400.0 492.2,404.3 504.1,407.7 516.2,410.2 528.6,411.6 541.1,412.1 553.5,411.5 565.9,410.0 578.1,407.4 590.0,403.9 601.6,399.5 612.7,394.1 623.3,387.9 633.3,380.9 642.7,373.1 651.3,364.7 659.1,355.6 666.1,346.0 672.3,336.0 677.6,325.7 682.0,315.1 685.6,304.3 688.3,293.5 690.3,282.6 691.5,271.9 692.2,261.2 692.4,250.8 692.2,240.6 691.8,230.5 691.4,220.6 690.9,210.7 690.4,200.8 689.9,190.8 689.2,180.7 688.2,170.4 686.8,160.0 684.8,149.4 682.2,138.8 678.8,128.2 674.6,117.7 669.6,107.5 663.7,97.5 657.0,87.9 649.5,78.8 641.2,70.3 632.1,62.4 622.4,55.2 612.0,48.7 601.1,43.1 589.7,38.4 577.9,34.6 565.8,31.8 553.5,30.0 541.1,29.1 528.6,29.3 516.2,30.5 503.9,32.6 491.9,35.8 480.2,39.9 468.9,44.9" fill="#ff0700"/>
<polygon points="469.7,394.1 480.8,399.4 492.3,403.7 504.2,407.1 516.3,409.6 528.6,411.0 541.1,411.5 553.5,410.9 565.8,409.4 578.0,406.8 589.9,403.3 601.4,398.9 612.5,393.5 623.0,387.3 633.0,380.3 642.3,372.6 650.9,364.2 658.7,355.2 665.7,345.6 671.9,335.7 677.1,325.3 681.5,314.8 685.1,304.0 687.8,293.2 689.8,282.4 691.0,271.7 691.7,261.1 691.8,250.7 691.7,240.5 691.3,230.5 690.9,220.6 690.4,210.8 689.9,200.9 689.4,190.9 688.7,180.9 687.7,170.6 686.3,160.2 684.3,149.6 681.7,139.1 678.3,128.5 674.2,118.1 669.2,107.8 663.3,97.9 656.6,88.4 649.1,79.3 640.8,70.8 631.8,62.9 622.1,55.7 611.7,49.3 600.9,43.7 589.5,39.0 577.8,35.3 565.7,32.4 553.5,30.6 541.1,29.8 528.6,29.9 516.3,31.1 504.0,33.3 492.0,36.4 480.4,40.5 469.1,45.5" fill="#fc0000"/>
<polygon points="470.0,393.5 481.0,398.8 492.5,403.1 504.3,406.5 516.4,408.9 528.7,410.4 541.1,410.8 553.4,410.3 565.7,408.7 577.8,406.2 589.7,402.7 601.2,398.3 612.2,392.9 622.7,386.8 632.7,379.8 642.0,372.1 650.5,363.7 658.3,354.7 665.3,345.2 671.4,335.3 676.7,325.0 681.1,314.5 684.6,303.8 687.3,293.0 689.3,282.2 690.5,271.5 691.2,261.0 691.3,250.6 691.2,240.4 690.8,230.4 690.4,220.6 689.9,210.8 689.4,201.0 688.9,191.0 688.2,181.0 687.2,170.8 685.8,160.4 683.8,149.9 681.2,139.3 677.9,128.8 673.7,118.4 668.7,108.2 662.9,98.3 656.2,88.8 648.7,79.8 640.5,71.3 631.5,63.4 621.8,56.3 611.5,49.9 600.7,44.3 589.4,39.6 577.6,35.9 565.6,33.1 553.4,31.2 541.1,30.4 528.7,30.6 516.3,31.7 504.1,33.9 492.2,37.0 480.6,41.1 469.3,46.1" fill="#f20000"/>
<polygon points="470.2,393.0 481.2,398.2 492.6,402.5 504.4,405.9 516.5,408.3 528.7,409.8 541.1,410.2 553.4,409.7 565.6,408.1 577.7,405.6 589.5,402.1 601.0,397.7 612.0,392.4 622.5,386.2 632.4,379.3 641.6,371.6 650.2,363.2 657.9,354.3 664.9,344.8 671.0,334.9 676.2,324.7 680.6,314.2 684.1,303.5 686.8,292.7 688.8,282.0 690.0,271.3 690.7,260.8 690.8,250.5 690.7,240.4 690.3,230.4 689.9,220.6 689.4,210.8 688.9,201.0 688.4,191.1 687.7,181.1 686.7,170.9 685.3,160.6 683.4,150.1 680.8,139.6 677.4,129.1 673.3,118.8 668.3,108.6 662.5,98.7 655.8,89.2 648.4,80.2 640.1,71.8 631.2,63.9 621.5,56.8 611.3,50.4 600.5,44.9 589.2,40.2 577.5,36.5 565.6,33.7 553.4,31.9 541.1,31.0 528.7,31.2 516.4,32.3 504.3,34.5 492.3,37.6 480.7,41.7 469.6,46.6" fill="#e80000"/>
<polygon points="470.4,392.4 481.4,397.6 492.8,401.9 504.5,405.3 516.5,407.7 528.7,409.1 541.0,409.6 553.3,409.0 565.6,407.5 577.6,405.0 589.3,401.5 600.8,397.1 611.7,391.8 622.2,385.7 632.1,378.8 641.3,371.1 649.8,362.8 657.5,353.8 664.5,344.4 670.6,334.5 675.8,324.3 680.1,313.8 683.7,303.2 686.4,292.5 688.3,281.8 689.5,271.2 690.2,260.7 690.3,250.4 690.2,240.3 689.8,230.4 689.4,220.6 688.9,210.8 688.4,201.1 687.9,191.2 687.2,181.2 686.2,171.1 684.8,160.8 682.9,150.3 680.3,139.9 677.0,129.4 672.8,119.1 667.9,109.0 662.1,99.1 655.5,89.7 648.0,80.7 639.8,72.2 630.9,64.4 621.3,57.3 611.0,51.0 600.3,45.5 589.0,40.8 577.4,37.1 565.5,34.3 553.3,32.5 541.0,31.6 528.7,31.8 516.5,32.9 504.4,35.1 492.5,38.2 480.9,42.2 469.8,47.2" fill="#de0000"/>
<polygon points="470.6,391.9 481.5,397.0 492.9,401.3 504.6,404.7 516.6,407.1 528.8,408.5 541.0,409.0 553.3,408.4 565.5,406.9 577.5,404.4 589.2,400.9 600.6,396.6 611.5,391.3 621.9,385.2 631.8,378.2 641.0,370.6 649.4,362.3 657.1,353.4 664.1,344.0 670.1,334.2 675.3,324.0 679.7,313.5 683.2,303.0 685.9,292.3 687.8,281.6 689.0,271.0 689.7,260.6 689.8,250.3 689.7,240.2 689.3,230.3 688.9,220.6 688.4,210.9 688.0,201.2 687.4,191.3 686.7,181.4 685.8,171.2 684.4,161.0 682.4,150.6 679.8,140.1 676.5,129.7 672.4,119.4 667.5,109.3 661.7,99.5 655.1,90.1 647.7,81.1 639.5,72.7 630.6,64.9 621.0,57.9 610.8,51.5 600.1,46.0 588.9,41.4 577.3,37.7 565.4,34.9 553.3,33.1 541.0,32.2 528.8,32.4 516.6,33.6 504.5,35.7 492.6,38.8 481.1,42.8 470.0,47.7" fill="#d40000"/>
<polygon points="470.8,391.3 481.7,396.5 493.1,400.7 504.7,404.1 516.7,406.5 528.8,407.9 541.0,408.4 553.3,407.8 565.4,406.3 577.3,403.8 589.0,400.4 600.4,396.0 611.3,390.7 621.7,384.6 631.5,377.7 640.6,370.1 649.1,361.9 656.8,353.0 663.7,343.6 669.7,333.8 674.9,323.7 679.2,313.3 682.7,302.7 685.4,292.0 687.3,281.4 688.5,270.9 689.2,260.4 689.4,250.2 689.2,240.2 688.9,230.3 688.4,220.6 688.0,210.9 687.5,201.2 687.0,191.4 686.3,181.5 685.3,171.4 683.9,161.2 682.0,150.8 679.4,140.4 676.1,130.0 672.0,119.7 667.0,109.7 661.3,99.9 654.7,90.5 647.3,81.6 639.2,73.2 630.3,65.4 620.7,58.4 610.6,52.1 599.9,46.6 588.7,42.0 577.1,38.3 565.3,35.5 553.2,33.7 541.0,32.8 528.8,33.0 516.6,34.1 504.6,36.3 492.8,39.4 481.3,43.4 470.2,48.3" fill="#ca0000"/>
<polygon points="471.1,390.8 481.9,395.9 493.2,400.2 504.8,403.5 516.8,405.9 528.8,407.3 541.0,407.8 553.2,407.2 565.3,405.7 577.2,403.2 588.9,399.8 600.2,395.4 611.0,390.2 621.4,384.1 631.2,377.2 640.3,369.7 648.7,361.4 656.4,352.6 663.3,343.2 669.3,333.4 674.5,323.3 678.8,313.0 682.3,302.4 684.9,291.8 686.9,281.2 688.1,270.7 688.7,260.3 688.9,250.1 688.7,240.1 688.4,230.3 687.9,220.6 687.5,210.9 687.0,201.3 686.5,191.5 685.8,181.6 684.8,171.6 683.5,161.3 681.5,151.0 678.9,140.6 675.6,130.3 671.6,120.1 666.6,110.0 660.9,100.3 654.3,90.9 647.0,82.0 638.9,73.6 630.0,65.9 620.5,58.9 610.3,52.6 599.7,47.1 588.5,42.5 577.0,38.8 565.2,36.1 553.2,34.3 541.0,33.4 528.8,33.6 516.7,34.7 504.7,36.9 492.9,39.9 481.5,43.9 470.4,48.8" fill="#c00000"/>
<polygon points="471.3,390.2 482.1,395.4 493.3,399.6 504.9,402.9 516.8,405.3 528.9,406.8 541.0,407.2 553.2,406.7 565.2,405.1 577.1,402.7 588.7,399.2 600.0,394.9 610.8,389.7 621.1,383.6 630.9,376.8 640.0,369.2 648.4,361.0 656.0,352.2 662.9,342.8 668.9,333.1 674.1,323.0 678.4,312.7 681.8,302.2 684.5,291.6 686.4,281.0 687.6,270.5 688.2,260.2 688.4,250.0 688.3,240.1 687.9,230.3 687.5,220.6 687.0,211.0 686.6,201.3 686.0,191.6 685.3,181.7 684.4,171.7 683.0,161.5 681.1,151.2 678.5,140.9 675.2,130.6 671.1,120.4 666.2,110.4 660.5,100.6 654.0,91.3 646.6,82.4 638.5,74.1 629.7,66.4 620.2,59.4 610.1,53.1 599.5,47.7 588.4,43.1 576.9,39.4 565.1,36.6 553.1,34.8 541.0,34.0 528.9,34.2 516.8,35.3 504.8,37.4 493.1,40.5 481.7,44.5 470.7,49.4" fill="#b50000"/>
<polygon points="471.5,389.7 482.3,394.8 493.5,399.1 505.1,402.4 516.9,404.8 528.9,406.2 541.0,406.6 553.1,406.1 565.1,404.6 577.0,402.1 588.6,398.7 599.8,394.4 610.6,389.1 620.9,383.1 630.6,376.3 639.7,368.7 648.1,360.5 655.7,351.7 662.5,342.5 668.5,332.7 673.6,322.7 677.9,312.4 681.4,301.9 684.0,291.4 685.9,280.8 687.1,270.4 687.8,260.1 688.0,249.9 687.8,240.0 687.5,230.2 687.0,220.6 686.6,211.0 686.1,201.4 685.6,191.7 684.9,181.9 683.9,171.9 682.6,161.7 680.6,151.4 678.1,141.1 674.8,130.8 670.7,120.7 665.8,110.7 660.1,101.0 653.6,91.7 646.3,82.9 638.2,74.6 629.4,66.9 620.0,59.9 609.9,53.6 599.3,48.2 588.2,43.6 576.8,40.0 565.0,37.2 553.1,35.4 541.0,34.6 528.9,34.8 516.8,35.9 504.9,38.0 493.2,41.1 481.8,45.0 470.9,49.9" fill="#ab0000"/>
<polygon points="471.7,389.2 482.4,394.3 493.6,398.5 505.2,401.8 517.0,404.2 528.9,405.6 541.0,406.1 553.1,405.5 565.1,404.0 576.9,401.5 588.4,398.1 599.6,393.8 610.4,388.6 620.6,382.6 630.3,375.8 639.4,368.3 647.7,360.1 655.3,351.3 662.1,342.1 668.1,332.4 673.2,322.4 677.5,312.1 680.9,301.7 683.6,291.2 685.5,280.7 686.7,270.2 687.3,260.0 687.5,249.8 687.3,239.9 687.0,230.2 686.6,220.6 686.1,211.0 685.6,201.5 685.1,191.8 684.4,182.0 683.5,172.0 682.1,161.9 680.2,151.7 677.6,141.4 674.4,131.1 670.3,121.0 665.5,111.0 659.8,101.4 653.3,92.1 646.0,83.3 637.9,75.0 629.2,67.4 619.7,60.4 609.7,54.2 599.1,48.7 588.1,44.2 576.7,40.5 565.0,37.8 553.0,36.0 541.0,35.2 528.9,35.3 516.9,36.5 505.0,38.6 493.4,41.6 482.0,45.6 471.1,50.4" fill="#a10000"/>
<polygon points="471.9,388.7 482.6,393.8 493.8,398.0 505.3,401.3 517.0,403.6 529.0,405.1 541.0,405.5 553.0,405.0 565.0,403.5 576.7,401.0 588.2,397.6 599.4,393.3 610.1,388.1 620.4,382.1 630.0,375.3 639.1,367.8 647.4,359.7 655.0,350.9 661.7,341.7 667.7,332.1 672.8,322.1 677.1,311.8 680.5,301.4 683.2,290.9 685.0,280.5 686.2,270.1 686.9,259.8 687.0,249.8 686.9,239.9 686.5,230.2 686.1,220.6 685.7,211.1 685.2,201.5 684.7,191.9 684.0,182.1 683.0,172.2 681.7,162.1 679.8,151.9 677.2,141.6 674.0,131.4 669.9,121.3 665.1,111.4 659.4,101.7 652.9,92.5 645.7,83.7 637.6,75.5 628.9,67.8 619.5,60.9 609.5,54.7 598.9,49.3 587.9,44.7 576.6,41.1 564.9,38.3 553.0,36.5 541.0,35.7 529.0,35.9 517.0,37.0 505.1,39.1 493.5,42.1 482.2,46.1 471.3,51.0" fill="#970000"/>
<polygon points="472.1,388.2 482.8,393.2 493.9,397.4 505.4,400.7 517.1,403.1 529.0,404.5 541.0,404.9 553.0,404.4 564.9,402.9 576.6,400.5 588.1,397.1 599.2,392.8 609.9,387.6 620.1,381.6 629.8,374.9 638.8,367.4 647.1,359.3 654.6,350.6 661.4,341.4 667.3,331.7 672.4,321.8 676.7,311.6 680.1,301.2 682.7,290.7 684.6,280.3 685.8,269.9 686.4,259.7 686.6,249.7 686.4,239.8 686.1,230.1 685.7,220.6 685.2,211.1 684.8,201.6 684.2,192.0 683.6,182.2 682.6,172.3 681.2,162.2 679.3,152.1 676.8,141.9 673.6,131.7 669.5,121.6 664.7,111.7 659.0,102.1 652.6,92.9 645.3,84.1 637.3,75.9 628.6,68.3 619.2,61.3 609.2,55.2 598.7,49.8 587.8,45.2 576.4,41.6 564.8,38.9 553.0,37.1 541.0,36.3 529.0,36.4 517.0,37.6 505.2,39.7 493.6,42.7 482.4,46.6 471.5,51.5" fill="#8d0000"/>
<polygon points="472.3,387.7 482.9,392.7 494.0,396.9 505.5,400.2 517.2,402.5 529.0,403.9 541.0,404.4 552.9,403.9 564.8,402.4 576.5,399.9 588.0,396.5 599.0,392.3 609.7,387.1 619.9,381.1 629.5,374.4 638.5,366.9 646.7,358.8 654.3,350.2 661.0,341.0 666.9,331.4 672.0,321.5 676.3,311.3 679.7,300.9 682.3,290.5 684.2,280.1 685.4,269.8 686.0,259.6 686.2,249.6 686.0,239.8 685.7,230.1 685.2,220.6 684.8,211.1 684.3,201.6 683.8,192.0 683.1,182.3 682.2,172.4 680.8,162.4 678.9,152.3 676.4,142.1 673.2,131.9 669.1,121.9 664.3,112.0 658.7,102.5 652.2,93.3 645.0,84.5 637.0,76.3 628.3,68.7 619.0,61.8 609.0,55.7 598.6,50.3 587.6,45.8 576.3,42.1 564.7,39.4 552.9,37.7 541.0,36.8 529.0,37.0 517.1,38.1 505.3,40.2 493.8,43.2 482.5,47.1 471.7,52.0" fill="#830000"/>
<polygon points="472.5,387.2 483.1,392.2 494.2,396.4 505.6,399.7 517.2,402.0 529.0,403.4 541.0,403.8 552.9,403.3 564.7,401.8 576.4,399.4 587.8,396.0 598.9,391.7 609.5,386.6 619.7,380.7 629.2,373.9 638.2,366.5 646.4,358.4 653.9,349.8 660.6,340.6 666.5,331.1 671.6,321.2 675.8,311.0 679.3,300.7 681.9,290.3 683.7,279.9 684.9,269.6 685.6,259.5 685.7,249.5 685.6,239.7 685.2,230.1 684.8,220.6 684.3,211.1 683.9,201.7 683.4,192.1 682.7,182.4 681.8,172.6 680.4,162.6 678.5,152.5 676.0,142.3 672.8,132.2 668.7,122.2 663.9,112.3 658.3,102.8 651.9,93.6 644.7,84.9 636.7,76.7 628.1,69.2 618.7,62.3 608.8,56.1 598.4,50.8 587.5,46.3 576.2,42.7 564.6,40.0 552.9,38.2 541.0,37.4 529.0,37.5 517.2,38.7 505.4,40.7 493.9,43.7 482.7,47.7 471.9,52.5" fill="#800000"/>
<path d="M400.8 567.7 L406.2 570.4 L411.7 573.1 L417.3 575.7 L422.9 578.1 L428.6 580.5 L434.3 582.7 L440.1 584.8 L446.0 586.8 L451.8 588.7 L457.7 590.5 L463.7 592.1 L469.7 593.6 L475.7 595.0 L481.8 596.3 L487.9 597.5 L494.0 598.5 L500.1 599.4 L506.3 600.2 L512.4 600.9 L518.6 601.4 L524.8 601.8 L531.0 602.1 L537.3 602.3 L543.5 602.3 L549.7 602.3 L555.9 602.0 L562.1 601.7 L568.3 601.2 L574.5 600.6 L580.7 599.9 L586.8 599.1 L593.0 598.1 L599.1 597.0 L605.2 595.8 L611.2 594.5 L617.3 593.1 L623.3 591.5 L629.2 589.8 L635.2 588.0 L641.0 586.0 L646.9 584.0 L652.7 581.8 L658.4 579.5 L664.1 577.1 L669.7 574.6 L675.3 572.0 L680.8 569.3 L686.3 566.5 L691.6 563.5 L697.0 560.5 L702.2 557.3 L707.4 554.1 L712.5 550.7 L717.5 547.3 L722.5 543.7 L727.3 540.1 L732.1 536.3 L736.8 532.5 L741.4 528.6 L745.9 524.6 L750.4 520.5 L754.7 516.3 L759.0 512.1 L763.1 507.8 L767.2 503.4 L771.1 498.9 L775.0 494.3 L778.8 489.7 L782.4 485.1 L786.0 480.3 L789.4 475.5 L792.8 470.7 L796.0 465.8 L799.1 460.8 L802.1 455.8 L805.1 450.7 L807.9 445.6 L810.6 440.5 L813.1 435.3 L815.6 430.1 L818.0 424.9 L820.2 419.6 L822.4 414.3 L824.4 409.0 L826.4 403.6 L828.2 398.3 L829.9 392.9 L831.5 387.5 L833.0 382.1 L834.5 376.7 L835.8 371.3 L837.0 365.9 L838.1 360.4 L839.1 355.0 L840.0 349.6 L840.9 344.2 L841.6 338.9 L842.3 333.5 L842.8 328.1 L843.4 322.8 L843.8 317.5 L844.1 312.2 L844.4 306.9 L844.7 301.6 L844.8 296.4 L844.9 291.2 L845.0 286.0 L845.0 280.8 L845.0 275.7 L844.9 270.6 L844.8 265.5 L844.7 260.4 L844.5 255.4 L844.4 250.4 L844.2 245.4 L844.0 240.4 L843.8 235.4 L843.5 230.5 L843.3 225.5 L843.1 220.6 L842.8 215.7 L842.6 210.7 L842.4 205.8 L842.1 200.9 L841.9 196.0 L841.7 191.1 L841.4 186.1 L841.2 181.2 L840.9 176.3 L840.7 171.3 L840.4 166.3 L840.1 161.3 L839.8 156.3 L839.5 151.3 L839.1 146.2 L838.7 141.1 L838.3 136.0 L837.8 130.9 L837.3 125.8 L836.8 120.6 L836.1 115.4 L835.5 110.2 L834.7 105.0 L833.9 99.8 L833.1 94.5 L832.1 89.3 L831.1 84.0 L830.0 78.7 L828.8 73.4M821.6 47.0 L819.8 41.7 L818.0 36.5 L816.1 31.2 L814.0 26.0 L811.9 20.8 L809.7 15.6 L807.3 10.4 L804.9 5.3 L802.3 0.2 L799.6 -4.9 L796.9 -9.9 L794.0 -14.9 L791.0 -19.9 L787.9 -24.8 L784.8 -29.6 L781.5 -34.4 L778.1 -39.2 L774.6 -43.9 L771.0 -48.5 L767.3 -53.1 L763.5 -57.6 L759.6 -62.0 L755.5 -66.4 L751.5 -70.7 L747.3 -74.9 L743.0 -79.1 L738.6 -83.1 L734.1 -87.1 L729.6 -91.0 L724.9 -94.8 L720.2 -98.5 L715.4 -102.2 L710.5 -105.7 L705.5 -109.2 L700.4 -112.5 L695.3 -115.8 L690.1 -118.9 L684.8 -122.0 L679.5 -124.9 L674.1 -127.8 L668.6 -130.5 L663.1 -133.1 L657.5 -135.6 L651.8 -138.0 L646.1 -140.3 L640.4 -142.5 L634.6 -144.6 L628.7 -146.5 L622.8 -148.3 L616.9 -150.1 L610.9 -151.6 L604.9 -153.1 L598.9 -154.5 L592.8 -155.7 L586.7 -156.8 L580.6 -157.8 L574.4 -158.6 L568.3 -159.4 L562.1 -160.0 L555.9 -160.5 L549.7 -160.8 L543.5 -161.1 L537.3 -161.2 L531.0 -161.1 L524.8 -161.0 L518.6 -160.7 L512.4 -160.3 L506.2 -159.8 L500.0 -159.2 L493.9 -158.4 L487.7 -157.5 L481.6 -156.5 L475.5 -155.3 L469.4 -154.1 L463.3 -152.7 L457.3 -151.2 L451.4 -149.6 L445.4 -147.8 L439.5 -145.9 L433.6 -144.0 L427.8 -141.9 L422.1 -139.6 L416.4 -137.3 L410.7 -134.9 L405.1 -132.3 L399.5 -129.6" fill="none" stroke="#000" stroke-width="1.25" stroke-opacity="0.7"/>
<path d="M429.2 496.1 L433.6 498.3 L437.9 500.4 L442.3 502.4 L446.8 504.4 L451.3 506.2 L455.9 508.0 L460.5 509.7 L465.1 511.3 L469.7 512.8 L474.4 514.2 L479.2 515.5 L483.9 516.7 L488.7 517.8 L493.5 518.8 L498.3 519.7 L503.2 520.5 L508.1 521.3 L513.0 521.9 L517.9 522.4 L522.8 522.9 L527.7 523.2 L532.6 523.4 L537.5 523.6 L542.5 523.6 L547.4 523.5 L552.4 523.3 L557.3 523.1 L562.2 522.7 L567.1 522.2 L572.0 521.7 L576.9 521.0 L581.8 520.2 L586.6 519.4 L591.5 518.4 L596.3 517.4 L601.1 516.2 L605.8 515.0 L610.6 513.6 L615.3 512.2 L619.9 510.6 L624.5 509.0 L629.1 507.3 L633.7 505.5 L638.2 503.6 L642.7 501.6 L647.1 499.5 L651.5 497.4 L655.8 495.1 L660.1 492.8 L664.3 490.3 L668.5 487.8 L672.6 485.3 L676.6 482.6 L680.6 479.9 L684.5 477.0 L688.4 474.2 L692.2 471.2 L695.9 468.1 L699.6 465.0 L703.2 461.9 L706.7 458.6 L710.1 455.3 L713.5 451.9 L716.8 448.5 L720.0 445.0 L723.2 441.5 L726.2 437.9 L729.2 434.2 L732.1 430.5 L734.9 426.7 L737.7 422.9 L740.3 419.1 L742.9 415.2 L745.4 411.2 L747.8 407.3 L750.1 403.3 L752.3 399.2 L754.5 395.1 L756.5 391.0 L758.5 386.9 L760.4 382.7 L762.2 378.5 L763.9 374.3 L765.5 370.1 L767.0 365.9 L768.5 361.6 L769.8 357.3 L771.1 353.1 L772.3 348.8 L773.4 344.5 L774.5 340.2 L775.4 335.9 L776.3 331.6 L777.1 327.3 L777.9 323.0 L778.5 318.7 L779.1 314.5 L779.6 310.2 L780.1 305.9 L780.5 301.7 L780.8 297.5 L781.1 293.3 L781.3 289.1 L781.5 284.9 L781.7 280.7 L781.7 276.6 L781.8 272.5 L781.8 268.4 L781.8 264.3 L781.7 260.3 L781.7 256.2 L781.6 252.2 L781.4 248.2 L781.3 244.2 L781.2 240.2 L781.0 236.3 L780.8 232.3 L780.6 228.4 L780.5 224.5 L780.3 220.6 L780.1 216.7 L779.9 212.8 L779.7 208.9 L779.5 205.0 L779.3 201.1 L779.2 197.2 L779.0 193.3 L778.8 189.3 L778.6 185.4 L778.4 181.5 L778.2 177.5 L777.9 173.5 L777.7 169.6 L777.4 165.6 L777.1 161.5 L776.8 157.5 L776.5 153.5 L776.1 149.4 L775.7 145.3 L775.3 141.2 L774.8 137.1 L774.2 133.0 L773.7 128.8 L773.0 124.7 L772.3 120.5 L771.6 116.4 L770.8 112.2 L769.9 108.0 L769.0 103.8 L767.9 99.6 L766.9 95.4 L765.7 91.2 L764.5 87.0 L763.2 82.8 L761.8 78.6M751.9 53.8 L749.9 49.7 L747.9 45.6 L745.8 41.6 L743.6 37.6 L741.3 33.7 L739.0 29.7 L736.5 25.8 L734.0 22.0 L731.4 18.2 L728.7 14.4 L725.9 10.7 L723.0 7.0 L720.1 3.4 L717.1 -0.2 L714.0 -3.7 L710.8 -7.2 L707.6 -10.6 L704.2 -13.9 L700.8 -17.2 L697.3 -20.5 L693.8 -23.6 L690.2 -26.7 L686.5 -29.7 L682.7 -32.7 L678.9 -35.6 L675.0 -38.4 L671.1 -41.1 L667.1 -43.8 L663.0 -46.4 L658.9 -48.9 L654.7 -51.3 L650.4 -53.6 L646.1 -55.9 L641.8 -58.1 L637.4 -60.1 L633.0 -62.1 L628.5 -64.1 L624.0 -65.9 L619.4 -67.6 L614.8 -69.2 L610.1 -70.8 L605.5 -72.2 L600.8 -73.6 L596.0 -74.9 L591.2 -76.0 L586.4 -77.1 L581.6 -78.1 L576.8 -78.9 L571.9 -79.7 L567.0 -80.4 L562.2 -81.0 L557.3 -81.5 L552.3 -81.9 L547.4 -82.1 L542.5 -82.3 L537.5 -82.4 L532.6 -82.4 L527.7 -82.3 L522.7 -82.1 L517.8 -81.8 L512.9 -81.3 L508.0 -80.8 L503.1 -80.2 L498.2 -79.5 L493.4 -78.7 L488.5 -77.8 L483.7 -76.8 L478.9 -75.7 L474.1 -74.5 L469.4 -73.2 L464.6 -71.8 L460.0 -70.3 L455.3 -68.8 L450.7 -67.1 L446.1 -65.3 L441.6 -63.5 L437.1 -61.5 L432.6 -59.5 L428.2 -57.4" fill="none" stroke="#000" stroke-width="1.25" stroke-opacity="0.95"/>
<path d="M443.1 461.2 L446.8 463.2 L450.7 465.0 L454.5 466.8 L458.4 468.5 L462.4 470.1 L466.3 471.7 L470.3 473.1 L474.4 474.5 L478.5 475.8 L482.6 477.0 L486.7 478.2 L490.8 479.2 L495.0 480.2 L499.2 481.1 L503.4 481.9 L507.7 482.6 L511.9 483.3 L516.2 483.8 L520.5 484.3 L524.8 484.6 L529.1 484.9 L533.4 485.1 L537.7 485.3 L542.0 485.3 L546.3 485.2 L550.6 485.1 L554.9 484.8 L559.2 484.5 L563.5 484.1 L567.8 483.6 L572.1 483.0 L576.3 482.4 L580.6 481.6 L584.8 480.8 L589.0 479.8 L593.2 478.8 L597.3 477.7 L601.5 476.6 L605.6 475.3 L609.6 474.0 L613.7 472.6 L617.7 471.1 L621.7 469.5 L625.6 467.8 L629.5 466.1 L633.4 464.3 L637.2 462.4 L641.0 460.4 L644.7 458.4 L648.4 456.2 L652.1 454.1 L655.6 451.8 L659.2 449.5 L662.7 447.1 L666.1 444.6 L669.5 442.1 L672.8 439.5 L676.0 436.9 L679.2 434.1 L682.4 431.4 L685.5 428.5 L688.5 425.6 L691.4 422.7 L694.3 419.7 L697.1 416.6 L699.9 413.5 L702.5 410.4 L705.1 407.2 L707.7 404.0 L710.1 400.7 L712.5 397.3 L714.8 394.0 L717.1 390.6 L719.3 387.1 L721.3 383.7 L723.4 380.2 L725.3 376.6 L727.2 373.1 L729.0 369.5 L730.7 365.9 L732.3 362.2 L733.9 358.6 L735.4 354.9 L736.8 351.2 L738.1 347.5 L739.4 343.8 L740.6 340.0 L741.7 336.3 L742.8 332.6 L743.8 328.8 L744.7 325.1 L745.5 321.3 L746.3 317.6 L747.0 313.8 L747.6 310.1 L748.2 306.3 L748.7 302.6 L749.2 298.9 L749.6 295.1 L749.9 291.4 L750.2 287.8 L750.5 284.1 L750.7 280.4 L750.8 276.8 L750.9 273.1 L751.0 269.5 L751.1 265.9 L751.1 262.3 L751.1 258.8 L751.0 255.2 L750.9 251.7 L750.9 248.2 L750.7 244.7 L750.6 241.2 L750.5 237.8 L750.4 234.3 L750.2 230.9 L750.1 227.4 L749.9 224.0 L749.7 220.6 L749.6 217.2 L749.4 213.8 L749.2 210.4 L749.1 206.9 L748.9 203.5 L748.8 200.1 L748.6 196.7 L748.4 193.3 L748.3 189.8 L748.1 186.4 L747.9 183.0 L747.7 179.5 L747.5 176.0 L747.2 172.5 L747.0 169.0 L746.7 165.5 L746.4 162.0 L746.1 158.4 L745.7 154.8 L745.3 151.3 L744.9 147.7 L744.5 144.1 L743.9 140.4 L743.4 136.8 L742.8 133.2 L742.1 129.5 L741.4 125.9 L740.7 122.2 L739.8 118.6 L739.0 114.9 L738.0 111.2 L737.0 107.5 L735.9 103.9 L734.8 100.2 L733.6 96.6 L732.3 92.9 L731.0 89.3 L729.6 85.6 L728.1 82.0 L726.6 78.4M713.6 53.9 L711.5 50.5 L709.3 47.1 L707.0 43.8 L704.7 40.5 L702.2 37.2 L699.7 34.0 L697.2 30.8 L694.5 27.7 L691.8 24.6 L689.0 21.6 L686.2 18.6 L683.3 15.7 L680.3 12.8 L677.3 10.0 L674.2 7.2 L671.0 4.5 L667.8 1.9 L664.5 -0.7 L661.2 -3.2 L657.8 -5.7 L654.3 -8.0 L650.8 -10.4 L647.3 -12.6 L643.7 -14.8 L640.0 -16.9 L636.3 -19.0 L632.6 -20.9 L628.8 -22.8 L624.9 -24.7 L621.0 -26.4 L617.1 -28.1 L613.2 -29.7 L609.2 -31.2 L605.2 -32.6 L601.1 -33.9 L597.0 -35.2 L592.9 -36.4 L588.8 -37.5 L584.6 -38.5 L580.4 -39.5 L576.2 -40.3 L572.0 -41.1 L567.7 -41.8 L563.5 -42.4 L559.2 -42.9 L554.9 -43.3 L550.6 -43.6 L546.3 -43.9 L542.0 -44.0 L537.7 -44.1 L533.4 -44.1 L529.1 -44.0 L524.8 -43.8 L520.5 -43.5 L516.2 -43.2 L511.9 -42.7 L507.6 -42.2 L503.3 -41.6 L499.1 -40.9 L494.9 -40.1 L490.6 -39.2 L486.4 -38.2 L482.3 -37.2 L478.1 -36.1 L474.0 -34.8 L469.9 -33.6 L465.8 -32.2 L461.8 -30.7 L457.8 -29.2 L453.9 -27.6 L449.9 -25.9 L446.0 -24.1 L442.2 -22.2" fill="none" stroke="#000" stroke-width="1.25" stroke-opacity="0.95"/>
<path d="M451.8 439.2 L455.2 441.0 L458.7 442.7 L462.2 444.3 L465.8 445.8 L469.3 447.3 L472.9 448.7 L476.6 450.0 L480.3 451.3 L484.0 452.5 L487.7 453.6 L491.4 454.6 L495.2 455.6 L499.0 456.5 L502.8 457.3 L506.7 458.0 L510.5 458.7 L514.4 459.2 L518.3 459.7 L522.1 460.2 L526.0 460.5 L530.0 460.8 L533.9 460.9 L537.8 461.0 L541.7 461.1 L545.6 461.0 L549.5 460.9 L553.4 460.7 L557.3 460.4 L561.2 460.0 L565.1 459.6 L569.0 459.0 L572.9 458.4 L576.7 457.7 L580.6 457.0 L584.4 456.1 L588.2 455.2 L592.0 454.2 L595.7 453.2 L599.5 452.0 L603.2 450.8 L606.8 449.5 L610.5 448.2 L614.1 446.7 L617.7 445.2 L621.2 443.6 L624.7 442.0 L628.2 440.3 L631.6 438.5 L635.0 436.6 L638.4 434.7 L641.7 432.7 L644.9 430.7 L648.2 428.5 L651.3 426.4 L654.4 424.1 L657.5 421.8 L660.5 419.5 L663.5 417.1 L666.4 414.6 L669.2 412.1 L672.0 409.5 L674.8 406.9 L677.4 404.2 L680.1 401.5 L682.6 398.7 L685.1 395.9 L687.5 393.0 L689.9 390.1 L692.2 387.2 L694.5 384.2 L696.6 381.2 L698.7 378.1 L700.8 375.0 L702.7 371.9 L704.6 368.8 L706.5 365.6 L708.2 362.4 L709.9 359.1 L711.6 355.9 L713.1 352.6 L714.6 349.3 L716.0 345.9 L717.4 342.6 L718.7 339.3 L719.9 335.9 L721.1 332.5 L722.1 329.1 L723.2 325.7 L724.1 322.3 L725.0 318.9 L725.8 315.5 L726.6 312.1 L727.3 308.7 L727.9 305.3 L728.5 301.9 L729.0 298.5 L729.5 295.1 L729.9 291.7 L730.3 288.3 L730.6 285.0 L730.9 281.6 L731.1 278.3 L731.3 274.9 L731.4 271.6 L731.5 268.3 L731.6 265.1 L731.6 261.8 L731.6 258.5 L731.6 255.3 L731.6 252.1 L731.5 248.9 L731.5 245.7 L731.4 242.5 L731.2 239.3 L731.1 236.2 L731.0 233.0 L730.9 229.9 L730.7 226.8 L730.6 223.7 L730.4 220.6 L730.3 217.5 L730.1 214.4 L730.0 211.3 L729.8 208.2 L729.7 205.1 L729.5 202.0 L729.4 198.9 L729.2 195.8 L729.1 192.7 L728.9 189.5 L728.8 186.4 L728.6 183.2 L728.4 180.1 L728.2 176.9 L727.9 173.7 L727.7 170.5 L727.4 167.3 L727.1 164.1 L726.8 160.8 L726.4 157.6 L726.1 154.3 L725.6 151.1 L725.2 147.8 L724.7 144.5 L724.1 141.2 L723.5 137.9 L722.9 134.5 L722.2 131.2 L721.4 127.9 L720.6 124.5 L719.8 121.2 L718.9 117.9 L717.9 114.6 L716.9 111.2 L715.8 107.9 L714.6 104.6 L713.4 101.3 L712.1 98.0 L710.8 94.7 L709.4 91.4 L707.9 88.2 L706.4 84.9 L704.7 81.7 L703.1 78.5 L701.3 75.4 L699.5 72.2 L697.6 69.1M680.3 45.4 L677.8 42.6 L675.3 39.8 L672.7 37.1 L670.1 34.4 L667.4 31.8 L664.6 29.3 L661.8 26.8 L658.9 24.3 L656.0 21.9 L653.0 19.5 L650.0 17.3 L646.9 15.0 L643.8 12.9 L640.6 10.7 L637.3 8.7 L634.1 6.7 L630.7 4.8 L627.4 2.9 L624.0 1.1 L620.5 -0.6 L617.0 -2.2 L613.5 -3.8 L610.0 -5.3 L606.4 -6.8 L602.7 -8.1 L599.1 -9.4 L595.4 -10.7 L591.7 -11.8 L587.9 -12.9 L584.2 -13.9 L580.4 -14.8 L576.6 -15.7 L572.8 -16.5 L568.9 -17.1 L565.1 -17.8 L561.2 -18.3 L557.3 -18.8 L553.4 -19.2 L549.5 -19.5 L545.6 -19.7 L541.7 -19.8 L537.8 -19.9 L533.9 -19.9 L529.9 -19.8 L526.0 -19.6 L522.1 -19.4 L518.2 -19.1 L514.3 -18.6 L510.4 -18.2 L506.6 -17.6 L502.7 -17.0 L498.9 -16.2 L495.0 -15.4 L491.2 -14.6 L487.4 -13.6 L483.7 -12.6 L479.9 -11.5 L476.2 -10.3 L472.5 -9.1 L468.8 -7.7 L465.2 -6.3 L461.6 -4.9 L458.0 -3.3 L454.5 -1.7 L451.0 -0.0" fill="none" stroke="#000" stroke-width="1.25" stroke-opacity="0.95"/>
<path d="M458.0 423.6 L461.2 425.2 L464.4 426.7 L467.7 428.2 L471.0 429.7 L474.3 431.0 L477.7 432.4 L481.0 433.6 L484.4 434.8 L487.9 435.9 L491.3 436.9 L494.8 437.9 L498.3 438.7 L501.9 439.6 L505.4 440.3 L509.0 441.0 L512.5 441.6 L516.1 442.1 L519.7 442.6 L523.3 443.0 L527.0 443.3 L530.6 443.5 L534.2 443.7 L537.8 443.8 L541.5 443.8 L545.1 443.8 L548.7 443.7 L552.4 443.5 L556.0 443.2 L559.6 442.8 L563.2 442.4 L566.8 441.9 L570.4 441.4 L574.0 440.7 L577.6 440.0 L581.1 439.3 L584.6 438.4 L588.1 437.5 L591.6 436.5 L595.1 435.4 L598.5 434.3 L601.9 433.1 L605.3 431.8 L608.7 430.5 L612.0 429.1 L615.3 427.6 L618.6 426.1 L621.8 424.5 L625.0 422.9 L628.1 421.1 L631.2 419.3 L634.3 417.5 L637.3 415.6 L640.3 413.6 L643.3 411.6 L646.1 409.5 L649.0 407.4 L651.8 405.2 L654.5 403.0 L657.2 400.7 L659.9 398.4 L662.5 396.0 L665.0 393.5 L667.5 391.1 L669.9 388.5 L672.3 385.9 L674.6 383.3 L676.9 380.7 L679.1 378.0 L681.2 375.2 L683.3 372.5 L685.3 369.7 L687.3 366.8 L689.1 364.0 L691.0 361.1 L692.7 358.1 L694.4 355.2 L696.1 352.2 L697.7 349.2 L699.2 346.2 L700.6 343.1 L702.0 340.0 L703.3 337.0 L704.6 333.9 L705.8 330.7 L706.9 327.6 L708.0 324.5 L709.0 321.3 L709.9 318.2 L710.8 315.0 L711.6 311.9 L712.4 308.7 L713.1 305.5 L713.8 302.4 L714.4 299.2 L714.9 296.1 L715.4 292.9 L715.8 289.7 L716.2 286.6 L716.6 283.5 L716.8 280.4M717.8 252.8 L717.8 249.8 L717.7 246.8 L717.6 243.9 L717.5 240.9 L717.4 238.0M715.0 185.9 L714.8 183.0 L714.6 180.0 L714.4 177.1 L714.1 174.1 L713.9 171.1 L713.6 168.1 L713.3 165.1 L713.0 162.1 L712.6 159.1 L712.2 156.0 L711.8 153.0 L711.3 149.9 L710.8 146.9 L710.3 143.8 L709.7 140.7 L709.0 137.6 L708.3 134.5 L707.6 131.4 L706.8 128.3 L706.0 125.2 L705.1 122.2 L704.1 119.1 L703.1 116.0 L702.0 112.9 L700.9 109.8 L699.7 106.8 L698.4 103.7 L697.1 100.7 L695.8 97.7 L694.3 94.7 L692.8 91.7 L691.3 88.7 L689.7 85.8 L688.0 82.9 L686.2 80.0 L684.4 77.1 L682.6 74.3 L680.7 71.5 L678.7 68.7M660.6 47.8 L658.1 45.4 L655.6 43.0 L653.0 40.6 L650.3 38.4 L647.6 36.1 L644.8 34.0 L642.0 31.8 L639.1 29.8 L636.2 27.7 L633.3 25.8 L630.3 23.9 L627.2 22.0 L624.1 20.3 L621.0 18.5 L617.9 16.9 L614.7 15.3 L611.4 13.7 L608.1 12.3 L604.8 10.9 L601.5 9.5 L598.1 8.2 L594.8 7.0 L591.3 5.9 L587.9 4.8 L584.4 3.8 L580.9 2.9 L577.4 2.0 L573.9 1.3 L570.3 0.5 L566.8 -0.1 L563.2 -0.7 L559.6 -1.2 L556.0 -1.6 L552.4 -2.0 L548.7 -2.3 L545.1 -2.5 L541.5 -2.6 L537.8 -2.7 L534.2 -2.7 L530.6 -2.6 L526.9 -2.4 L523.3 -2.2 L519.7 -1.9 L516.1 -1.5 L512.5 -1.0 L508.9 -0.5 L505.3 0.1 L501.7 0.7 L498.2 1.5 L494.6 2.3 L491.1 3.2 L487.6 4.1 L484.1 5.1 L480.7 6.2 L477.2 7.4 L473.8 8.6 L470.5 9.9 L467.1 11.3 L463.8 12.7 L460.5 14.2 L457.3 15.8" fill="none" stroke="#000" stroke-width="1.25" stroke-opacity="0.95"/>
<path d="M462.8 411.6 L465.8 413.1 L468.8 414.6 L471.9 416.0 L475.0 417.3 L478.1 418.6 L481.3 419.9 L484.4 421.0 L487.6 422.1 L490.9 423.2 L494.1 424.1 L497.4 425.0 L500.7 425.9 L504.0 426.7 L507.4 427.4 L510.7 428.0 L514.1 428.6 L517.5 429.1 L520.8 429.5 L524.2 429.9 L527.6 430.2 L531.1 430.4 L534.5 430.6 L537.9 430.6 L541.3 430.7 L544.7 430.6 L548.2 430.5 L551.6 430.3 L555.0 430.1 L558.4 429.7 L561.8 429.3 L565.2 428.9 L568.6 428.4 L571.9 427.8 L575.3 427.1 L578.6 426.4 L581.9 425.6 L585.2 424.7 L588.5 423.8 L591.8 422.8 L595.0 421.7 L598.2 420.6 L601.4 419.4 L604.6 418.1 L607.7 416.8 L610.8 415.4 L613.9 414.0 L616.9 412.5 L619.9 410.9 L622.8 409.3 L625.8 407.6 L628.7 405.9 L631.5 404.1 L634.3 402.3 L637.1 400.4 L639.8 398.4 L642.5 396.4 L645.1 394.3 L647.7 392.2 L650.2 390.1 L652.7 387.9 L655.2 385.6 L657.6 383.3 L659.9 381.0 L662.2 378.6 L664.4 376.2 L666.6 373.7 L668.7 371.2 L670.8 368.7 L672.8 366.1 L674.8 363.5 L676.7 360.9 L678.5 358.2 L680.3 355.5 L682.0 352.8 L683.7 350.0 L685.3 347.2 L686.8 344.4 L688.3 341.6 L689.7 338.8 L691.1 335.9 L692.4 333.0 L693.6 330.1 L694.8 327.2 L695.9 324.3M703.4 297.6 L704.0 294.6 L704.5 291.6 L705.0 288.6M697.6 136.7 L696.9 133.8 L696.1 130.9 L695.2 128.0 L694.3 125.0 L693.4 122.1 L692.4 119.3 L691.3 116.4 L690.2 113.5 L689.0 110.6 L687.8 107.8 L686.5 104.9 L685.2 102.1 L683.7 99.3 L682.3 96.5 L680.8 93.7 L679.2 91.0 L677.5 88.3 L675.8 85.6 L674.1 82.9 L672.3 80.2 L670.4 77.6 L668.5 75.1 L666.5 72.5 L664.5 70.0 L662.4 67.5 L660.2 65.1 L658.0 62.7M638.6 45.0 L635.9 43.0 L633.2 41.0 L630.5 39.1 L627.7 37.3 L624.9 35.5 L622.0 33.7 L619.1 32.1 L616.2 30.4 L613.2 28.9 L610.2 27.4 L607.1 25.9 L604.1 24.6 L600.9 23.2 L597.8 22.0 L594.6 20.8 L591.4 19.6 L588.2 18.6 L585.0 17.6 L581.7 16.6 L578.4 15.7 L575.1 14.9 L571.8 14.2 L568.5 13.5 L565.1 12.9 L561.7 12.4 L558.3 11.9 L555.0 11.5 L551.6 11.2 L548.1 10.9 L544.7 10.7 L541.3 10.6 L537.9 10.5 L534.5 10.5 L531.0 10.6 L527.6 10.7 L524.2 11.0 L520.8 11.2 L517.4 11.6 L514.0 12.0 L510.6 12.5 L507.2 13.1 L503.9 13.7 L500.5 14.4 L497.2 15.2 L493.9 16.0 L490.6 16.9 L487.3 17.8 L484.1 18.9 L480.9 20.0 L477.7 21.1 L474.5 22.3 L471.4 23.6 L468.2 25.0 L465.2 26.4 L462.1 27.9" fill="none" stroke="#000" stroke-width="1.25" stroke-opacity="0.95"/>
<path d="M466.6 402.0 L469.4 403.5 L472.3 404.9 L475.2 406.2 L478.2 407.5 L481.1 408.7 L484.1 409.9 L487.2 411.0 L490.2 412.0 L493.3 413.0 L496.4 413.9 L499.5 414.8 L502.6 415.6 L505.8 416.3 L508.9 417.0 L512.1 417.6 L515.3 418.2 L518.5 418.6 L521.7 419.0 L525.0 419.4 L528.2 419.7 L531.4 419.9 L534.7 420.0 L537.9 420.1 L541.2 420.1 L544.4 420.1 L547.7 420.0 L550.9 419.8 L554.2 419.6 L557.4 419.3 L560.6 418.9 L563.8 418.5 L567.1 418.0 L570.3 417.4 L573.4 416.8 L576.6 416.1 L579.8 415.3 L582.9 414.5 L586.0 413.6 L589.1 412.6 L592.2 411.6 L595.2 410.6 L598.3 409.4 L601.3 408.2 L604.2 407.0 L607.2 405.7 L610.1 404.3 L613.0 402.9 L615.8 401.4 L618.6 399.9 L621.4 398.3 L624.2 396.6 L626.9 394.9 L629.5 393.2 L632.2 391.4 L634.7 389.5 L637.3 387.6 L639.8 385.6 L642.2 383.6 L644.7 381.6 L647.0 379.5 L649.3 377.4 L651.6 375.2 L653.8 373.0 L656.0 370.7 L658.1 368.4 L660.2 366.1 L662.2 363.7 L664.2 361.3 L666.1 358.8 L667.9 356.4 L669.7 353.9 L671.5 351.3M684.7 327.4 L685.9 324.6 L687.0 321.8M675.1 102.7 L673.6 100.1 L672.1 97.5 L670.6 94.9 L669.0 92.3 L667.3 89.8 L665.6 87.3 L663.8 84.8 L662.0 82.3 L660.1 79.9 L658.2 77.5 L656.2 75.2 L654.1 72.9 L652.0 70.6 L649.9 68.3 L647.7 66.1M625.9 48.2 L623.2 46.5 L620.6 44.8 L617.8 43.1 L615.1 41.5 L612.3 40.0 L609.5 38.5 L606.6 37.1 L603.7 35.7 L600.8 34.4 L597.8 33.1 L594.8 31.9 L591.8 30.8 L588.8 29.7 L585.7 28.7 L582.7 27.7 L579.6 26.8 L576.4 26.0 L573.3 25.2 L570.1 24.5 L567.0 23.9 L563.8 23.3 L560.6 22.8 L557.4 22.3 L554.1 22.0 L550.9 21.6 L547.7 21.4 L544.4 21.2 L541.2 21.1 L537.9 21.0 L534.7 21.0 L531.4 21.1 L528.2 21.2 L524.9 21.5 L521.7 21.7 L518.5 22.1 L515.2 22.5 L512.0 22.9 L508.8 23.5 L505.6 24.1 L502.5 24.7 L499.3 25.4 L496.1 26.2 L493.0 27.1 L489.9 28.0 L486.8 29.0 L483.8 30.0 L480.7 31.1 L477.7 32.3 L474.7 33.5 L471.8 34.8 L468.8 36.1 L465.9 37.5" fill="none" stroke="#000" stroke-width="1.25" stroke-opacity="0.95"/>
<path d="M469.7 394.1 L472.4 395.5 L475.2 396.8 L478.0 398.1 L480.8 399.4 L483.6 400.5 L486.5 401.6 L489.4 402.7 L492.3 403.7 L495.2 404.6 L498.2 405.5 L501.2 406.3 L504.2 407.1 L507.2 407.8 L510.2 408.5 L513.3 409.0 L516.3 409.6 L519.4 410.0 L522.5 410.4 L525.6 410.7 L528.6 411.0 L531.7 411.2 L534.9 411.4 L538.0 411.4 L541.1 411.5 L544.2 411.4 L547.3 411.3 L550.4 411.1 L553.5 410.9 L556.6 410.6 L559.7 410.3 L562.8 409.8 L565.8 409.4 L568.9 408.8 L571.9 408.2 L575.0 407.5 L578.0 406.8 L581.0 406.0 L583.9 405.2 L586.9 404.3 L589.9 403.3 L592.8 402.3 L595.7 401.2 L598.5 400.1 L601.4 398.9 L604.2 397.6 L607.0 396.3 L609.7 394.9 L612.5 393.5 L615.1 392.0 L617.8 390.5 L620.4 388.9 L623.0 387.3 L625.6 385.6 L628.1 383.9 L630.6 382.1M650.9 364.2 L652.9 362.0 L654.9 359.7 L656.8 357.5 L658.7 355.2 L660.5 352.8 L662.3 350.5M647.1 77.1 L645.1 75.0 L643.0 72.8 L640.8 70.8 L638.6 68.7 L636.4 66.7 L634.1 64.8 L631.8 62.9 L629.4 61.0 L627.0 59.2 L624.6 57.4 L622.1 55.7M598.1 42.5 L595.2 41.3 L592.4 40.1 L589.5 39.0 L586.6 38.0 L583.7 37.0 L580.7 36.1 L577.8 35.3 L574.8 34.5 L571.8 33.7 L568.8 33.1 L565.7 32.4 L562.7 31.9 L559.6 31.4 L556.5 31.0 L553.5 30.6 L550.4 30.3 L547.3 30.1 L544.2 29.9 L541.1 29.8 L538.0 29.7 L534.9 29.7 L531.7 29.8 L528.6 29.9 L525.5 30.1 L522.4 30.4 L519.3 30.7 L516.3 31.1 L513.2 31.5 L510.1 32.0 L507.1 32.6 L504.0 33.3 L501.0 33.9 L498.0 34.7 L495.0 35.5 L492.0 36.4 L489.1 37.3 L486.2 38.3 L483.2 39.4 L480.4 40.5 L477.5 41.6 L474.7 42.9 L471.9 44.1 L469.1 45.5" fill="none" stroke="#000" stroke-width="1.25" stroke-opacity="0.95"/>
<ellipse cx="537.75" cy="220.12" rx="181.23" ry="180.62" fill="#000"/>
<text transform="translate(826.2 62.8) rotate(75.1)" x="0" y="4.1" text-anchor="middle" style="font-family:'Liberation Sans',sans-serif;font-weight:bold;font-size:11.5px" fill="#000" fill-opacity="0.55" textLength="21" stroke="#000" stroke-width="0.5" stroke-opacity="0.5" lengthAdjust="spacingAndGlyphs">100</text>
<text transform="translate(757.2 66.1) rotate(68.2)" x="0" y="4.1" text-anchor="middle" style="font-family:'Liberation Sans',sans-serif;font-weight:bold;font-size:11.5px" fill="#000" fill-opacity="1" textLength="21" stroke="#000" stroke-width="0.5" stroke-opacity="1" lengthAdjust="spacingAndGlyphs">200</text>
<text transform="translate(721.5 67.8) rotate(62.8)" x="0" y="4.1" text-anchor="middle" style="font-family:'Liberation Sans',sans-serif;font-weight:bold;font-size:11.5px" fill="#000" fill-opacity="1" textLength="21" stroke="#000" stroke-width="0.5" stroke-opacity="1" lengthAdjust="spacingAndGlyphs">300</text>
<text transform="translate(689.5 56.9) rotate(53.8)" x="0" y="4.1" text-anchor="middle" style="font-family:'Liberation Sans',sans-serif;font-weight:bold;font-size:11.5px" fill="#000" fill-opacity="1" textLength="21" stroke="#000" stroke-width="0.5" stroke-opacity="1" lengthAdjust="spacingAndGlyphs">400</text>
<text transform="translate(670.1 57.9) rotate(49.2)" x="0" y="4.1" text-anchor="middle" style="font-family:'Liberation Sans',sans-serif;font-weight:bold;font-size:11.5px" fill="#000" fill-opacity="1" textLength="21" stroke="#000" stroke-width="0.5" stroke-opacity="1" lengthAdjust="spacingAndGlyphs">500</text>
<text transform="translate(717.6 268.0) rotate(-87.8)" x="0" y="4.1" text-anchor="middle" style="font-family:'Liberation Sans',sans-serif;font-weight:bold;font-size:11.5px" fill="#000" fill-opacity="1" textLength="21" stroke="#000" stroke-width="0.5" stroke-opacity="1" lengthAdjust="spacingAndGlyphs">500</text>
<text transform="translate(648.7 53.5) rotate(42.3)" x="0" y="4.1" text-anchor="middle" style="font-family:'Liberation Sans',sans-serif;font-weight:bold;font-size:11.5px" fill="#000" fill-opacity="1" textLength="21" stroke="#000" stroke-width="0.5" stroke-opacity="1" lengthAdjust="spacingAndGlyphs">600</text>
<text transform="translate(699.8 312.4) rotate(-73.8)" x="0" y="4.1" text-anchor="middle" style="font-family:'Liberation Sans',sans-serif;font-weight:bold;font-size:11.5px" fill="#000" fill-opacity="1" textLength="21" stroke="#000" stroke-width="0.5" stroke-opacity="1" lengthAdjust="spacingAndGlyphs">600</text>
<text transform="translate(638.5 57.7) rotate(40.0)" x="0" y="4.1" text-anchor="middle" style="font-family:'Liberation Sans',sans-serif;font-weight:bold;font-size:11.5px" fill="#000" fill-opacity="1" textLength="21" stroke="#000" stroke-width="0.5" stroke-opacity="1" lengthAdjust="spacingAndGlyphs">700</text>
<text transform="translate(677.9 340.9) rotate(-60.6)" x="0" y="4.1" text-anchor="middle" style="font-family:'Liberation Sans',sans-serif;font-weight:bold;font-size:11.5px" fill="#000" fill-opacity="1" textLength="21" stroke="#000" stroke-width="0.5" stroke-opacity="1" lengthAdjust="spacingAndGlyphs">700</text>
<text transform="translate(609.1 47.8) rotate(28.3)" x="0" y="4.1" text-anchor="middle" style="font-family:'Liberation Sans',sans-serif;font-weight:bold;font-size:11.5px" fill="#000" fill-opacity="1" textLength="21" stroke="#000" stroke-width="0.5" stroke-opacity="1" lengthAdjust="spacingAndGlyphs">800</text>
<text transform="translate(640.0 374.6) rotate(-40.9)" x="0" y="4.1" text-anchor="middle" style="font-family:'Liberation Sans',sans-serif;font-weight:bold;font-size:11.5px" fill="#000" fill-opacity="1" textLength="21" stroke="#000" stroke-width="0.5" stroke-opacity="1" lengthAdjust="spacingAndGlyphs">800</text>
</g>
<rect x="906.2" y="39.0" width="14.9" height="361.4" fill="url(#cb)"/>
<line x1="906.4" y1="39.0" x2="906.4" y2="400.4" stroke="#222" stroke-width="0.6" stroke-opacity="0.6"/>
<text x="202.0" y="25.6" textLength="57.6" lengthAdjust="spacingAndGlyphs" style="font-family:'Liberation Serif',serif;font-size:32.5px;" fill="#000">SAA</text>
<text x="277.3" y="25.6" textLength="109.1" lengthAdjust="spacingAndGlyphs" style="font-family:'Liberation Serif',serif;font-size:32.5px;letter-spacing:0.03px;" fill="#000">Region</text>
<text x="580.7" y="25.2" textLength="60.8" lengthAdjust="spacingAndGlyphs" style="font-family:'Liberation Serif',serif;font-size:32.5px;" fill="#000">Non</text>
<text x="647.0" y="25.2" textLength="21.1" lengthAdjust="spacingAndGlyphs" style="font-family:'Liberation Serif',serif;font-size:32.5px;" fill="#000">−</text>
<text x="669.5" y="25.2" textLength="57.2" lengthAdjust="spacingAndGlyphs" style="font-family:'Liberation Serif',serif;font-size:32.5px;" fill="#000">SAA</text>
<text x="747.0" y="25.2" textLength="108.1" lengthAdjust="spacingAndGlyphs" style="font-family:'Liberation Serif',serif;font-size:32.5px;" fill="#000">Region</text>
<text x="422.6" y="75.6" textLength="9.3" lengthAdjust="spacingAndGlyphs" style="font-family:'Liberation Serif',serif;font-size:31px;" fill="#fff">(</text>
<text x="434.7" y="76.1" textLength="15.5" lengthAdjust="spacingAndGlyphs" style="font-family:'Liberation Sans',sans-serif;font-size:25.5px;" fill="#fff">a</text>
<text x="453.0" y="75.6" textLength="9.3" lengthAdjust="spacingAndGlyphs" style="font-family:'Liberation Serif',serif;font-size:31px;" fill="#fff">)</text>
<text x="846.8" y="75.6" textLength="9.3" lengthAdjust="spacingAndGlyphs" style="font-family:'Liberation Serif',serif;font-size:31px;" fill="#fff">(</text>
<text x="858.9" y="76.1" textLength="16.0" lengthAdjust="spacingAndGlyphs" style="font-family:'Liberation Serif',serif;font-size:28.5px;" fill="#fff">b</text>
<text x="877.2" y="75.6" textLength="9.3" lengthAdjust="spacingAndGlyphs" style="font-family:'Liberation Serif',serif;font-size:31px;" fill="#fff">)</text>
<text x="422.3" y="542.1" textLength="9.3" lengthAdjust="spacingAndGlyphs" style="font-family:'Liberation Serif',serif;font-size:31px;" fill="#000">(</text>
<text x="434.4" y="542.6" textLength="15.0" lengthAdjust="spacingAndGlyphs" style="font-family:'Liberation Serif',serif;font-size:28.5px;" fill="#000">c</text>
<text x="452.7" y="542.1" textLength="9.3" lengthAdjust="spacingAndGlyphs" style="font-family:'Liberation Serif',serif;font-size:31px;" fill="#000">)</text>
<text x="844.5" y="542.1" textLength="9.3" lengthAdjust="spacingAndGlyphs" style="font-family:'Liberation Serif',serif;font-size:31px;" fill="#000">(</text>
<text x="856.6" y="542.6" textLength="16.5" lengthAdjust="spacingAndGlyphs" style="font-family:'Liberation Serif',serif;font-size:28.5px;" fill="#000">d</text>
<text x="874.9" y="542.1" textLength="9.3" lengthAdjust="spacingAndGlyphs" style="font-family:'Liberation Serif',serif;font-size:31px;" fill="#000">)</text>
<text x="69.9" y="56.8" textLength="34.7" lengthAdjust="spacingAndGlyphs" style="font-family:'Liberation Serif',serif;font-size:26.6px;" fill="#000">1.0</text>
<text x="67.5" y="139.3" textLength="36.9" lengthAdjust="spacingAndGlyphs" style="font-family:'Liberation Serif',serif;font-size:26.6px;" fill="#000">0.5</text>
<text x="67.0" y="231" textLength="38.0" lengthAdjust="spacingAndGlyphs" style="font-family:'Liberation Serif',serif;font-size:26.6px;" fill="#000">0.0</text>
<text x="49.2" y="320.3" textLength="55.8" lengthAdjust="spacingAndGlyphs" style="font-family:'Liberation Serif',serif;font-size:26.6px;" fill="#000">−0.5</text>
<text x="49.2" y="401.8" textLength="55.8" lengthAdjust="spacingAndGlyphs" style="font-family:'Liberation Serif',serif;font-size:26.6px;" fill="#000">−1.0</text>
<text x="95.0" y="437.1" textLength="37.3" lengthAdjust="spacingAndGlyphs" style="font-family:'Liberation Serif',serif;font-size:26.6px;" fill="#000">0.0</text>
<text x="185.0" y="437.1" textLength="37.3" lengthAdjust="spacingAndGlyphs" style="font-family:'Liberation Serif',serif;font-size:26.6px;" fill="#000">0.5</text>
<text x="278.0" y="437.1" textLength="36.2" lengthAdjust="spacingAndGlyphs" style="font-family:'Liberation Serif',serif;font-size:26.6px;" fill="#000">1.0</text>
<text x="367.9" y="437.1" textLength="34.1" lengthAdjust="spacingAndGlyphs" style="font-family:'Liberation Serif',serif;font-size:26.6px;" fill="#000">1.5</text>
<text x="454.9" y="437.1" textLength="38.2" lengthAdjust="spacingAndGlyphs" style="font-family:'Liberation Serif',serif;font-size:26.6px;" fill="#000">2.0</text>
<text x="518.8" y="437.1" textLength="37.3" lengthAdjust="spacingAndGlyphs" style="font-family:'Liberation Serif',serif;font-size:26.6px;" fill="#000">0.0</text>
<text x="608.8" y="437.1" textLength="37.3" lengthAdjust="spacingAndGlyphs" style="font-family:'Liberation Serif',serif;font-size:26.6px;" fill="#000">0.5</text>
<text x="701.8" y="437.1" textLength="36.2" lengthAdjust="spacingAndGlyphs" style="font-family:'Liberation Serif',serif;font-size:26.6px;" fill="#000">1.0</text>
<text x="791.6" y="437.1" textLength="34.1" lengthAdjust="spacingAndGlyphs" style="font-family:'Liberation Serif',serif;font-size:26.6px;" fill="#000">1.5</text>
<text x="878.6" y="437.1" textLength="38.2" lengthAdjust="spacingAndGlyphs" style="font-family:'Liberation Serif',serif;font-size:26.6px;" fill="#000">2.0</text>
<text x="188.1" y="468.2" textLength="17.4" lengthAdjust="spacingAndGlyphs" style="font-family:'Liberation Serif',serif;font-size:26px;font-style:italic;" fill="#000">R</text>
<text x="207.5" y="468.2" textLength="18.6" lengthAdjust="spacingAndGlyphs" style="font-family:'Liberation Serif',serif;font-size:26px;" fill="#000">=</text>
<text x="228.4" y="467.2" textLength="8.1" lengthAdjust="spacingAndGlyphs" style="font-family:'Liberation Serif',serif;font-size:28px;" fill="#000">(</text>
<text x="237.5" y="468.2" textLength="19.0" lengthAdjust="spacingAndGlyphs" style="font-family:'Liberation Serif',serif;font-size:26px;font-style:italic;" fill="#000">X</text>
<text x="255.8" y="458.3" textLength="6.3" lengthAdjust="spacingAndGlyphs" style="font-family:'Liberation Serif',serif;font-size:10.5px;font-weight:bold;" fill="#000">2</text>
<text x="263.9" y="468.2" textLength="16.4" lengthAdjust="spacingAndGlyphs" style="font-family:'Liberation Serif',serif;font-size:26px;" fill="#000">+</text>
<text x="285.6" y="468.2" textLength="15.1" lengthAdjust="spacingAndGlyphs" style="font-family:'Liberation Serif',serif;font-size:26px;font-style:italic;" fill="#000">Y</text>
<text x="300.0" y="458.3" textLength="6.5" lengthAdjust="spacingAndGlyphs" style="font-family:'Liberation Serif',serif;font-size:10.5px;font-weight:bold;" fill="#000">2</text>
<text x="307.6" y="467.2" textLength="7.9" lengthAdjust="spacingAndGlyphs" style="font-family:'Liberation Serif',serif;font-size:28px;" fill="#000">)</text>
<text x="318.3" y="458.3" textLength="23.0" lengthAdjust="spacingAndGlyphs" style="font-family:'Liberation Serif',serif;font-size:13px;font-weight:bold;letter-spacing:0.81px;" fill="#000">1/2</text>
<text x="353.0" y="467.2" textLength="7.8" lengthAdjust="spacingAndGlyphs" style="font-family:'Liberation Serif',serif;font-size:28px;" fill="#000">(</text>
<text x="363.2" y="468.2" textLength="18.0" lengthAdjust="spacingAndGlyphs" style="font-family:'Liberation Serif',serif;font-size:26px;" fill="#000">R</text>
<text x="380.9" y="474.2" textLength="9.4" lengthAdjust="spacingAndGlyphs" style="font-family:'Liberation Serif',serif;font-size:11.5px;font-weight:bold;" fill="#000">E</text>
<text x="391.5" y="467.2" textLength="7.9" lengthAdjust="spacingAndGlyphs" style="font-family:'Liberation Serif',serif;font-size:28px;" fill="#000">)</text>
<text x="611.9" y="468.2" textLength="17.4" lengthAdjust="spacingAndGlyphs" style="font-family:'Liberation Serif',serif;font-size:26px;font-style:italic;" fill="#000">R</text>
<text x="631.2" y="468.2" textLength="18.6" lengthAdjust="spacingAndGlyphs" style="font-family:'Liberation Serif',serif;font-size:26px;" fill="#000">=</text>
<text x="652.1" y="467.2" textLength="8.1" lengthAdjust="spacingAndGlyphs" style="font-family:'Liberation Serif',serif;font-size:28px;" fill="#000">(</text>
<text x="661.2" y="468.2" textLength="19.0" lengthAdjust="spacingAndGlyphs" style="font-family:'Liberation Serif',serif;font-size:26px;font-style:italic;" fill="#000">X</text>
<text x="679.5" y="458.3" textLength="6.3" lengthAdjust="spacingAndGlyphs" style="font-family:'Liberation Serif',serif;font-size:10.5px;font-weight:bold;" fill="#000">2</text>
<text x="687.6" y="468.2" textLength="16.4" lengthAdjust="spacingAndGlyphs" style="font-family:'Liberation Serif',serif;font-size:26px;" fill="#000">+</text>
<text x="709.4" y="468.2" textLength="15.1" lengthAdjust="spacingAndGlyphs" style="font-family:'Liberation Serif',serif;font-size:26px;font-style:italic;" fill="#000">Y</text>
<text x="723.8" y="458.3" textLength="6.5" lengthAdjust="spacingAndGlyphs" style="font-family:'Liberation Serif',serif;font-size:10.5px;font-weight:bold;" fill="#000">2</text>
<text x="731.4" y="467.2" textLength="7.9" lengthAdjust="spacingAndGlyphs" style="font-family:'Liberation Serif',serif;font-size:28px;" fill="#000">)</text>
<text x="742.0" y="458.3" textLength="23.0" lengthAdjust="spacingAndGlyphs" style="font-family:'Liberation Serif',serif;font-size:13px;font-weight:bold;letter-spacing:0.81px;" fill="#000">1/2</text>
<text x="776.8" y="467.2" textLength="7.8" lengthAdjust="spacingAndGlyphs" style="font-family:'Liberation Serif',serif;font-size:28px;" fill="#000">(</text>
<text x="787.0" y="468.2" textLength="18.0" lengthAdjust="spacingAndGlyphs" style="font-family:'Liberation Serif',serif;font-size:26px;" fill="#000">R</text>
<text x="804.6" y="474.2" textLength="9.4" lengthAdjust="spacingAndGlyphs" style="font-family:'Liberation Serif',serif;font-size:11.5px;font-weight:bold;" fill="#000">E</text>
<text x="815.2" y="467.2" textLength="7.9" lengthAdjust="spacingAndGlyphs" style="font-family:'Liberation Serif',serif;font-size:28px;" fill="#000">)</text>
<text transform="translate(25.5 259.3) rotate(-90)" textLength="15.5" lengthAdjust="spacingAndGlyphs" style="font-family:'Liberation Serif',serif;font-size:26px;font-style:italic;" fill="#000">Z</text>
<text transform="translate(24.5 232) rotate(-90)" textLength="8.0" lengthAdjust="spacingAndGlyphs" style="font-family:'Liberation Serif',serif;font-size:28px;" fill="#000">(</text>
<text transform="translate(25.5 221) rotate(-90)" textLength="17.5" lengthAdjust="spacingAndGlyphs" style="font-family:'Liberation Serif',serif;font-size:26px;" fill="#000">R</text>
<text transform="translate(31.2 203) rotate(-90)" textLength="8.6" lengthAdjust="spacingAndGlyphs" style="font-family:'Liberation Serif',serif;font-size:11.5px;font-weight:bold;" fill="#000">E</text>
<text transform="translate(24.5 192.5) rotate(-90)" textLength="8.0" lengthAdjust="spacingAndGlyphs" style="font-family:'Liberation Serif',serif;font-size:28px;" fill="#000">)</text>
<text x="929.8" y="91.6" textLength="47.4" lengthAdjust="spacingAndGlyphs" style="font-family:'Liberation Serif',serif;font-size:26.6px;letter-spacing:0.23px;" fill="#000">800</text>
<text x="929.8" y="176.4" textLength="47.4" lengthAdjust="spacingAndGlyphs" style="font-family:'Liberation Serif',serif;font-size:26.6px;letter-spacing:0.23px;" fill="#000">600</text>
<text x="929.8" y="260.2" textLength="47.4" lengthAdjust="spacingAndGlyphs" style="font-family:'Liberation Serif',serif;font-size:26.6px;letter-spacing:0.23px;" fill="#000">400</text>
<text x="929.8" y="344" textLength="47.4" lengthAdjust="spacingAndGlyphs" style="font-family:'Liberation Serif',serif;font-size:26.6px;letter-spacing:0.23px;" fill="#000">200</text>
<line x1="921" y1="82.4" x2="923.5" y2="82.4" stroke="#c33" stroke-width="0.8"/>
<line x1="921" y1="167.2" x2="923.5" y2="167.2" stroke="#c33" stroke-width="0.8"/>
<line x1="921" y1="251" x2="923.5" y2="251" stroke="#c33" stroke-width="0.8"/>
<line x1="921" y1="335.4" x2="923.5" y2="335.4" stroke="#c33" stroke-width="0.8"/>
<text transform="translate(1003.5 277.5) rotate(-90)" textLength="10.5" lengthAdjust="spacingAndGlyphs" style="font-family:'Liberation Serif',serif;font-size:30px;font-style:italic;" fill="#000">f</text>
<text transform="translate(1010 257) rotate(-90)" textLength="16.6" lengthAdjust="spacingAndGlyphs" style="font-family:'Liberation Serif',serif;font-size:11.5px;font-weight:bold;letter-spacing:0.09px;" fill="#000">cH</text>
<text transform="translate(1002.8 240.6) rotate(-90)" style="font-family:'Liberation Serif',serif;font-size:8px;font-weight:bold;" fill="#000">+</text>
<text transform="translate(1004.5 222) rotate(-90)" textLength="52.5" lengthAdjust="spacingAndGlyphs" style="font-family:'Liberation Serif',serif;font-size:26px;" fill="#000">(Hz)</text>
<path d="M113.8 504.3H477.2M113.8 865.7H477.2" stroke="#000" stroke-width="2" fill="none"/>
<path d="M114.5 504.5V865.5M475.9 504.5V865.5" stroke="#000" stroke-width="1.4" fill="none"/>
<path d="M114.50 865.5v-7.2M114.50 504.5v7.2M123.55 865.5v-3.6M123.55 504.5v3.6M132.60 865.5v-3.6M132.60 504.5v3.6M141.65 865.5v-3.6M141.65 504.5v3.6M150.70 865.5v-3.6M150.70 504.5v3.6M159.75 865.5v-3.6M159.75 504.5v3.6M168.80 865.5v-3.6M168.80 504.5v3.6M177.85 865.5v-3.6M177.85 504.5v3.6M186.90 865.5v-3.6M186.90 504.5v3.6M195.95 865.5v-3.6M195.95 504.5v3.6M205.00 865.5v-7.2M205.00 504.5v7.2M214.05 865.5v-3.6M214.05 504.5v3.6M223.10 865.5v-3.6M223.10 504.5v3.6M232.15 865.5v-3.6M232.15 504.5v3.6M241.20 865.5v-3.6M241.20 504.5v3.6M250.25 865.5v-3.6M250.25 504.5v3.6M259.30 865.5v-3.6M259.30 504.5v3.6M268.35 865.5v-3.6M268.35 504.5v3.6M277.40 865.5v-3.6M277.40 504.5v3.6M286.45 865.5v-3.6M286.45 504.5v3.6M295.50 865.5v-7.2M295.50 504.5v7.2M304.55 865.5v-3.6M304.55 504.5v3.6M313.60 865.5v-3.6M313.60 504.5v3.6M322.65 865.5v-3.6M322.65 504.5v3.6M331.70 865.5v-3.6M331.70 504.5v3.6M340.75 865.5v-3.6M340.75 504.5v3.6M349.80 865.5v-3.6M349.80 504.5v3.6M358.85 865.5v-3.6M358.85 504.5v3.6M367.90 865.5v-3.6M367.90 504.5v3.6M376.95 865.5v-3.6M376.95 504.5v3.6M386.00 865.5v-7.2M386.00 504.5v7.2M395.05 865.5v-3.6M395.05 504.5v3.6M404.10 865.5v-3.6M404.10 504.5v3.6M413.15 865.5v-3.6M413.15 504.5v3.6M422.20 865.5v-3.6M422.20 504.5v3.6M431.25 865.5v-3.6M431.25 504.5v3.6M440.30 865.5v-3.6M440.30 504.5v3.6M449.35 865.5v-3.6M449.35 504.5v3.6M458.40 865.5v-3.6M458.40 504.5v3.6M467.45 865.5v-3.6M467.45 504.5v3.6M476.50 865.5v-7.2M476.50 504.5v7.2" stroke="#000" stroke-width="1.5" fill="none"/>
<path d="M114.5 865.50h7.7M475.9 865.50h-7.7M114.5 842.94h3.8M475.9 842.94h-3.8M114.5 820.38h3.8M475.9 820.38h-3.8M114.5 797.81h3.8M475.9 797.81h-3.8M114.5 775.25h7.7M475.9 775.25h-7.7M114.5 752.69h3.8M475.9 752.69h-3.8M114.5 730.12h3.8M475.9 730.12h-3.8M114.5 707.56h3.8M475.9 707.56h-3.8M114.5 685.00h7.7M475.9 685.00h-7.7M114.5 662.44h3.8M475.9 662.44h-3.8M114.5 639.88h3.8M475.9 639.88h-3.8M114.5 617.31h3.8M475.9 617.31h-3.8M114.5 594.75h7.7M475.9 594.75h-7.7M114.5 572.19h3.8M475.9 572.19h-3.8M114.5 549.62h3.8M475.9 549.62h-3.8M114.5 527.06h3.8M475.9 527.06h-3.8M114.5 504.50h7.7M475.9 504.50h-7.7" stroke="#000" stroke-width="1.3" fill="none"/>
<clipPath id="cc"><rect x="114.5" y="504.5" width="362.0" height="361.0"/></clipPath><g clip-path="url(#cc)">
<path d="M114.5 824.2 L119.0 824.6 L123.5 825.0 L128.1 825.4 L132.6 825.8 L137.1 826.2 L141.7 826.6 L146.2 827.0 L150.7 827.4 L155.2 827.7 L159.8 828.1 L164.3 828.5 L168.8 828.8 L173.3 829.2 L177.8 829.5 L182.4 829.9 L186.9 830.2 L191.4 830.5 L195.9 830.9 L200.5 831.2 L205.0 831.5 L209.5 831.8 L214.1 832.1 L218.6 832.4 L223.1 832.7 L227.6 833.0 L232.1 833.3 L236.7 833.6 L241.2 833.9 L245.7 834.2 L250.2 834.5 L254.8 834.8 L259.3 835.0 L263.8 835.3 L268.4 835.6 L272.9 835.8 L277.4 836.1 L281.9 836.4 L286.4 836.6 L291.0 836.9 L295.5 837.1 L300.0 837.4 L304.5 837.6 L309.1 837.8 L313.6 838.1 L318.1 838.3 L322.6 838.5 L327.2 838.8 L331.7 839.0 L336.2 839.2 L340.8 839.4 L345.3 839.7 L349.8 839.9 L354.3 840.1 L358.9 840.3 L363.4 840.5 L367.9 840.7 L372.4 840.9 L376.9 841.1 L381.5 841.3 L386.0 841.5 L390.5 841.7 L395.1 841.9 L399.6 842.1 L404.1 842.3 L408.6 842.5 L413.1 842.7 L417.7 842.8 L422.2 843.0 L426.7 843.2 L431.2 843.4 L435.8 843.5 L440.3 843.7 L444.8 843.9 L449.3 844.1 L453.9 844.2 L458.4 844.4 L462.9 844.6 L467.4 844.7 L472.0 844.9 L476.5 845.0" fill="none" stroke="#6fdc6f" stroke-width="1.3" stroke-dasharray="1.3 1.7"/>
<path d="M114.5 789.1 L119.0 790.0 L123.5 791.0 L128.1 791.8 L132.6 792.7 L137.1 793.6 L141.7 794.4 L146.2 795.3 L150.7 796.1 L155.2 796.9 L159.8 797.7 L164.3 798.5 L168.8 799.3 L173.3 800.0 L177.8 800.8 L182.4 801.5 L186.9 802.3 L191.4 803.0 L195.9 803.7 L200.5 804.4 L205.0 805.1 L209.5 805.7 L214.1 806.4 L218.6 807.1 L223.1 807.7 L227.6 808.4 L232.1 809.0 L236.7 809.6 L241.2 810.2 L245.7 810.8 L250.2 811.4 L254.8 812.0 L259.3 812.6 L263.8 813.1 L268.4 813.7 L272.9 814.3 L277.4 814.8 L281.9 815.3 L286.4 815.9 L291.0 816.4 L295.5 816.9 L300.0 817.4 L304.5 817.9 L309.1 818.4 L313.6 818.9 L318.1 819.4 L322.6 819.8 L327.2 820.3 L331.7 820.8 L336.2 821.2 L340.8 821.7 L345.3 822.1 L349.8 822.6 L354.3 823.0 L358.9 823.4 L363.4 823.8 L367.9 824.2 L372.4 824.7 L376.9 825.1 L381.5 825.5 L386.0 825.8 L390.5 826.2 L395.1 826.6 L399.6 827.0 L404.1 827.4 L408.6 827.7 L413.1 828.1 L417.7 828.5 L422.2 828.8 L426.7 829.2 L431.2 829.5 L435.8 829.8 L440.3 830.2 L444.8 830.5 L449.3 830.8 L453.9 831.2 L458.4 831.5 L462.9 831.8 L467.4 832.1 L472.0 832.4 L476.5 832.7" fill="none" stroke="#4fd04f" stroke-width="2" stroke-dasharray="5 3.2"/>
<path d="M114.5 700.3 L119.0 702.0 L123.5 703.6 L128.1 705.2 L132.6 706.8 L137.1 708.4 L141.7 709.9 L146.2 711.5 L150.7 713.0 L155.2 714.4 L159.8 715.9 L164.3 717.3 L168.8 718.8 L173.3 720.2 L177.8 721.6 L182.4 722.9 L186.9 724.3 L191.4 725.6 L195.9 726.9 L200.5 728.2 L205.0 729.5 L209.5 730.8 L214.1 732.0 L218.6 733.2 L223.1 734.4 L227.6 735.6 L232.1 736.8 L236.7 738.0 L241.2 739.2 L245.7 740.3 L250.2 741.4 L254.8 742.5 L259.3 743.6 L263.8 744.7 L268.4 745.8 L272.9 746.9 L277.4 747.9 L281.9 748.9 L286.4 750.0 L291.0 751.0 L295.5 752.0 L300.0 752.9 L304.5 753.9 L309.1 754.9 L313.6 755.8 L318.1 756.8 L322.6 757.7 L327.2 758.6 L331.7 759.5 L336.2 760.4 L340.8 761.3 L345.3 762.2 L349.8 763.0 L354.3 763.9 L358.9 764.7 L363.4 765.6 L367.9 766.4 L372.4 767.2 L376.9 768.0 L381.5 768.8 L386.0 769.6 L390.5 770.4 L395.1 771.1 L399.6 771.9 L404.1 772.6 L408.6 773.4 L413.1 774.1 L417.7 774.8 L422.2 775.6 L426.7 776.3 L431.2 777.0 L435.8 777.7 L440.3 778.4 L444.8 779.1 L449.3 779.7 L453.9 780.4 L458.4 781.1 L462.9 781.7 L467.4 782.4 L472.0 783.0 L476.5 783.6" fill="none" stroke="#222" stroke-width="1.3" stroke-dasharray="1.3 1.7"/>
<path d="M114.5 560.0 L119.0 563.7 L123.5 567.3 L128.1 570.9 L132.6 574.4 L137.1 577.9 L141.7 581.3 L146.2 584.6 L150.7 587.9 L155.2 591.2 L159.8 594.4 L164.3 597.5 L168.8 600.6 L173.3 603.7 L177.8 606.7 L182.4 609.6 L186.9 612.6 L191.4 615.4 L195.9 618.3 L200.5 621.0 L205.0 623.8 L209.5 626.5 L214.1 629.2 L218.6 631.8 L223.1 634.4 L227.6 636.9 L232.1 639.4 L236.7 641.9 L241.2 644.4 L245.7 646.8 L250.2 649.1 L254.8 651.5 L259.3 653.8 L263.8 656.1 L268.4 658.3 L272.9 660.5 L277.4 662.7 L281.9 664.8 L286.4 666.9 L291.0 669.0 L295.5 671.1 L300.0 673.1 L304.5 675.1 L309.1 677.1 L313.6 679.0 L318.1 681.0 L322.6 682.9 L327.2 684.7 L331.7 686.6 L336.2 688.4 L340.8 690.2 L345.3 692.0 L349.8 693.7 L354.3 695.4 L358.9 697.1 L363.4 698.8 L367.9 700.5 L372.4 702.1 L376.9 703.7 L381.5 705.3 L386.0 706.9 L390.5 708.4 L395.1 710.0 L399.6 711.5 L404.1 713.0 L408.6 714.4 L413.1 715.9 L417.7 717.3 L422.2 718.8 L426.7 720.2 L431.2 721.5 L435.8 722.9 L440.3 724.2 L444.8 725.6 L449.3 726.9 L453.9 728.2 L458.4 729.5 L462.9 730.7 L467.4 732.0 L472.0 733.2 L476.5 734.4" fill="none" stroke="#111" stroke-width="2" stroke-dasharray="5 3.2"/>
<clipPath id="c100"><rect x="132.6" y="504.5" width="400" height="400"/></clipPath><g clip-path="url(#c100)">
<path d="M114.5 560.0 L119.0 563.7 L123.5 567.3 L128.1 570.9 L132.6 574.4 L137.1 577.9 L141.7 581.3 L146.2 584.6 L150.7 587.9 L155.2 591.2 L159.8 594.4 L164.3 597.5 L168.8 600.6 L173.3 603.7 L177.8 606.7 L182.4 609.6 L186.9 612.6 L191.4 615.4 L195.9 618.3 L200.5 621.0 L205.0 623.8 L209.5 626.5 L214.1 629.2 L218.6 631.8 L223.1 634.4 L227.6 636.9 L232.1 639.4 L236.7 641.9 L241.2 644.4 L245.7 646.8 L250.2 649.1 L254.8 651.5 L259.3 653.8 L262.0 655.1 L264.0 656.2 L266.0 657.2 L268.0 658.4 L270.0 659.5 L272.0 660.7 L274.0 662.6 L276.0 665.3 L278.0 668.5 L280.0 671.9 L282.0 675.0 L284.0 678.1 L286.0 681.2 L288.0 684.6 L290.0 688.2 L292.0 692.2 L294.0 696.7 L296.0 701.7 L298.0 706.9 L300.0 712.1 L302.0 717.5 L304.0 723.1 L306.0 728.9 L308.0 735.0 L310.0 741.4 L312.0 747.8 L314.0 753.8 L316.0 759.6 L318.0 765.1 L320.0 770.2 L322.0 775.0 L324.0 779.5 L326.0 783.7 L328.0 787.4 L330.0 791.0 L332.0 794.3 L334.0 797.1 L336.0 799.3 L338.0 801.4 L340.0 803.4 L342.0 805.2 L344.0 806.8 L346.0 808.2 L348.0 809.3 L350.0 810.3 L352.0 811.2 L354.0 812.2 L356.0 813.1 L358.0 814.0 L360.0 814.8 L362.0 815.6 L364.0 816.3 L366.0 817.0 L368.0 817.6 L370.0 818.1 L372.0 818.6 L374.0 819.0 L376.0 819.5 L378.0 819.9 L380.0 820.3 L382.0 820.7 L384.0 821.1 L386.0 821.5 L388.0 821.9 L390.0 822.3 L392.0 822.6 L394.0 822.9 L396.0 823.3 L398.0 823.6 L400.0 823.9 L402.0 824.2 L404.0 824.5 L406.0 824.8 L408.0 825.0 L410.0 825.3 L412.0 825.6 L414.0 825.8 L416.0 826.0 L418.0 826.3 L420.0 826.5 L422.0 826.7 L424.0 826.9 L426.0 827.1 L428.0 827.3 L430.0 827.5 L432.0 827.7 L434.0 827.9 L436.0 828.1 L438.0 828.3 L440.0 828.5 L442.0 828.7 L444.0 828.9 L446.0 829.1 L448.0 829.3 L450.0 829.4 L452.0 829.6 L454.0 829.8 L456.0 830.0 L458.0 830.2 L460.0 830.3 L462.0 830.5 L464.0 830.6 L466.0 830.8 L468.0 831.0 L470.0 831.1 L472.0 831.3 L474.0 831.4 L476.0 831.6 L476.5 831.6" fill="none" stroke="#1c1c60" stroke-width="2" stroke-dasharray="5 3.2"/>
<path d="M114.5 560.0 L119.0 563.7 L123.5 567.3 L128.1 570.9 L132.6 574.4 L137.1 577.9 L141.7 581.3 L146.2 584.6 L150.7 587.9 L155.2 591.2 L159.8 594.4 L164.3 597.5 L168.8 600.6 L173.3 603.7 L177.8 606.7 L182.4 609.6 L186.9 612.6 L191.4 615.4 L195.9 618.3 L200.5 621.0 L205.0 623.8 L209.5 626.5 L214.1 629.2 L218.6 631.8 L223.1 634.4 L227.6 636.9 L232.1 639.4 L236.7 641.9 L241.2 644.4 L245.7 646.8 L250.2 649.1 L254.8 651.5 L259.3 653.8 L263.8 656.1 L266.0 657.1 L268.0 658.2 L270.0 659.2 L272.0 660.3 L274.0 661.5 L276.0 662.6 L278.0 664.0 L280.0 665.9 L282.0 668.1 L284.0 670.7 L286.0 673.3 L288.0 676.0 L290.0 678.7 L292.0 681.6 L294.0 684.7 L296.0 687.9 L298.0 691.3 L300.0 695.0 L302.0 698.9 L304.0 703.1 L306.0 707.3 L308.0 711.6 L310.0 716.1 L312.0 720.7 L314.0 725.5 L316.0 730.1 L318.0 734.8 L320.0 739.5 L322.0 744.2 L324.0 748.9 L326.0 753.6 L328.0 758.4 L330.0 763.1 L332.0 767.4 L334.0 771.1 L336.0 774.5 L338.0 777.6 L340.0 780.6 L342.0 783.6 L344.0 786.5 L346.0 789.4 L348.0 792.0 L350.0 794.2 L352.0 796.1 L354.0 797.8 L356.0 799.5 L358.0 801.0 L360.0 802.4 L362.0 803.6 L364.0 804.7 L366.0 805.7 L368.0 806.7 L370.0 807.6 L372.0 808.5 L374.0 809.4 L376.0 810.2 L378.0 811.0 L380.0 811.7 L382.0 812.4 L384.0 813.0 L386.0 813.6 L388.0 814.2 L390.0 814.8 L392.0 815.4 L394.0 816.0 L396.0 816.5 L398.0 817.1 L400.0 817.6 L402.0 818.1 L404.0 818.6 L406.0 819.1 L408.0 819.5 L410.0 820.0 L412.0 820.4 L414.0 820.8 L416.0 821.1 L418.0 821.5 L420.0 821.8 L422.0 822.2 L424.0 822.5 L426.0 822.8 L428.0 823.1 L430.0 823.4 L432.0 823.7 L434.0 824.0 L436.0 824.4 L438.0 824.7 L440.0 825.0 L442.0 825.3 L444.0 825.6 L446.0 826.0 L448.0 826.3 L450.0 826.6 L452.0 826.9 L454.0 827.2 L456.0 827.5 L458.0 827.8 L460.0 828.1 L462.0 828.4 L464.0 828.6 L466.0 828.9 L468.0 829.2 L470.0 829.5 L472.0 829.7 L474.0 830.0 L476.0 830.2 L476.5 830.3" fill="none" stroke="#9a3030" stroke-width="2" stroke-dasharray="5 3.2"/>
</g>
<path d="M132.6 706.8 L137.1 708.4 L141.7 709.9 L146.2 711.5 L150.7 713.0 L155.2 714.4 L159.8 715.9 L164.3 717.3 L168.8 718.8 L173.3 720.2 L177.8 721.6 L182.4 722.9 L186.9 724.3 L191.4 725.6 L195.9 726.9 L200.5 728.2 L205.0 729.5 L209.5 730.8 L214.1 732.0 L218.6 733.2 L223.1 734.4 L227.6 735.6 L232.1 736.8 L236.7 738.0 L241.2 739.2 L245.7 740.3 L246.0 740.4 L248.0 740.9 L250.0 741.5 L252.0 742.1 L254.0 742.8 L256.0 743.5 L258.0 744.2 L260.0 745.1 L262.0 746.1 L264.0 747.2 L266.0 748.4 L268.0 749.7 L270.0 751.0 L272.0 752.4 L274.0 753.9 L276.0 755.7 L278.0 757.7 L280.0 759.8 L282.0 762.1 L284.0 764.5 L286.0 767.0 L288.0 769.9 L290.0 773.0 L292.0 776.3 L294.0 779.6 L296.0 783.1 L298.0 786.8 L300.0 790.5 L302.0 794.3 L304.0 798.0 L306.0 801.7 L308.0 805.4 L310.0 808.9 L312.0 812.1 L314.0 815.1 L316.0 818.0 L318.0 820.5 L320.0 822.6 L322.0 824.6 L324.0 826.4 L326.0 828.0 L328.0 829.2 L330.0 830.2 L332.0 831.1 L334.0 831.9 L336.0 832.7 L338.0 833.4 L340.0 833.9 L342.0 834.3 L344.0 834.7 L346.0 835.0 L348.0 835.3 L350.0 835.7 L352.0 836.0 L354.0 836.3 L356.0 836.6 L358.0 836.8 L360.0 837.1 L362.0 837.4 L364.0 837.6 L366.0 837.8 L368.0 838.0 L370.0 838.1 L372.0 838.3 L374.0 838.4 L376.0 838.5 L378.0 838.7 L380.0 838.8 L382.0 838.9 L384.0 839.0 L386.0 839.1 L388.0 839.2 L390.0 839.2 L392.0 839.3 L394.0 839.4 L396.0 839.4 L398.0 839.5 L400.0 839.6 L402.0 839.7 L404.0 839.8 L406.0 839.9 L408.0 840.0 L410.0 840.2 L412.0 840.3 L414.0 840.4 L416.0 840.5 L418.0 840.6 L420.0 840.8 L422.0 840.9 L424.0 841.0 L426.0 841.1 L428.0 841.3 L430.0 841.4 L432.0 841.5 L434.0 841.6 L436.0 841.8 L438.0 841.9 L440.0 842.0 L442.0 842.1 L444.0 842.2 L446.0 842.4 L448.0 842.5 L450.0 842.6 L452.0 842.7 L454.0 842.8 L456.0 843.0 L458.0 843.1 L460.0 843.2 L462.0 843.3 L464.0 843.4 L466.0 843.6 L468.0 843.7 L470.0 843.8 L472.0 843.9 L474.0 844.0 L476.0 844.2 L476.5 844.2" fill="none" stroke="#14148c" stroke-width="1.9"/>
<path d="M132.6 706.8 L137.1 708.4 L141.7 709.9 L146.2 711.5 L150.7 713.0 L155.2 714.4 L159.8 715.9 L164.3 717.3 L168.8 718.8 L173.3 720.2 L177.8 721.6 L182.4 722.9 L186.9 724.3 L191.4 725.6 L195.9 726.9 L200.5 728.2 L205.0 729.5 L209.5 730.8 L214.1 732.0 L218.6 733.2 L223.1 734.4 L227.6 735.6 L232.1 736.8 L236.7 738.0 L241.2 739.2 L245.7 740.3 L246.0 740.4 L248.0 740.9 L250.0 741.4 L252.0 741.9 L254.0 742.4 L256.0 742.8 L258.0 743.4 L260.0 744.0 L262.0 744.8 L264.0 745.5 L266.0 746.4 L268.0 747.2 L270.0 748.2 L272.0 749.1 L274.0 750.2 L276.0 751.5 L278.0 753.1 L280.0 754.7 L282.0 756.4 L284.0 758.2 L286.0 760.1 L288.0 762.2 L290.0 764.6 L292.0 767.0 L294.0 769.5 L296.0 772.0 L298.0 774.7 L300.0 777.5 L302.0 780.4 L304.0 783.4 L306.0 786.4 L308.0 789.3 L310.0 792.4 L312.0 795.5 L314.0 798.5 L316.0 801.4 L318.0 804.2 L320.0 807.0 L322.0 809.7 L324.0 812.2 L326.0 814.5 L328.0 816.8 L330.0 819.0 L332.0 821.0 L334.0 822.6 L336.0 823.9 L338.0 825.1 L340.0 826.2 L342.0 827.2 L344.0 828.1 L346.0 828.9 L348.0 829.6 L350.0 830.4 L352.0 831.0 L354.0 831.7 L356.0 832.3 L358.0 832.9 L360.0 833.4 L362.0 833.9 L364.0 834.3 L366.0 834.6 L368.0 834.9 L370.0 835.3 L372.0 835.6 L374.0 835.9 L376.0 836.2 L378.0 836.5 L380.0 836.7 L382.0 837.0 L384.0 837.3 L386.0 837.5 L388.0 837.7 L390.0 837.8 L392.0 838.0 L394.0 838.1 L396.0 838.3 L398.0 838.4 L400.0 838.6 L402.0 838.8 L404.0 838.9 L406.0 839.1 L408.0 839.2 L410.0 839.4 L412.0 839.5 L414.0 839.7 L416.0 839.8 L418.0 840.0 L420.0 840.1 L422.0 840.3 L424.0 840.4 L426.0 840.5 L428.0 840.7 L430.0 840.8 L432.0 841.0 L434.0 841.1 L436.0 841.2 L438.0 841.4 L440.0 841.5 L442.0 841.6 L444.0 841.8 L446.0 841.9 L448.0 842.0 L450.0 842.2 L452.0 842.3 L454.0 842.4 L456.0 842.5 L458.0 842.7 L460.0 842.8 L462.0 842.9 L464.0 843.0 L466.0 843.2 L468.0 843.3 L470.0 843.4 L472.0 843.5 L474.0 843.7 L476.0 843.8 L476.5 843.8" fill="none" stroke="#b8281e" stroke-width="1.9"/>
</g>
<path d="M537.1999999999999 504.3H900.2M537.1999999999999 865.7H900.2" stroke="#000" stroke-width="2" fill="none"/>
<path d="M537.9 504.5V865.5M898.9 504.5V865.5" stroke="#000" stroke-width="1.4" fill="none"/>
<path d="M537.90 865.5v-7.2M537.90 504.5v7.2M546.94 865.5v-3.6M546.94 504.5v3.6M555.98 865.5v-3.6M555.98 504.5v3.6M565.02 865.5v-3.6M565.02 504.5v3.6M574.06 865.5v-3.6M574.06 504.5v3.6M583.10 865.5v-3.6M583.10 504.5v3.6M592.14 865.5v-3.6M592.14 504.5v3.6M601.18 865.5v-3.6M601.18 504.5v3.6M610.22 865.5v-3.6M610.22 504.5v3.6M619.26 865.5v-3.6M619.26 504.5v3.6M628.30 865.5v-7.2M628.30 504.5v7.2M637.34 865.5v-3.6M637.34 504.5v3.6M646.38 865.5v-3.6M646.38 504.5v3.6M655.42 865.5v-3.6M655.42 504.5v3.6M664.46 865.5v-3.6M664.46 504.5v3.6M673.50 865.5v-3.6M673.50 504.5v3.6M682.54 865.5v-3.6M682.54 504.5v3.6M691.58 865.5v-3.6M691.58 504.5v3.6M700.62 865.5v-3.6M700.62 504.5v3.6M709.66 865.5v-3.6M709.66 504.5v3.6M718.70 865.5v-7.2M718.70 504.5v7.2M727.74 865.5v-3.6M727.74 504.5v3.6M736.78 865.5v-3.6M736.78 504.5v3.6M745.82 865.5v-3.6M745.82 504.5v3.6M754.86 865.5v-3.6M754.86 504.5v3.6M763.90 865.5v-3.6M763.90 504.5v3.6M772.94 865.5v-3.6M772.94 504.5v3.6M781.98 865.5v-3.6M781.98 504.5v3.6M791.02 865.5v-3.6M791.02 504.5v3.6M800.06 865.5v-3.6M800.06 504.5v3.6M809.10 865.5v-7.2M809.10 504.5v7.2M818.14 865.5v-3.6M818.14 504.5v3.6M827.18 865.5v-3.6M827.18 504.5v3.6M836.22 865.5v-3.6M836.22 504.5v3.6M845.26 865.5v-3.6M845.26 504.5v3.6M854.30 865.5v-3.6M854.30 504.5v3.6M863.34 865.5v-3.6M863.34 504.5v3.6M872.38 865.5v-3.6M872.38 504.5v3.6M881.42 865.5v-3.6M881.42 504.5v3.6M890.46 865.5v-3.6M890.46 504.5v3.6M899.50 865.5v-7.2M899.50 504.5v7.2" stroke="#000" stroke-width="1.5" fill="none"/>
<path d="M537.9 865.50h7.7M898.9 865.50h-7.7M537.9 842.94h3.8M898.9 842.94h-3.8M537.9 820.38h3.8M898.9 820.38h-3.8M537.9 797.81h3.8M898.9 797.81h-3.8M537.9 775.25h7.7M898.9 775.25h-7.7M537.9 752.69h3.8M898.9 752.69h-3.8M537.9 730.12h3.8M898.9 730.12h-3.8M537.9 707.56h3.8M898.9 707.56h-3.8M537.9 685.00h7.7M898.9 685.00h-7.7M537.9 662.44h3.8M898.9 662.44h-3.8M537.9 639.88h3.8M898.9 639.88h-3.8M537.9 617.31h3.8M898.9 617.31h-3.8M537.9 594.75h7.7M898.9 594.75h-7.7M537.9 572.19h3.8M898.9 572.19h-3.8M537.9 549.62h3.8M898.9 549.62h-3.8M537.9 527.06h3.8M898.9 527.06h-3.8M537.9 504.50h7.7M898.9 504.50h-7.7" stroke="#000" stroke-width="1.3" fill="none"/>
<clipPath id="cd"><rect x="537.9" y="504.5" width="361.6" height="361.0"/></clipPath><g clip-path="url(#cd)">
<path d="M537.9 824.2 L542.4 824.6 L546.9 825.0 L551.5 825.4 L556.0 825.8 L560.5 826.2 L565.0 826.6 L569.5 827.0 L574.1 827.4 L578.6 827.7 L583.1 828.1 L587.6 828.5 L592.1 828.8 L596.7 829.2 L601.2 829.5 L605.7 829.9 L610.2 830.2 L614.7 830.5 L619.3 830.9 L623.8 831.2 L628.3 831.5 L632.8 831.8 L637.3 832.1 L641.9 832.4 L646.4 832.7 L650.9 833.0 L655.4 833.3 L659.9 833.6 L664.5 833.9 L669.0 834.2 L673.5 834.5 L678.0 834.8 L682.5 835.0 L687.1 835.3 L691.6 835.6 L696.1 835.8 L700.6 836.1 L705.1 836.4 L709.7 836.6 L714.2 836.9 L718.7 837.1 L723.2 837.4 L727.7 837.6 L732.3 837.8 L736.8 838.1 L741.3 838.3 L745.8 838.5 L750.3 838.8 L754.9 839.0 L759.4 839.2 L763.9 839.4 L768.4 839.7 L772.9 839.9 L777.5 840.1 L782.0 840.3 L786.5 840.5 L791.0 840.7 L795.5 840.9 L800.1 841.1 L804.6 841.3 L809.1 841.5 L813.6 841.7 L818.1 841.9 L822.7 842.1 L827.2 842.3 L831.7 842.5 L836.2 842.7 L840.7 842.8 L845.3 843.0 L849.8 843.2 L854.3 843.4 L858.8 843.5 L863.3 843.7 L867.9 843.9 L872.4 844.1 L876.9 844.2 L881.4 844.4 L885.9 844.6 L890.5 844.7 L895.0 844.9 L899.5 845.0" fill="none" stroke="#6fdc6f" stroke-width="1.3" stroke-dasharray="1.3 1.7"/>
<path d="M537.9 700.3 L542.4 702.0 L546.9 703.6 L551.5 705.2 L556.0 706.8 L560.5 708.4 L565.0 709.9 L569.5 711.5 L574.1 713.0 L578.6 714.4 L583.1 715.9 L587.6 717.3 L592.1 718.8 L596.7 720.2 L601.2 721.6 L605.7 722.9 L610.2 724.3 L614.7 725.6 L619.3 726.9 L623.8 728.2 L628.3 729.5 L632.8 730.8 L637.3 732.0 L641.9 733.2 L646.4 734.4 L650.9 735.6 L655.4 736.8 L659.9 738.0 L664.5 739.2 L669.0 740.3 L673.5 741.4 L678.0 742.5 L682.5 743.6 L687.1 744.7 L691.6 745.8 L696.1 746.9 L700.6 747.9 L705.1 748.9 L709.7 750.0 L714.2 751.0 L718.7 752.0 L723.2 752.9 L727.7 753.9 L732.3 754.9 L736.8 755.8 L741.3 756.8 L745.8 757.7 L750.3 758.6 L754.9 759.5 L759.4 760.4 L763.9 761.3 L768.4 762.2 L772.9 763.0 L777.5 763.9 L782.0 764.7 L786.5 765.6 L791.0 766.4 L795.5 767.2 L800.1 768.0 L804.6 768.8 L809.1 769.6 L813.6 770.4 L818.1 771.1 L822.7 771.9 L827.2 772.6 L831.7 773.4 L836.2 774.1 L840.7 774.8 L845.3 775.6 L849.8 776.3 L854.3 777.0 L858.8 777.7 L863.3 778.4 L867.9 779.1 L872.4 779.7 L876.9 780.4 L881.4 781.1 L885.9 781.7 L890.5 782.4 L895.0 783.0 L899.5 783.6" fill="none" stroke="#222" stroke-width="1.3" stroke-dasharray="1.3 1.7"/>
<path d="M556.0 706.8 L560.5 708.4 L565.0 709.9 L569.5 711.5 L574.1 713.0 L578.6 714.4 L583.1 715.9 L587.6 717.3 L592.1 718.8 L596.7 720.2 L601.2 721.6 L605.7 722.9 L610.2 724.3 L614.7 725.6 L619.3 726.9 L623.8 728.2 L628.3 729.5 L632.8 730.8 L637.3 732.0 L641.9 733.2 L646.4 734.4 L650.0 735.4 L652.0 735.9 L654.0 736.5 L656.0 737.0 L658.0 737.5 L660.0 738.0 L662.0 738.5 L664.0 739.0 L666.0 739.5 L668.0 740.1 L670.0 740.6 L672.0 741.1 L674.0 741.6 L676.0 742.1 L678.0 742.6 L680.0 743.2 L682.0 743.7 L684.0 744.3 L686.0 744.9 L688.0 745.4 L690.0 746.1 L692.0 746.8 L694.0 747.6 L696.0 748.4 L698.0 749.2 L700.0 750.1 L702.0 751.0 L704.0 752.0 L706.0 753.0 L708.0 754.1 L710.0 755.4 L712.0 756.7 L714.0 758.1 L716.0 759.7 L718.0 761.4 L720.0 763.4 L722.0 765.7 L724.0 768.1 L726.0 770.6 L728.0 773.2 L730.0 775.8 L732.0 778.7 L734.0 781.8 L736.0 785.0 L738.0 788.1 L740.0 791.4 L742.0 794.8 L744.0 798.2 L746.0 801.5 L748.0 804.7 L750.0 807.9 L752.0 811.0 L754.0 814.0 L756.0 816.8 L758.0 819.5 L760.0 822.2 L762.0 824.7 L764.0 827.0 L766.0 828.7 L768.0 830.1 L770.0 831.3 L772.0 832.5 L774.0 833.5 L776.0 834.4 L778.0 835.0 L780.0 835.4 L782.0 835.7 L784.0 836.0 L786.0 836.3 L788.0 836.6 L790.0 836.9 L792.0 837.1 L794.0 837.3 L796.0 837.6 L798.0 837.8 L800.0 838.0 L802.0 838.3 L804.0 838.5 L806.0 838.7 L808.0 838.9 L810.0 839.1 L812.0 839.3 L814.0 839.5 L816.0 839.6 L818.0 839.8 L820.0 840.0 L822.0 840.1 L824.0 840.3 L826.0 840.4 L828.0 840.6 L830.0 840.7 L832.0 840.8 L834.0 841.0 L836.0 841.1 L838.0 841.2 L840.0 841.4 L842.0 841.5 L844.0 841.6 L846.0 841.7 L848.0 841.9 L850.0 842.0 L852.0 842.1 L854.0 842.3 L856.0 842.4 L858.0 842.5 L860.0 842.6 L862.0 842.7 L864.0 842.9 L866.0 843.0 L868.0 843.1 L870.0 843.2 L872.0 843.3 L874.0 843.4 L876.0 843.5 L878.0 843.6 L880.0 843.7 L882.0 843.8 L884.0 843.9 L886.0 844.0 L888.0 844.1 L890.0 844.2 L892.0 844.3 L894.0 844.4 L896.0 844.5 L898.0 844.5 L899.5 844.6" fill="none" stroke="#1c1c60" stroke-width="2" stroke-dasharray="5 3.2"/>
<path d="M556.0 706.8 L560.5 708.4 L565.0 709.9 L569.5 711.5 L574.1 713.0 L578.6 714.4 L583.1 715.9 L587.6 717.3 L592.1 718.8 L596.7 720.2 L601.2 721.6 L605.7 722.9 L610.2 724.3 L614.7 725.6 L619.3 726.9 L623.8 728.2 L628.3 729.5 L632.8 730.8 L637.3 732.0 L641.9 733.2 L646.4 734.4 L650.0 735.4 L652.0 735.9 L654.0 736.5 L656.0 737.0 L658.0 737.5 L660.0 738.0 L662.0 738.5 L664.0 739.0 L666.0 739.5 L668.0 740.1 L670.0 740.6 L672.0 741.1 L674.0 741.6 L676.0 742.0 L678.0 742.5 L680.0 743.0 L682.0 743.5 L684.0 744.0 L686.0 744.5 L688.0 745.0 L690.0 745.5 L692.0 746.0 L694.0 746.5 L696.0 747.0 L698.0 747.6 L700.0 748.3 L702.0 749.1 L704.0 750.0 L706.0 750.8 L708.0 751.8 L710.0 752.7 L712.0 753.6 L714.0 754.5 L716.0 755.5 L718.0 756.6 L720.0 757.7 L722.0 758.9 L724.0 760.2 L726.0 761.6 L728.0 763.2 L730.0 765.1 L732.0 767.2 L734.0 769.3 L736.0 771.6 L738.0 773.8 L740.0 776.2 L742.0 778.7 L744.0 781.3 L746.0 784.0 L748.0 786.7 L750.0 789.4 L752.0 792.2 L754.0 795.1 L756.0 798.0 L758.0 800.9 L760.0 803.7 L762.0 806.5 L764.0 809.3 L766.0 812.0 L768.0 814.6 L770.0 816.9 L772.0 819.2 L774.0 821.4 L776.0 823.3 L778.0 825.1 L780.0 826.5 L782.0 827.9 L784.0 829.2 L786.0 830.3 L788.0 831.3 L790.0 832.1 L792.0 832.7 L794.0 833.4 L796.0 834.0 L798.0 834.5 L800.0 834.9 L802.0 835.2 L804.0 835.6 L806.0 835.9 L808.0 836.3 L810.0 836.6 L812.0 837.0 L814.0 837.3 L816.0 837.7 L818.0 838.0 L820.0 838.3 L822.0 838.7 L824.0 839.0 L826.0 839.3 L828.0 839.7 L830.0 840.0 L832.0 840.3 L834.0 840.6 L836.0 840.8 L838.0 841.0 L840.0 841.2 L842.0 841.4 L844.0 841.5 L846.0 841.7 L848.0 841.8 L850.0 841.9 L852.0 842.0 L854.0 842.1 L856.0 842.2 L858.0 842.4 L860.0 842.5 L862.0 842.6 L864.0 842.8 L866.0 842.9 L868.0 843.0 L870.0 843.1 L872.0 843.3 L874.0 843.4 L876.0 843.5 L878.0 843.6 L880.0 843.7 L882.0 843.8 L884.0 843.9 L886.0 844.0 L888.0 844.1 L890.0 844.2 L892.0 844.2 L894.0 844.3 L896.0 844.4 L898.0 844.5 L899.5 844.5" fill="none" stroke="#9a3030" stroke-width="2" stroke-dasharray="5 3.2"/>
<path d="M556.0 706.8 L560.5 708.4 L565.0 709.9 L569.5 711.5 L574.1 713.0 L578.6 714.4 L583.1 715.9 L587.6 717.3 L592.1 718.8 L596.7 720.2 L601.2 721.6 L605.7 722.9 L610.2 724.3 L614.7 725.6 L619.3 726.9 L623.8 728.2 L628.3 729.5 L632.8 730.8 L637.3 732.0 L641.9 733.2 L646.4 734.4 L650.0 735.4 L652.0 735.9 L654.0 736.5 L656.0 737.0 L658.0 737.5 L660.0 738.1 L662.0 738.7 L664.0 739.4 L666.0 740.1 L668.0 740.8 L670.0 741.5 L672.0 742.3 L674.0 743.2 L676.0 744.3 L678.0 745.5 L680.0 746.9 L682.0 748.3 L684.0 749.8 L686.0 751.4 L688.0 753.2 L690.0 755.2 L692.0 757.4 L694.0 759.6 L696.0 761.9 L698.0 764.5 L700.0 767.3 L702.0 770.3 L704.0 773.3 L706.0 776.4 L708.0 779.5 L710.0 782.8 L712.0 786.1 L714.0 789.6 L716.0 793.0 L718.0 796.7 L720.0 800.4 L722.0 804.1 L724.0 807.4 L726.0 810.4 L728.0 813.3 L730.0 816.0 L732.0 818.4 L734.0 820.7 L736.0 822.9 L738.0 824.9 L740.0 826.6 L742.0 828.0 L744.0 829.2 L746.0 830.4 L748.0 831.5 L750.0 832.4 L752.0 833.2 L754.0 833.7 L756.0 834.1 L758.0 834.5 L760.0 834.9 L762.0 835.3 L764.0 835.7 L766.0 836.1 L768.0 836.5 L770.0 836.9 L772.0 837.2 L774.0 837.5 L776.0 837.7 L778.0 837.9 L780.0 838.0 L782.0 838.1 L784.0 838.2 L786.0 838.2 L788.0 838.3 L790.0 838.3 L792.0 838.3 L794.0 838.4 L796.0 838.4 L798.0 838.5 L800.0 838.7 L802.0 838.8 L804.0 838.9 L806.0 839.1 L808.0 839.2 L810.0 839.4 L812.0 839.5 L814.0 839.7 L816.0 839.8 L818.0 840.0 L820.0 840.1 L822.0 840.3 L824.0 840.5 L826.0 840.6 L828.0 840.8 L830.0 840.9 L832.0 841.1 L834.0 841.2 L836.0 841.4 L838.0 841.5 L840.0 841.6 L842.0 841.8 L844.0 841.9 L846.0 842.0 L848.0 842.2 L850.0 842.3 L852.0 842.4 L854.0 842.5 L856.0 842.7 L858.0 842.8 L860.0 842.9 L862.0 843.0 L864.0 843.1 L866.0 843.2 L868.0 843.3 L870.0 843.4 L872.0 843.5 L874.0 843.6 L876.0 843.7 L878.0 843.8 L880.0 843.9 L882.0 844.0 L884.0 844.1 L886.0 844.2 L888.0 844.3 L890.0 844.4 L892.0 844.5 L894.0 844.6 L896.0 844.7 L898.0 844.7 L899.5 844.8" fill="none" stroke="#14148c" stroke-width="1.9"/>
<path d="M556.0 706.8 L560.5 708.4 L565.0 709.9 L569.5 711.5 L574.1 713.0 L578.6 714.4 L583.1 715.9 L587.6 717.3 L592.1 718.8 L596.7 720.2 L601.2 721.6 L605.7 722.9 L610.2 724.3 L614.7 725.6 L619.3 726.9 L623.8 728.2 L628.3 729.5 L632.8 730.8 L637.3 732.0 L641.9 733.2 L646.4 734.4 L650.0 735.4 L652.0 735.9 L654.0 736.5 L656.0 737.0 L658.0 737.5 L660.0 738.0 L662.0 738.6 L664.0 739.1 L666.0 739.7 L668.0 740.3 L670.0 740.9 L672.0 741.4 L674.0 742.1 L676.0 742.9 L678.0 743.7 L680.0 744.6 L682.0 745.6 L684.0 746.6 L686.0 747.7 L688.0 748.8 L690.0 750.0 L692.0 751.3 L694.0 752.8 L696.0 754.4 L698.0 756.1 L700.0 757.9 L702.0 759.8 L704.0 762.0 L706.0 764.3 L708.0 766.7 L710.0 769.2 L712.0 771.8 L714.0 774.5 L716.0 777.3 L718.0 780.3 L720.0 783.2 L722.0 786.2 L724.0 789.2 L726.0 792.2 L728.0 795.3 L730.0 798.3 L732.0 801.2 L734.0 804.0 L736.0 806.8 L738.0 809.4 L740.0 811.9 L742.0 814.2 L744.0 816.5 L746.0 818.6 L748.0 820.5 L750.0 822.2 L752.0 823.7 L754.0 825.2 L756.0 826.6 L758.0 827.9 L760.0 829.1 L762.0 830.0 L764.0 830.8 L766.0 831.5 L768.0 832.2 L770.0 832.9 L772.0 833.5 L774.0 834.1 L776.0 834.6 L778.0 835.0 L780.0 835.4 L782.0 835.7 L784.0 836.0 L786.0 836.2 L788.0 836.5 L790.0 836.6 L792.0 836.8 L794.0 837.0 L796.0 837.2 L798.0 837.4 L800.0 837.6 L802.0 837.8 L804.0 838.0 L806.0 838.2 L808.0 838.3 L810.0 838.5 L812.0 838.7 L814.0 838.9 L816.0 839.1 L818.0 839.3 L820.0 839.5 L822.0 839.6 L824.0 839.8 L826.0 840.0 L828.0 840.1 L830.0 840.3 L832.0 840.5 L834.0 840.6 L836.0 840.8 L838.0 840.9 L840.0 841.1 L842.0 841.2 L844.0 841.4 L846.0 841.5 L848.0 841.7 L850.0 841.8 L852.0 841.9 L854.0 842.1 L856.0 842.2 L858.0 842.3 L860.0 842.5 L862.0 842.6 L864.0 842.7 L866.0 842.8 L868.0 843.0 L870.0 843.1 L872.0 843.2 L874.0 843.3 L876.0 843.4 L878.0 843.5 L880.0 843.6 L882.0 843.7 L884.0 843.8 L886.0 843.9 L888.0 844.0 L890.0 844.1 L892.0 844.2 L894.0 844.3 L896.0 844.4 L898.0 844.4 L899.5 844.5" fill="none" stroke="#b8281e" stroke-width="1.9"/>
</g>
<text x="106.9" y="902.3" textLength="14.6" lengthAdjust="spacingAndGlyphs" style="font-family:'Liberation Serif',serif;font-size:26.6px;" fill="#000">0</text>
<text x="181.5" y="902.3" textLength="44.9" lengthAdjust="spacingAndGlyphs" style="font-family:'Liberation Serif',serif;font-size:26.6px;" fill="#000">500</text>
<text x="265.5" y="902.3" textLength="60.3" lengthAdjust="spacingAndGlyphs" style="font-family:'Liberation Serif',serif;font-size:26.6px;" fill="#000">1000</text>
<text x="355.5" y="902.3" textLength="60.2" lengthAdjust="spacingAndGlyphs" style="font-family:'Liberation Serif',serif;font-size:26.6px;" fill="#000">1500</text>
<text x="444.5" y="902.3" textLength="61.0" lengthAdjust="spacingAndGlyphs" style="font-family:'Liberation Serif',serif;font-size:26.6px;" fill="#000">2000</text>
<text x="203.5" y="932.5" textLength="109.1" lengthAdjust="spacingAndGlyphs" style="font-family:'Liberation Serif',serif;font-size:26px;letter-spacing:1.78px;" fill="#000">altitude</text>
<text x="328.5" y="932.5" textLength="57.0" lengthAdjust="spacingAndGlyphs" style="font-family:'Liberation Serif',serif;font-size:26px;" fill="#000">(km)</text>
<text x="530.3" y="902.3" textLength="14.6" lengthAdjust="spacingAndGlyphs" style="font-family:'Liberation Serif',serif;font-size:26.6px;" fill="#000">0</text>
<text x="604.9" y="902.3" textLength="44.9" lengthAdjust="spacingAndGlyphs" style="font-family:'Liberation Serif',serif;font-size:26.6px;" fill="#000">500</text>
<text x="688.9" y="902.3" textLength="60.3" lengthAdjust="spacingAndGlyphs" style="font-family:'Liberation Serif',serif;font-size:26.6px;" fill="#000">1000</text>
<text x="778.9" y="902.3" textLength="60.2" lengthAdjust="spacingAndGlyphs" style="font-family:'Liberation Serif',serif;font-size:26.6px;" fill="#000">1500</text>
<text x="867.9" y="902.3" textLength="61.0" lengthAdjust="spacingAndGlyphs" style="font-family:'Liberation Serif',serif;font-size:26.6px;" fill="#000">2000</text>
<text x="626.9" y="932.5" textLength="109.1" lengthAdjust="spacingAndGlyphs" style="font-family:'Liberation Serif',serif;font-size:26px;letter-spacing:1.78px;" fill="#000">altitude</text>
<text x="751.9" y="932.5" textLength="57.0" lengthAdjust="spacingAndGlyphs" style="font-family:'Liberation Serif',serif;font-size:26px;" fill="#000">(km)</text>
<text x="59.2" y="521.8" textLength="45.0" lengthAdjust="spacingAndGlyphs" style="font-family:'Liberation Serif',serif;font-size:26.6px;" fill="#000">800</text>
<text x="59.2" y="605.3" textLength="45.0" lengthAdjust="spacingAndGlyphs" style="font-family:'Liberation Serif',serif;font-size:26.6px;" fill="#000">600</text>
<text x="59.2" y="695.8" textLength="45.0" lengthAdjust="spacingAndGlyphs" style="font-family:'Liberation Serif',serif;font-size:26.6px;" fill="#000">400</text>
<text x="59.2" y="785.8" textLength="45.0" lengthAdjust="spacingAndGlyphs" style="font-family:'Liberation Serif',serif;font-size:26.6px;" fill="#000">200</text>
<text x="91.5" y="866.3" textLength="12.7" lengthAdjust="spacingAndGlyphs" style="font-family:'Liberation Serif',serif;font-size:26.6px;" fill="#000">0</text>
<text transform="translate(36.8 776) rotate(-90)" textLength="125.5" lengthAdjust="spacingAndGlyphs" style="font-family:'Liberation Serif',serif;font-size:26px;letter-spacing:0.42px;" fill="#000">frequency</text>
<text transform="translate(36.8 637) rotate(-90)" textLength="52.0" lengthAdjust="spacingAndGlyphs" style="font-family:'Liberation Serif',serif;font-size:26px;" fill="#000">(Hz)</text>
<text x="150.4" y="578" textLength="101.0" lengthAdjust="spacingAndGlyphs" style="font-family:'Liberation Serif',serif;font-size:24.5px;stroke:#000;stroke-width:0.55px;" fill="#000">Non−SAA</text>
<text x="150.4" y="711" textLength="39.5" lengthAdjust="spacingAndGlyphs" style="font-family:'Liberation Serif',serif;font-size:23.5px;stroke:#000;stroke-width:0.55px;" fill="#000">SAA</text>
<text x="242.8" y="722" style="font-family:'Liberation Serif',serif;font-size:23.5px;font-style:italic" fill="#14148c" stroke="#14148c" stroke-width="0.7">f</text>
<text x="254.5" y="727" textLength="43.0" lengthAdjust="spacingAndGlyphs" style="font-family:'Liberation Sans',sans-serif;font-size:12.5px;font-weight:bold;letter-spacing:0.34px;" fill="#14148c">cutoff</text>
<text x="220.4" y="794" style="font-family:'Liberation Serif',serif;font-size:23.5px;font-style:italic" fill="#4fd04f" stroke="#4fd04f" stroke-width="0.7">f</text>
<text x="231.8" y="799" textLength="28.5" lengthAdjust="spacingAndGlyphs" style="font-family:'Liberation Sans',sans-serif;font-size:12.5px;font-weight:bold;letter-spacing:0.40px;" fill="#4fd04f">cHe</text>
<text x="260" y="795.5" style="font-family:'Liberation Sans',sans-serif;font-size:7px;font-weight:bold;" fill="#4fd04f">+</text>
<text x="326.4" y="740" style="font-family:'Liberation Serif',serif;font-size:23.5px;font-style:italic" fill="#b8281e" stroke="#b8281e" stroke-width="0.7">f</text>
<text x="337.5" y="745" textLength="16.1" lengthAdjust="spacingAndGlyphs" style="font-family:'Liberation Sans',sans-serif;font-size:12.5px;font-weight:bold;letter-spacing:0.69px;" fill="#b8281e">cr</text>
<text x="348.7" y="686" style="font-family:'Liberation Serif',serif;font-size:23.5px;font-style:italic" fill="#111" stroke="#111" stroke-width="0.7">f</text>
<text x="360.1" y="690.9" textLength="17.4" lengthAdjust="spacingAndGlyphs" style="font-family:'Liberation Sans',sans-serif;font-size:12.5px;font-weight:bold;" fill="#111">cH</text>
<text x="377.2" y="684.5" style="font-family:'Liberation Sans',sans-serif;font-size:7px;font-weight:bold;" fill="#111">+</text>
<text x="560.6" y="642.2" textLength="71.0" lengthAdjust="spacingAndGlyphs" style="font-family:'Liberation Serif',serif;font-size:40.5px;" fill="#000">SAA</text>
<rect x="646.4" y="594.8" width="108.4" height="66.5" fill="none" stroke="#000" stroke-width="1.7"/>
<rect x="773" y="594.8" width="108" height="66.5" fill="none" stroke="#000" stroke-width="1.7" stroke-dasharray="4 3.3"/>
<text x="653.9" y="627.3" textLength="71.1" lengthAdjust="spacingAndGlyphs" style="font-family:'Liberation Serif',serif;font-size:21.5px;stroke:#000;stroke-width:0.5px;letter-spacing:0.56px;" fill="#000">Boreal</text>
<text x="653.9" y="648" textLength="97.2" lengthAdjust="spacingAndGlyphs" style="font-family:'Liberation Serif',serif;font-size:21.5px;stroke:#000;stroke-width:0.5px;letter-spacing:1.56px;" fill="#000">Summer</text>
<text x="789.7" y="627.3" textLength="71.8" lengthAdjust="spacingAndGlyphs" style="font-family:'Liberation Serif',serif;font-size:21.5px;stroke:#000;stroke-width:0.5px;letter-spacing:0.65px;" fill="#000">Boreal</text>
<text x="790.7" y="648" textLength="69.7" lengthAdjust="spacingAndGlyphs" style="font-family:'Liberation Serif',serif;font-size:21.5px;stroke:#000;stroke-width:0.5px;letter-spacing:0.18px;" fill="#000">Winter</text>
</svg>
</body></html>
